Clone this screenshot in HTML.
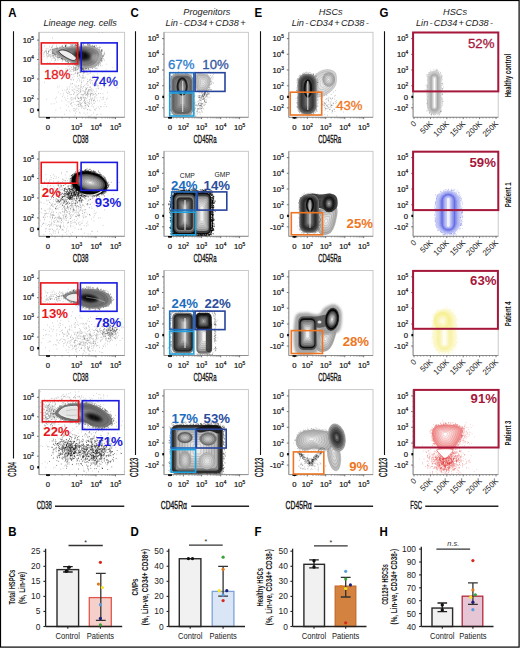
<!DOCTYPE html>
<html><head><meta charset="utf-8"><style>
html,body{margin:0;padding:0;background:#fff;overflow:hidden;}
svg{display:block;font-family:"Liberation Sans", sans-serif;}
</style></head><body>
<svg width="520" height="648" viewBox="0 0 520 648">
<defs><filter id="fb3" x="-20%" y="-20%" width="140%" height="140%"><feGaussianBlur stdDeviation="0.3"/></filter><filter id="fb5" x="-20%" y="-20%" width="140%" height="140%"><feGaussianBlur stdDeviation="0.5"/></filter><filter id="fb8" x="-20%" y="-20%" width="140%" height="140%"><feGaussianBlur stdDeviation="0.8"/></filter><filter id="fb12" x="-20%" y="-20%" width="140%" height="140%"><feGaussianBlur stdDeviation="1.2"/></filter><filter id="fb20" x="-20%" y="-20%" width="140%" height="140%"><feGaussianBlur stdDeviation="2.0"/></filter><filter id="fb30" x="-20%" y="-20%" width="140%" height="140%"><feGaussianBlur stdDeviation="3.0"/></filter><clipPath id="cA0"><rect x="39.0" y="32.3" width="85.6" height="85.0"/></clipPath><clipPath id="cA1"><rect x="39.0" y="151.3" width="85.6" height="85.0"/></clipPath><clipPath id="cA2"><rect x="39.0" y="270.5" width="85.6" height="85.0"/></clipPath><clipPath id="cA3"><rect x="39.0" y="389.6" width="85.6" height="85.0"/></clipPath><clipPath id="cC0"><rect x="164.0" y="32.3" width="84.4" height="85.0"/></clipPath><clipPath id="cC1"><rect x="164.0" y="151.3" width="84.4" height="85.0"/></clipPath><clipPath id="cC2"><rect x="164.0" y="270.5" width="84.4" height="85.0"/></clipPath><clipPath id="cC3"><rect x="164.0" y="389.6" width="84.4" height="85.0"/></clipPath><clipPath id="cE0"><rect x="288.8" y="32.3" width="84.19999999999999" height="85.0"/></clipPath><clipPath id="cE1"><rect x="288.8" y="151.3" width="84.19999999999999" height="85.0"/></clipPath><clipPath id="cE2"><rect x="288.8" y="270.5" width="84.19999999999999" height="85.0"/></clipPath><clipPath id="cE3"><rect x="288.8" y="389.6" width="84.19999999999999" height="85.0"/></clipPath><clipPath id="cG0"><rect x="413.1" y="32.3" width="85.09999999999997" height="85.0"/></clipPath><clipPath id="cG1"><rect x="413.1" y="151.3" width="85.09999999999997" height="85.0"/></clipPath><clipPath id="cG2"><rect x="413.1" y="270.5" width="85.09999999999997" height="85.0"/></clipPath><clipPath id="cG3"><rect x="413.1" y="389.6" width="85.09999999999997" height="85.0"/></clipPath></defs>
<rect x="0.5" y="0.5" width="518.6" height="646.6" fill="none" stroke="#000" stroke-width="1.2"/>
<g transform="translate(8.20,16.60) scale(0.94,1)"><text x="0" y="0" font-size="12.2" text-anchor="start" font-weight="bold" font-style="normal" fill="#000" >A</text></g>
<g transform="translate(130.40,16.60) scale(0.94,1)"><text x="0" y="0" font-size="12.2" text-anchor="start" font-weight="bold" font-style="normal" fill="#000" >C</text></g>
<g transform="translate(254.60,16.60) scale(0.94,1)"><text x="0" y="0" font-size="12.2" text-anchor="start" font-weight="bold" font-style="normal" fill="#000" >E</text></g>
<g transform="translate(379.60,16.60) scale(0.94,1)"><text x="0" y="0" font-size="12.2" text-anchor="start" font-weight="bold" font-style="normal" fill="#000" >G</text></g>
<g transform="translate(8.20,536.40) scale(0.94,1)"><text x="0" y="0" font-size="12.2" text-anchor="start" font-weight="bold" font-style="normal" fill="#000" >B</text></g>
<g transform="translate(130.40,536.40) scale(0.94,1)"><text x="0" y="0" font-size="12.2" text-anchor="start" font-weight="bold" font-style="normal" fill="#000" >D</text></g>
<g transform="translate(254.60,536.40) scale(0.94,1)"><text x="0" y="0" font-size="12.2" text-anchor="start" font-weight="bold" font-style="normal" fill="#000" >F</text></g>
<g transform="translate(379.60,536.40) scale(0.94,1)"><text x="0" y="0" font-size="12.2" text-anchor="start" font-weight="bold" font-style="normal" fill="#000" >H</text></g>
<g transform="translate(80.20,26.30)"><text x="0" y="0" font-size="9.1" text-anchor="middle" font-weight="normal" font-style="italic" fill="#222" >Lineage neg. cells</text></g>
<g transform="translate(206.80,14.80)"><text x="0" y="0" font-size="9.2" text-anchor="middle" font-weight="normal" font-style="italic" fill="#222" >Progenitors</text></g>
<g transform="translate(205.60,25.90)"><text x="0" y="0" font-size="9.2" text-anchor="middle" font-weight="normal" font-style="italic" fill="#222" >Lin<tspan dx="1.4">-</tspan><tspan dx="1.4">CD34</tspan><tspan dx="1.4">+</tspan><tspan dx="1.4">CD38</tspan><tspan dx="1.4">+</tspan></text></g>
<g transform="translate(330.70,14.80)"><text x="0" y="0" font-size="9.2" text-anchor="middle" font-weight="normal" font-style="italic" fill="#222" >HSCs</text></g>
<g transform="translate(330.20,25.90)"><text x="0" y="0" font-size="9.2" text-anchor="middle" font-weight="normal" font-style="italic" fill="#222" >Lin<tspan dx="1.25">-</tspan><tspan dx="1.25">CD34</tspan><tspan dx="1.25">+</tspan><tspan dx="1.25">CD38</tspan><tspan dx="1.25">-</tspan></text></g>
<g transform="translate(455.00,14.80)"><text x="0" y="0" font-size="9.2" text-anchor="middle" font-weight="normal" font-style="italic" fill="#222" >HSCs</text></g>
<g transform="translate(454.50,25.90)"><text x="0" y="0" font-size="9.2" text-anchor="middle" font-weight="normal" font-style="italic" fill="#222" >Lin<tspan dx="1.25">-</tspan><tspan dx="1.25">CD34</tspan><tspan dx="1.25">+</tspan><tspan dx="1.25">CD38</tspan><tspan dx="1.25">-</tspan></text></g>
<rect x="39.00" y="32.30" width="85.60" height="85.00" fill="#fff" stroke="#c4c4c4" stroke-width="0.9"/>
<g clip-path="url(#cA0)">
<path d="M58.5 92.1h.6M90.1 83.6h.6M61.5 78.3h.6M88.8 93.9h.6M84.9 97.9h.6M84.7 105.3h.6M83.2 97.6h.6M67.6 77.6h.6M75.2 86.9h.6M71.9 90.5h.6M80.4 68.1h.6M89.1 101.5h.6M95.5 120.3h.6M75.4 113.2h.6M84.4 91.3h.6M87.5 113.0h.6M73.7 89.0h.6M69.2 86.8h.6M81.7 91.0h.6M81.1 82.7h.6M97.1 100.2h.6M75.8 85.7h.6M100.3 97.7h.6M98.1 88.4h.6M79.8 113.2h.6M77.4 97.3h.6M87.3 102.3h.6M88.8 103.1h.6M76.4 105.4h.6M96.6 85.3h.6M82.7 94.4h.6M78.1 98.6h.6M78.5 106.5h.6M85.9 89.1h.6M100.7 114.1h.6M84.8 92.5h.6M106.4 106.5h.6M91.2 100.4h.6M90.6 93.4h.6M90.2 98.9h.6M77.0 75.6h.6M65.9 90.7h.6M80.0 106.2h.6M81.9 102.6h.6M92.5 84.1h.6M84.6 103.1h.6M90.1 110.3h.6M86.5 68.9h.6M71.9 87.2h.6M90.5 86.9h.6M87.3 83.2h.6M87.7 96.1h.6M98.1 85.6h.6M81.4 105.4h.6M85.2 103.6h.6M81.0 94.6h.6M84.3 93.8h.6M94.4 109.8h.6M83.8 113.0h.6M84.8 92.1h.6M83.8 100.7h.6M77.7 101.6h.6M106.3 99.1h.6M87.5 93.1h.6M70.3 98.1h.6M95.8 95.5h.6M97.9 107.0h.6M80.1 90.1h.6M77.8 98.3h.6M89.0 109.7h.6M82.0 106.0h.6M91.8 80.5h.6M73.6 98.8h.6M89.8 82.5h.6M79.5 100.6h.6M64.2 114.3h.6M77.1 94.6h.6M80.0 104.6h.6M87.3 93.0h.6M87.7 91.5h.6M69.1 92.3h.6M100.6 106.7h.6M77.2 101.3h.6M89.1 99.7h.6M84.2 99.1h.6M79.0 79.9h.6M91.1 90.4h.6M91.0 100.0h.6M78.5 105.0h.6M89.9 95.8h.6M92.5 76.4h.6M94.0 100.0h.6M97.1 114.4h.6M68.8 92.9h.6M80.5 105.3h.6M86.1 89.0h.6M78.2 86.1h.6M80.2 97.3h.6M90.5 97.7h.6M93.2 106.9h.6M82.8 98.3h.6M87.1 97.1h.6M89.2 116.5h.6M91.0 99.0h.6M85.8 103.3h.6M91.7 93.6h.6M55.6 110.1h.6M93.8 77.5h.6M87.3 93.1h.6M80.8 84.4h.6M74.0 85.1h.6M81.7 107.2h.6M75.9 101.4h.6M89.2 89.6h.6M88.6 90.7h.6M73.0 91.1h.6M86.5 94.5h.6M82.1 94.9h.6M84.0 100.4h.6M80.9 100.1h.6M73.7 97.8h.6M107.3 81.3h.6M80.9 98.2h.6M89.6 79.8h.6M85.9 88.6h.6M88.3 106.2h.6M89.8 96.3h.6M67.5 124.6h.6M67.7 93.5h.6M75.3 98.3h.6M92.4 91.2h.6M87.9 116.1h.6M90.8 91.6h.6M93.4 84.8h.6M90.3 94.9h.6M86.7 93.7h.6M81.5 108.2h.6M104.7 102.6h.6M76.5 92.2h.6M96.3 82.0h.6M92.6 95.6h.6M87.8 94.4h.6M70.7 84.9h.6M95.0 101.6h.6M83.7 106.9h.6M70.1 104.3h.6M85.3 106.0h.6M79.0 74.9h.6M82.9 95.7h.6M80.7 87.4h.6M83.4 94.5h.6M80.1 100.5h.6M92.5 78.1h.6M93.3 90.1h.6M77.9 88.7h.6M87.5 92.9h.6M79.6 88.5h.6M85.0 97.6h.6M87.1 109.5h.6M100.0 85.0h.6M88.0 93.2h.6M93.5 100.9h.6M85.7 89.7h.6M96.4 91.0h.6M73.2 102.3h.6M78.5 98.4h.6M87.5 91.4h.6M80.0 89.3h.6M88.0 85.2h.6M80.3 91.7h.6M79.5 104.0h.6M93.9 98.2h.6M91.0 93.2h.6M85.0 101.5h.6M86.7 100.3h.6M97.8 88.1h.6M80.6 87.2h.6M90.4 117.1h.6M68.4 91.5h.6M84.2 108.9h.6M62.8 95.0h.6M78.8 106.5h.6M71.5 97.4h.6M76.7 88.1h.6M83.5 78.2h.6M94.8 96.8h.6M85.8 94.6h.6M79.7 98.7h.6M74.2 92.9h.6M87.2 79.2h.6M89.0 104.2h.6M86.1 83.7h.6M96.1 114.8h.6M103.7 78.6h.6M94.1 71.3h.6M77.4 94.6h.6M88.2 106.5h.6M91.6 94.0h.6M71.0 103.4h.6M89.7 80.0h.6M102.7 93.7h.6M84.5 120.3h.6M94.0 117.1h.6M84.0 97.8h.6M78.1 101.4h.6M76.6 108.2h.6M93.2 100.2h.6M81.9 78.0h.6M89.4 80.1h.6M85.3 95.3h.6M95.0 93.8h.6M80.2 104.2h.6M81.5 78.0h.6M90.2 79.3h.6M92.0 83.0h.6M99.2 101.0h.6M103.1 97.2h.6M86.4 98.4h.6M86.7 104.7h.6M92.6 93.1h.6M78.2 93.9h.6M78.3 91.5h.6M62.0 90.4h.6M71.8 106.2h.6M102.7 83.8h.6M89.0 87.4h.6M76.7 86.8h.6M86.1 118.2h.6M86.8 105.0h.6M75.7 109.1h.6M85.3 105.5h.6M95.3 110.0h.6M90.9 103.6h.6M93.6 94.5h.6M93.2 113.1h.6M91.0 102.0h.6M84.5 71.6h.6M93.8 103.5h.6M96.2 83.9h.6M71.2 100.1h.6M90.3 94.9h.6M88.9 103.2h.6M94.6 79.7h.6M87.5 87.5h.6M80.0 98.2h.6M81.2 99.0h.6M77.5 76.5h.6M71.9 83.5h.6M81.8 96.2h.6M71.9 77.8h.6M66.3 110.2h.6M90.2 94.4h.6M90.3 89.4h.6M91.7 89.1h.6M86.2 88.1h.6M69.6 111.0h.6M83.2 80.8h.6M81.3 97.8h.6M87.4 85.4h.6M79.5 76.0h.6M90.2 93.2h.6M78.1 85.5h.6M77.1 96.0h.6M88.5 89.9h.6M98.0 93.7h.6M86.5 95.2h.6M67.7 102.0h.6M79.3 112.3h.6M78.1 104.1h.6M77.2 80.2h.6M82.2 88.4h.6M67.4 93.1h.6M106.9 98.2h.6M85.3 65.7h.6M80.3 85.9h.6M84.2 78.0h.6M83.1 101.1h.6M84.6 102.1h.6M87.3 81.5h.6M81.0 103.5h.6M84.1 85.6h.6M85.6 91.6h.6M81.2 86.2h.6M75.5 98.0h.6M77.6 104.7h.6M77.0 90.6h.6M93.7 102.9h.6M95.8 84.9h.6M82.3 75.7h.6M102.5 97.7h.6M71.7 98.0h.6M83.2 91.0h.6M83.5 97.2h.6M77.9 89.8h.6M94.5 91.8h.6M102.2 71.9h.6M94.3 100.0h.6M75.6 96.7h.6M78.5 98.0h.6M78.6 78.5h.6M67.3 89.1h.6M73.2 108.7h.6M73.6 110.3h.6M101.7 99.8h.6M103.0 99.1h.6M79.8 102.5h.6M66.7 89.2h.6M90.4 87.2h.6M79.8 90.2h.6M80.5 92.3h.6M84.5 100.1h.6M80.7 94.3h.6M88.8 91.0h.6M70.4 83.7h.6M87.6 81.9h.6M78.7 101.7h.6M94.7 108.8h.6M87.5 94.6h.6M83.4 86.6h.6M85.1 89.6h.6M67.5 98.6h.6M89.1 99.8h.6M68.4 106.6h.6M83.1 77.8h.6M92.0 98.7h.6M90.1 90.1h.6M103.7 106.7h.6M91.6 106.2h.6M71.6 102.7h.6M84.8 93.2h.6" fill="none" stroke="#111" stroke-opacity="0.5" stroke-width="0.6"/>
<path d="M85.0 87.7h.6M88.7 91.1h.6M77.8 104.8h.6M52.4 45.6h.6M90.5 77.2h.6M84.6 65.9h.6M99.1 108.8h.6M71.1 79.9h.6M94.1 84.2h.6M96.9 73.8h.6M104.7 104.5h.6M73.2 94.4h.6M90.1 63.1h.6M96.5 84.0h.6M88.4 106.0h.6M64.4 74.0h.6M88.5 90.1h.6M74.1 60.7h.6M100.7 106.6h.6M70.0 79.7h.6M81.3 81.9h.6M105.7 70.0h.6M46.0 99.2h.6M88.2 102.8h.6M73.8 111.0h.6M84.7 103.6h.6M75.2 99.2h.6M78.9 102.8h.6M80.0 97.3h.6M55.2 98.7h.6M81.3 67.7h.6M97.0 80.3h.6M67.4 69.1h.6M92.4 104.7h.6M70.0 70.7h.6M71.7 59.6h.6M87.3 95.5h.6M73.2 79.9h.6M92.4 78.1h.6M85.8 68.6h.6M69.5 94.6h.6M61.6 100.8h.6M87.9 81.1h.6M81.5 82.3h.6M66.8 87.1h.6M84.2 102.6h.6M70.5 75.1h.6M82.6 77.1h.6M77.8 61.8h.6M78.8 117.2h.6M104.1 80.4h.6M90.8 115.0h.6M83.0 64.6h.6M82.7 75.1h.6M56.4 97.2h.6M94.1 84.0h.6M104.5 54.4h.6M75.8 111.3h.6M91.1 80.8h.6M89.7 73.5h.6M79.4 81.1h.6M72.9 79.7h.6M64.5 97.3h.6M84.8 99.0h.6M66.0 75.6h.6M104.5 80.5h.6M116.6 87.9h.6M92.8 94.0h.6M102.4 50.8h.6M65.9 105.1h.6M98.6 32.4h.6M93.4 100.4h.6M106.3 64.2h.6M96.5 97.9h.6M48.6 79.5h.6M56.5 102.1h.6M69.5 101.8h.6M95.8 88.4h.6M102.3 32.3h.6M64.6 90.0h.6M76.2 95.3h.6M78.7 51.5h.6M71.8 89.5h.6M109.7 75.8h.6M75.3 125.4h.6M94.6 97.2h.6M107.0 92.7h.6M87.6 105.1h.6M74.7 89.4h.6M80.5 58.0h.6M76.5 90.5h.6M75.3 109.8h.6M62.1 96.6h.6M58.9 59.2h.6M80.2 91.6h.6M57.6 78.6h.6M59.9 108.0h.6M116.8 87.8h.6M82.8 70.4h.6M70.7 99.9h.6M74.0 108.6h.6M54.1 62.1h.6M95.0 48.4h.6M81.2 99.5h.6M95.2 93.4h.6M64.7 52.3h.6M61.2 50.0h.6M50.9 103.9h.6M66.6 73.4h.6M86.7 62.3h.6M74.6 104.6h.6M83.2 108.5h.6M78.3 73.7h.6M104.0 87.1h.6M95.7 48.4h.6M76.8 59.5h.6M58.8 86.3h.6M80.8 80.3h.6M74.6 115.7h.6M67.4 54.8h.6M63.0 93.2h.6M100.5 93.5h.6M99.6 121.8h.6M60.5 93.9h.6M82.6 90.4h.6M97.4 85.2h.6M91.9 98.0h.6M97.4 76.3h.6M72.1 83.8h.6M93.7 94.4h.6M66.0 92.3h.6M73.8 76.6h.6M93.9 67.9h.6M71.5 105.1h.6M98.5 93.3h.6M103.3 78.3h.6M44.0 82.4h.6M103.9 121.9h.6M57.3 73.2h.6M83.6 64.8h.6M57.7 67.3h.6M97.6 86.4h.6M82.8 87.1h.6M75.6 52.0h.6M83.9 93.3h.6M82.3 46.7h.6M76.5 50.4h.6M74.1 92.0h.6M77.4 72.3h.6M81.3 106.5h.6M83.4 75.9h.6M78.6 93.4h.6M85.4 102.8h.6M88.5 89.6h.6M96.3 108.2h.6M76.9 73.6h.6M78.3 109.3h.6M70.3 103.6h.6M97.2 52.4h.6M53.8 103.7h.6M87.2 109.8h.6M85.3 93.6h.6M85.6 114.4h.6M69.1 89.1h.6M73.7 60.7h.6M125.2 113.0h.6M70.8 94.4h.6M68.5 72.9h.6M65.8 100.3h.6M67.1 96.0h.6M83.0 137.5h.6M70.7 94.6h.6M79.0 92.2h.6M85.2 90.9h.6M85.7 84.4h.6M85.7 72.4h.6M85.7 107.3h.6M80.6 103.7h.6M76.2 82.0h.6M67.3 74.2h.6M81.5 97.5h.6M85.5 108.4h.6M115.7 71.8h.6M90.5 81.4h.6M86.6 63.8h.6M88.2 74.2h.6M72.5 99.7h.6M91.3 88.8h.6M112.6 67.6h.6M96.0 94.6h.6M101.4 88.9h.6M92.9 75.1h.6M82.0 77.8h.6M83.7 73.1h.6M57.4 87.1h.6M65.3 99.1h.6M94.8 61.2h.6M84.5 127.4h.6M101.7 65.7h.6M73.5 93.8h.6" fill="none" stroke="#111" stroke-opacity="0.45" stroke-width="0.6"/>
<path d="M79.1 67.7h.6M74.5 73.9h.6M65.3 70.2h.6M86.3 71.8h.6M77.8 68.1h.6M88.1 69.8h.6M70.8 71.4h.6M80.6 72.4h.6M82.9 66.5h.6M78.8 69.8h.6M79.1 66.8h.6M87.0 67.3h.6M82.9 72.2h.6M88.7 67.6h.6M70.7 79.1h.6M73.7 68.3h.6M66.8 72.9h.6M89.2 69.8h.6M73.1 74.7h.6M76.2 66.3h.6M80.0 71.4h.6M69.6 68.4h.6M80.2 64.7h.6M81.2 68.1h.6M67.7 66.0h.6M84.0 72.5h.6M73.6 67.8h.6M94.0 76.0h.6M72.3 69.6h.6M69.9 62.0h.6M89.8 67.8h.6M75.5 68.1h.6M72.9 61.5h.6M82.6 68.7h.6M80.7 67.7h.6M73.1 66.3h.6M76.6 69.7h.6M82.8 73.3h.6M81.7 70.0h.6M79.4 71.0h.6M85.2 64.6h.6M78.2 66.8h.6M87.2 67.5h.6M71.2 67.6h.6M82.2 68.7h.6M84.1 61.5h.6M81.2 61.9h.6M80.4 69.1h.6M78.5 72.5h.6M79.8 72.4h.6M78.5 61.8h.6M80.0 67.3h.6M77.0 69.6h.6M85.1 69.5h.6M87.7 65.9h.6M89.6 61.3h.6M97.8 60.6h.6M69.1 65.2h.6M81.1 68.4h.6M87.8 65.5h.6M79.5 68.0h.6M75.2 69.5h.6M86.0 67.5h.6M87.3 72.7h.6M87.3 66.4h.6M85.1 67.9h.6M69.6 71.6h.6M75.5 66.8h.6M80.9 70.5h.6M74.8 67.6h.6M67.8 70.1h.6M85.6 70.8h.6M77.6 69.1h.6M78.4 65.8h.6M70.1 64.3h.6M74.6 70.4h.6M65.8 68.3h.6M72.9 71.4h.6M76.9 73.8h.6M69.3 69.6h.6M79.3 75.3h.6M73.8 68.1h.6M78.1 68.4h.6M75.3 68.5h.6M75.3 70.3h.6M68.5 66.8h.6M78.7 68.8h.6M65.4 64.5h.6M75.1 69.2h.6M79.2 65.3h.6M75.8 69.8h.6M96.2 68.0h.6M75.2 70.7h.6M83.0 69.7h.6M84.7 71.7h.6M76.6 70.8h.6M78.8 72.3h.6M87.9 68.9h.6M79.8 72.4h.6M75.0 67.9h.6M74.7 70.7h.6M97.1 68.7h.6M83.7 72.5h.6M76.7 67.8h.6M83.0 70.5h.6M82.5 65.6h.6M74.8 64.5h.6M81.2 70.1h.6M83.4 73.1h.6M75.7 69.0h.6M73.4 70.3h.6M84.7 69.5h.6M77.0 74.1h.6M84.3 67.2h.6M82.9 69.1h.6M80.2 77.0h.6M83.7 68.1h.6M70.6 66.7h.6M80.1 70.6h.6M77.3 66.6h.6M83.9 67.3h.6M71.0 74.4h.6M77.6 65.5h.6M76.9 73.0h.6M86.1 70.2h.6M79.9 70.3h.6M81.4 67.9h.6M86.8 74.3h.6M80.0 72.1h.6M73.3 69.1h.6M76.1 67.3h.6M74.2 69.2h.6M83.2 71.0h.6M73.1 69.0h.6M88.0 60.1h.6M84.4 70.1h.6M71.7 74.6h.6M73.6 70.7h.6M77.1 69.6h.6M83.6 68.7h.6M83.7 70.9h.6M85.2 66.2h.6M71.5 69.3h.6M66.1 72.7h.6M88.4 68.3h.6M83.1 68.9h.6M90.1 72.9h.6M81.3 70.8h.6M75.2 73.4h.6M82.2 69.4h.6M80.7 72.0h.6M78.4 67.4h.6M85.5 77.2h.6M77.2 64.0h.6M81.2 68.1h.6M67.5 69.9h.6M87.9 60.3h.6M75.3 72.7h.6M77.2 73.2h.6M82.5 66.0h.6" fill="none" stroke="#111" stroke-opacity="0.5" stroke-width="0.6"/>
<path d="M46.3 53.3h.6M50.1 49.3h.6M51.1 60.1h.6M48.3 53.1h.6M57.6 50.9h.6M50.7 49.6h.6M58.0 53.5h.6M55.9 52.5h.6M52.8 55.3h.6M52.5 53.7h.6M45.7 51.3h.6M53.5 50.9h.6M57.2 59.1h.6M52.9 56.2h.6M53.6 56.6h.6M53.0 49.3h.6M55.4 53.0h.6M46.1 51.9h.6M63.3 58.2h.6M43.5 53.2h.6M51.6 56.2h.6M46.8 55.9h.6M48.1 51.3h.6M54.3 48.3h.6M59.4 57.3h.6M46.9 53.7h.6M50.6 52.6h.6M49.1 49.8h.6M54.9 55.1h.6M55.2 58.9h.6M53.9 49.1h.6M47.4 63.0h.6M61.1 55.2h.6M56.3 48.4h.6M51.8 54.0h.6M56.0 46.6h.6M47.5 53.5h.6M52.3 46.4h.6M52.9 51.2h.6M49.4 51.1h.6M56.2 48.9h.6M50.4 42.8h.6M60.2 49.9h.6M51.9 54.9h.6M60.3 57.0h.6M57.9 53.7h.6M54.6 57.8h.6M55.3 60.3h.6M57.3 50.3h.6M52.2 50.1h.6M49.8 62.2h.6M46.3 54.4h.6M48.0 54.6h.6M60.8 51.0h.6M57.7 60.5h.6M52.8 55.5h.6M49.7 54.8h.6M56.2 53.3h.6M53.0 49.8h.6M51.0 47.7h.6M60.1 50.8h.6M48.1 51.2h.6M53.8 55.2h.6M53.4 43.9h.6M54.1 49.2h.6M45.8 48.4h.6M53.2 54.1h.6M56.0 56.4h.6M53.4 51.0h.6M45.5 51.0h.6M52.8 53.5h.6M52.3 49.4h.6M47.5 56.6h.6M60.2 59.1h.6M57.0 57.9h.6M52.8 52.6h.6M54.2 54.7h.6M44.1 45.9h.6M46.2 52.3h.6M49.1 46.9h.6M46.8 57.9h.6M53.2 57.5h.6M48.4 52.6h.6M55.1 54.5h.6M57.5 57.5h.6M50.1 56.6h.6M43.6 54.5h.6M55.5 59.7h.6M50.0 50.3h.6M54.5 60.4h.6M59.9 49.2h.6M53.8 58.5h.6M58.1 52.8h.6M50.7 55.3h.6M45.6 50.9h.6M52.8 53.2h.6M49.5 55.4h.6M51.9 49.1h.6M52.1 53.0h.6M50.5 57.2h.6M53.1 55.8h.6M54.2 50.9h.6M46.5 55.8h.6M39.9 53.2h.6M51.2 47.1h.6M41.9 50.5h.6M55.4 54.7h.6M52.3 47.9h.6M56.5 51.6h.6M55.8 53.0h.6M56.0 57.1h.6M52.4 38.0h.6M46.0 50.2h.6M43.8 56.2h.6M54.1 58.1h.6M51.9 58.1h.6M53.4 63.4h.6M48.8 63.3h.6M53.8 54.3h.6M49.7 54.5h.6M43.9 52.3h.6M53.1 52.5h.6M56.5 47.9h.6M44.3 51.9h.6M54.2 50.2h.6M56.3 45.2h.6M47.7 48.8h.6M48.6 56.5h.6M53.9 51.7h.6M57.0 52.5h.6M48.0 55.7h.6M48.3 51.4h.6M48.4 51.3h.6M63.7 53.6h.6M54.4 52.6h.6M52.3 51.7h.6M56.6 51.4h.6M57.9 57.6h.6M51.8 53.4h.6M52.0 56.1h.6" fill="none" stroke="#111" stroke-opacity="0.55" stroke-width="0.6"/>
<path d="M101.8 58.2h.6M100.1 47.5h.6M93.4 67.0h.6M78.3 44.8h.6M99.0 48.1h.6M74.8 65.1h.6M55.1 48.8h.6M90.0 67.8h.6M66.0 44.7h.6M101.1 58.7h.6M98.6 47.7h.6M82.8 67.5h.6M52.5 52.0h.6M62.3 46.1h.6M53.6 48.7h.6M98.7 49.2h.6M101.9 57.1h.6M72.5 44.7h.6M65.4 46.9h.6M62.4 59.0h.6M56.2 49.0h.6M74.9 45.5h.6M87.1 42.7h.6M92.1 46.1h.6M57.1 48.1h.6M55.4 54.6h.6M91.7 68.4h.6M58.1 57.1h.6M89.1 45.5h.6M71.4 44.7h.6M66.5 45.8h.6M61.4 47.0h.6M78.5 44.5h.6M100.2 65.7h.6M65.5 45.7h.6M65.2 46.0h.6M102.0 56.3h.6M91.4 67.3h.6M65.8 46.9h.6M98.3 65.0h.6M71.8 44.9h.6M67.3 60.5h.6M54.7 49.9h.6M61.7 58.2h.6M58.1 58.0h.6M71.5 64.0h.6M75.6 44.6h.6M51.9 49.6h.6M76.3 65.6h.6M70.5 46.2h.6M69.8 44.4h.6M57.4 57.1h.6M88.1 43.1h.6M74.8 44.8h.6M59.4 47.2h.6M82.1 66.9h.6M55.7 48.1h.6M75.5 45.9h.6M81.8 69.3h.6M65.4 45.9h.6M87.2 44.8h.6M63.6 59.3h.6M83.1 69.0h.6M70.3 63.3h.6M88.5 43.7h.6M102.8 58.5h.6M67.3 61.0h.6M54.0 52.5h.6M65.0 60.1h.6M59.2 57.1h.6M81.3 44.2h.6M62.4 47.1h.6M59.8 47.3h.6M54.0 53.4h.6M72.0 64.8h.6M55.3 48.5h.6M97.5 64.3h.6M71.0 45.9h.6M101.1 60.7h.6M95.4 66.0h.6M102.2 50.9h.6M102.7 59.2h.6M81.6 44.8h.6M85.2 68.0h.6M93.0 46.2h.6M53.9 53.1h.6M57.6 48.2h.6M86.0 68.4h.6M95.6 68.4h.6M61.6 58.3h.6M68.1 62.3h.6M74.0 45.7h.6M75.1 64.7h.6M77.7 66.5h.6M83.8 69.1h.6M60.9 48.3h.6M70.0 45.0h.6M101.0 58.9h.6M62.8 47.3h.6M101.7 61.8h.6M74.8 44.7h.6M61.5 58.7h.6M103.1 55.9h.6M94.6 67.3h.6M101.4 58.7h.6M89.3 44.5h.6M101.9 55.9h.6M101.3 57.9h.6M95.8 45.6h.6M103.2 56.6h.6M100.6 59.7h.6M94.3 45.8h.6M98.9 62.7h.6M60.6 57.3h.6M61.6 58.5h.6M91.5 66.8h.6M101.2 50.1h.6M61.7 59.6h.6M101.1 50.1h.6M76.0 45.9h.6M97.5 47.5h.6M61.8 61.4h.6M71.6 46.2h.6M100.3 62.9h.6M70.7 61.7h.6M104.1 53.6h.6M74.9 45.4h.6M80.1 68.3h.6M72.6 45.4h.6M97.7 65.7h.6M81.6 44.2h.6M101.2 51.2h.6M78.4 42.7h.6M52.1 52.7h.6M74.3 63.9h.6M52.2 53.0h.6M54.3 52.7h.6M61.2 46.9h.6M60.8 58.5h.6M88.5 45.8h.6M100.5 60.0h.6M68.4 61.7h.6M101.4 50.0h.6M56.2 49.6h.6M84.6 43.6h.6M90.1 45.4h.6M53.2 53.1h.6M54.7 53.3h.6M77.6 44.2h.6M82.5 67.7h.6M57.3 48.3h.6M103.8 53.2h.6M76.6 68.1h.6M55.1 56.4h.6M83.5 69.8h.6M85.2 68.1h.6M101.5 53.6h.6M75.7 65.4h.6M94.6 46.0h.6M92.2 68.2h.6M54.7 50.2h.6M96.0 65.1h.6M74.0 64.2h.6M85.1 68.4h.6M63.2 47.9h.6M96.4 64.9h.6M98.4 63.7h.6M68.2 43.5h.6M62.5 59.6h.6M83.3 68.1h.6M92.3 45.2h.6M54.6 54.2h.6M67.0 62.1h.6M99.9 64.0h.6M101.6 55.9h.6M81.2 44.1h.6M82.4 69.2h.6M65.6 45.6h.6M72.4 45.8h.6M81.6 43.5h.6M101.4 50.8h.6M94.8 66.4h.6M65.0 47.0h.6M79.9 43.8h.6M65.2 47.1h.6M68.2 62.3h.6M73.9 65.1h.6M88.5 69.1h.6M90.7 47.0h.6M64.8 46.5h.6M80.8 68.5h.6M65.2 46.2h.6M100.4 59.8h.6M95.6 68.0h.6M64.9 60.2h.6M101.4 59.9h.6M51.4 51.1h.6M100.5 60.4h.6M94.4 46.5h.6M99.7 62.2h.6M99.4 62.3h.6M54.5 54.8h.6M64.8 45.6h.6M65.3 46.0h.6M64.0 59.2h.6M102.3 57.2h.6M87.7 68.9h.6M71.9 63.4h.6M92.5 47.0h.6M65.1 61.6h.6M61.0 58.1h.6M52.1 51.3h.6M59.4 56.9h.6M98.9 64.0h.6M99.0 49.7h.6M102.3 55.9h.6M96.8 65.9h.6M93.6 67.3h.6M101.9 49.4h.6M76.5 45.9h.6M80.0 68.8h.6M90.2 70.2h.6M92.9 46.7h.6M66.0 59.5h.6M104.1 52.0h.6M72.3 63.8h.6M86.7 68.9h.6M62.7 59.6h.6M82.6 67.5h.6M76.4 45.4h.6M67.8 62.7h.6M69.8 46.7h.6M83.1 44.8h.6M84.0 68.1h.6M52.9 50.4h.6M100.6 61.3h.6M57.7 47.9h.6M88.6 45.0h.6M71.1 62.2h.6M92.2 46.3h.6M62.6 60.5h.6M96.4 64.8h.6M87.8 68.8h.6M91.1 46.4h.6M59.0 56.7h.6M103.7 54.7h.6M61.9 59.1h.6M87.5 43.9h.6M100.9 60.9h.6M104.3 60.2h.6M91.7 46.0h.6M61.3 58.3h.6M65.8 60.2h.6M86.9 44.5h.6M63.3 47.5h.6M65.7 59.7h.6M102.0 60.2h.6M67.0 60.5h.6M89.8 44.7h.6M62.3 46.8h.6M67.4 61.3h.6M59.3 48.7h.6M81.9 68.8h.6M65.2 59.7h.6M66.4 61.6h.6M80.0 67.4h.6M73.1 66.9h.6M73.4 44.3h.6M52.6 50.1h.6M77.8 46.0h.6M101.7 51.8h.6M96.0 46.0h.6M59.8 48.0h.6M98.6 63.9h.6M87.9 44.7h.6M71.8 46.3h.6M92.4 67.9h.6M54.1 53.2h.6M90.3 46.4h.6M101.0 52.0h.6M53.8 53.2h.6M58.7 48.3h.6M82.1 68.9h.6M89.4 45.0h.6M55.3 55.9h.6M94.6 66.0h.6M94.3 46.5h.6M64.2 59.5h.6M57.3 55.9h.6M93.6 46.7h.6M53.3 52.9h.6M82.2 68.8h.6M101.6 61.0h.6M59.9 47.3h.6M62.8 58.5h.6M64.8 44.5h.6M98.4 65.9h.6M97.8 63.9h.6M81.8 68.2h.6M62.5 58.6h.6M57.2 56.1h.6M58.8 57.6h.6M102.8 55.0h.6M66.6 61.7h.6M83.5 45.2h.6M94.3 46.4h.6M62.0 45.7h.6M82.7 45.2h.6M74.8 44.0h.6M85.9 68.3h.6M75.8 45.0h.6M83.3 43.8h.6M99.0 46.9h.6M76.4 45.2h.6M87.7 45.3h.6M74.6 67.7h.6M103.5 55.6h.6M101.2 54.0h.6M64.8 60.7h.6M100.8 50.0h.6" fill="none" stroke="#111" stroke-opacity="0.65" stroke-width="0.6"/>
<g stroke="#000" stroke-opacity="0.3" stroke-width="0.35" filter="url(#fb5)">
<path d="M52.3 51.0C52.3 49.9 54.7 49.7 57.0 49.0C59.3 48.3 62.8 47.5 66.0 47.0C69.2 46.5 72.3 46.2 76.0 46.0C79.7 45.8 84.7 45.5 88.0 45.8C91.3 46.0 93.9 46.6 96.0 47.5C98.1 48.4 99.9 49.9 100.8 51.3C101.7 52.7 101.8 54.2 101.6 56.0C101.4 57.8 100.8 60.2 99.5 62.0C98.2 63.8 96.2 65.5 94.0 66.5C91.8 67.5 88.5 68.0 86.0 68.0C83.5 68.0 81.3 67.3 79.0 66.5C76.7 65.7 74.5 64.2 72.0 63.0C69.5 61.8 66.5 60.2 64.0 59.0C61.5 57.8 59.0 56.8 57.0 55.5C55.0 54.2 52.3 52.1 52.3 51.0Z" fill="#aaaaaa"/>
<path d="M56.2 51.7C56.2 50.8 58.3 50.6 60.3 50.0C62.2 49.4 65.3 48.7 68.0 48.3C70.7 47.8 73.4 47.6 76.6 47.4C79.7 47.2 84.0 47.0 86.9 47.2C89.7 47.5 91.9 47.9 93.7 48.7C95.6 49.5 97.1 50.7 97.9 52.0C98.7 53.2 98.7 54.5 98.5 56.0C98.4 57.5 97.8 59.6 96.7 61.1C95.7 62.7 93.9 64.2 92.0 65.0C90.1 65.9 87.3 66.3 85.2 66.3C83.0 66.3 81.1 65.7 79.1 65.0C77.1 64.3 75.3 63.1 73.1 62.0C71.0 60.9 68.4 59.6 66.3 58.6C64.1 57.5 61.9 56.7 60.3 55.6C58.6 54.4 56.2 52.6 56.2 51.7Z" fill="#888888"/>
<path d="M60.1 52.4C60.1 51.6 61.9 51.5 63.5 51.0C65.2 50.5 67.7 49.9 70.0 49.5C72.2 49.2 74.5 49.0 77.1 48.8C79.8 48.7 83.3 48.5 85.7 48.7C88.1 48.9 89.9 49.3 91.5 49.9C93.0 50.6 94.2 51.6 94.9 52.6C95.6 53.6 95.6 54.7 95.5 56.0C95.3 57.3 94.9 59.0 94.0 60.3C93.1 61.6 91.6 62.8 90.0 63.5C88.4 64.2 86.1 64.6 84.3 64.6C82.5 64.6 81.0 64.1 79.3 63.5C77.6 62.9 76.1 61.9 74.3 61.0C72.5 60.1 70.3 59.0 68.5 58.1C66.7 57.3 64.9 56.6 63.5 55.6C62.1 54.7 60.1 53.2 60.1 52.4Z" fill="#7c7c7c"/>
<path d="M64.1 53.1C64.1 52.5 65.5 52.4 66.8 52.0C68.1 51.6 70.1 51.1 72.0 50.8C73.8 50.5 75.6 50.4 77.7 50.2C79.8 50.1 82.7 50.0 84.6 50.1C86.5 50.3 88.0 50.6 89.2 51.1C90.4 51.6 91.4 52.5 92.0 53.3C92.5 54.1 92.5 55.0 92.4 56.0C92.3 57.0 91.9 58.4 91.2 59.5C90.5 60.5 89.3 61.5 88.0 62.0C86.8 62.6 84.9 62.9 83.5 62.9C82.0 62.9 80.8 62.5 79.4 62.0C78.1 61.6 76.8 60.7 75.4 60.0C74.0 59.3 72.2 58.4 70.8 57.7C69.4 57.0 67.9 56.5 66.8 55.7C65.7 54.9 64.1 53.7 64.1 53.1Z" fill="#858585"/>
<path d="M68.0 53.8C68.0 53.4 69.0 53.3 70.0 53.0C71.0 52.7 72.6 52.3 73.9 52.1C75.3 51.9 76.7 51.8 78.3 51.7C79.9 51.6 82.0 51.5 83.5 51.6C84.9 51.7 86.0 51.9 86.9 52.3C87.9 52.7 88.6 53.3 89.0 54.0C89.4 54.6 89.5 55.2 89.4 56.0C89.3 56.8 89.0 57.8 88.5 58.6C87.9 59.4 87.0 60.1 86.1 60.5C85.1 61.0 83.7 61.2 82.6 61.2C81.5 61.2 80.6 60.9 79.6 60.5C78.6 60.2 77.6 59.6 76.5 59.0C75.5 58.5 74.1 57.8 73.1 57.3C72.0 56.8 70.9 56.4 70.0 55.8C69.2 55.2 68.0 54.3 68.0 53.8Z" fill="#8e8e8e"/>
<path d="M71.9 54.5C71.9 54.2 72.6 54.2 73.3 54.0C74.0 53.8 75.0 53.5 75.9 53.4C76.8 53.2 77.8 53.1 78.8 53.1C79.9 53.0 81.4 53.0 82.3 53.0C83.3 53.1 84.0 53.3 84.7 53.5C85.3 53.8 85.8 54.2 86.1 54.6C86.3 55.0 86.4 55.5 86.3 56.0C86.2 56.5 86.1 57.2 85.7 57.8C85.3 58.3 84.7 58.8 84.1 59.1C83.4 59.4 82.5 59.5 81.8 59.5C81.0 59.5 80.4 59.3 79.7 59.1C79.0 58.8 78.4 58.4 77.7 58.0C76.9 57.7 76.1 57.2 75.3 56.9C74.6 56.5 73.9 56.2 73.3 55.9C72.7 55.5 71.9 54.9 71.9 54.5Z" fill="#979797"/>
<path d="M75.8 55.2C75.8 55.1 76.2 55.1 76.5 55.0C76.9 54.9 77.4 54.7 77.9 54.6C78.4 54.6 78.9 54.5 79.4 54.5C80.0 54.5 80.7 54.4 81.2 54.5C81.7 54.5 82.1 54.6 82.4 54.7C82.7 54.9 83.0 55.1 83.1 55.3C83.3 55.5 83.3 55.7 83.2 56.0C83.2 56.3 83.1 56.6 82.9 56.9C82.7 57.2 82.4 57.4 82.1 57.6C81.8 57.7 81.3 57.8 80.9 57.8C80.5 57.8 80.2 57.7 79.8 57.6C79.5 57.5 79.2 57.2 78.8 57.0C78.4 56.9 78.0 56.6 77.6 56.5C77.2 56.3 76.8 56.1 76.5 55.9C76.3 55.7 75.8 55.4 75.8 55.2Z" fill="#a0a0a0"/>
</g>
<g filter="url(#fb8)">
<ellipse cx="82.5" cy="55.5" rx="11.50" ry="7.20" transform="rotate(10 82.5 55.5)" fill="#777777"/>
<ellipse cx="82.5" cy="55.5" rx="9.87" ry="6.18" transform="rotate(10 82.5 55.5)" fill="#515151"/>
<ellipse cx="82.5" cy="55.5" rx="8.24" ry="5.16" transform="rotate(10 82.5 55.5)" fill="#303030"/>
<ellipse cx="82.5" cy="55.5" rx="6.61" ry="4.14" transform="rotate(10 82.5 55.5)" fill="#1e1e1e"/>
<ellipse cx="82.5" cy="55.5" rx="4.98" ry="3.12" transform="rotate(10 82.5 55.5)" fill="#0d0d0d"/>
<ellipse cx="82.5" cy="55.5" rx="3.35" ry="2.10" transform="rotate(10 82.5 55.5)" fill="#111111"/>
<ellipse cx="82.5" cy="55.5" rx="1.73" ry="1.08" transform="rotate(10 82.5 55.5)" fill="#1a1a1a"/>
</g>
<path d="M59.0 50.8C59.5 50.2 62.2 49.9 64.0 50.2C65.8 50.5 68.0 51.3 70.0 52.5C72.0 53.7 75.3 56.2 76.0 57.5C76.7 58.8 75.3 60.3 74.0 60.5C72.7 60.7 70.2 59.6 68.0 58.5C65.8 57.4 62.5 55.3 61.0 54.0C59.5 52.7 58.5 51.4 59.0 50.8Z" fill="#eeeeee" stroke="#000" stroke-opacity="0.75" stroke-width="0.8"/>
<ellipse cx="95" cy="57.5" rx="4" ry="3.5" fill="#bbb" opacity="0.5" filter="url(#fb12)"/>
</g>
<line x1="39.00" y1="32.30" x2="39.00" y2="117.30" stroke="#888" stroke-width="0.9"/>
<line x1="39.00" y1="117.30" x2="124.60" y2="117.30" stroke="#888" stroke-width="0.9"/>
<line x1="37.00" y1="40.10" x2="39.00" y2="40.10" stroke="#555" stroke-width="0.8"/>
<text x="34.00" y="42.80" font-size="7.7" text-anchor="end" fill="#111" stroke="#111" stroke-width="0.2">10<tspan font-size="4.77" dy="-2.93">5</tspan></text>
<line x1="37.00" y1="59.50" x2="39.00" y2="59.50" stroke="#555" stroke-width="0.8"/>
<text x="34.00" y="62.20" font-size="7.7" text-anchor="end" fill="#111" stroke="#111" stroke-width="0.2">10<tspan font-size="4.77" dy="-2.93">4</tspan></text>
<line x1="37.00" y1="79.00" x2="39.00" y2="79.00" stroke="#555" stroke-width="0.8"/>
<text x="34.00" y="81.70" font-size="7.7" text-anchor="end" fill="#111" stroke="#111" stroke-width="0.2">10<tspan font-size="4.77" dy="-2.93">3</tspan></text>
<line x1="37.00" y1="98.90" x2="39.00" y2="98.90" stroke="#555" stroke-width="0.8"/>
<text x="34.00" y="101.60" font-size="7.7" text-anchor="end" fill="#111" stroke="#111" stroke-width="0.2">10<tspan font-size="4.77" dy="-2.93">2</tspan></text>
<line x1="37.00" y1="110.00" x2="39.00" y2="110.00" stroke="#555" stroke-width="0.8"/>
<text x="34.00" y="112.70" font-size="7.7" text-anchor="end" fill="#111" stroke="#111" stroke-width="0.2">0</text>
<line x1="38.00" y1="39.30" x2="39.00" y2="39.30" stroke="#999" stroke-width="0.6"/>
<line x1="38.00" y1="44.30" x2="39.00" y2="44.30" stroke="#999" stroke-width="0.6"/>
<line x1="38.00" y1="49.30" x2="39.00" y2="49.30" stroke="#999" stroke-width="0.6"/>
<line x1="38.00" y1="54.30" x2="39.00" y2="54.30" stroke="#999" stroke-width="0.6"/>
<line x1="38.00" y1="59.30" x2="39.00" y2="59.30" stroke="#999" stroke-width="0.6"/>
<line x1="38.00" y1="64.30" x2="39.00" y2="64.30" stroke="#999" stroke-width="0.6"/>
<line x1="38.00" y1="69.30" x2="39.00" y2="69.30" stroke="#999" stroke-width="0.6"/>
<line x1="38.00" y1="74.30" x2="39.00" y2="74.30" stroke="#999" stroke-width="0.6"/>
<line x1="38.00" y1="79.30" x2="39.00" y2="79.30" stroke="#999" stroke-width="0.6"/>
<line x1="38.00" y1="84.30" x2="39.00" y2="84.30" stroke="#999" stroke-width="0.6"/>
<line x1="38.00" y1="89.30" x2="39.00" y2="89.30" stroke="#999" stroke-width="0.6"/>
<line x1="38.00" y1="94.30" x2="39.00" y2="94.30" stroke="#999" stroke-width="0.6"/>
<line x1="38.00" y1="99.30" x2="39.00" y2="99.30" stroke="#999" stroke-width="0.6"/>
<line x1="38.00" y1="104.30" x2="39.00" y2="104.30" stroke="#999" stroke-width="0.6"/>
<line x1="38.00" y1="109.30" x2="39.00" y2="109.30" stroke="#999" stroke-width="0.6"/>
<path d="M55.1 117.3v1.3M62.2 117.3v1.3M69.4 117.3v1.3M82.4 117.3v1.3M85.8 117.3v1.3M88.2 117.3v1.3M90.1 117.3v1.3M91.7 117.3v1.3M93.0 117.3v1.3M94.1 117.3v1.3M95.1 117.3v1.3M101.9 117.3v1.3M105.3 117.3v1.3M107.7 117.3v1.3M109.6 117.3v1.3M111.2 117.3v1.3M112.5 117.3v1.3M113.6 117.3v1.3M114.6 117.3v1.3" stroke="#666" stroke-width="0.5" fill="none"/>
<rect x="37.40" y="108.80" width="1.6" height="2.4" fill="#000"/>
<line x1="48.00" y1="117.30" x2="48.00" y2="119.10" stroke="#555" stroke-width="0.8"/>
<text x="48.00" y="129.60" font-size="7.7" text-anchor="middle" fill="#111" stroke="#111" stroke-width="0.2">0</text>
<line x1="76.50" y1="117.30" x2="76.50" y2="119.10" stroke="#555" stroke-width="0.8"/>
<text x="76.50" y="129.60" font-size="7.7" text-anchor="middle" fill="#111" stroke="#111" stroke-width="0.2">10<tspan font-size="4.77" dy="-2.93">3</tspan></text>
<line x1="96.00" y1="117.30" x2="96.00" y2="119.10" stroke="#555" stroke-width="0.8"/>
<text x="96.00" y="129.60" font-size="7.7" text-anchor="middle" fill="#111" stroke="#111" stroke-width="0.2">10<tspan font-size="4.77" dy="-2.93">4</tspan></text>
<line x1="115.50" y1="117.30" x2="115.50" y2="119.10" stroke="#555" stroke-width="0.8"/>
<text x="115.50" y="129.60" font-size="7.7" text-anchor="middle" fill="#111" stroke="#111" stroke-width="0.2">10<tspan font-size="4.77" dy="-2.93">5</tspan></text>
<rect x="46.00" y="117.00" width="4" height="1.6" fill="#000"/>
<g transform="translate(80.60,143.00) scale(0.558,1)"><text x="0" y="0" font-size="11.0" text-anchor="middle" font-weight="normal" font-style="normal" fill="#111"  stroke="#111" stroke-width="0.35">CD38</text></g>
<rect x="41.30" y="42.90" width="36.30" height="21.00" fill="none" stroke="#e8161b" stroke-width="1.6"/>
<rect x="81.20" y="42.90" width="36.00" height="28.50" fill="none" stroke="#1b1be0" stroke-width="1.6"/>
<text x="44.00" y="78.90" font-size="13.2" font-weight="normal" fill="#e8161b" stroke="#e8161b" stroke-width="0.3">18%</text>
<text x="91.70" y="86.40" font-size="13.2" font-weight="normal" fill="#1b1be0" stroke="#1b1be0" stroke-width="0.3">74%</text>
<rect x="39.00" y="151.30" width="85.60" height="85.00" fill="#fff" stroke="#c4c4c4" stroke-width="0.9"/>
<g clip-path="url(#cA1)">
<path d="M76.6 185.7h.8M81.6 186.6h.8M75.1 200.5h.8M73.7 192.2h.8M65.4 191.5h.8M84.7 184.0h.8M74.3 195.2h.8M79.0 185.9h.8M82.0 188.6h.8M77.5 190.8h.8M58.4 201.9h.8M80.9 200.7h.8M68.2 198.0h.8M80.3 188.2h.8M76.6 189.8h.8M67.6 193.6h.8M71.2 194.9h.8M74.9 185.6h.8M78.1 197.0h.8M69.1 199.2h.8M69.2 196.1h.8M78.7 189.8h.8M69.0 193.4h.8M83.5 196.2h.8M76.6 183.7h.8M90.8 185.1h.8M84.1 186.8h.8M79.3 195.7h.8M74.1 189.7h.8M65.9 192.8h.8M61.7 196.8h.8M74.4 199.8h.8M78.4 187.7h.8M60.9 194.7h.8M72.4 199.1h.8M74.5 196.4h.8M68.4 198.6h.8M77.5 188.4h.8M81.1 202.2h.8M59.3 202.2h.8M70.3 195.8h.8M67.0 191.2h.8M75.9 198.4h.8M84.0 195.4h.8M99.5 190.5h.8M82.5 192.7h.8M51.5 193.8h.8M77.2 195.3h.8M84.2 187.1h.8M83.7 197.3h.8M69.8 199.0h.8M85.6 184.3h.8M86.2 195.3h.8M82.6 187.5h.8M81.6 200.4h.8M76.8 185.8h.8M74.9 188.6h.8M83.6 196.2h.8M76.4 189.0h.8M82.9 187.2h.8M75.8 193.4h.8M61.8 199.8h.8M69.7 199.7h.8M90.0 199.4h.8M82.3 182.5h.8M63.6 199.1h.8M52.2 193.0h.8M68.1 195.4h.8M80.6 182.4h.8M84.5 194.7h.8M87.5 188.2h.8M92.2 187.1h.8M76.6 194.8h.8M79.9 197.4h.8M73.7 188.5h.8M59.9 201.1h.8M83.5 189.0h.8M71.9 193.0h.8M78.6 196.9h.8M60.3 194.8h.8M69.7 192.4h.8M63.5 190.7h.8M71.3 204.1h.8M90.5 182.5h.8M78.7 179.3h.8M80.7 183.4h.8M84.3 184.6h.8M80.9 196.0h.8M63.1 196.4h.8M71.9 192.3h.8M66.3 195.0h.8M82.8 186.8h.8M83.7 193.6h.8M62.0 205.4h.8M89.3 182.4h.8M83.9 190.8h.8M80.9 189.4h.8M63.9 194.0h.8M89.9 184.1h.8M71.0 185.9h.8M79.1 185.4h.8M71.9 199.1h.8M68.4 189.4h.8M73.1 188.5h.8M70.1 183.0h.8M74.1 194.8h.8M71.2 194.4h.8M81.6 190.8h.8M60.2 200.0h.8M71.0 188.8h.8M78.3 190.4h.8M78.4 190.4h.8M89.5 195.7h.8M78.8 188.5h.8M92.8 184.3h.8M91.3 185.0h.8M67.5 194.2h.8M69.6 197.1h.8M72.9 198.9h.8M67.3 194.9h.8M80.7 199.5h.8M80.4 198.5h.8M65.8 189.4h.8M84.1 195.5h.8M79.0 183.7h.8M76.3 198.9h.8M81.9 188.3h.8M73.3 186.4h.8M67.6 186.2h.8M78.5 192.8h.8M76.0 185.8h.8M71.1 193.6h.8M77.3 186.9h.8M64.3 196.4h.8M90.3 192.6h.8M63.5 200.1h.8M88.0 183.8h.8M82.1 186.9h.8M69.9 186.2h.8M81.1 195.6h.8M91.1 184.2h.8M87.0 191.7h.8M90.5 192.1h.8M78.1 196.8h.8M82.6 192.3h.8M67.1 190.3h.8M72.1 196.4h.8M80.8 193.8h.8M79.7 201.0h.8M73.0 188.2h.8M69.0 195.0h.8M51.1 205.1h.8M75.6 190.4h.8M86.4 183.7h.8M71.1 193.5h.8M73.5 193.1h.8M89.4 190.2h.8M76.5 199.1h.8M72.0 189.4h.8M83.0 192.3h.8M57.2 201.2h.8M65.8 201.3h.8M75.9 187.2h.8M72.4 189.9h.8M76.8 185.4h.8M60.8 186.1h.8M73.0 195.8h.8M76.4 189.6h.8M86.7 190.4h.8M77.3 182.3h.8M74.8 191.1h.8M55.1 208.6h.8M87.2 188.6h.8M63.3 202.0h.8M69.8 196.7h.8M98.6 186.0h.8M64.2 190.1h.8M70.8 189.6h.8M75.5 201.9h.8M82.1 188.2h.8M87.1 192.1h.8M94.8 187.7h.8M87.1 186.7h.8M78.6 200.8h.8M72.5 203.6h.8M72.8 191.2h.8M63.4 203.5h.8M68.8 189.1h.8M78.3 193.7h.8M73.2 192.3h.8M82.9 195.9h.8M73.8 191.4h.8M76.9 190.2h.8M62.0 197.3h.8M81.1 189.6h.8M86.5 187.0h.8M71.9 191.7h.8M70.1 195.1h.8M92.9 195.7h.8M77.8 195.1h.8M85.8 192.0h.8M60.8 198.9h.8M71.5 183.8h.8M63.8 188.6h.8M85.9 185.0h.8M64.3 188.6h.8M74.3 186.3h.8M72.0 197.6h.8M77.8 193.2h.8M80.5 186.2h.8M71.9 197.0h.8M70.4 191.8h.8M77.5 193.0h.8M80.9 192.1h.8M72.1 195.8h.8M69.4 194.0h.8M61.3 198.8h.8M75.1 193.3h.8M76.7 190.6h.8M70.5 193.7h.8M85.0 194.4h.8M70.1 198.1h.8M72.8 209.1h.8M70.2 189.6h.8M74.7 194.9h.8M69.3 203.2h.8M62.1 197.4h.8M93.2 190.6h.8M80.5 191.8h.8M58.2 195.8h.8M68.1 197.8h.8M77.9 185.5h.8M88.2 181.8h.8M64.9 195.7h.8M77.0 181.0h.8M87.8 191.7h.8M67.6 194.7h.8M69.7 191.6h.8M81.2 191.4h.8M79.3 187.3h.8M77.4 185.4h.8M65.6 199.8h.8M69.4 198.1h.8M69.3 199.0h.8M80.3 195.4h.8M73.5 183.1h.8M75.8 193.3h.8M64.3 189.2h.8M90.8 185.4h.8M77.3 194.5h.8M98.1 183.8h.8M71.3 198.3h.8M73.1 190.1h.8M75.7 194.9h.8M74.9 187.6h.8M81.3 190.5h.8M81.9 192.8h.8M73.1 187.4h.8M76.3 200.8h.8M73.4 194.9h.8M74.1 192.1h.8M68.4 196.3h.8M79.0 189.1h.8M77.4 187.4h.8M70.9 194.8h.8M76.3 192.2h.8M84.3 195.1h.8M68.5 192.2h.8M65.2 193.6h.8M72.3 188.1h.8M76.1 196.5h.8M89.9 190.2h.8M75.9 190.8h.8M60.7 185.7h.8M63.0 194.4h.8M78.9 198.6h.8M81.7 191.5h.8M95.3 187.9h.8M88.6 186.2h.8M68.6 193.5h.8M77.0 202.0h.8M82.3 186.3h.8M68.8 199.2h.8M80.6 192.9h.8M76.7 193.8h.8M75.6 189.7h.8M83.8 188.8h.8M87.2 188.2h.8M81.3 195.3h.8M87.1 188.8h.8M81.7 188.2h.8M63.2 196.7h.8M73.8 182.6h.8M70.4 196.4h.8M84.3 197.9h.8M81.2 187.0h.8M65.3 184.2h.8M85.0 187.8h.8M79.9 188.3h.8M75.5 188.6h.8M88.3 191.3h.8M65.8 197.2h.8M88.3 184.6h.8M71.3 187.2h.8M56.8 194.5h.8M71.5 195.9h.8M84.9 198.8h.8M73.8 194.0h.8M71.0 197.2h.8M64.5 202.5h.8M75.3 187.7h.8M69.5 198.5h.8M79.2 182.5h.8M66.6 197.1h.8M76.3 191.6h.8M53.1 197.5h.8M76.4 194.8h.8M68.2 192.1h.8M86.7 192.3h.8M68.8 197.5h.8M67.9 194.0h.8M74.4 192.8h.8M81.5 191.0h.8M77.9 191.6h.8M55.8 198.9h.8M99.5 179.7h.8M75.5 195.9h.8M74.8 194.8h.8M76.3 197.3h.8M87.8 192.5h.8M70.8 195.2h.8M62.1 196.3h.8M70.6 190.8h.8M64.7 194.0h.8M66.1 191.7h.8M67.2 206.2h.8M91.8 186.4h.8M77.4 194.1h.8M67.3 193.6h.8M79.6 183.9h.8M64.0 195.2h.8M86.4 183.7h.8M74.1 187.7h.8M64.1 193.3h.8M61.8 197.4h.8M57.8 185.5h.8M85.2 191.8h.8M64.1 201.5h.8M74.2 192.2h.8M61.6 189.7h.8M64.5 195.9h.8M73.6 194.5h.8M94.2 181.8h.8M74.5 194.6h.8M76.9 192.8h.8M77.5 190.1h.8M70.3 189.1h.8M66.4 194.2h.8M86.4 190.6h.8M79.0 189.8h.8M82.2 199.7h.8M80.9 201.3h.8M82.2 188.1h.8M84.1 185.0h.8M70.4 197.5h.8M58.0 200.7h.8M91.1 183.9h.8M88.3 180.3h.8M71.0 199.5h.8M85.6 196.8h.8M97.9 188.4h.8M82.5 189.5h.8M77.6 192.6h.8M58.1 192.7h.8M70.4 197.8h.8M58.5 197.5h.8M83.6 192.6h.8M83.4 192.1h.8M61.7 193.1h.8M71.4 197.3h.8M68.4 193.1h.8M78.3 190.4h.8M83.3 193.4h.8M58.8 201.7h.8M82.0 185.2h.8M72.1 181.2h.8M77.4 185.9h.8M82.2 196.0h.8M78.5 184.3h.8M79.3 193.7h.8M88.5 175.6h.8M68.0 198.3h.8M81.4 193.8h.8M84.4 188.5h.8M80.6 190.2h.8M91.4 190.3h.8M75.0 203.4h.8M80.0 189.5h.8M87.4 180.1h.8M65.3 204.3h.8M73.6 190.8h.8M94.0 184.1h.8M80.9 195.1h.8M74.9 205.1h.8M69.8 196.7h.8M86.0 186.9h.8M80.2 195.3h.8M74.3 192.2h.8M79.9 205.1h.8M91.5 187.3h.8M75.9 190.4h.8M83.6 190.2h.8M83.6 190.9h.8M69.4 192.2h.8M94.3 186.9h.8M66.2 201.2h.8M76.8 185.6h.8M78.6 182.9h.8M79.6 200.3h.8M73.7 186.7h.8M66.4 193.8h.8M59.3 191.6h.8M83.9 182.9h.8M84.3 191.3h.8M66.1 192.3h.8M67.9 192.7h.8M99.2 179.6h.8M74.3 193.1h.8M81.4 184.6h.8M78.9 194.1h.8M87.6 195.5h.8M70.9 189.3h.8M79.5 192.1h.8M79.1 186.3h.8M80.0 191.9h.8M95.8 190.1h.8M81.1 188.9h.8M69.1 190.6h.8M88.8 180.4h.8M63.2 185.5h.8M71.2 195.4h.8M81.5 192.4h.8M81.3 182.3h.8M89.3 188.4h.8M94.1 176.8h.8M83.7 189.3h.8M89.6 194.1h.8M78.5 200.6h.8M87.0 186.2h.8M75.1 194.5h.8M98.5 186.8h.8M78.3 193.4h.8M78.3 194.2h.8M82.6 187.0h.8M77.9 188.6h.8M75.2 191.7h.8M86.2 194.9h.8M80.4 191.3h.8M76.4 189.8h.8M74.3 198.6h.8M77.9 187.5h.8M85.2 186.2h.8M97.6 182.8h.8M72.8 190.1h.8M84.3 195.6h.8M82.5 194.8h.8M104.0 196.0h.8M81.6 191.5h.8M88.3 183.0h.8M72.5 195.3h.8M79.3 190.4h.8M80.8 194.8h.8M74.0 196.2h.8M78.2 194.4h.8M69.1 197.1h.8M82.4 185.1h.8M75.5 203.7h.8M81.3 183.2h.8M59.9 192.6h.8M78.8 191.1h.8M76.7 189.9h.8M80.1 197.6h.8M73.7 193.6h.8M74.9 195.2h.8M87.2 203.7h.8M57.0 195.8h.8M72.5 194.9h.8M65.2 188.0h.8M85.5 190.0h.8M84.2 185.3h.8M72.6 200.9h.8M69.8 181.2h.8M66.6 189.3h.8M81.0 189.1h.8M88.2 182.5h.8M72.4 188.5h.8M85.0 187.0h.8M91.8 189.5h.8M77.8 184.7h.8M79.8 195.5h.8M69.8 195.6h.8M71.3 189.6h.8M88.1 187.6h.8M66.9 202.8h.8M84.6 188.2h.8M74.4 191.9h.8M83.4 183.0h.8M78.0 193.9h.8M80.0 198.5h.8M77.9 188.5h.8M79.0 189.1h.8M66.3 203.3h.8M86.4 187.8h.8M82.3 190.7h.8M68.9 192.8h.8M84.7 187.9h.8M72.6 195.4h.8M69.1 188.5h.8M87.1 191.7h.8M75.7 183.5h.8M79.3 187.4h.8M71.5 192.9h.8M64.6 200.7h.8M76.8 196.5h.8M77.1 186.0h.8M80.8 186.4h.8M73.2 192.7h.8M87.7 186.2h.8M56.4 201.4h.8M78.5 187.7h.8M64.8 194.0h.8M79.1 200.2h.8M79.6 196.9h.8M82.0 187.8h.8M67.9 188.6h.8M71.9 196.2h.8M86.9 187.3h.8M75.2 194.7h.8M77.5 180.9h.8M99.0 174.7h.8M72.1 190.0h.8M71.8 190.5h.8M66.6 189.5h.8M79.0 191.7h.8M82.1 188.5h.8M69.9 191.1h.8M70.4 197.5h.8M76.4 198.2h.8M68.7 193.7h.8M82.5 197.0h.8M77.5 195.8h.8M71.0 191.8h.8M76.3 192.5h.8M79.9 191.5h.8M67.0 197.5h.8M77.1 202.8h.8M74.4 192.8h.8M81.9 186.2h.8M95.0 185.0h.8M67.8 187.1h.8M68.8 188.5h.8M67.2 193.0h.8M69.8 191.7h.8M68.5 194.9h.8M89.6 185.7h.8M59.0 195.6h.8M85.1 196.2h.8M81.1 187.0h.8M70.7 198.7h.8M89.2 184.9h.8M64.2 191.1h.8M67.2 191.4h.8M67.9 194.5h.8M87.6 196.5h.8M85.3 186.2h.8M75.1 188.7h.8M70.5 205.5h.8M77.7 189.5h.8M81.2 196.7h.8M73.8 193.2h.8M84.8 191.5h.8M70.2 208.8h.8M83.5 190.8h.8M82.4 192.1h.8M62.0 199.4h.8M65.7 194.2h.8M68.5 196.6h.8M73.4 187.5h.8M67.1 203.2h.8M62.3 193.4h.8M75.3 183.3h.8M70.1 198.7h.8M67.3 196.8h.8M81.3 190.4h.8M78.3 187.9h.8M70.6 193.3h.8M78.6 186.3h.8M78.1 191.5h.8M70.9 192.7h.8M74.7 186.1h.8M78.1 195.3h.8M79.7 192.6h.8M92.9 189.6h.8M75.2 195.3h.8M83.1 181.6h.8M87.2 179.1h.8M72.1 186.2h.8M77.3 190.1h.8M79.1 200.1h.8M73.7 194.3h.8M78.1 195.9h.8M72.7 190.8h.8M51.1 197.8h.8M89.0 189.0h.8M80.9 182.8h.8M79.9 191.8h.8M67.8 193.9h.8M85.9 178.2h.8M60.5 200.0h.8M65.3 189.1h.8M80.2 187.5h.8M88.6 188.0h.8M76.7 190.3h.8M82.5 196.6h.8M73.1 193.6h.8M82.0 192.3h.8M69.3 189.8h.8M68.9 190.1h.8M76.9 187.9h.8M76.3 192.5h.8M57.4 190.0h.8M84.1 189.6h.8M71.1 193.8h.8M73.0 196.1h.8M84.9 187.3h.8M76.0 186.5h.8M80.4 181.8h.8M55.7 209.0h.8M95.8 185.6h.8M84.2 192.3h.8M83.0 186.2h.8M69.6 197.8h.8M75.4 191.2h.8M77.1 195.3h.8M67.6 194.8h.8M58.3 196.8h.8M81.9 194.4h.8M81.9 185.7h.8M71.6 189.7h.8M75.4 190.7h.8" fill="none" stroke="#000" stroke-opacity="0.7" stroke-width="0.8"/>
<path d="M65.3 220.1h.6M28.3 215.3h.6M78.8 214.2h.6M66.2 215.4h.6M65.5 216.5h.6M91.3 185.7h.6M92.4 198.4h.6M78.3 198.6h.6M51.6 247.1h.6M49.1 231.3h.6M68.3 209.7h.6M67.8 202.6h.6M85.7 216.7h.6M57.3 199.5h.6M55.6 218.0h.6M99.8 217.7h.6M58.7 207.5h.6M59.8 218.2h.6M88.9 207.5h.6M37.5 213.2h.6M62.6 215.3h.6M94.3 210.8h.6M56.4 229.3h.6M33.7 192.6h.6M66.0 214.6h.6M82.9 205.2h.6M51.8 209.4h.6M49.9 208.3h.6M76.7 212.6h.6M64.3 212.1h.6M46.4 228.7h.6M41.5 212.7h.6M50.1 206.0h.6M102.8 225.4h.6M60.5 227.0h.6M64.5 190.2h.6M79.2 224.9h.6M84.5 206.6h.6M82.2 213.3h.6M71.7 197.7h.6M70.8 203.3h.6M85.6 212.3h.6M34.9 242.0h.6M35.6 214.3h.6M35.9 210.4h.6M75.0 193.0h.6M59.4 197.2h.6M66.6 208.3h.6M68.3 201.5h.6M52.6 204.9h.6M73.3 209.8h.6M71.4 202.2h.6M62.6 221.3h.6M87.8 234.1h.6M85.1 209.6h.6M72.6 211.8h.6M44.0 215.2h.6M82.8 195.1h.6M71.5 214.4h.6M47.7 209.1h.6M79.2 215.3h.6M48.3 200.3h.6M94.0 215.8h.6M58.6 216.2h.6M60.0 200.7h.6M93.8 204.2h.6M69.0 197.9h.6M57.3 220.8h.6M65.8 204.2h.6M52.9 233.0h.6M83.8 209.7h.6M45.0 231.4h.6M66.1 218.5h.6M56.9 202.7h.6M80.0 224.9h.6M61.9 198.8h.6M64.4 192.8h.6M66.8 208.6h.6M75.2 202.8h.6M78.6 215.8h.6M60.5 213.1h.6M51.8 204.0h.6M61.1 222.7h.6M37.9 207.2h.6M70.3 215.1h.6M67.1 211.6h.6M86.9 201.4h.6M42.8 217.5h.6M63.4 230.2h.6M67.4 212.5h.6M118.9 182.4h.6M67.6 207.1h.6M68.0 204.5h.6M68.8 211.4h.6M86.2 191.7h.6M51.6 223.6h.6M89.3 192.2h.6M58.1 233.0h.6M62.0 208.8h.6M45.8 240.2h.6M79.5 215.0h.6M61.9 204.4h.6M67.8 201.2h.6M62.0 211.9h.6M62.6 205.4h.6M70.2 226.8h.6M57.7 199.6h.6M42.0 224.5h.6M65.6 201.3h.6M76.5 192.1h.6M54.7 224.7h.6M87.7 225.0h.6M46.9 225.6h.6M52.8 212.6h.6M53.0 225.0h.6M78.1 208.8h.6M53.2 201.3h.6M55.4 204.0h.6M54.1 218.6h.6M45.0 217.4h.6M73.0 214.7h.6M60.4 225.2h.6M34.0 203.5h.6M63.9 214.8h.6M76.1 224.2h.6M72.6 205.8h.6M63.4 200.4h.6M91.0 231.2h.6M82.2 191.6h.6M61.8 205.0h.6M64.2 211.6h.6M77.8 194.4h.6M85.7 203.9h.6M67.2 222.8h.6M57.7 200.8h.6M41.1 226.2h.6M77.4 198.8h.6M56.4 202.4h.6M43.7 203.2h.6M99.4 206.2h.6M55.2 200.1h.6M74.5 213.0h.6M58.6 221.1h.6M61.5 201.9h.6M61.4 220.6h.6M80.1 202.8h.6M49.1 225.0h.6M82.3 210.4h.6M65.1 199.3h.6M65.6 210.4h.6M64.7 197.6h.6M57.6 203.5h.6M80.7 209.9h.6M57.0 208.4h.6M50.9 225.8h.6M71.2 235.7h.6M72.8 206.7h.6M84.8 217.3h.6M91.7 186.1h.6M72.5 220.3h.6M61.7 230.0h.6M51.1 219.8h.6M73.8 189.5h.6M65.7 217.8h.6M75.7 216.3h.6M64.5 213.0h.6M58.4 225.2h.6M90.7 199.1h.6M55.3 217.3h.6M92.3 192.2h.6M63.5 222.9h.6M60.6 193.9h.6M47.9 195.8h.6M69.3 203.3h.6M50.1 215.8h.6M53.3 215.5h.6M55.4 231.1h.6M63.6 207.6h.6M72.9 210.3h.6M59.6 226.0h.6M31.4 200.6h.6M74.0 203.6h.6M73.5 191.7h.6M82.6 220.8h.6M69.7 218.6h.6M73.2 195.0h.6M56.7 217.9h.6M76.8 197.6h.6M83.4 217.9h.6M84.1 196.0h.6M81.0 198.9h.6M63.0 215.4h.6M66.9 198.4h.6M65.3 216.1h.6M73.2 207.8h.6M87.9 200.1h.6M64.7 210.5h.6M95.1 213.8h.6M70.6 226.0h.6M83.9 225.7h.6M89.0 214.6h.6M86.5 223.5h.6M76.5 202.1h.6M49.4 208.0h.6M63.7 207.3h.6M87.7 203.8h.6M46.5 213.2h.6M70.7 216.1h.6M68.2 230.9h.6M91.0 219.1h.6M77.0 205.6h.6M63.5 212.1h.6M47.1 189.3h.6M78.5 186.8h.6M82.5 211.3h.6M74.0 209.7h.6M61.6 200.6h.6M41.0 208.7h.6M87.0 193.1h.6M64.3 227.1h.6M69.2 206.1h.6M53.8 247.0h.6M65.8 204.2h.6M60.4 218.0h.6M73.7 210.8h.6M73.8 222.5h.6M68.7 213.8h.6M63.0 226.7h.6M75.8 216.8h.6M80.3 207.4h.6M78.8 187.4h.6M46.7 200.8h.6M62.0 211.4h.6M41.0 208.9h.6M43.5 223.0h.6M58.2 232.3h.6M88.3 200.0h.6M100.3 202.1h.6M69.3 198.1h.6M59.0 216.1h.6M60.3 218.2h.6M67.5 217.3h.6M75.5 185.5h.6M87.4 222.0h.6M64.6 206.6h.6M74.3 219.4h.6M71.3 201.2h.6M49.4 202.5h.6M56.1 212.5h.6M61.2 218.3h.6M72.7 222.7h.6M71.9 201.4h.6M90.5 234.1h.6M64.4 237.9h.6M64.0 208.2h.6M56.2 206.4h.6M67.1 195.1h.6M44.0 219.2h.6M59.9 212.7h.6M70.2 240.9h.6M75.4 216.2h.6M78.2 215.6h.6M39.8 202.0h.6M57.2 221.5h.6M89.0 195.1h.6M69.4 212.0h.6M51.4 234.4h.6M63.2 216.5h.6M68.0 222.7h.6M62.9 217.5h.6M70.6 221.4h.6M84.0 212.6h.6M98.3 218.1h.6M58.5 184.5h.6M57.7 217.1h.6M60.4 227.9h.6M58.7 200.0h.6M82.5 213.6h.6M80.7 207.1h.6M79.3 199.0h.6M95.8 212.6h.6M68.6 203.2h.6M50.4 214.5h.6M58.8 212.4h.6M88.4 180.4h.6M63.6 218.8h.6M59.3 217.2h.6M67.3 207.1h.6M49.9 225.0h.6M51.1 212.6h.6M64.9 232.4h.6M52.1 206.2h.6M67.6 203.0h.6M36.9 217.3h.6M65.9 216.2h.6M85.3 191.8h.6M58.6 217.3h.6M64.4 200.9h.6M58.3 201.9h.6M79.6 190.8h.6M92.7 198.2h.6M75.8 188.9h.6M43.5 223.4h.6M54.3 204.4h.6M65.2 209.5h.6M50.3 217.8h.6M87.2 205.1h.6M41.8 195.2h.6M76.6 214.3h.6M39.0 218.8h.6M57.1 205.5h.6M103.7 188.4h.6M91.5 207.0h.6M70.9 205.3h.6M53.6 231.0h.6M77.8 190.0h.6M67.3 199.2h.6M66.9 226.7h.6M56.8 222.6h.6M89.2 214.4h.6M51.6 215.1h.6M55.0 207.9h.6M54.3 218.1h.6M85.7 216.6h.6M49.1 211.2h.6M49.3 229.1h.6M55.5 201.1h.6M61.8 218.8h.6M83.3 200.5h.6M76.4 206.4h.6M61.4 198.7h.6M66.6 234.1h.6M57.9 214.2h.6M61.3 220.4h.6M60.1 226.8h.6M37.9 209.5h.6M79.9 229.3h.6M69.1 192.2h.6M43.5 217.0h.6M73.9 205.4h.6M75.2 241.7h.6M52.4 215.7h.6M72.0 215.7h.6M83.7 215.1h.6M53.6 215.1h.6M84.7 210.0h.6M62.7 202.8h.6M33.3 221.4h.6M21.7 230.7h.6M95.0 192.6h.6M79.1 201.4h.6M61.4 203.2h.6M65.5 198.8h.6M76.1 223.8h.6M24.9 217.2h.6M45.4 213.9h.6M78.1 223.7h.6M73.9 203.2h.6M78.4 212.2h.6M55.3 220.8h.6M70.8 223.4h.6M53.5 199.3h.6M64.0 208.9h.6M53.4 211.7h.6M69.4 239.1h.6M49.7 196.1h.6M71.8 207.4h.6M58.4 231.0h.6M43.9 213.7h.6M49.5 202.0h.6M56.0 225.1h.6M72.8 226.2h.6M37.4 207.7h.6M104.0 209.9h.6M98.8 192.3h.6M93.7 220.9h.6M75.6 210.7h.6M61.8 209.3h.6M89.1 214.8h.6M75.7 207.0h.6M71.9 204.1h.6M66.0 220.4h.6M78.9 214.9h.6M69.6 203.2h.6M69.8 216.2h.6M70.4 233.9h.6M65.6 208.0h.6M61.4 193.9h.6M56.7 226.4h.6M36.0 231.8h.6M62.2 229.7h.6M50.4 199.5h.6M81.8 202.2h.6M62.9 202.7h.6M66.8 205.0h.6M77.0 205.9h.6M76.0 186.4h.6M60.4 226.4h.6M54.0 222.2h.6M68.7 207.0h.6M71.6 206.8h.6M64.8 216.5h.6M87.2 204.6h.6M96.8 182.4h.6M78.9 217.1h.6M72.2 194.9h.6M76.9 218.8h.6M72.3 205.4h.6M95.0 194.1h.6M59.1 205.1h.6M71.7 194.2h.6M33.5 219.8h.6M48.4 224.5h.6M70.3 225.2h.6M52.0 229.6h.6M92.1 231.5h.6M56.8 225.4h.6M79.2 207.1h.6M73.1 209.1h.6M79.8 210.4h.6M50.2 213.5h.6M49.6 216.9h.6M60.4 227.8h.6M75.0 205.5h.6M77.0 249.3h.6M70.6 208.0h.6M39.9 220.7h.6M51.7 215.0h.6M32.8 215.2h.6M79.7 222.0h.6M69.3 214.3h.6M89.7 185.6h.6M51.7 211.1h.6M81.4 229.6h.6M72.8 186.2h.6M80.3 197.7h.6M42.7 223.3h.6M83.1 217.1h.6M80.8 208.2h.6M43.2 217.2h.6M63.7 206.8h.6M66.9 199.3h.6M52.0 214.6h.6M65.6 183.6h.6M64.6 196.4h.6M79.0 211.1h.6M75.9 205.9h.6M58.2 218.4h.6M68.4 196.2h.6M60.7 222.8h.6M54.1 188.2h.6M52.0 217.5h.6M82.2 189.0h.6M76.0 210.2h.6M63.4 206.1h.6M74.1 198.0h.6M52.6 203.4h.6M54.7 204.4h.6M67.6 195.8h.6M56.1 219.7h.6M63.3 225.2h.6M46.6 213.5h.6M64.7 208.7h.6M66.2 231.2h.6M71.3 197.4h.6M78.4 229.5h.6M63.8 218.9h.6M30.1 216.6h.6M77.2 215.4h.6M77.9 206.4h.6M37.0 204.2h.6M72.8 210.7h.6M65.1 217.6h.6M77.9 206.7h.6M56.1 193.8h.6M47.2 216.7h.6M67.5 222.9h.6M70.8 206.6h.6M64.4 201.9h.6M79.0 182.8h.6M75.2 222.6h.6M87.1 196.7h.6M58.4 200.7h.6M70.6 210.1h.6M86.3 226.0h.6M91.7 208.6h.6M66.7 199.4h.6M76.2 220.7h.6M54.9 233.3h.6M64.1 205.7h.6M51.2 222.2h.6M78.0 213.2h.6M52.8 206.2h.6M57.4 228.8h.6M78.4 215.9h.6M96.7 182.8h.6M45.4 229.0h.6M58.9 229.3h.6M61.0 197.0h.6M76.7 211.8h.6M78.4 206.8h.6M50.3 229.2h.6M74.5 221.1h.6M60.5 203.6h.6M64.6 209.6h.6M82.8 205.3h.6M82.5 216.1h.6M41.1 202.7h.6M57.9 209.1h.6M46.9 204.3h.6M80.8 206.8h.6M95.6 187.6h.6M86.5 204.6h.6M69.3 213.6h.6M75.5 212.4h.6M68.0 222.4h.6M70.6 218.2h.6M82.3 204.4h.6M64.5 206.6h.6M58.8 200.0h.6M65.5 191.9h.6M59.7 226.0h.6M98.9 201.9h.6M58.9 226.5h.6M41.6 237.8h.6M49.6 209.5h.6M59.5 218.7h.6M74.7 228.1h.6M65.4 247.2h.6M81.4 236.3h.6M49.3 226.5h.6M79.9 209.7h.6M29.5 224.9h.6M69.8 197.1h.6M49.0 221.7h.6M57.0 200.1h.6M55.9 206.9h.6M53.8 222.6h.6M79.1 202.3h.6M45.7 223.9h.6M78.5 222.4h.6M96.9 207.8h.6M81.1 200.7h.6M35.6 222.9h.6M43.8 210.1h.6M53.9 236.7h.6M51.9 235.5h.6M53.8 220.5h.6M70.3 218.6h.6M60.3 198.1h.6M87.9 193.7h.6M35.4 217.0h.6M59.1 201.5h.6M93.7 185.0h.6M79.7 193.2h.6M53.2 214.3h.6M68.5 208.0h.6M67.0 207.7h.6M52.1 217.6h.6M76.0 216.5h.6M89.0 207.9h.6M60.7 207.0h.6M73.2 197.6h.6M67.9 220.7h.6M89.9 204.5h.6M52.1 216.8h.6M46.5 200.0h.6M44.1 219.8h.6M90.1 169.2h.6M52.4 218.5h.6M64.8 214.4h.6M93.8 213.7h.6M70.9 217.2h.6M72.7 211.9h.6M61.9 229.0h.6M58.5 250.6h.6M66.4 210.4h.6M66.0 203.7h.6M81.4 223.4h.6M31.4 223.8h.6M62.1 235.0h.6M57.7 217.7h.6M53.6 230.8h.6M89.9 215.3h.6M60.2 204.2h.6M53.8 215.5h.6M51.5 223.9h.6M44.8 210.7h.6M47.9 213.2h.6M63.7 190.1h.6M50.7 224.6h.6M68.6 207.9h.6M43.6 234.5h.6M51.8 228.9h.6M93.3 217.3h.6M84.1 212.8h.6M66.2 228.9h.6M44.6 216.0h.6M81.4 228.7h.6M58.6 197.2h.6M63.3 244.0h.6M74.4 195.3h.6M84.1 233.2h.6M70.3 212.4h.6M72.9 209.2h.6M86.2 198.9h.6M82.0 223.1h.6M90.2 204.0h.6M97.3 231.6h.6M76.9 181.5h.6M33.1 190.4h.6M56.8 226.5h.6M89.2 199.1h.6M53.5 207.0h.6M39.6 212.1h.6M112.9 194.6h.6M74.0 210.3h.6M65.9 212.5h.6M77.7 215.1h.6M88.6 200.8h.6M64.6 210.8h.6M59.8 221.7h.6M49.7 233.7h.6M87.3 214.2h.6M70.7 236.4h.6M68.8 191.2h.6M44.9 213.7h.6M61.4 219.4h.6M82.0 205.6h.6M73.2 202.5h.6M70.5 222.7h.6M50.5 203.0h.6M48.6 229.3h.6M63.2 199.2h.6M50.6 240.0h.6M72.0 232.4h.6M53.0 221.6h.6M91.8 202.9h.6M58.1 221.9h.6M70.6 221.5h.6M76.3 207.4h.6M88.8 204.5h.6M45.6 211.1h.6M59.6 219.1h.6M76.0 208.9h.6M79.2 204.2h.6M67.0 207.6h.6M33.0 210.6h.6M66.2 211.3h.6M96.0 196.4h.6" fill="none" stroke="#111" stroke-opacity="0.5" stroke-width="0.6"/>
<path d="M45.6 174.6h.6M44.2 182.8h.6M49.4 189.8h.6M50.7 179.4h.6M60.7 184.9h.6M61.3 172.6h.6M58.6 181.8h.6M79.7 184.5h.6M58.0 185.0h.6M71.7 178.9h.6M49.2 180.1h.6M57.2 182.2h.6M73.4 186.7h.6M55.2 183.5h.6M50.5 185.5h.6M85.3 187.4h.6M59.9 182.3h.6M56.8 190.3h.6M58.4 186.6h.6M64.3 184.9h.6M47.8 182.4h.6M57.8 181.0h.6M47.7 184.1h.6M47.6 185.7h.6M72.2 193.2h.6M69.6 185.4h.6M62.7 179.5h.6M53.0 178.5h.6M66.2 171.8h.6M55.7 178.4h.6M64.9 175.0h.6M67.1 171.9h.6M47.0 189.7h.6M86.2 179.3h.6M58.3 191.5h.6M64.6 183.3h.6M71.9 177.7h.6M65.0 180.8h.6M59.6 186.9h.6M42.9 187.8h.6M71.9 181.0h.6M53.9 176.0h.6M75.3 182.3h.6M41.2 185.8h.6M64.0 180.8h.6M41.4 197.7h.6M68.3 185.9h.6M51.8 191.6h.6M48.0 182.9h.6M50.4 175.7h.6M56.7 189.5h.6M50.8 177.5h.6M44.2 181.9h.6M64.1 189.4h.6M58.7 190.5h.6M55.9 176.9h.6M56.1 194.1h.6M61.9 182.4h.6M53.5 181.3h.6M59.5 189.1h.6M70.3 180.5h.6M72.1 188.3h.6M52.8 183.7h.6M64.7 196.5h.6M80.7 188.1h.6M68.5 188.5h.6M68.6 185.4h.6M75.2 176.6h.6M59.8 183.9h.6M66.8 182.3h.6M48.4 183.1h.6M64.3 191.2h.6M52.9 174.7h.6M55.6 194.1h.6M90.3 183.2h.6M77.9 188.2h.6M47.1 187.0h.6M59.8 187.9h.6M46.1 179.1h.6M65.1 180.7h.6M69.7 181.4h.6M71.7 184.3h.6M63.0 182.8h.6M45.0 190.1h.6M62.0 187.9h.6M52.9 186.3h.6M60.7 187.2h.6M66.1 190.1h.6M48.9 181.3h.6M58.3 177.4h.6M52.6 183.7h.6M59.7 192.8h.6M58.5 190.0h.6M67.3 180.6h.6M63.3 180.2h.6M60.2 190.0h.6M67.4 183.2h.6M75.4 188.0h.6M69.7 188.8h.6M60.9 173.8h.6M59.1 187.8h.6M75.8 184.3h.6M62.4 179.0h.6M49.7 186.3h.6M39.6 175.6h.6M51.1 193.0h.6M56.0 182.7h.6M65.8 178.1h.6M62.4 181.4h.6M57.2 184.4h.6" fill="none" stroke="#111" stroke-opacity="0.5" stroke-width="0.6"/>
<path d="M98.6 196.1h.6M103.7 178.6h.6M83.9 170.5h.6M105.6 179.8h.6M103.9 177.5h.6M105.9 189.9h.6M78.5 193.5h.6M94.6 194.2h.6M83.9 170.8h.6M89.2 195.2h.6M97.1 175.1h.6M93.9 194.6h.6M84.5 194.2h.6M90.4 194.2h.6M105.8 188.8h.6M82.5 170.6h.6M80.6 192.7h.6M75.3 174.6h.6M72.2 181.3h.6M75.9 188.6h.6M86.3 172.0h.6M105.8 181.9h.6M76.1 188.3h.6M74.4 175.1h.6M106.0 182.4h.6M104.8 191.3h.6M101.2 192.9h.6M99.5 194.0h.6M102.0 193.1h.6M72.8 182.8h.6M105.8 179.9h.6M104.1 193.6h.6M97.4 174.6h.6M92.0 196.7h.6M79.1 190.5h.6M106.4 181.3h.6M103.8 178.2h.6M89.6 171.3h.6M104.9 190.0h.6M103.4 178.5h.6M106.6 186.8h.6M69.8 176.1h.6M105.0 178.5h.6M107.0 187.8h.6M94.3 173.7h.6M88.4 170.9h.6M101.4 176.2h.6M102.2 193.6h.6M90.3 195.0h.6M96.8 194.8h.6M73.5 187.2h.6M95.9 174.1h.6M82.7 192.6h.6M85.4 170.4h.6M96.4 174.5h.6M77.6 189.4h.6M71.4 183.6h.6M106.8 182.5h.6M105.2 180.6h.6M100.7 193.4h.6M72.2 177.3h.6M75.1 173.5h.6M106.9 185.4h.6M78.7 190.4h.6M80.8 171.9h.6M78.4 192.6h.6M103.4 178.9h.6M84.1 193.9h.6M78.9 172.5h.6M74.0 187.5h.6M70.4 178.5h.6M102.8 178.4h.6M75.9 188.7h.6M89.8 194.1h.6M92.7 173.5h.6M72.4 188.2h.6M104.5 191.0h.6M98.3 195.3h.6M71.9 179.9h.6M96.9 195.8h.6M108.0 185.3h.6M107.9 185.7h.6M96.3 195.7h.6M72.1 184.7h.6M75.1 189.3h.6M85.4 169.8h.6M103.0 194.8h.6M85.8 172.3h.6M77.8 172.6h.6M79.4 169.8h.6M72.0 186.9h.6M84.9 193.5h.6M93.7 195.8h.6M87.5 193.7h.6M101.7 177.1h.6M101.0 192.7h.6M106.5 192.1h.6M104.7 180.2h.6M101.1 176.4h.6M98.2 198.5h.6M102.7 178.9h.6M80.3 170.6h.6M70.8 187.4h.6M71.5 182.4h.6M99.4 193.5h.6M87.8 169.7h.6M95.6 195.1h.6M89.4 193.6h.6M86.3 192.6h.6M73.4 185.0h.6M100.6 175.0h.6M76.2 187.9h.6M101.7 175.7h.6M72.3 186.1h.6M97.5 195.3h.6M82.7 193.1h.6M88.3 194.2h.6M82.4 172.5h.6M72.5 181.9h.6M80.7 172.4h.6M93.9 174.1h.6M72.6 181.1h.6M78.0 189.8h.6M82.3 171.2h.6M86.5 172.1h.6M84.9 170.0h.6M74.7 175.0h.6M76.9 189.7h.6M83.8 171.4h.6M72.8 176.5h.6M107.9 190.6h.6M107.1 183.5h.6M93.4 194.3h.6M108.0 186.4h.6M107.3 184.4h.6M76.5 189.1h.6M98.5 193.3h.6M100.6 176.2h.6M88.7 171.7h.6M72.7 180.5h.6M105.5 190.4h.6M95.6 174.4h.6M74.5 189.0h.6M92.1 171.7h.6M73.8 188.0h.6M72.4 174.6h.6M90.3 172.9h.6M89.8 171.6h.6M86.9 192.9h.6M79.3 195.5h.6M88.3 197.0h.6M79.6 172.9h.6M105.9 186.1h.6M100.6 176.1h.6M103.9 178.0h.6M93.7 172.5h.6M71.9 182.5h.6M100.1 192.5h.6M86.7 171.3h.6M93.1 195.4h.6M92.7 195.1h.6M98.5 176.1h.6M81.7 192.9h.6M89.2 172.5h.6M75.3 187.4h.6M74.3 173.6h.6M96.9 175.1h.6M98.9 174.8h.6M84.0 193.2h.6M72.5 185.0h.6M74.0 174.2h.6M105.9 184.6h.6M90.8 196.4h.6M85.5 194.4h.6M85.3 196.0h.6M88.0 171.1h.6M92.6 196.7h.6M87.8 170.9h.6M89.8 172.4h.6M100.1 173.2h.6M74.2 176.5h.6M101.1 192.1h.6M100.8 193.4h.6M71.2 175.8h.6M101.8 177.1h.6M71.5 175.6h.6M71.6 183.3h.6M78.4 174.0h.6M86.2 193.7h.6M85.2 171.6h.6M73.0 185.8h.6M106.8 185.4h.6M78.3 172.6h.6M71.5 180.5h.6M108.9 184.6h.6M76.6 189.7h.6M97.5 194.9h.6M71.3 178.3h.6M72.2 181.9h.6M80.4 193.1h.6M71.7 178.0h.6M105.5 182.6h.6M72.7 182.0h.6M105.2 192.0h.6M83.9 194.6h.6M72.8 176.9h.6M104.0 192.2h.6M94.2 196.5h.6M101.5 192.0h.6M74.4 174.2h.6M79.9 171.5h.6M93.7 171.8h.6M92.8 194.9h.6M82.7 171.6h.6M84.0 193.3h.6M74.6 176.1h.6M93.7 173.0h.6M94.9 171.9h.6M73.6 189.9h.6M73.7 185.7h.6M71.3 175.8h.6M78.5 191.3h.6M73.5 184.8h.6M72.2 182.6h.6M97.0 173.8h.6M87.5 194.4h.6M77.2 172.4h.6M84.0 170.2h.6M91.8 195.1h.6M85.8 194.8h.6M88.3 171.9h.6M71.8 179.6h.6M106.0 187.7h.6M80.8 192.5h.6M72.6 180.6h.6M79.1 192.5h.6M87.5 172.4h.6M95.7 173.4h.6M90.1 194.9h.6M85.3 171.1h.6M103.9 177.8h.6M103.8 176.5h.6M99.0 175.8h.6M100.5 176.2h.6M106.0 182.0h.6M105.6 190.3h.6M72.0 176.4h.6M99.5 176.0h.6M76.7 174.0h.6M71.7 181.5h.6M70.8 184.7h.6M71.9 176.3h.6M79.1 191.4h.6M87.2 194.5h.6M102.6 192.0h.6M106.2 180.7h.6M105.1 190.7h.6M105.3 181.5h.6M90.2 169.9h.6M105.8 189.9h.6M105.0 191.9h.6M82.5 192.8h.6M106.4 191.3h.6M102.0 194.9h.6M96.6 194.0h.6M91.2 170.4h.6M98.4 171.8h.6M73.4 177.8h.6M82.6 172.4h.6M106.4 188.4h.6M78.2 190.5h.6M72.0 182.7h.6M80.0 171.0h.6M72.1 177.7h.6M102.4 193.1h.6M70.4 182.9h.6M90.3 195.4h.6M80.0 172.4h.6M101.7 177.5h.6M75.2 173.8h.6M102.2 177.7h.6M81.8 192.5h.6M85.9 194.0h.6M105.8 182.5h.6M85.1 193.6h.6M84.4 172.7h.6M75.1 172.0h.6M73.7 174.4h.6M79.6 190.8h.6M89.9 194.3h.6M101.1 192.9h.6M99.7 175.0h.6M96.5 195.8h.6M106.0 182.2h.6M71.9 174.4h.6M107.6 187.7h.6M106.8 183.6h.6M82.4 171.5h.6M82.0 191.9h.6M79.4 190.2h.6M89.1 169.2h.6M83.4 172.2h.6M93.3 170.9h.6M86.1 169.7h.6M86.9 194.9h.6M90.0 173.0h.6M72.2 182.2h.6M88.6 172.0h.6M87.6 172.2h.6M76.2 187.8h.6M105.5 182.3h.6M102.4 178.6h.6M101.1 193.1h.6M98.2 194.9h.6M85.1 170.5h.6M71.9 184.8h.6M110.9 182.4h.6M90.3 195.2h.6M80.8 172.6h.6M85.5 193.0h.6M78.4 192.8h.6M83.8 194.9h.6M98.8 172.7h.6M71.9 179.0h.6M105.4 190.2h.6M72.2 184.8h.6M87.7 172.1h.6M106.1 187.4h.6M94.1 172.5h.6M78.8 171.9h.6M79.3 190.4h.6M96.9 195.2h.6M73.0 175.1h.6M72.1 174.7h.6M71.9 182.7h.6M78.7 192.1h.6M98.1 174.7h.6M76.0 173.7h.6M76.4 188.5h.6M74.8 174.4h.6M104.4 179.2h.6M83.6 195.1h.6M100.4 193.1h.6M93.1 171.1h.6M83.8 172.4h.6M95.2 172.6h.6M73.3 187.8h.6M89.6 171.3h.6M78.9 191.9h.6M92.4 172.8h.6M103.6 191.4h.6M107.5 183.7h.6M108.3 185.2h.6M78.3 172.6h.6M103.4 192.6h.6M92.0 172.6h.6M100.1 176.7h.6M94.6 194.9h.6M106.3 190.4h.6M72.7 176.5h.6M104.9 179.7h.6M82.6 192.4h.6M93.7 195.2h.6M85.8 170.1h.6M99.5 175.2h.6M77.6 172.2h.6M102.5 193.1h.6M72.6 185.9h.6M76.0 190.5h.6M103.9 191.8h.6M72.3 181.6h.6M92.6 193.8h.6M86.8 168.7h.6M76.6 189.8h.6M86.1 172.0h.6M80.5 172.6h.6M71.1 178.7h.6M70.9 177.8h.6M74.7 174.8h.6M72.5 178.6h.6M77.1 172.3h.6M87.1 171.9h.6M104.5 180.3h.6M105.4 179.3h.6M103.5 179.7h.6M71.7 185.3h.6M88.9 194.2h.6M94.8 171.6h.6M87.4 193.9h.6M108.4 182.3h.6M75.4 173.2h.6M108.6 187.3h.6M79.1 172.4h.6M93.2 172.1h.6M97.1 175.3h.6M100.7 175.4h.6M77.9 173.8h.6M98.7 175.8h.6M91.4 195.6h.6M102.0 178.1h.6M88.6 196.0h.6M105.6 189.5h.6M70.6 182.8h.6M90.3 193.8h.6M100.8 176.9h.6M81.7 193.9h.6M98.3 174.9h.6M93.9 172.7h.6M82.2 172.0h.6M97.9 194.2h.6M94.7 173.3h.6M87.1 170.7h.6M92.7 171.9h.6M85.4 196.3h.6M88.1 172.5h.6M72.8 184.2h.6M99.3 173.1h.6M72.8 187.1h.6M74.8 175.0h.6M106.7 187.8h.6M74.2 188.5h.6M72.6 182.1h.6M85.6 169.9h.6M103.4 192.1h.6M88.2 171.2h.6M88.1 172.4h.6M73.6 184.9h.6M107.4 182.2h.6M71.8 180.0h.6M93.1 194.6h.6M102.2 192.3h.6M79.1 172.9h.6M107.6 185.8h.6M76.4 189.1h.6M98.3 174.3h.6M73.6 186.0h.6M96.7 194.5h.6M98.0 171.0h.6M86.2 193.6h.6M101.6 192.7h.6M99.5 175.9h.6M87.3 171.0h.6M72.0 181.8h.6M77.0 173.4h.6M106.6 189.4h.6M73.2 184.6h.6M90.4 171.5h.6M99.3 196.7h.6M73.1 184.3h.6M93.2 194.6h.6M91.8 194.9h.6M70.7 181.1h.6M105.9 190.1h.6M96.1 174.6h.6M108.3 186.6h.6M87.2 172.6h.6M83.4 171.6h.6M101.5 193.3h.6M73.2 173.8h.6M103.4 193.9h.6M94.5 174.1h.6M102.7 175.9h.6M98.6 193.1h.6M78.3 192.1h.6M99.3 193.7h.6M94.5 173.4h.6M74.1 186.1h.6M78.1 173.7h.6M104.9 193.0h.6M72.6 181.2h.6M97.3 193.5h.6M98.1 193.7h.6M80.1 170.5h.6M108.7 185.2h.6M94.1 195.2h.6M103.8 180.1h.6M74.6 185.9h.6M86.4 196.2h.6M83.5 193.0h.6M88.6 194.3h.6M74.8 187.0h.6M76.0 188.1h.6M98.4 175.2h.6M102.7 177.2h.6M88.6 171.4h.6M89.5 169.5h.6M85.1 195.2h.6M78.3 172.9h.6M71.8 183.5h.6M98.9 175.3h.6M85.2 194.0h.6M94.9 172.0h.6M72.9 186.3h.6M85.4 195.2h.6M98.0 194.8h.6M73.1 185.4h.6M98.9 194.4h.6M75.0 186.4h.6M73.0 186.4h.6M105.6 189.2h.6M99.0 194.1h.6M101.9 178.3h.6M83.7 192.7h.6M94.4 194.9h.6M107.2 187.5h.6M91.0 171.5h.6M86.9 195.3h.6M76.3 173.7h.6M96.8 174.4h.6M94.5 196.6h.6M92.1 195.0h.6M106.0 190.4h.6M102.9 176.2h.6M101.5 177.0h.6M70.7 182.6h.6M75.8 188.4h.6M85.6 195.3h.6M102.1 193.7h.6M93.8 171.8h.6M100.3 193.1h.6M106.5 186.9h.6M104.4 180.0h.6M86.1 194.2h.6M78.5 173.3h.6M71.3 183.3h.6M96.0 197.0h.6M97.0 194.5h.6M84.0 172.2h.6M105.0 180.8h.6M76.7 173.1h.6M71.1 175.5h.6M89.7 171.9h.6M87.4 194.5h.6M104.4 191.7h.6M97.9 193.8h.6M72.1 180.6h.6M94.5 194.0h.6M76.6 173.9h.6M87.6 171.6h.6M105.3 191.8h.6M89.3 193.7h.6M78.1 173.8h.6M106.3 186.1h.6M85.6 193.3h.6M71.1 177.6h.6M95.6 194.9h.6M69.4 182.4h.6M105.1 190.7h.6M106.7 184.7h.6M91.2 170.9h.6M107.3 187.4h.6M78.4 170.9h.6M94.6 194.5h.6M87.1 171.6h.6M76.0 189.5h.6M98.7 194.1h.6M107.5 190.5h.6M81.8 172.7h.6M72.7 184.2h.6M91.1 172.4h.6M100.2 192.7h.6M105.8 189.3h.6M81.8 191.5h.6M68.8 179.0h.6M95.3 195.6h.6M72.7 175.2h.6M84.7 192.5h.6M89.6 171.8h.6M69.8 183.1h.6M88.4 171.6h.6M89.1 194.4h.6M93.2 173.0h.6M107.8 186.6h.6M106.1 189.2h.6M103.5 190.9h.6M72.8 184.5h.6M81.6 171.3h.6M101.2 194.2h.6M104.1 191.1h.6M78.2 189.9h.6M97.3 173.5h.6M100.7 194.1h.6M70.1 178.9h.6M80.7 171.3h.6M85.0 172.3h.6M103.0 193.7h.6M93.8 171.2h.6M75.7 190.4h.6M81.0 190.8h.6M82.1 191.7h.6M90.0 171.7h.6M86.5 171.9h.6M97.0 194.4h.6M95.0 174.0h.6M92.2 194.6h.6M97.8 193.3h.6M106.5 189.1h.6M97.6 174.1h.6M100.4 174.6h.6M73.3 175.9h.6M101.3 194.7h.6M86.1 172.1h.6M105.4 190.9h.6M108.4 184.2h.6M77.9 189.6h.6M92.5 171.0h.6M84.7 193.2h.6M106.5 183.7h.6M75.1 175.2h.6M90.7 171.6h.6M97.0 195.6h.6M99.3 175.2h.6M96.4 173.2h.6M83.6 171.5h.6M88.2 194.1h.6M93.8 194.6h.6M103.7 192.7h.6M73.7 187.4h.6M77.3 189.2h.6M71.3 181.7h.6M105.0 191.2h.6M77.6 173.3h.6M85.1 193.3h.6M74.2 177.1h.6M74.6 175.1h.6M85.6 171.7h.6M88.7 193.7h.6M106.6 183.4h.6M72.7 183.5h.6M95.1 174.0h.6M76.1 187.9h.6M79.5 173.2h.6M83.9 193.0h.6M105.4 182.8h.6M71.4 183.6h.6M81.7 191.3h.6M105.8 188.4h.6M70.2 178.8h.6M81.9 171.8h.6M74.0 173.1h.6M83.0 171.8h.6M78.2 193.5h.6M69.8 180.0h.6M100.0 176.4h.6M75.4 175.0h.6M72.9 177.9h.6M99.8 176.5h.6M72.8 185.7h.6M85.0 170.2h.6M107.0 188.3h.6M95.8 196.0h.6M86.4 170.8h.6M85.2 171.3h.6M76.6 191.4h.6M75.3 189.5h.6M76.6 190.5h.6M107.5 185.3h.6M103.2 178.9h.6M105.1 189.2h.6M77.8 189.8h.6M87.4 172.0h.6M71.3 186.1h.6M100.5 192.5h.6M80.6 172.7h.6M92.8 196.9h.6M81.2 170.6h.6M103.8 193.0h.6M106.7 184.2h.6M105.6 188.6h.6M83.9 172.1h.6M73.1 184.0h.6M105.4 183.1h.6M106.1 182.8h.6M85.1 194.7h.6M77.2 189.2h.6M96.2 173.0h.6M75.9 190.4h.6M101.0 177.4h.6M98.2 174.4h.6M73.5 186.1h.6M105.2 177.7h.6M75.4 171.9h.6M101.4 174.6h.6M85.8 194.4h.6M98.3 194.4h.6M72.1 175.6h.6M73.3 176.8h.6M98.6 175.8h.6M104.7 182.0h.6M87.3 172.6h.6M103.6 179.4h.6M93.4 171.0h.6M73.2 186.0h.6M86.7 170.6h.6M99.9 174.5h.6M94.7 173.9h.6M76.4 188.6h.6M93.1 195.1h.6M94.4 171.8h.6M100.2 192.6h.6" fill="none" stroke="#000" stroke-opacity="0.8" stroke-width="0.6"/>
<ellipse cx="0" cy="0" rx="18.2" ry="11.4" transform="translate(89.3,183.2) rotate(14)" fill="#000" filter="url(#fb5)"/>
<g stroke="#000" stroke-opacity="0.35" stroke-width="0.35" filter="url(#fb3)">
<ellipse cx="90.3" cy="182.6" rx="15.20" ry="8.30" transform="rotate(14 90.3 182.6)" fill="#444444"/>
<ellipse cx="90.3" cy="182.6" rx="13.35" ry="7.29" transform="rotate(14 90.3 182.6)" fill="#6b6b6b"/>
<ellipse cx="90.3" cy="182.6" rx="11.51" ry="6.28" transform="rotate(14 90.3 182.6)" fill="#8c8c8c"/>
<ellipse cx="90.3" cy="182.6" rx="9.66" ry="5.28" transform="rotate(14 90.3 182.6)" fill="#9c9c9c"/>
<ellipse cx="90.3" cy="182.6" rx="7.82" ry="4.27" transform="rotate(14 90.3 182.6)" fill="#acacac"/>
<ellipse cx="90.3" cy="182.6" rx="5.97" ry="3.26" transform="rotate(14 90.3 182.6)" fill="#bdbdbd"/>
<ellipse cx="90.3" cy="182.6" rx="4.13" ry="2.25" transform="rotate(14 90.3 182.6)" fill="#d6d6d6"/>
<ellipse cx="90.3" cy="182.6" rx="2.28" ry="1.25" transform="rotate(14 90.3 182.6)" fill="#eeeeee"/>
</g>
<path d="M84 194.5 Q95 197 103 190" stroke="#fff" stroke-width="1.2" fill="none" opacity="0.9"/>
</g>
<line x1="39.00" y1="151.30" x2="39.00" y2="236.30" stroke="#888" stroke-width="0.9"/>
<line x1="39.00" y1="236.30" x2="124.60" y2="236.30" stroke="#888" stroke-width="0.9"/>
<line x1="37.00" y1="159.10" x2="39.00" y2="159.10" stroke="#555" stroke-width="0.8"/>
<text x="34.00" y="161.80" font-size="7.7" text-anchor="end" fill="#111" stroke="#111" stroke-width="0.2">10<tspan font-size="4.77" dy="-2.93">5</tspan></text>
<line x1="37.00" y1="178.50" x2="39.00" y2="178.50" stroke="#555" stroke-width="0.8"/>
<text x="34.00" y="181.20" font-size="7.7" text-anchor="end" fill="#111" stroke="#111" stroke-width="0.2">10<tspan font-size="4.77" dy="-2.93">4</tspan></text>
<line x1="37.00" y1="198.00" x2="39.00" y2="198.00" stroke="#555" stroke-width="0.8"/>
<text x="34.00" y="200.70" font-size="7.7" text-anchor="end" fill="#111" stroke="#111" stroke-width="0.2">10<tspan font-size="4.77" dy="-2.93">3</tspan></text>
<line x1="37.00" y1="217.90" x2="39.00" y2="217.90" stroke="#555" stroke-width="0.8"/>
<text x="34.00" y="220.60" font-size="7.7" text-anchor="end" fill="#111" stroke="#111" stroke-width="0.2">10<tspan font-size="4.77" dy="-2.93">2</tspan></text>
<line x1="37.00" y1="229.00" x2="39.00" y2="229.00" stroke="#555" stroke-width="0.8"/>
<text x="34.00" y="231.70" font-size="7.7" text-anchor="end" fill="#111" stroke="#111" stroke-width="0.2">0</text>
<line x1="38.00" y1="158.30" x2="39.00" y2="158.30" stroke="#999" stroke-width="0.6"/>
<line x1="38.00" y1="163.30" x2="39.00" y2="163.30" stroke="#999" stroke-width="0.6"/>
<line x1="38.00" y1="168.30" x2="39.00" y2="168.30" stroke="#999" stroke-width="0.6"/>
<line x1="38.00" y1="173.30" x2="39.00" y2="173.30" stroke="#999" stroke-width="0.6"/>
<line x1="38.00" y1="178.30" x2="39.00" y2="178.30" stroke="#999" stroke-width="0.6"/>
<line x1="38.00" y1="183.30" x2="39.00" y2="183.30" stroke="#999" stroke-width="0.6"/>
<line x1="38.00" y1="188.30" x2="39.00" y2="188.30" stroke="#999" stroke-width="0.6"/>
<line x1="38.00" y1="193.30" x2="39.00" y2="193.30" stroke="#999" stroke-width="0.6"/>
<line x1="38.00" y1="198.30" x2="39.00" y2="198.30" stroke="#999" stroke-width="0.6"/>
<line x1="38.00" y1="203.30" x2="39.00" y2="203.30" stroke="#999" stroke-width="0.6"/>
<line x1="38.00" y1="208.30" x2="39.00" y2="208.30" stroke="#999" stroke-width="0.6"/>
<line x1="38.00" y1="213.30" x2="39.00" y2="213.30" stroke="#999" stroke-width="0.6"/>
<line x1="38.00" y1="218.30" x2="39.00" y2="218.30" stroke="#999" stroke-width="0.6"/>
<line x1="38.00" y1="223.30" x2="39.00" y2="223.30" stroke="#999" stroke-width="0.6"/>
<line x1="38.00" y1="228.30" x2="39.00" y2="228.30" stroke="#999" stroke-width="0.6"/>
<path d="M55.1 236.3v1.3M62.2 236.3v1.3M69.4 236.3v1.3M82.4 236.3v1.3M85.8 236.3v1.3M88.2 236.3v1.3M90.1 236.3v1.3M91.7 236.3v1.3M93.0 236.3v1.3M94.1 236.3v1.3M95.1 236.3v1.3M101.9 236.3v1.3M105.3 236.3v1.3M107.7 236.3v1.3M109.6 236.3v1.3M111.2 236.3v1.3M112.5 236.3v1.3M113.6 236.3v1.3M114.6 236.3v1.3" stroke="#666" stroke-width="0.5" fill="none"/>
<rect x="37.40" y="227.80" width="1.6" height="2.4" fill="#000"/>
<line x1="48.00" y1="236.30" x2="48.00" y2="238.10" stroke="#555" stroke-width="0.8"/>
<text x="48.00" y="248.60" font-size="7.7" text-anchor="middle" fill="#111" stroke="#111" stroke-width="0.2">0</text>
<line x1="76.50" y1="236.30" x2="76.50" y2="238.10" stroke="#555" stroke-width="0.8"/>
<text x="76.50" y="248.60" font-size="7.7" text-anchor="middle" fill="#111" stroke="#111" stroke-width="0.2">10<tspan font-size="4.77" dy="-2.93">3</tspan></text>
<line x1="96.00" y1="236.30" x2="96.00" y2="238.10" stroke="#555" stroke-width="0.8"/>
<text x="96.00" y="248.60" font-size="7.7" text-anchor="middle" fill="#111" stroke="#111" stroke-width="0.2">10<tspan font-size="4.77" dy="-2.93">4</tspan></text>
<line x1="115.50" y1="236.30" x2="115.50" y2="238.10" stroke="#555" stroke-width="0.8"/>
<text x="115.50" y="248.60" font-size="7.7" text-anchor="middle" fill="#111" stroke="#111" stroke-width="0.2">10<tspan font-size="4.77" dy="-2.93">5</tspan></text>
<rect x="46.00" y="236.00" width="4" height="1.6" fill="#000"/>
<g transform="translate(80.60,262.00) scale(0.558,1)"><text x="0" y="0" font-size="11.0" text-anchor="middle" font-weight="normal" font-style="normal" fill="#111"  stroke="#111" stroke-width="0.35">CD38</text></g>
<rect x="41.20" y="162.40" width="36.20" height="20.80" fill="none" stroke="#e8161b" stroke-width="1.6"/>
<rect x="81.10" y="162.40" width="36.20" height="27.90" fill="none" stroke="#1b1be0" stroke-width="1.6"/>
<text x="41.70" y="197.00" font-size="13.2" font-weight="bold" fill="#e8161b">2%</text>
<text x="94.80" y="207.00" font-size="13.2" font-weight="bold" fill="#1b1be0">93%</text>
<rect x="39.00" y="270.50" width="85.60" height="85.00" fill="#fff" stroke="#c4c4c4" stroke-width="0.9"/>
<g clip-path="url(#cA2)">
<path d="M104.4 334.2h.6M103.1 327.1h.6M84.5 339.3h.6M106.3 323.1h.6M46.6 334.4h.6M97.2 331.4h.6M72.9 342.4h.6M92.5 343.3h.6M80.4 329.9h.6M56.4 345.0h.6M50.7 336.0h.6M45.5 335.0h.6M59.7 323.2h.6M68.6 349.9h.6M83.6 327.1h.6M86.2 324.1h.6M94.5 326.8h.6M71.7 330.2h.6M89.0 321.5h.6M93.2 330.4h.6M89.7 338.9h.6M62.6 324.7h.6M121.6 318.9h.6M105.0 343.0h.6M56.1 333.9h.6M95.8 326.5h.6M97.3 342.5h.6M63.9 343.2h.6M78.4 335.7h.6M88.6 326.5h.6M65.4 327.3h.6M96.0 335.2h.6M88.0 318.8h.6M56.2 340.1h.6M77.8 338.5h.6M98.3 337.9h.6M57.0 321.1h.6M73.8 324.4h.6M104.6 319.3h.6M62.0 341.5h.6M107.8 329.4h.6M86.0 327.9h.6M119.7 340.5h.6M93.7 341.7h.6M80.4 336.8h.6M90.7 335.6h.6M62.3 330.0h.6M88.8 337.7h.6M68.6 333.7h.6M77.5 322.0h.6M83.1 339.1h.6M76.3 334.9h.6M81.7 341.6h.6M82.8 337.0h.6M94.9 343.9h.6M85.6 327.3h.6M102.2 332.9h.6M52.1 331.1h.6M95.6 330.0h.6M117.1 336.9h.6M82.5 354.2h.6M49.1 331.3h.6M41.1 342.7h.6M75.4 322.5h.6M78.1 347.1h.6M58.9 327.5h.6M100.4 341.6h.6M91.5 324.5h.6M68.4 333.3h.6M80.0 338.6h.6M75.0 332.4h.6M67.3 332.1h.6M88.8 327.4h.6M97.0 329.9h.6M31.4 341.8h.6M90.2 333.8h.6M102.9 333.3h.6M89.0 334.1h.6M81.7 318.3h.6M56.2 335.8h.6M68.5 321.3h.6M76.8 332.8h.6M71.5 339.3h.6M87.5 340.7h.6M70.6 344.8h.6M58.7 343.1h.6M84.3 337.1h.6M86.9 338.8h.6M96.9 335.9h.6M104.9 334.0h.6M52.0 322.9h.6M60.2 325.7h.6M102.7 335.2h.6M89.2 330.2h.6M61.7 338.7h.6M48.3 318.5h.6M106.4 339.9h.6M48.6 334.8h.6M39.4 339.9h.6M77.0 332.6h.6M110.1 340.7h.6M90.1 337.3h.6M75.9 346.9h.6M78.5 332.7h.6M74.0 355.1h.6M95.6 335.3h.6M81.6 339.9h.6M75.4 327.6h.6M57.9 325.1h.6M67.2 342.3h.6M84.7 332.1h.6M77.7 331.7h.6M70.6 337.1h.6M96.0 328.2h.6M82.4 336.9h.6M51.3 316.1h.6M70.9 340.9h.6M69.4 329.8h.6M110.2 317.9h.6M77.3 341.2h.6M57.4 340.2h.6M87.7 334.0h.6M94.4 332.5h.6M72.0 339.3h.6M84.9 335.5h.6M75.4 337.9h.6M65.9 350.1h.6M72.5 311.8h.6M96.7 339.1h.6M96.1 346.1h.6M103.4 346.6h.6M59.8 331.6h.6M68.7 334.5h.6M148.3 325.6h.6M122.3 338.4h.6M78.9 334.2h.6M105.9 333.3h.6M73.1 332.2h.6M81.2 333.6h.6M79.2 344.3h.6M56.5 330.1h.6M81.7 323.6h.6M80.9 331.6h.6M102.2 348.4h.6M92.9 335.5h.6M57.5 315.7h.6M68.9 343.2h.6M89.5 329.3h.6M92.8 342.5h.6M89.3 333.2h.6M64.3 339.9h.6M69.6 329.8h.6M86.9 335.5h.6M65.0 342.2h.6M111.4 332.4h.6M53.1 329.4h.6M60.5 339.4h.6M105.2 340.1h.6M102.8 334.5h.6M94.6 334.6h.6M85.5 329.1h.6M70.1 356.0h.6M61.3 330.6h.6M90.4 334.4h.6M74.7 323.7h.6M33.8 336.2h.6M97.9 334.9h.6M76.6 336.0h.6M59.0 317.9h.6M87.5 321.0h.6M85.9 323.2h.6M93.2 345.7h.6M85.0 342.6h.6M84.5 324.9h.6M72.3 337.6h.6M79.1 328.5h.6M98.7 331.6h.6M101.3 326.3h.6M63.5 333.8h.6M84.1 338.9h.6M88.0 330.4h.6M59.2 334.6h.6M95.0 329.4h.6M75.3 318.1h.6M91.8 329.4h.6M90.4 331.7h.6M112.2 340.2h.6M63.5 339.5h.6M63.1 336.5h.6M91.4 338.3h.6M95.2 335.9h.6M102.5 321.5h.6M85.2 323.7h.6M75.9 345.4h.6M88.9 335.3h.6M80.6 333.4h.6M50.8 328.8h.6M110.1 325.8h.6M80.7 331.4h.6M74.8 340.6h.6M85.7 340.5h.6M72.2 346.8h.6M68.4 346.8h.6M79.9 333.2h.6M74.4 327.2h.6M83.2 323.4h.6M73.0 338.2h.6M62.2 332.5h.6M118.1 335.5h.6M83.6 335.4h.6M55.2 344.6h.6M89.6 340.7h.6M79.8 317.4h.6M84.0 328.7h.6M103.9 344.2h.6M105.6 333.5h.6M49.2 327.1h.6M70.3 337.1h.6M71.7 349.8h.6M93.3 340.7h.6M88.5 325.7h.6M71.3 315.9h.6M75.4 317.9h.6M70.1 340.3h.6M107.5 344.1h.6M94.4 330.6h.6M29.5 335.1h.6M83.8 335.8h.6M79.4 332.0h.6M53.0 326.3h.6M57.8 342.4h.6M62.9 346.1h.6M91.7 335.3h.6M105.4 338.9h.6M67.8 338.6h.6M23.9 327.5h.6M102.1 339.2h.6M86.5 328.6h.6M74.1 334.5h.6M47.1 325.0h.6M37.3 327.7h.6M89.7 351.2h.6M62.0 333.2h.6M83.3 336.4h.6M116.3 345.0h.6M85.4 347.7h.6M64.9 340.1h.6M90.4 317.4h.6M96.3 333.6h.6M84.1 338.2h.6M67.0 335.3h.6M77.4 337.8h.6M76.6 352.1h.6M63.5 334.8h.6M67.4 331.0h.6M65.7 334.0h.6M83.6 350.7h.6M96.3 334.9h.6M67.4 336.2h.6M76.3 320.1h.6M21.0 331.3h.6M95.5 343.4h.6M96.6 316.2h.6M42.7 338.7h.6M67.7 318.3h.6M78.8 343.7h.6M69.3 347.5h.6M65.0 327.9h.6M60.6 320.4h.6M45.0 347.6h.6M67.8 352.4h.6M71.2 325.2h.6M43.4 335.4h.6M83.7 343.5h.6M114.7 337.5h.6M79.8 323.8h.6M84.8 358.3h.6M89.0 347.2h.6M43.2 329.4h.6M88.0 347.9h.6M102.2 326.2h.6M59.8 323.4h.6M53.2 344.9h.6M101.2 352.3h.6M67.8 329.9h.6M45.2 330.4h.6M123.2 327.3h.6M67.6 332.1h.6M126.8 322.4h.6M75.7 351.2h.6M105.0 346.1h.6M64.0 334.4h.6M70.2 342.7h.6M79.1 350.5h.6M79.6 315.6h.6M109.8 331.1h.6M96.3 337.1h.6M102.7 345.7h.6M59.6 340.5h.6M76.3 338.0h.6M76.9 324.5h.6M95.8 340.3h.6M49.2 350.8h.6M28.9 334.0h.6M79.6 338.4h.6M49.4 341.2h.6M71.5 327.0h.6M91.8 336.8h.6M70.7 345.5h.6M89.4 342.9h.6M75.7 360.5h.6M89.3 338.9h.6M50.2 341.6h.6M105.7 338.5h.6M79.8 330.4h.6M69.5 326.2h.6M72.1 345.3h.6M78.4 325.3h.6M47.8 342.3h.6M82.7 324.0h.6M90.3 335.9h.6M107.4 340.8h.6M75.5 325.9h.6M99.5 328.8h.6M56.6 349.0h.6M96.4 330.6h.6M38.2 327.9h.6M92.3 338.9h.6M69.5 328.2h.6M96.4 337.7h.6" fill="none" stroke="#111" stroke-opacity="0.5" stroke-width="0.6"/>
<path d="M75.7 349.7h.6M72.6 348.5h.6M81.7 332.5h.6M66.2 345.0h.6M84.7 339.6h.6M88.9 345.8h.6M87.5 338.7h.6M74.7 346.1h.6M87.3 338.8h.6M91.5 346.5h.6M74.3 345.6h.6M84.7 337.9h.6M99.8 340.2h.6M82.6 332.9h.6M83.8 350.0h.6M79.5 345.3h.6M87.5 349.3h.6M90.1 335.4h.6M88.5 354.2h.6M86.9 340.8h.6M90.7 343.9h.6M93.2 338.8h.6M81.4 336.1h.6M92.1 350.3h.6M95.4 351.1h.6M80.5 344.0h.6M86.2 341.1h.6M89.4 337.1h.6M76.5 348.6h.6M80.0 342.7h.6M99.1 347.6h.6M84.5 346.7h.6M67.8 341.0h.6M102.5 352.7h.6M83.9 338.9h.6M75.2 339.9h.6M93.3 343.6h.6M87.0 346.7h.6M81.8 342.4h.6M91.2 348.3h.6M88.9 350.6h.6M74.8 334.8h.6M81.9 345.3h.6M83.5 341.9h.6M89.2 347.4h.6M84.8 338.8h.6M87.1 348.1h.6M92.7 339.3h.6M89.7 351.4h.6M87.1 340.3h.6M74.2 333.3h.6M84.6 344.8h.6M78.3 338.7h.6M69.0 341.3h.6M90.2 341.9h.6M74.8 342.9h.6M77.3 344.4h.6M87.4 331.5h.6M86.2 342.8h.6M93.0 343.5h.6M88.4 340.2h.6M66.8 343.2h.6M63.3 343.8h.6M83.4 335.8h.6M74.3 346.5h.6M81.4 342.7h.6M83.2 342.2h.6M81.5 348.3h.6M92.8 333.1h.6M74.1 340.8h.6M83.0 345.3h.6M88.9 334.7h.6M85.7 333.3h.6M83.3 353.2h.6M75.3 349.3h.6M80.7 348.4h.6M75.5 345.0h.6M111.4 339.4h.6M81.7 345.1h.6M78.8 336.1h.6M66.0 335.9h.6M88.4 342.4h.6M77.2 333.4h.6M92.8 350.7h.6M87.7 336.8h.6M73.1 338.9h.6M91.1 343.2h.6M84.5 345.7h.6M108.8 339.1h.6M88.0 350.6h.6M87.4 343.7h.6M76.5 340.3h.6M99.4 351.8h.6M88.4 349.5h.6M79.9 335.9h.6M94.9 339.2h.6M78.0 355.9h.6M94.3 345.7h.6M80.1 342.0h.6M83.1 337.8h.6M92.9 348.3h.6M89.7 334.6h.6M98.7 345.9h.6M84.7 348.4h.6M75.6 345.9h.6M94.5 341.0h.6M74.9 340.5h.6M88.2 340.7h.6M87.3 344.0h.6M80.9 348.6h.6M83.6 355.7h.6M96.3 345.1h.6M74.0 342.9h.6M94.5 344.2h.6M96.8 338.6h.6M79.5 344.0h.6M70.4 337.0h.6M87.7 349.0h.6M74.4 342.3h.6M80.6 344.3h.6M92.8 341.7h.6M79.9 344.0h.6M101.1 339.7h.6M85.7 352.8h.6M78.8 344.1h.6M71.2 335.2h.6M79.1 341.7h.6M77.5 336.4h.6M83.0 344.0h.6M90.6 337.8h.6M95.4 341.6h.6M91.4 336.5h.6M89.5 342.5h.6M96.0 338.6h.6M84.7 336.4h.6M97.2 345.4h.6M84.2 338.4h.6M87.3 346.9h.6M93.2 347.0h.6M85.3 345.1h.6M81.0 347.3h.6M96.6 336.8h.6M89.2 354.3h.6M95.1 343.0h.6M86.2 334.3h.6M83.8 342.7h.6M84.5 351.2h.6M100.6 340.6h.6M69.6 356.0h.6M82.0 339.6h.6M86.1 338.9h.6M85.5 343.7h.6M91.6 345.2h.6M93.3 341.8h.6M88.1 348.4h.6M85.1 342.6h.6M73.7 347.9h.6M74.1 341.2h.6M78.5 344.1h.6M90.0 343.3h.6" fill="none" stroke="#111" stroke-opacity="0.5" stroke-width="0.6"/>
<path d="M114.6 322.5h.6M102.0 334.6h.6M105.6 335.7h.6M107.6 333.2h.6M107.0 331.6h.6M115.1 331.4h.6M103.6 336.3h.6M110.5 335.0h.6M100.6 330.7h.6M108.8 333.6h.6M112.2 333.3h.6M107.3 332.6h.6M107.3 332.8h.6M108.8 338.6h.6M115.9 330.5h.6M109.7 326.9h.6M104.7 336.5h.6M102.1 333.3h.6M108.3 332.7h.6M112.9 325.9h.6M109.3 329.1h.6M109.2 330.8h.6M108.6 326.1h.6M109.7 327.6h.6M114.1 330.6h.6M117.2 329.2h.6M100.7 337.1h.6M104.4 332.7h.6M104.3 325.2h.6M113.3 331.0h.6M110.5 332.9h.6M104.6 333.3h.6M112.2 330.9h.6M102.0 331.8h.6M112.7 334.2h.6M115.7 333.4h.6M108.5 329.5h.6M105.7 331.4h.6M106.2 327.0h.6M106.3 330.3h.6M112.0 329.1h.6M116.2 329.0h.6M106.0 327.2h.6M109.8 329.4h.6M108.3 335.0h.6M114.7 330.6h.6M109.0 328.3h.6M104.7 336.9h.6M106.4 331.1h.6M109.4 333.1h.6M106.9 330.5h.6M110.8 325.3h.6M112.7 334.4h.6M106.9 325.6h.6M101.0 333.3h.6M97.4 334.3h.6M111.8 328.8h.6M108.8 334.3h.6M114.9 338.7h.6M108.6 324.6h.6M105.4 336.6h.6M103.7 329.7h.6M111.7 330.7h.6M109.8 330.5h.6M103.9 329.3h.6M99.8 331.0h.6M109.7 331.7h.6M97.0 327.5h.6M112.1 327.3h.6M116.5 321.5h.6M98.2 332.1h.6M102.8 337.9h.6M110.0 340.1h.6M107.8 338.5h.6M112.6 327.3h.6M114.0 329.5h.6M109.3 335.3h.6M116.2 334.8h.6M99.4 329.9h.6M112.1 326.4h.6M103.6 332.1h.6M109.5 329.7h.6M113.9 337.9h.6M97.5 331.8h.6M106.1 338.0h.6M112.7 329.6h.6M110.9 332.9h.6M111.4 326.5h.6M102.5 334.2h.6M115.4 333.6h.6M107.1 333.5h.6M109.2 336.5h.6M109.1 341.8h.6M112.6 329.0h.6M116.7 338.1h.6M109.9 330.6h.6M113.0 331.3h.6M113.1 332.7h.6M115.9 327.5h.6M107.2 331.9h.6M112.4 333.8h.6M114.5 331.5h.6M115.4 334.5h.6M103.0 332.0h.6M117.4 329.3h.6M111.3 330.2h.6M110.1 335.0h.6M99.7 334.2h.6M112.9 335.6h.6M113.7 331.1h.6M107.0 326.7h.6M109.3 334.0h.6M103.1 329.5h.6M115.6 331.3h.6M112.2 334.8h.6M100.2 328.2h.6M115.0 332.2h.6M107.2 334.8h.6M115.3 331.6h.6M113.1 330.2h.6M102.1 331.1h.6M111.3 333.0h.6M114.8 333.0h.6M110.3 330.2h.6M108.4 332.2h.6M104.2 331.5h.6M107.9 328.4h.6M110.1 327.9h.6M109.8 337.9h.6M100.8 337.4h.6M114.3 334.7h.6M102.1 326.6h.6M111.8 328.6h.6M100.4 332.2h.6M110.2 331.2h.6M115.0 330.5h.6M109.6 335.7h.6M117.0 325.1h.6M111.6 334.4h.6M111.3 330.5h.6M107.7 330.0h.6M110.5 327.1h.6M108.3 329.8h.6M114.1 330.2h.6M107.0 329.9h.6M110.7 333.3h.6M116.9 332.2h.6M114.3 328.0h.6M111.6 332.8h.6M111.2 335.1h.6M110.4 325.1h.6M121.7 326.3h.6M110.4 330.3h.6M116.9 326.3h.6M111.6 330.0h.6M110.7 330.8h.6M107.3 333.3h.6M110.3 338.1h.6M109.0 327.7h.6M116.5 329.4h.6M98.8 322.9h.6M114.2 323.5h.6M108.0 330.4h.6M108.4 335.4h.6M108.3 330.4h.6M113.9 330.6h.6M112.2 331.6h.6M107.6 341.7h.6M115.0 327.8h.6M109.4 326.0h.6M110.7 338.1h.6M110.7 336.0h.6M110.6 334.9h.6M116.3 330.6h.6M111.7 336.3h.6M106.4 329.9h.6M112.1 336.7h.6M115.3 327.6h.6M106.2 333.6h.6M110.1 337.4h.6M109.9 336.4h.6M106.4 329.7h.6M116.0 329.5h.6M121.6 327.8h.6M104.5 328.6h.6M112.3 328.0h.6M114.5 327.4h.6M103.2 330.3h.6M109.0 334.5h.6M102.9 336.4h.6M112.4 328.5h.6M115.3 338.7h.6M109.1 332.6h.6M105.6 333.6h.6M112.0 328.9h.6M116.3 329.8h.6M107.9 335.1h.6M103.4 332.7h.6M107.6 328.3h.6M114.2 332.5h.6M105.6 333.3h.6M103.8 335.4h.6M108.0 337.9h.6M111.7 333.5h.6M110.5 328.0h.6M108.9 326.3h.6M112.5 333.7h.6M118.9 330.3h.6M104.8 329.9h.6M112.9 329.1h.6M100.9 330.5h.6M103.1 332.0h.6M102.6 333.4h.6M110.4 333.2h.6M105.6 334.8h.6M117.7 332.9h.6M115.6 336.3h.6M96.7 330.6h.6M116.6 325.2h.6M113.4 331.7h.6M107.9 327.9h.6M113.7 337.6h.6M108.6 333.1h.6M110.8 334.7h.6M112.1 329.4h.6M108.0 332.4h.6M108.5 338.8h.6M104.5 328.5h.6M110.2 325.5h.6M117.3 327.1h.6" fill="none" stroke="#111" stroke-opacity="0.65" stroke-width="0.6"/>
<path d="M54.5 292.2h.6M41.4 298.4h.6M49.7 296.6h.6M50.9 298.7h.6M49.3 301.8h.6M46.9 298.0h.6M50.5 295.0h.6M41.4 297.5h.6M50.0 299.2h.6M54.0 299.2h.6M58.0 298.3h.6M61.7 296.2h.6M46.8 298.9h.6M57.1 296.4h.6M52.9 290.8h.6M45.6 299.4h.6M55.8 297.6h.6M58.4 298.7h.6M56.8 296.8h.6M46.4 300.3h.6M59.0 292.2h.6M61.1 298.9h.6M57.5 296.6h.6M46.3 299.1h.6M51.2 296.3h.6M50.4 299.0h.6M38.2 292.7h.6M55.1 297.5h.6M71.8 295.6h.6M58.8 296.9h.6M50.3 299.4h.6M40.4 299.3h.6M56.5 295.4h.6M42.2 303.4h.6M58.2 296.5h.6M49.7 298.6h.6M66.9 300.1h.6M49.2 298.8h.6M63.2 298.9h.6M56.4 293.2h.6M40.6 293.8h.6M47.3 293.2h.6M65.4 294.7h.6M54.0 299.3h.6M67.9 289.2h.6M48.2 299.9h.6M56.0 295.6h.6M56.0 298.9h.6M51.5 298.3h.6M45.1 301.3h.6M52.2 292.2h.6M49.0 297.0h.6M50.5 296.9h.6M58.3 293.8h.6M58.6 300.2h.6M68.7 297.8h.6M57.5 301.4h.6M60.9 295.7h.6M68.4 293.6h.6M58.6 296.5h.6M54.9 302.8h.6M61.1 292.6h.6M56.2 297.7h.6M55.4 294.1h.6M53.5 294.9h.6M37.8 295.4h.6M45.7 292.7h.6M60.1 300.7h.6M47.6 292.6h.6M46.2 295.8h.6M59.5 295.3h.6M50.8 292.2h.6M46.4 295.8h.6M40.8 293.3h.6M47.1 302.8h.6M58.4 297.1h.6M63.9 296.5h.6M52.4 294.7h.6M62.8 301.5h.6M34.6 295.2h.6M66.5 299.3h.6M47.7 299.8h.6M59.5 296.1h.6M62.2 292.0h.6M52.7 296.4h.6M59.2 294.6h.6M58.9 296.5h.6M56.9 299.0h.6M58.9 300.3h.6M52.9 296.5h.6M43.4 303.7h.6M50.8 294.9h.6M43.6 301.2h.6M48.6 297.4h.6M56.7 300.4h.6M59.7 296.8h.6M63.6 294.3h.6M56.6 299.5h.6M50.2 299.1h.6M52.4 298.9h.6M54.5 294.5h.6M47.6 300.1h.6M60.3 293.1h.6M62.9 293.2h.6M59.3 292.0h.6M44.6 297.0h.6M44.8 291.0h.6M56.3 299.9h.6M59.2 298.7h.6M65.9 294.9h.6" fill="none" stroke="#111" stroke-opacity="0.5" stroke-width="0.6"/>
<path d="M90.1 288.0h.6M83.7 287.6h.6M82.9 307.7h.6M95.9 308.8h.6M72.8 303.1h.6M84.0 289.1h.6M97.1 308.0h.6M96.9 288.6h.6M88.8 287.6h.6M73.6 290.4h.6M100.7 308.1h.6M107.7 306.1h.6M105.4 306.2h.6M67.6 300.2h.6M99.4 309.0h.6M109.8 294.8h.6M108.1 294.5h.6M94.7 308.4h.6M78.4 289.4h.6M113.5 299.7h.6M98.1 308.3h.6M93.3 288.8h.6M101.7 290.7h.6M73.5 289.8h.6M88.0 309.5h.6M86.4 308.8h.6M97.9 289.3h.6M69.2 300.6h.6M70.7 302.6h.6M111.0 302.6h.6M65.2 293.2h.6M92.0 287.6h.6M97.7 308.4h.6M69.2 301.1h.6M78.0 305.0h.6M99.6 308.7h.6M98.7 308.5h.6M98.0 289.7h.6M97.3 288.8h.6M105.4 291.2h.6M78.4 289.8h.6M74.1 289.5h.6M96.3 289.8h.6M68.8 302.0h.6M98.4 308.0h.6M62.3 294.0h.6M96.4 288.5h.6M103.1 289.9h.6M63.1 297.9h.6M62.8 295.2h.6M75.9 305.6h.6M69.8 301.2h.6M72.9 290.5h.6M111.8 300.8h.6M102.5 291.5h.6M81.7 289.8h.6M64.7 294.8h.6M90.3 287.8h.6M84.5 308.8h.6M100.3 307.9h.6M89.3 308.5h.6M70.3 292.3h.6M73.6 303.5h.6M110.4 294.1h.6M103.9 306.6h.6M110.9 296.7h.6M79.8 306.0h.6M77.2 307.0h.6M74.1 304.3h.6M69.2 301.1h.6M83.1 289.5h.6M105.7 290.3h.6M89.1 309.1h.6M111.4 302.8h.6M105.9 305.4h.6M99.0 309.3h.6M86.1 287.6h.6M80.1 307.3h.6M77.0 289.6h.6M67.1 292.1h.6M96.6 289.5h.6M103.3 307.5h.6M96.8 289.1h.6M105.2 306.1h.6M77.6 304.8h.6M85.1 288.5h.6M69.5 291.9h.6M94.4 310.3h.6M74.8 304.0h.6M101.4 289.1h.6M77.4 288.2h.6M88.2 307.9h.6M90.1 286.6h.6M99.9 289.5h.6M98.9 309.6h.6M98.1 289.6h.6M107.8 306.2h.6M91.9 288.6h.6M103.4 290.6h.6M79.8 289.4h.6M71.5 290.2h.6M87.5 287.7h.6M92.9 287.4h.6M95.0 289.3h.6M73.6 291.1h.6M76.2 289.4h.6M83.0 288.8h.6M111.3 297.5h.6M106.1 305.6h.6M73.5 290.8h.6M71.4 302.0h.6M63.0 296.1h.6M72.8 291.0h.6M104.3 291.6h.6M60.8 295.7h.6M61.8 293.6h.6M107.7 293.4h.6M86.2 307.6h.6M87.8 288.1h.6M71.6 292.1h.6M109.3 304.6h.6M74.3 303.0h.6M64.2 298.7h.6M104.9 306.6h.6M86.4 286.7h.6M76.6 289.3h.6M69.9 302.1h.6M111.0 297.3h.6M109.2 304.7h.6M100.5 289.3h.6M83.0 307.0h.6M105.5 305.8h.6M108.8 295.1h.6M82.0 307.7h.6M111.1 301.3h.6M98.3 289.0h.6M92.0 308.1h.6M108.6 305.9h.6M112.9 300.0h.6M65.4 297.9h.6M108.5 294.1h.6M107.4 291.2h.6M83.6 288.7h.6M66.0 292.9h.6M108.3 292.1h.6M68.4 300.8h.6M89.8 309.0h.6M89.0 308.6h.6M96.8 287.7h.6M110.3 294.1h.6M80.8 307.1h.6M85.3 308.9h.6M110.8 303.9h.6M110.3 303.1h.6M70.6 291.8h.6M86.5 307.4h.6M65.4 293.8h.6M77.4 304.4h.6M97.0 308.9h.6M81.1 288.1h.6M107.5 305.3h.6M102.9 307.3h.6M72.8 291.0h.6M97.1 289.5h.6M98.6 309.6h.6M66.1 293.6h.6M83.3 307.0h.6M86.7 286.9h.6M75.5 290.9h.6M73.5 291.4h.6M102.4 290.7h.6M89.4 287.1h.6M109.4 295.9h.6M82.2 289.0h.6M74.6 291.1h.6M106.0 306.0h.6M88.6 308.5h.6M73.3 290.5h.6M62.8 295.7h.6M94.9 309.6h.6M93.7 288.2h.6M108.2 305.3h.6M85.6 288.9h.6M106.5 306.6h.6M97.5 287.5h.6M110.8 296.3h.6M61.2 296.1h.6M108.2 293.8h.6M63.5 295.3h.6M100.8 289.8h.6M104.7 306.7h.6M104.0 290.5h.6M67.5 292.4h.6M62.2 295.4h.6M69.7 291.5h.6M70.2 291.6h.6M100.1 307.7h.6M87.0 307.8h.6M80.3 287.8h.6M95.4 310.2h.6M71.5 302.7h.6M103.6 290.8h.6M77.9 305.6h.6M85.4 288.9h.6M65.0 299.8h.6M64.2 297.0h.6M72.7 290.2h.6M82.6 288.6h.6M91.8 287.8h.6M112.0 300.4h.6M89.8 310.0h.6M98.6 308.4h.6M73.5 304.2h.6M111.2 301.3h.6M68.6 292.7h.6M94.9 309.0h.6M82.4 288.6h.6M70.6 302.4h.6M111.5 299.3h.6M99.5 310.0h.6M73.0 303.6h.6M110.5 303.1h.6M103.4 307.0h.6M89.6 309.3h.6M88.6 288.4h.6M82.5 308.2h.6M112.0 298.1h.6M67.4 299.9h.6M77.0 304.2h.6M75.0 305.2h.6M72.9 290.1h.6M112.8 299.1h.6M97.1 288.7h.6M63.3 295.2h.6M68.2 300.3h.6M88.0 287.4h.6M87.9 286.5h.6M65.1 298.5h.6M80.9 305.9h.6M106.6 306.2h.6" fill="none" stroke="#111" stroke-opacity="0.6" stroke-width="0.6"/>
<g stroke="#000" stroke-opacity="0.3" stroke-width="0.35" filter="url(#fb5)">
<path d="M63.0 295.8C63.7 294.7 67.2 293.4 70.0 292.3C72.8 291.2 76.7 290.1 80.0 289.5C83.3 288.9 86.7 288.7 90.0 288.8C93.3 288.9 97.0 289.5 100.0 290.3C103.0 291.1 106.1 292.2 108.0 293.8C109.9 295.4 111.3 297.8 111.5 299.6C111.7 301.4 110.9 303.1 109.0 304.5C107.1 305.9 103.2 307.1 100.0 307.8C96.8 308.5 93.3 308.9 90.0 308.5C86.7 308.1 83.0 306.6 80.0 305.5C77.0 304.4 74.3 303.1 72.0 302.0C69.7 300.9 67.5 300.0 66.0 299.0C64.5 298.0 62.3 296.9 63.0 295.8Z" fill="#888888"/>
<path d="M66.5 296.3C67.1 295.3 70.1 294.2 72.5 293.2C75.0 292.3 78.3 291.3 81.1 290.8C84.0 290.3 86.9 290.1 89.7 290.2C92.6 290.4 95.7 290.8 98.3 291.5C100.9 292.2 103.5 293.2 105.2 294.5C106.8 295.9 108.0 298.0 108.2 299.5C108.3 301.0 107.7 302.5 106.0 303.7C104.4 304.9 101.0 306.0 98.3 306.6C95.6 307.1 92.6 307.5 89.7 307.2C86.9 306.8 83.7 305.5 81.1 304.6C78.6 303.6 76.3 302.5 74.3 301.6C72.3 300.6 70.4 299.9 69.1 299.0C67.8 298.1 66.0 297.2 66.5 296.3Z" fill="#717171"/>
<path d="M70.1 296.7C70.6 295.9 73.1 295.0 75.1 294.2C77.1 293.4 79.9 292.6 82.3 292.2C84.7 291.8 87.0 291.6 89.4 291.7C91.8 291.8 94.4 292.2 96.6 292.8C98.8 293.4 101.0 294.2 102.3 295.3C103.7 296.4 104.7 298.2 104.8 299.4C105.0 300.7 104.4 302.0 103.0 302.9C101.7 303.9 98.9 304.8 96.6 305.3C94.3 305.8 91.8 306.1 89.4 305.8C87.0 305.5 84.4 304.4 82.3 303.7C80.1 302.9 78.2 301.9 76.5 301.1C74.9 300.4 73.3 299.7 72.2 299.0C71.2 298.3 69.6 297.5 70.1 296.7Z" fill="#6e6e6e"/>
<path d="M73.6 297.2C74.0 296.5 76.0 295.8 77.7 295.1C79.3 294.5 81.5 293.9 83.4 293.5C85.3 293.2 87.2 293.1 89.2 293.1C91.1 293.2 93.2 293.5 94.9 294.0C96.6 294.5 98.4 295.1 99.5 296.0C100.6 296.9 101.4 298.3 101.5 299.3C101.6 300.4 101.2 301.4 100.1 302.2C99.0 302.9 96.7 303.7 94.9 304.1C93.1 304.4 91.1 304.7 89.2 304.5C87.2 304.2 85.1 303.4 83.4 302.7C81.7 302.1 80.1 301.3 78.8 300.7C77.5 300.1 76.2 299.6 75.3 299.0C74.5 298.4 73.2 297.8 73.6 297.2Z" fill="#7d7d7d"/>
<path d="M77.2 297.6C77.5 297.1 79.0 296.6 80.2 296.1C81.4 295.6 83.1 295.1 84.5 294.9C86.0 294.6 87.4 294.5 88.9 294.6C90.3 294.6 91.9 294.9 93.2 295.2C94.5 295.6 95.8 296.1 96.7 296.7C97.5 297.4 98.1 298.5 98.2 299.3C98.3 300.0 97.9 300.8 97.1 301.4C96.3 302.0 94.6 302.5 93.2 302.8C91.8 303.1 90.3 303.3 88.9 303.1C87.4 303.0 85.8 302.3 84.5 301.8C83.2 301.3 82.1 300.8 81.1 300.3C80.1 299.8 79.1 299.4 78.5 299.0C77.8 298.6 76.9 298.1 77.2 297.6Z" fill="#8c8c8c"/>
<path d="M80.7 298.1C80.9 297.7 81.9 297.4 82.8 297.0C83.6 296.7 84.7 296.4 85.7 296.2C86.6 296.1 87.6 296.0 88.6 296.0C89.6 296.1 90.6 296.2 91.5 296.5C92.4 296.7 93.3 297.0 93.8 297.5C94.4 297.9 94.8 298.7 94.9 299.2C94.9 299.7 94.7 300.2 94.1 300.6C93.6 301.0 92.4 301.4 91.5 301.6C90.6 301.8 89.6 301.9 88.6 301.8C87.6 301.7 86.5 301.2 85.7 300.9C84.8 300.6 84.0 300.2 83.3 299.9C82.7 299.6 82.0 299.3 81.6 299.0C81.1 298.7 80.5 298.4 80.7 298.1Z" fill="#9b9b9b"/>
<path d="M84.2 298.5C84.3 298.4 84.9 298.2 85.3 298.0C85.7 297.8 86.3 297.7 86.8 297.6C87.3 297.5 87.8 297.5 88.3 297.5C88.8 297.5 89.3 297.6 89.8 297.7C90.2 297.8 90.7 298.0 91.0 298.2C91.3 298.5 91.5 298.8 91.5 299.1C91.6 299.4 91.4 299.6 91.2 299.8C90.9 300.0 90.3 300.2 89.8 300.3C89.3 300.4 88.8 300.5 88.3 300.4C87.8 300.4 87.2 300.1 86.8 300.0C86.3 299.8 85.9 299.6 85.6 299.4C85.2 299.3 84.9 299.2 84.7 299.0C84.5 298.8 84.2 298.7 84.2 298.5Z" fill="#aaaaaa"/>
</g>
<g filter="url(#fb8)">
<ellipse cx="89.0" cy="298.3" rx="12.50" ry="5.80" transform="rotate(10 89.0 298.3)" fill="#777777"/>
<ellipse cx="89.0" cy="298.3" rx="10.73" ry="4.98" transform="rotate(10 89.0 298.3)" fill="#484848"/>
<ellipse cx="89.0" cy="298.3" rx="8.96" ry="4.16" transform="rotate(10 89.0 298.3)" fill="#202020"/>
<ellipse cx="89.0" cy="298.3" rx="7.19" ry="3.33" transform="rotate(10 89.0 298.3)" fill="#131313"/>
<ellipse cx="89.0" cy="298.3" rx="5.42" ry="2.51" transform="rotate(10 89.0 298.3)" fill="#070707"/>
<ellipse cx="89.0" cy="298.3" rx="3.65" ry="1.69" transform="rotate(10 89.0 298.3)" fill="#0a0a0a"/>
<ellipse cx="89.0" cy="298.3" rx="1.88" ry="0.87" transform="rotate(10 89.0 298.3)" fill="#111111"/>
</g>
<path d="M66.0 297.5C65.8 296.4 68.3 295.1 70.0 294.5C71.7 293.9 74.5 293.4 76.0 293.8C77.5 294.2 78.8 295.7 79.0 297.0C79.2 298.3 78.3 300.9 77.0 301.5C75.7 302.1 72.8 301.5 71.0 300.8C69.2 300.1 66.2 298.6 66.0 297.5Z" fill="#eeeeee" stroke="#000" stroke-opacity="0.4" stroke-width="0.4"/>
<path d="M86 297 Q96 298 105 302" stroke="#ddd" stroke-width="0.6" fill="none" opacity="0.7"/>
</g>
<line x1="39.00" y1="270.50" x2="39.00" y2="355.50" stroke="#888" stroke-width="0.9"/>
<line x1="39.00" y1="355.50" x2="124.60" y2="355.50" stroke="#888" stroke-width="0.9"/>
<line x1="37.00" y1="278.30" x2="39.00" y2="278.30" stroke="#555" stroke-width="0.8"/>
<text x="34.00" y="281.00" font-size="7.7" text-anchor="end" fill="#111" stroke="#111" stroke-width="0.2">10<tspan font-size="4.77" dy="-2.93">5</tspan></text>
<line x1="37.00" y1="297.70" x2="39.00" y2="297.70" stroke="#555" stroke-width="0.8"/>
<text x="34.00" y="300.40" font-size="7.7" text-anchor="end" fill="#111" stroke="#111" stroke-width="0.2">10<tspan font-size="4.77" dy="-2.93">4</tspan></text>
<line x1="37.00" y1="317.20" x2="39.00" y2="317.20" stroke="#555" stroke-width="0.8"/>
<text x="34.00" y="319.90" font-size="7.7" text-anchor="end" fill="#111" stroke="#111" stroke-width="0.2">10<tspan font-size="4.77" dy="-2.93">3</tspan></text>
<line x1="37.00" y1="337.10" x2="39.00" y2="337.10" stroke="#555" stroke-width="0.8"/>
<text x="34.00" y="339.80" font-size="7.7" text-anchor="end" fill="#111" stroke="#111" stroke-width="0.2">10<tspan font-size="4.77" dy="-2.93">2</tspan></text>
<line x1="37.00" y1="348.20" x2="39.00" y2="348.20" stroke="#555" stroke-width="0.8"/>
<text x="34.00" y="350.90" font-size="7.7" text-anchor="end" fill="#111" stroke="#111" stroke-width="0.2">0</text>
<line x1="38.00" y1="277.50" x2="39.00" y2="277.50" stroke="#999" stroke-width="0.6"/>
<line x1="38.00" y1="282.50" x2="39.00" y2="282.50" stroke="#999" stroke-width="0.6"/>
<line x1="38.00" y1="287.50" x2="39.00" y2="287.50" stroke="#999" stroke-width="0.6"/>
<line x1="38.00" y1="292.50" x2="39.00" y2="292.50" stroke="#999" stroke-width="0.6"/>
<line x1="38.00" y1="297.50" x2="39.00" y2="297.50" stroke="#999" stroke-width="0.6"/>
<line x1="38.00" y1="302.50" x2="39.00" y2="302.50" stroke="#999" stroke-width="0.6"/>
<line x1="38.00" y1="307.50" x2="39.00" y2="307.50" stroke="#999" stroke-width="0.6"/>
<line x1="38.00" y1="312.50" x2="39.00" y2="312.50" stroke="#999" stroke-width="0.6"/>
<line x1="38.00" y1="317.50" x2="39.00" y2="317.50" stroke="#999" stroke-width="0.6"/>
<line x1="38.00" y1="322.50" x2="39.00" y2="322.50" stroke="#999" stroke-width="0.6"/>
<line x1="38.00" y1="327.50" x2="39.00" y2="327.50" stroke="#999" stroke-width="0.6"/>
<line x1="38.00" y1="332.50" x2="39.00" y2="332.50" stroke="#999" stroke-width="0.6"/>
<line x1="38.00" y1="337.50" x2="39.00" y2="337.50" stroke="#999" stroke-width="0.6"/>
<line x1="38.00" y1="342.50" x2="39.00" y2="342.50" stroke="#999" stroke-width="0.6"/>
<line x1="38.00" y1="347.50" x2="39.00" y2="347.50" stroke="#999" stroke-width="0.6"/>
<path d="M55.1 355.5v1.3M62.2 355.5v1.3M69.4 355.5v1.3M82.4 355.5v1.3M85.8 355.5v1.3M88.2 355.5v1.3M90.1 355.5v1.3M91.7 355.5v1.3M93.0 355.5v1.3M94.1 355.5v1.3M95.1 355.5v1.3M101.9 355.5v1.3M105.3 355.5v1.3M107.7 355.5v1.3M109.6 355.5v1.3M111.2 355.5v1.3M112.5 355.5v1.3M113.6 355.5v1.3M114.6 355.5v1.3" stroke="#666" stroke-width="0.5" fill="none"/>
<rect x="37.40" y="347.00" width="1.6" height="2.4" fill="#000"/>
<line x1="48.00" y1="355.50" x2="48.00" y2="357.30" stroke="#555" stroke-width="0.8"/>
<text x="48.00" y="367.80" font-size="7.7" text-anchor="middle" fill="#111" stroke="#111" stroke-width="0.2">0</text>
<line x1="76.50" y1="355.50" x2="76.50" y2="357.30" stroke="#555" stroke-width="0.8"/>
<text x="76.50" y="367.80" font-size="7.7" text-anchor="middle" fill="#111" stroke="#111" stroke-width="0.2">10<tspan font-size="4.77" dy="-2.93">3</tspan></text>
<line x1="96.00" y1="355.50" x2="96.00" y2="357.30" stroke="#555" stroke-width="0.8"/>
<text x="96.00" y="367.80" font-size="7.7" text-anchor="middle" fill="#111" stroke="#111" stroke-width="0.2">10<tspan font-size="4.77" dy="-2.93">4</tspan></text>
<line x1="115.50" y1="355.50" x2="115.50" y2="357.30" stroke="#555" stroke-width="0.8"/>
<text x="115.50" y="367.80" font-size="7.7" text-anchor="middle" fill="#111" stroke="#111" stroke-width="0.2">10<tspan font-size="4.77" dy="-2.93">5</tspan></text>
<rect x="46.00" y="355.20" width="4" height="1.6" fill="#000"/>
<g transform="translate(80.60,381.20) scale(0.558,1)"><text x="0" y="0" font-size="11.0" text-anchor="middle" font-weight="normal" font-style="normal" fill="#111"  stroke="#111" stroke-width="0.35">CD38</text></g>
<rect x="40.70" y="282.90" width="37.10" height="21.30" fill="none" stroke="#e8161b" stroke-width="1.6"/>
<rect x="80.40" y="282.90" width="36.60" height="28.40" fill="none" stroke="#1b1be0" stroke-width="1.6"/>
<text x="41.60" y="318.10" font-size="13.2" font-weight="bold" fill="#e8161b">13%</text>
<text x="94.90" y="327.40" font-size="13.2" font-weight="bold" fill="#1b1be0">78%</text>
<rect x="39.00" y="389.60" width="85.60" height="85.00" fill="#fff" stroke="#c4c4c4" stroke-width="0.9"/>
<g clip-path="url(#cA3)">
<path d="M73.7 441.2h.8M67.7 447.8h.8M65.1 458.9h.8M75.0 451.5h.8M63.3 457.6h.8M64.7 453.1h.8M62.7 450.0h.8M65.5 449.1h.8M69.9 441.2h.8M64.9 447.5h.8M73.2 450.0h.8M55.8 449.0h.8M81.3 459.1h.8M67.0 442.3h.8M63.1 443.9h.8M73.4 449.5h.8M60.5 454.6h.8M78.7 452.2h.8M75.2 447.4h.8M66.9 454.7h.8M64.6 458.1h.8M73.7 453.0h.8M79.1 446.9h.8M74.0 451.5h.8M83.6 446.4h.8M70.4 445.6h.8M68.3 454.4h.8M79.2 452.3h.8M79.1 452.1h.8M69.7 451.5h.8M69.8 444.2h.8M66.6 446.4h.8M66.6 456.4h.8M66.7 461.6h.8M70.0 448.1h.8M67.3 451.3h.8M74.1 438.8h.8M60.8 464.0h.8M76.3 435.7h.8M65.9 444.8h.8M53.2 439.9h.8M77.2 437.5h.8M74.4 449.6h.8M67.7 449.3h.8M70.5 449.9h.8M71.1 455.7h.8M61.4 439.6h.8M79.7 442.0h.8M68.3 443.6h.8M86.8 456.2h.8M58.8 450.2h.8M54.0 449.1h.8M56.3 444.7h.8M69.0 454.2h.8M68.7 446.1h.8M76.2 463.9h.8M74.5 453.6h.8M72.8 447.2h.8M60.3 452.7h.8M65.7 448.7h.8M68.5 445.5h.8M74.6 445.3h.8M74.2 458.3h.8M56.7 456.3h.8M76.5 459.0h.8M70.0 436.5h.8M81.6 451.2h.8M64.9 453.1h.8M58.3 461.3h.8M67.0 443.5h.8M65.9 439.5h.8M75.0 446.0h.8M78.4 453.0h.8M70.5 441.0h.8M62.9 447.0h.8M70.5 453.5h.8M65.7 447.2h.8M77.9 452.4h.8M74.4 441.8h.8M72.8 443.1h.8M64.4 454.6h.8M74.8 449.3h.8M73.4 453.5h.8M55.5 441.6h.8M65.8 452.6h.8M60.5 448.9h.8M57.1 457.8h.8M64.2 451.3h.8M71.3 458.6h.8M76.5 440.1h.8M66.0 445.8h.8M69.5 445.6h.8M74.4 447.8h.8M65.5 447.3h.8M64.3 440.9h.8M85.2 433.8h.8M67.4 457.0h.8M60.9 447.9h.8M61.3 447.0h.8M63.9 455.0h.8M60.8 453.8h.8M78.6 443.3h.8M67.9 454.8h.8M67.6 442.2h.8M72.4 434.7h.8M63.2 445.9h.8M78.7 447.7h.8M67.3 432.0h.8M67.8 444.7h.8M69.2 447.3h.8M53.0 458.0h.8M69.7 453.0h.8M77.5 446.3h.8M69.7 453.7h.8M71.5 448.5h.8M71.3 451.7h.8M77.8 450.6h.8M68.8 446.3h.8M74.9 457.1h.8M71.3 454.7h.8M76.2 445.4h.8M73.5 453.4h.8M72.5 455.8h.8M68.1 452.1h.8M66.9 455.3h.8M71.3 450.3h.8M75.2 437.9h.8M75.9 446.0h.8M74.1 455.9h.8M69.6 444.1h.8M79.0 440.1h.8M77.1 454.0h.8M63.5 446.3h.8M67.9 440.5h.8M60.7 444.0h.8M81.1 444.8h.8M65.5 457.3h.8M77.2 446.0h.8M75.1 444.7h.8M73.0 458.6h.8M65.1 447.4h.8M67.4 448.8h.8M55.2 439.9h.8M62.1 449.0h.8M78.8 449.9h.8M69.5 452.8h.8M71.4 445.2h.8M69.4 448.6h.8M63.6 442.9h.8M68.1 449.9h.8M55.1 443.1h.8M66.4 445.1h.8M77.1 455.5h.8M69.2 439.0h.8M78.3 453.8h.8M76.3 450.5h.8M84.1 449.4h.8M70.8 446.3h.8M73.2 458.4h.8M71.3 448.1h.8M62.1 448.1h.8M80.3 451.9h.8M58.0 445.6h.8M61.8 450.3h.8M66.7 453.4h.8M73.1 442.4h.8M78.8 445.8h.8M59.4 455.2h.8M63.5 444.0h.8M82.6 444.0h.8M62.6 448.6h.8M66.7 458.8h.8M60.7 441.5h.8M86.6 440.3h.8M90.2 449.6h.8M76.3 448.7h.8M57.2 443.5h.8M59.1 444.1h.8M74.1 448.4h.8M65.5 453.9h.8M66.0 445.8h.8M73.0 449.1h.8M59.0 455.4h.8M78.9 445.5h.8M81.8 441.6h.8M61.6 458.6h.8M59.3 457.8h.8M58.9 446.5h.8M81.2 448.1h.8M67.9 453.9h.8M65.3 442.2h.8M60.4 444.9h.8M61.8 439.1h.8M60.1 454.2h.8M69.7 457.2h.8M62.9 441.3h.8M71.4 450.0h.8M66.3 439.8h.8M70.3 441.4h.8M70.2 448.4h.8M83.1 445.0h.8M69.6 432.9h.8M69.8 455.7h.8M61.3 449.0h.8M64.0 449.7h.8M67.4 459.8h.8M67.8 446.3h.8M75.2 445.7h.8M66.1 444.4h.8M74.4 453.8h.8M64.7 454.1h.8M81.5 445.3h.8M71.4 444.5h.8M66.7 447.0h.8M58.3 451.0h.8M70.7 443.2h.8M72.4 449.7h.8M71.1 453.2h.8M58.3 450.3h.8M72.2 447.4h.8M59.8 441.7h.8M59.4 447.8h.8M63.9 457.1h.8M78.9 452.6h.8M61.5 454.0h.8M64.4 442.6h.8M52.5 452.8h.8M76.0 443.6h.8M72.9 449.3h.8M66.4 453.9h.8M66.4 444.3h.8M69.4 444.3h.8M70.5 450.0h.8M71.2 439.0h.8M85.0 448.2h.8M74.3 445.7h.8M81.7 452.9h.8M62.1 445.6h.8M70.0 449.2h.8M61.9 449.6h.8M59.0 448.7h.8M74.4 449.4h.8M71.1 460.5h.8M63.5 448.2h.8M67.8 450.5h.8M71.4 443.3h.8M62.3 446.9h.8M71.9 459.2h.8M74.8 450.4h.8M86.5 447.0h.8M78.9 448.9h.8M75.0 452.7h.8M85.0 451.6h.8M63.3 447.8h.8M56.9 457.7h.8M63.8 444.7h.8M67.0 455.6h.8M73.8 456.7h.8M76.1 452.7h.8M58.0 447.6h.8M70.9 452.4h.8M67.6 455.6h.8M74.0 451.6h.8M80.3 456.0h.8M68.1 450.4h.8M70.1 459.2h.8M71.9 443.8h.8M58.4 442.7h.8M69.6 450.8h.8M57.0 443.5h.8M76.4 447.2h.8M72.9 453.0h.8M71.0 437.4h.8M65.7 449.6h.8M70.5 449.8h.8M70.7 442.1h.8M64.5 450.7h.8M62.4 446.0h.8M75.0 444.0h.8M73.9 456.1h.8M74.0 453.3h.8M54.4 445.4h.8M70.4 455.4h.8M71.8 451.7h.8M86.0 442.0h.8M62.3 441.9h.8M76.7 443.4h.8M70.6 444.5h.8M71.1 447.5h.8M65.5 453.5h.8M81.7 448.8h.8M70.1 447.2h.8M77.1 449.0h.8M58.0 443.6h.8M74.2 441.6h.8M64.6 445.1h.8M61.8 437.1h.8M66.8 443.9h.8M66.5 447.3h.8M63.5 435.1h.8M83.5 448.8h.8M66.5 466.4h.8M69.6 458.2h.8M55.4 443.6h.8M72.9 452.4h.8M80.0 446.7h.8M64.7 448.0h.8M64.4 448.2h.8M72.0 451.0h.8M67.0 443.5h.8M70.0 458.5h.8M74.6 445.2h.8M69.1 438.9h.8M71.3 459.6h.8M67.9 440.9h.8M68.5 452.0h.8M55.8 451.7h.8M75.4 446.4h.8M63.2 448.2h.8M64.0 448.1h.8M72.5 454.4h.8M66.1 445.3h.8M77.2 444.9h.8M65.8 451.9h.8M75.3 447.1h.8M67.8 446.5h.8M57.9 432.2h.8M75.5 445.9h.8M80.8 459.5h.8M69.9 456.0h.8M72.6 441.3h.8M84.6 449.5h.8M60.0 439.2h.8M77.7 447.5h.8M86.4 434.9h.8M72.7 443.7h.8M47.5 446.7h.8M61.7 457.8h.8M70.4 454.5h.8M64.9 447.9h.8M58.0 455.4h.8M63.0 440.9h.8M83.5 446.7h.8M73.5 448.7h.8M68.4 447.3h.8M68.1 453.2h.8M65.4 456.8h.8M70.7 451.1h.8M65.4 442.7h.8M62.3 451.9h.8M56.5 460.6h.8M68.6 462.8h.8M75.6 446.9h.8M67.9 445.1h.8M64.7 455.8h.8M68.1 453.2h.8M62.3 447.2h.8M69.8 447.3h.8M68.9 435.9h.8M69.7 453.7h.8M67.2 452.8h.8M75.0 448.5h.8M63.4 436.1h.8M71.7 454.8h.8M70.0 448.9h.8M74.2 450.0h.8M73.9 452.8h.8M70.1 445.4h.8M58.8 450.7h.8M51.7 441.0h.8M72.6 451.3h.8M66.4 442.0h.8M62.3 454.5h.8M67.7 441.9h.8M69.6 448.9h.8M69.5 441.5h.8M49.1 461.4h.8M66.1 468.3h.8M52.7 452.1h.8M76.5 453.0h.8M64.7 442.0h.8M72.5 445.9h.8M68.9 449.7h.8M68.7 448.3h.8M71.6 447.1h.8M67.6 452.2h.8M68.5 458.9h.8M71.1 452.8h.8M63.0 452.7h.8M65.7 459.4h.8M66.5 450.2h.8M59.2 457.2h.8M79.2 442.9h.8M89.0 431.7h.8M73.1 453.3h.8M64.7 447.2h.8M60.9 449.4h.8M57.5 444.7h.8M65.3 460.3h.8M59.8 442.4h.8M52.9 444.2h.8M66.6 462.6h.8M71.5 455.7h.8M64.4 456.3h.8M62.5 459.1h.8M72.0 457.9h.8M79.4 450.8h.8M65.6 465.1h.8M71.2 446.2h.8M70.4 451.9h.8M66.8 447.0h.8M70.0 450.3h.8M68.1 453.3h.8M72.9 449.1h.8M59.0 453.9h.8M62.0 451.2h.8M69.9 455.2h.8M69.2 447.6h.8M70.4 446.7h.8M69.7 445.2h.8M73.4 448.8h.8M56.3 465.4h.8M67.3 448.2h.8M57.6 445.5h.8M73.5 453.4h.8M72.3 447.5h.8M79.1 461.1h.8M71.0 447.3h.8M51.3 447.3h.8M60.1 449.2h.8M68.8 443.6h.8M59.2 448.6h.8M70.7 455.1h.8M74.8 448.0h.8M72.2 447.8h.8M74.8 452.6h.8M51.1 455.3h.8M78.8 442.0h.8M63.6 451.2h.8M56.1 447.3h.8M70.4 451.4h.8M74.8 448.5h.8M74.4 452.8h.8M77.0 439.2h.8M72.0 446.5h.8M70.9 441.9h.8M65.7 455.8h.8M72.4 445.4h.8M53.4 444.3h.8M74.7 437.9h.8M66.1 445.5h.8M75.9 447.5h.8M58.4 453.2h.8M70.7 444.3h.8M76.3 455.2h.8M52.1 447.3h.8M67.4 460.9h.8M64.2 449.9h.8M55.1 448.1h.8M69.4 451.1h.8M73.2 448.2h.8M67.3 464.0h.8M52.9 449.9h.8M74.7 435.9h.8M60.2 453.9h.8M56.8 443.9h.8M71.3 453.4h.8M69.0 451.0h.8M69.3 447.5h.8M73.7 449.6h.8M70.0 455.7h.8M62.2 453.3h.8M75.2 451.2h.8M74.8 446.9h.8M75.1 452.0h.8M67.4 449.6h.8M75.7 443.6h.8M73.4 448.5h.8M61.4 440.0h.8M65.3 461.0h.8" fill="none" stroke="#000" stroke-opacity="0.65" stroke-width="0.8"/>
<path d="M111.4 466.9h.8M102.9 455.0h.8M91.2 448.9h.8M104.3 448.2h.8M100.2 455.2h.8M92.8 450.1h.8M87.5 468.7h.8M87.6 465.9h.8M101.7 455.5h.8M83.9 451.8h.8M96.0 457.9h.8M85.3 458.6h.8M94.6 458.1h.8M110.5 448.7h.8M90.6 458.1h.8M95.6 455.8h.8M80.3 446.0h.8M104.7 445.6h.8M90.1 465.6h.8M107.4 452.5h.8M113.9 441.5h.8M101.0 455.0h.8M101.2 455.7h.8M101.7 451.3h.8M100.7 457.8h.8M78.6 446.1h.8M108.7 454.3h.8M96.4 441.3h.8M94.0 440.4h.8M90.8 445.9h.8M99.7 453.9h.8M95.6 451.8h.8M82.2 465.6h.8M105.8 456.8h.8M85.9 456.6h.8M104.7 439.7h.8M93.6 438.0h.8M104.1 458.1h.8M100.6 459.4h.8M106.4 447.2h.8M103.0 452.4h.8M91.8 444.6h.8M100.8 450.4h.8M101.4 453.2h.8M106.7 459.6h.8M95.2 454.8h.8M97.2 451.7h.8M110.2 451.8h.8M97.5 449.7h.8M95.0 447.9h.8M88.7 446.1h.8M98.5 450.0h.8M110.8 452.7h.8M97.0 461.0h.8M105.7 455.8h.8M94.6 445.5h.8M97.5 447.6h.8M107.3 469.6h.8M85.7 449.5h.8M95.4 449.8h.8M96.0 446.4h.8M88.7 453.2h.8M98.2 446.9h.8M97.9 452.8h.8M113.0 461.1h.8M90.0 454.4h.8M101.6 450.8h.8M97.0 448.1h.8M95.6 453.6h.8M96.7 456.0h.8M92.5 457.5h.8M91.2 456.3h.8M104.1 458.9h.8M107.7 449.2h.8M82.3 436.4h.8M110.4 446.1h.8M82.1 450.5h.8M105.8 441.8h.8M95.9 462.3h.8M83.2 455.6h.8M112.2 451.5h.8M94.6 453.6h.8M79.1 447.3h.8M87.8 452.0h.8M93.1 455.9h.8M100.7 456.4h.8M95.1 450.9h.8M96.3 452.5h.8M108.8 449.2h.8M105.3 462.9h.8M112.8 454.8h.8M87.7 440.8h.8M87.6 447.9h.8M101.9 444.1h.8M112.0 459.3h.8M96.9 456.6h.8M106.7 455.4h.8M100.2 454.4h.8M98.9 458.6h.8M96.6 463.9h.8M107.2 462.7h.8M99.3 451.9h.8M100.1 453.8h.8M95.1 447.8h.8M88.4 460.6h.8M99.6 441.6h.8M102.7 449.6h.8M93.4 456.8h.8M93.2 452.5h.8M90.7 455.2h.8M91.4 447.4h.8M93.8 445.6h.8M109.8 452.2h.8M84.4 453.3h.8M96.3 461.7h.8M78.9 447.0h.8M102.1 468.5h.8M96.1 452.8h.8M83.2 456.8h.8M98.8 440.6h.8M78.4 446.3h.8M82.1 457.7h.8M83.2 451.7h.8M83.6 452.7h.8M96.0 468.6h.8M85.9 450.3h.8M92.3 446.8h.8M85.3 462.4h.8M104.1 453.7h.8M99.4 452.2h.8M103.6 455.5h.8M109.9 450.6h.8M99.5 448.6h.8M96.1 463.9h.8M98.9 461.1h.8M102.7 456.2h.8M85.2 455.1h.8M98.7 466.2h.8M92.0 456.2h.8M90.8 447.1h.8M86.6 458.0h.8M98.1 455.6h.8M95.4 460.0h.8M77.3 460.5h.8M96.2 449.3h.8M96.6 454.0h.8M88.9 460.6h.8M78.3 463.8h.8M89.7 447.3h.8M83.3 457.8h.8M101.9 462.6h.8M91.5 446.0h.8M80.9 464.2h.8M90.8 458.6h.8M90.8 442.5h.8M77.9 445.1h.8M97.7 455.6h.8M89.5 456.0h.8M93.9 456.1h.8M115.7 458.5h.8M83.6 448.7h.8M104.4 446.1h.8M109.9 450.0h.8M83.4 460.0h.8M97.7 452.8h.8M100.5 451.1h.8M87.6 452.0h.8M104.3 451.2h.8M109.4 455.8h.8M95.0 446.7h.8M84.9 460.0h.8M106.7 441.6h.8M81.8 453.4h.8M93.7 452.7h.8M95.3 451.4h.8M101.4 458.1h.8M79.7 454.9h.8M104.5 449.7h.8M88.4 445.4h.8M85.3 454.7h.8M101.5 443.0h.8M80.3 463.5h.8M104.7 449.1h.8M68.5 453.3h.8M105.1 447.7h.8M91.9 452.2h.8M102.7 452.6h.8M96.4 439.9h.8M88.6 456.9h.8M94.3 458.5h.8M86.3 449.0h.8M98.9 441.9h.8M106.1 446.5h.8M88.5 453.5h.8M95.7 463.9h.8M92.6 458.8h.8M95.1 459.9h.8M99.3 441.3h.8M107.7 433.2h.8M109.1 449.0h.8M95.2 456.9h.8M96.9 450.1h.8M94.7 446.5h.8M95.4 453.3h.8M111.4 447.9h.8M92.3 449.3h.8M95.7 453.9h.8M83.6 452.7h.8M109.3 451.1h.8M89.0 436.6h.8M79.8 452.0h.8M92.0 458.9h.8M88.4 447.9h.8M107.9 449.5h.8M93.3 459.0h.8M92.8 438.6h.8M111.6 451.6h.8M76.6 461.1h.8M91.4 450.2h.8M83.9 448.9h.8M95.6 453.7h.8M91.8 450.1h.8M82.3 456.1h.8M100.5 464.3h.8M87.8 462.6h.8M92.4 446.3h.8M97.7 447.1h.8M100.3 457.2h.8M92.6 456.0h.8M102.5 449.5h.8M102.2 440.5h.8M100.7 444.9h.8M99.7 452.1h.8M88.4 451.3h.8M78.3 436.5h.8M98.0 461.1h.8M84.3 455.0h.8M89.8 454.0h.8M93.4 449.0h.8M79.1 455.0h.8M96.2 437.6h.8M89.6 459.8h.8M102.8 448.7h.8M109.5 461.5h.8M91.3 441.7h.8M85.8 459.4h.8M95.7 445.3h.8M100.3 458.9h.8M112.7 454.5h.8M97.8 455.9h.8M71.1 459.7h.8M91.7 444.1h.8M84.3 451.4h.8M85.4 453.1h.8M85.2 449.5h.8M86.4 456.0h.8M93.0 452.3h.8M77.8 455.6h.8M94.7 446.8h.8M101.0 451.5h.8M91.6 460.4h.8M99.5 449.9h.8M98.4 445.7h.8M103.7 451.0h.8M92.3 451.3h.8M92.5 443.9h.8M80.2 450.7h.8M92.2 448.3h.8M87.2 447.9h.8M92.7 460.0h.8M95.0 450.6h.8M120.5 453.2h.8M86.4 455.5h.8M89.7 459.2h.8M102.4 455.1h.8M97.9 442.5h.8M74.2 456.0h.8M102.1 449.1h.8M98.0 430.1h.8M86.9 461.6h.8M94.4 463.2h.8M90.2 449.2h.8M87.7 444.9h.8M82.7 451.0h.8M88.9 447.9h.8M95.7 457.4h.8M87.6 440.9h.8M98.9 447.0h.8M103.6 454.7h.8M91.1 455.6h.8M86.2 462.0h.8M93.7 452.8h.8M81.1 449.8h.8M106.4 449.3h.8M103.4 448.0h.8M87.2 452.5h.8M85.5 454.3h.8M111.0 451.7h.8M98.2 446.1h.8M93.7 445.0h.8M100.7 454.1h.8M86.3 448.1h.8M110.0 461.6h.8M109.3 451.2h.8M96.7 450.3h.8M84.7 447.6h.8M100.5 444.9h.8M105.7 450.7h.8M102.8 447.4h.8M90.5 452.5h.8M96.9 445.9h.8M106.1 455.8h.8M83.2 456.6h.8M93.3 454.4h.8M79.6 454.0h.8M87.0 449.6h.8M94.9 441.8h.8M82.9 450.0h.8M96.3 445.6h.8M85.1 458.5h.8M93.6 436.7h.8M85.3 457.3h.8M82.4 439.2h.8M93.4 450.6h.8M99.9 453.4h.8M101.0 445.9h.8M113.0 460.0h.8M83.9 445.8h.8M94.2 456.4h.8M92.1 454.8h.8M94.5 441.6h.8M70.5 455.9h.8M93.5 449.7h.8M88.8 451.4h.8M99.3 463.8h.8M91.6 446.8h.8M87.1 458.6h.8M86.2 465.0h.8M106.4 460.3h.8M94.2 446.9h.8M92.9 457.7h.8M99.5 449.5h.8M100.9 458.6h.8M96.3 445.3h.8M108.0 462.7h.8M77.7 439.7h.8M110.2 453.8h.8M102.4 440.8h.8M95.6 452.4h.8M96.9 461.1h.8M89.5 454.3h.8M87.0 454.1h.8M97.0 440.4h.8M106.5 459.7h.8M82.5 448.0h.8M91.3 441.0h.8M93.2 452.5h.8M96.4 451.6h.8M81.0 446.8h.8M91.4 439.9h.8M90.0 439.1h.8M101.0 448.2h.8M101.1 456.2h.8M86.4 454.3h.8M89.1 460.2h.8M81.8 461.2h.8M91.5 458.1h.8M99.7 455.0h.8M87.6 456.3h.8M91.5 446.9h.8M91.4 446.1h.8M90.6 449.0h.8M83.9 462.0h.8M101.4 446.2h.8M81.4 450.0h.8M82.6 457.0h.8M94.5 445.5h.8M88.0 469.8h.8M101.2 452.8h.8M82.8 445.0h.8M92.5 450.9h.8M90.4 450.8h.8M90.9 446.1h.8M99.2 442.6h.8M92.9 463.2h.8M89.6 442.0h.8M96.2 443.9h.8M73.7 441.5h.8M99.3 454.5h.8M84.5 450.7h.8M109.6 447.1h.8M88.2 441.4h.8M94.2 460.5h.8M93.5 457.1h.8M95.4 450.3h.8M107.4 463.1h.8M97.5 453.5h.8M86.2 450.8h.8M97.7 448.7h.8M94.9 451.3h.8M82.9 440.0h.8M88.9 450.7h.8M104.1 460.9h.8M97.4 445.5h.8M86.0 449.5h.8M109.6 443.7h.8M76.8 459.0h.8M86.9 459.2h.8M93.7 458.8h.8M93.1 455.7h.8M114.0 453.4h.8M90.9 457.6h.8M88.4 441.1h.8M98.5 448.8h.8M95.0 441.1h.8M102.0 445.7h.8M90.3 445.8h.8M90.5 449.3h.8M91.4 455.7h.8M78.2 469.0h.8M92.5 455.5h.8M97.0 462.3h.8M91.2 453.0h.8M96.0 449.9h.8M94.7 465.0h.8M100.8 449.7h.8M91.5 449.5h.8M112.5 445.8h.8M101.7 448.7h.8M91.6 454.1h.8M86.6 444.6h.8M110.3 455.5h.8M97.7 451.9h.8M121.0 453.5h.8M100.5 448.5h.8M108.9 439.0h.8M116.8 450.6h.8M113.1 442.7h.8M92.7 462.3h.8M113.2 457.4h.8M91.4 458.7h.8M87.3 453.8h.8M106.7 464.8h.8M86.7 454.2h.8M94.2 457.0h.8M92.8 458.1h.8M92.9 455.5h.8M110.7 460.8h.8M72.9 453.6h.8M103.8 450.0h.8M96.9 450.9h.8M83.3 453.6h.8M100.4 456.9h.8M94.5 462.2h.8M107.9 461.0h.8M96.5 450.0h.8M91.7 450.1h.8M107.8 455.1h.8M98.6 446.3h.8M91.7 438.6h.8M93.2 456.8h.8M83.2 444.1h.8M76.6 449.3h.8M96.2 437.1h.8M103.0 449.2h.8M101.7 457.9h.8M99.0 453.5h.8M98.7 446.6h.8M101.3 440.4h.8M96.4 450.7h.8M98.3 449.2h.8M105.5 452.2h.8M101.2 445.5h.8M91.8 444.9h.8M84.9 446.4h.8M105.0 439.4h.8M100.9 454.7h.8M84.0 456.4h.8M103.6 446.8h.8M99.4 444.7h.8M65.6 450.2h.8M95.6 443.5h.8M86.0 450.9h.8M102.4 452.1h.8M106.1 446.8h.8M96.1 462.7h.8M108.4 455.7h.8M95.9 452.9h.8M111.0 443.9h.8M109.0 441.1h.8M94.1 453.0h.8M99.9 441.2h.8M94.7 464.2h.8M92.1 439.2h.8M104.1 448.5h.8M104.5 445.9h.8M86.9 445.3h.8M88.1 444.6h.8M82.8 447.1h.8M88.3 455.8h.8M90.4 468.3h.8M82.8 456.2h.8M90.7 462.8h.8M83.7 471.2h.8M95.9 455.1h.8M103.0 446.2h.8M107.7 461.0h.8M99.4 440.4h.8M96.5 458.3h.8M94.4 468.6h.8M94.3 442.7h.8M102.1 468.5h.8M88.6 456.6h.8M96.7 447.9h.8M90.7 438.7h.8M87.4 466.6h.8M96.9 453.0h.8M82.4 456.2h.8M82.6 448.5h.8M82.2 445.5h.8M91.3 443.0h.8M85.3 452.6h.8M86.9 445.3h.8M101.3 454.2h.8M100.9 461.2h.8M98.9 452.4h.8M90.1 441.1h.8M71.9 464.5h.8M78.1 458.6h.8M97.0 450.9h.8M100.1 449.3h.8M100.8 455.5h.8M86.8 454.1h.8M86.7 447.9h.8M93.0 452.1h.8M90.4 454.7h.8M103.9 443.3h.8M98.0 452.5h.8M98.9 449.5h.8M101.9 450.7h.8M91.5 442.5h.8M85.9 446.5h.8M86.1 442.5h.8M93.0 457.6h.8M82.4 457.7h.8M83.4 454.8h.8M91.8 452.8h.8M87.1 437.0h.8M96.8 453.2h.8M100.3 459.0h.8M81.2 454.2h.8M96.9 452.0h.8M83.3 451.5h.8M96.5 461.4h.8M122.2 444.1h.8M105.1 451.2h.8M98.6 446.4h.8M95.3 456.2h.8M96.0 458.7h.8M109.9 462.2h.8M85.9 445.0h.8M100.6 443.1h.8M103.5 458.7h.8M108.4 445.4h.8M99.2 455.3h.8M78.0 451.2h.8M111.6 440.3h.8M103.9 453.0h.8M96.9 466.1h.8M96.8 444.3h.8M95.7 456.5h.8M104.5 448.6h.8M82.7 447.9h.8M84.2 452.7h.8M88.6 432.7h.8M93.8 457.0h.8M92.0 448.8h.8M97.4 459.7h.8M98.9 454.2h.8M80.0 452.5h.8M94.9 460.6h.8M81.0 463.8h.8M112.9 437.9h.8M78.1 458.0h.8M99.2 459.3h.8M84.6 459.6h.8M98.1 445.5h.8M108.0 456.2h.8M88.0 456.5h.8M104.4 449.5h.8M98.2 471.8h.8M87.1 449.0h.8M100.6 435.4h.8M95.3 432.8h.8M91.4 464.2h.8M96.0 458.7h.8M96.7 448.2h.8M103.5 454.1h.8M93.3 460.0h.8M96.8 456.7h.8" fill="none" stroke="#000" stroke-opacity="0.65" stroke-width="0.8"/>
<path d="M91.6 463.5h.6M64.0 425.9h.6M75.0 414.7h.6M134.5 439.6h.6M83.0 420.6h.6M24.1 468.0h.6M90.8 438.5h.6M70.7 483.0h.6M149.0 448.0h.6M72.5 457.4h.6M93.5 448.3h.6M82.9 468.2h.6M84.9 428.3h.6M109.3 448.8h.6M61.1 441.1h.6M82.3 421.5h.6M72.7 458.7h.6M48.3 402.7h.6M109.9 424.6h.6M99.5 469.7h.6M77.6 413.1h.6M61.6 451.1h.6M55.7 413.5h.6M109.8 436.3h.6M87.9 421.0h.6M87.0 467.6h.6M91.8 441.6h.6M97.7 428.3h.6M60.2 469.1h.6M91.9 451.8h.6M65.3 427.2h.6M92.2 424.2h.6M100.4 439.1h.6M88.7 445.4h.6M76.4 441.2h.6M119.5 429.1h.6M98.3 444.0h.6M94.2 435.5h.6M91.2 459.3h.6M46.5 445.1h.6M70.7 436.6h.6M143.5 458.6h.6M89.2 449.3h.6M62.0 456.9h.6M81.8 455.9h.6M62.1 434.4h.6M62.5 452.9h.6M82.1 461.7h.6M69.0 441.5h.6M88.0 459.3h.6M61.9 426.6h.6M40.6 445.7h.6M118.7 421.6h.6M100.0 409.6h.6M94.2 461.3h.6M32.4 457.6h.6M35.9 448.8h.6M86.8 449.1h.6M129.4 398.9h.6M81.3 414.9h.6M55.6 441.6h.6M33.6 420.1h.6M65.4 410.0h.6M89.7 432.8h.6M105.2 419.2h.6M88.2 437.9h.6M64.1 431.6h.6M53.6 441.6h.6M101.3 414.4h.6M112.8 439.5h.6M100.9 441.0h.6M119.9 447.9h.6M111.5 446.9h.6M89.4 415.4h.6M58.7 456.5h.6M57.9 446.6h.6M101.9 431.5h.6M88.5 471.2h.6M84.2 429.1h.6M108.3 434.1h.6M70.6 443.5h.6M91.9 437.7h.6M89.5 423.6h.6M48.1 449.5h.6M91.8 452.3h.6M134.3 449.1h.6M55.6 450.5h.6M77.9 433.4h.6M72.2 437.4h.6M70.9 433.5h.6M52.3 435.5h.6M98.1 450.5h.6M70.6 447.2h.6M100.1 456.1h.6M103.8 427.0h.6M82.2 461.0h.6M89.2 424.3h.6M85.1 437.1h.6M67.9 454.4h.6M58.7 438.6h.6M76.2 448.2h.6M96.8 444.1h.6M110.0 438.2h.6M57.2 455.3h.6M61.8 441.7h.6M38.8 425.5h.6M21.6 434.9h.6M82.6 457.3h.6M62.8 402.4h.6M117.3 433.4h.6M56.9 437.1h.6M96.0 451.4h.6M90.6 439.4h.6M81.2 440.7h.6M72.2 464.7h.6M99.2 425.1h.6M83.8 449.2h.6M80.9 421.4h.6M69.1 436.5h.6M85.7 429.6h.6M103.6 460.9h.6M107.8 460.8h.6M83.3 441.9h.6M75.0 422.7h.6M53.1 438.8h.6M36.2 461.0h.6M86.3 446.7h.6M44.5 415.8h.6M91.0 434.6h.6M67.4 434.3h.6M90.9 433.5h.6M65.7 413.5h.6M54.3 432.9h.6M44.7 461.9h.6M82.6 441.3h.6M67.3 450.8h.6M62.8 447.2h.6M64.0 465.8h.6M78.8 465.5h.6M51.8 434.1h.6M81.9 448.3h.6M52.8 458.3h.6M90.9 447.4h.6M60.8 445.3h.6M101.9 452.1h.6M79.0 436.1h.6M74.4 473.3h.6M24.9 463.8h.6M87.1 426.2h.6M45.5 467.5h.6M146.3 428.4h.6M87.7 416.8h.6M93.3 446.6h.6M35.9 437.2h.6M86.9 454.6h.6M84.0 435.2h.6M74.4 434.4h.6M72.1 455.9h.6M72.8 452.7h.6M116.2 426.4h.6M79.8 445.2h.6M58.6 424.5h.6M52.8 450.2h.6M97.8 402.4h.6M61.7 419.7h.6M44.7 433.9h.6M93.8 435.7h.6M74.6 447.8h.6M78.5 450.5h.6M84.0 428.7h.6M142.0 431.0h.6M107.3 435.4h.6M116.0 422.6h.6M95.1 440.3h.6M129.8 419.4h.6M90.7 425.0h.6M83.2 427.4h.6M134.1 420.6h.6M58.5 431.5h.6M47.1 463.1h.6M74.6 448.9h.6M75.8 451.6h.6M96.4 431.5h.6M64.0 461.6h.6M101.4 468.2h.6M76.8 463.8h.6M120.8 449.1h.6M99.8 445.1h.6M82.3 415.4h.6M70.6 431.6h.6M66.3 449.2h.6M94.1 418.7h.6M53.3 449.2h.6M68.9 443.0h.6M102.6 459.9h.6M73.8 429.2h.6M80.5 445.2h.6M101.8 450.3h.6M69.3 464.3h.6M77.9 476.3h.6M39.5 439.5h.6M54.7 430.4h.6M48.7 435.7h.6M100.9 446.3h.6M98.8 459.2h.6M78.8 444.5h.6M93.3 432.4h.6M101.9 444.7h.6M121.1 425.6h.6M61.9 441.3h.6M94.2 460.5h.6M88.5 450.7h.6M69.8 423.7h.6M78.8 423.1h.6M103.4 417.2h.6M94.1 447.1h.6M93.0 427.8h.6M56.3 447.7h.6M72.5 428.3h.6M64.4 448.9h.6M81.5 441.0h.6M42.2 446.5h.6M53.8 433.7h.6M88.9 441.1h.6M82.3 476.5h.6M64.2 435.3h.6M64.7 426.8h.6M55.2 422.6h.6M66.8 461.4h.6M79.7 429.8h.6M70.0 437.0h.6M58.6 454.9h.6M82.7 453.1h.6M54.3 433.4h.6M127.2 448.8h.6M106.8 426.6h.6M54.8 467.4h.6M64.7 444.3h.6M74.3 452.4h.6M84.0 435.0h.6M72.0 464.1h.6M82.5 456.7h.6M67.5 431.9h.6M88.2 436.4h.6M80.4 457.7h.6M115.5 447.6h.6M94.8 406.3h.6M103.9 454.2h.6M92.4 424.4h.6M88.5 450.5h.6M111.8 451.9h.6M91.4 442.7h.6M86.2 472.7h.6M88.7 439.5h.6M53.1 468.0h.6M124.5 427.8h.6M114.7 444.3h.6M66.8 450.4h.6M122.4 421.2h.6M102.1 467.9h.6M64.7 425.2h.6M71.9 430.5h.6M101.7 467.2h.6M94.5 423.6h.6M22.9 432.2h.6M88.0 456.3h.6M81.6 441.8h.6M58.1 428.2h.6M48.9 446.8h.6M74.9 434.8h.6M65.6 419.2h.6M98.7 419.0h.6M110.7 424.5h.6M45.3 405.6h.6M75.9 410.4h.6M103.1 440.2h.6M79.5 456.6h.6M61.8 451.0h.6M109.2 444.3h.6M72.7 461.0h.6M78.3 457.8h.6M86.1 431.0h.6M69.0 450.4h.6M92.1 471.0h.6M92.2 415.6h.6M86.6 449.1h.6M62.8 468.3h.6M111.5 456.0h.6M83.9 427.1h.6M89.6 428.0h.6M59.3 441.9h.6M57.8 448.5h.6M85.2 441.2h.6M91.3 453.7h.6M83.9 451.6h.6M100.7 430.3h.6M59.5 420.5h.6M98.2 457.1h.6M74.2 442.5h.6M82.3 442.0h.6M91.7 443.7h.6M41.8 463.7h.6M52.9 448.8h.6M82.5 444.9h.6M59.2 443.3h.6M94.9 460.2h.6M103.7 452.0h.6M75.8 427.0h.6M85.1 455.6h.6M64.5 424.8h.6M62.7 456.6h.6M94.3 451.3h.6M36.0 432.1h.6M53.4 454.3h.6M87.2 445.5h.6M39.3 429.1h.6M98.8 441.2h.6M61.8 418.1h.6M100.4 412.8h.6M116.3 454.2h.6M81.2 432.0h.6M49.2 441.7h.6M62.3 444.1h.6M52.7 440.9h.6M123.6 471.8h.6M105.7 425.8h.6M85.1 423.4h.6M90.0 463.9h.6M83.0 470.3h.6M89.7 410.8h.6" fill="none" stroke="#111" stroke-opacity="0.45" stroke-width="0.6"/>
<path d="M57.7 409.9h.6M57.8 412.6h.6M50.9 416.2h.6M50.3 416.9h.6M43.9 425.0h.6M43.8 412.7h.6M48.1 415.1h.6M50.3 417.1h.6M54.8 404.5h.6M51.8 406.6h.6M56.5 413.7h.6M50.2 402.2h.6M54.7 413.5h.6M47.6 424.0h.6M48.0 411.5h.6M57.0 407.8h.6M58.2 418.4h.6M48.8 415.5h.6M53.9 418.1h.6M42.2 409.9h.6M47.6 412.1h.6M46.7 416.5h.6M57.5 415.4h.6M42.5 422.0h.6M43.4 418.2h.6M60.8 417.4h.6M47.3 419.1h.6M45.4 420.0h.6M42.8 408.8h.6M48.1 405.7h.6M54.4 401.5h.6M45.1 415.8h.6M40.4 412.3h.6M61.4 399.3h.6M57.8 422.4h.6M35.7 410.8h.6M49.1 418.1h.6M46.8 413.8h.6M42.4 423.1h.6M50.5 407.9h.6M56.7 411.3h.6M51.4 410.5h.6M49.0 411.1h.6M46.1 423.5h.6M53.0 410.3h.6M55.7 419.7h.6M45.8 414.0h.6M50.9 410.4h.6M49.8 420.8h.6M54.1 419.1h.6M53.5 410.5h.6M52.2 407.2h.6M49.3 417.0h.6M45.9 418.4h.6M44.8 419.8h.6M49.1 415.7h.6M55.4 409.8h.6M45.2 417.5h.6M55.9 419.3h.6M55.1 404.1h.6M46.1 410.4h.6M42.8 404.1h.6M50.6 413.3h.6M46.6 405.7h.6M50.6 413.5h.6M54.9 411.1h.6M55.4 403.1h.6M47.0 406.8h.6M54.2 421.4h.6M50.6 418.8h.6M40.0 402.8h.6M55.1 407.8h.6M56.0 417.7h.6M48.3 414.5h.6M50.0 421.6h.6M53.8 414.4h.6M48.9 430.4h.6M44.4 404.8h.6M53.1 411.2h.6M49.2 417.1h.6M50.3 411.3h.6M59.6 406.3h.6M50.8 427.1h.6M43.6 418.7h.6M52.4 408.9h.6M48.3 418.6h.6M49.8 409.4h.6M43.5 408.9h.6M53.3 413.8h.6M49.9 413.9h.6M49.3 404.2h.6M42.2 412.6h.6M42.9 415.2h.6M50.4 414.6h.6M44.8 412.1h.6M50.6 407.7h.6M52.4 425.4h.6M53.5 409.3h.6M49.9 429.9h.6M56.4 408.5h.6M47.1 405.7h.6M50.2 424.4h.6M47.4 410.5h.6M52.3 405.3h.6M45.8 414.4h.6M46.7 420.1h.6M54.6 410.7h.6M53.6 400.6h.6M45.1 425.5h.6M52.4 402.8h.6M53.2 411.8h.6M39.9 391.7h.6M46.2 419.6h.6M45.8 414.0h.6M44.5 415.1h.6M45.6 406.7h.6M45.4 412.9h.6M48.7 409.4h.6M50.3 425.6h.6M41.7 410.1h.6M48.7 423.1h.6M41.8 413.1h.6M54.2 413.5h.6M52.0 427.0h.6M60.6 420.0h.6M55.6 414.8h.6M49.0 408.5h.6M48.3 406.2h.6M47.3 400.8h.6M49.3 409.4h.6M51.1 409.6h.6M47.9 416.7h.6M43.4 404.1h.6M46.7 418.4h.6M47.2 414.0h.6M58.8 406.4h.6M52.8 417.2h.6M56.9 410.6h.6M60.0 415.3h.6M57.5 412.1h.6M44.8 426.2h.6M46.4 417.7h.6M52.1 421.9h.6M54.6 413.8h.6M60.6 401.6h.6M47.2 422.5h.6M55.1 422.2h.6M47.4 418.4h.6M38.3 404.4h.6M47.4 414.0h.6M41.7 422.4h.6M51.9 413.8h.6M46.9 408.3h.6M46.1 423.6h.6M53.7 422.1h.6M53.7 408.1h.6M43.8 410.0h.6M51.2 419.4h.6M48.6 410.6h.6M49.1 411.0h.6M43.5 406.0h.6M45.5 407.3h.6M51.0 419.6h.6M52.8 413.2h.6M49.6 406.8h.6M56.0 413.8h.6M54.3 412.0h.6M52.3 415.4h.6M51.9 422.5h.6M53.9 406.2h.6M41.8 409.4h.6M38.2 404.8h.6M57.7 401.7h.6M43.2 415.9h.6M47.1 407.0h.6M56.3 430.8h.6M51.9 410.7h.6M47.9 409.1h.6M39.7 422.3h.6M54.6 423.1h.6M45.7 407.7h.6M46.3 410.8h.6M55.6 414.3h.6M48.1 418.4h.6M44.0 425.2h.6M48.1 420.5h.6M45.3 423.0h.6M51.3 424.0h.6M58.5 409.3h.6M43.3 413.1h.6M51.0 415.1h.6M55.9 412.9h.6M38.9 408.0h.6M52.6 427.9h.6M50.7 411.7h.6M48.1 405.3h.6M52.6 419.5h.6M46.4 404.8h.6M49.7 406.1h.6M51.3 417.1h.6M43.4 428.2h.6M54.1 417.3h.6M42.2 409.7h.6M46.8 424.5h.6M58.5 412.5h.6M52.3 412.6h.6M42.2 406.5h.6M44.6 418.6h.6M49.5 404.9h.6M49.4 416.7h.6M51.6 423.3h.6M50.4 415.5h.6M52.4 409.4h.6M61.0 427.0h.6M46.4 414.0h.6M59.9 415.6h.6M51.4 413.1h.6M54.5 409.3h.6M48.0 407.7h.6M53.8 429.0h.6M45.9 421.6h.6M51.8 414.6h.6M55.6 410.0h.6M49.8 414.0h.6M50.7 424.5h.6M49.3 400.3h.6M53.4 414.2h.6M54.0 417.3h.6M46.9 409.6h.6M45.8 417.4h.6M52.7 406.3h.6M53.6 417.7h.6M51.3 408.8h.6M50.9 409.5h.6M45.6 412.1h.6M54.2 422.7h.6M52.5 413.7h.6M54.6 405.8h.6M48.5 421.0h.6M44.4 409.6h.6M48.0 407.8h.6M43.8 422.4h.6M48.2 415.7h.6M51.1 405.1h.6M49.7 421.6h.6M50.1 412.7h.6M53.6 423.9h.6M52.8 406.6h.6M46.9 401.9h.6M49.8 410.3h.6M44.1 406.9h.6M46.9 410.9h.6M51.7 413.9h.6M52.9 416.5h.6M53.8 402.9h.6M52.5 408.2h.6M49.4 411.8h.6M48.5 404.9h.6M42.3 415.8h.6M41.1 412.5h.6M46.1 421.1h.6M46.2 410.2h.6M54.1 409.5h.6M52.0 418.2h.6M42.6 401.9h.6M49.8 402.2h.6M50.7 407.0h.6M45.4 416.0h.6M48.1 421.8h.6M54.0 417.0h.6M54.6 424.9h.6M53.5 416.1h.6M49.7 408.4h.6M47.8 413.4h.6M59.3 405.7h.6M46.9 418.7h.6M56.1 415.6h.6M49.1 400.6h.6M58.8 410.7h.6M46.7 408.0h.6M45.0 416.8h.6M49.0 404.1h.6M53.7 401.7h.6M39.8 406.3h.6M54.8 417.9h.6M53.0 422.9h.6M51.1 411.9h.6M52.0 414.1h.6M45.3 417.7h.6M50.7 413.2h.6M47.8 412.4h.6M50.1 415.9h.6M49.5 421.9h.6M52.0 425.8h.6M48.9 421.0h.6M53.3 415.9h.6M55.3 420.6h.6M52.2 416.8h.6M42.5 410.2h.6M51.7 423.7h.6" fill="none" stroke="#111" stroke-opacity="0.6" stroke-width="0.6"/>
<path d="M68.9 405.5h.6M80.0 398.3h.6M90.4 399.8h.6M73.0 401.2h.6M75.2 398.6h.6M67.5 401.3h.6M71.5 399.6h.6M71.7 401.0h.6M61.6 403.6h.6M68.7 397.1h.6M78.6 391.8h.6M63.0 397.0h.6M83.8 402.6h.6M80.8 400.3h.6M65.7 395.8h.6M57.7 396.7h.6M61.7 398.9h.6M84.2 405.0h.6M73.1 397.4h.6M71.3 401.5h.6M62.0 395.1h.6M100.9 398.1h.6M81.1 400.2h.6M73.3 400.7h.6M79.5 404.7h.6M106.9 395.9h.6M70.0 401.9h.6M75.1 394.7h.6M75.2 397.5h.6M79.0 396.4h.6M98.4 398.2h.6M69.9 399.3h.6M91.5 405.3h.6M68.5 401.2h.6M63.5 394.5h.6M81.4 395.8h.6M75.2 402.5h.6M81.7 402.3h.6M58.4 401.5h.6M75.2 395.7h.6M66.3 394.2h.6M89.1 397.9h.6M64.3 401.7h.6M85.7 400.1h.6M90.2 399.6h.6M68.5 393.6h.6M67.6 396.3h.6M103.6 396.1h.6M70.2 399.3h.6M73.9 401.0h.6M79.2 401.9h.6M83.6 399.2h.6M66.8 397.8h.6M62.8 403.0h.6M53.8 398.9h.6M61.6 399.7h.6M84.7 400.1h.6M77.6 396.6h.6M64.3 396.5h.6M63.4 396.3h.6M98.7 394.4h.6M103.6 404.8h.6M57.0 400.8h.6M69.5 397.3h.6M91.7 406.7h.6M51.7 398.5h.6M59.6 400.0h.6M85.6 406.4h.6M89.2 400.7h.6M77.3 402.2h.6M101.8 401.0h.6M60.7 397.0h.6M56.8 398.1h.6M83.1 397.2h.6M68.9 398.2h.6M70.2 393.0h.6M61.0 396.2h.6M103.2 394.9h.6M55.6 397.9h.6M78.8 397.5h.6M45.3 402.6h.6M96.0 393.4h.6M75.3 392.1h.6M51.0 398.4h.6M74.3 396.9h.6M84.6 400.4h.6M74.3 396.6h.6M75.0 401.8h.6M91.8 398.6h.6M85.9 402.7h.6M93.1 395.5h.6M78.2 403.6h.6M99.8 394.9h.6M44.1 399.1h.6M77.8 396.3h.6M80.9 397.3h.6M78.9 396.3h.6M74.8 397.8h.6M103.5 398.1h.6M79.4 402.3h.6M79.6 405.6h.6M85.7 405.0h.6M58.5 397.7h.6M87.9 401.8h.6M65.1 397.0h.6M84.3 403.3h.6M69.4 406.8h.6M54.0 399.0h.6M79.7 399.3h.6M79.7 400.6h.6M62.3 402.3h.6M64.1 396.1h.6M100.3 397.9h.6M68.6 401.1h.6M73.2 397.7h.6M62.3 398.9h.6M82.0 400.5h.6M97.5 401.6h.6M85.5 398.5h.6M56.2 398.2h.6" fill="none" stroke="#111" stroke-opacity="0.45" stroke-width="0.6"/>
<path d="M86.1 403.2h.6M108.5 414.2h.6M103.2 429.8h.6M96.6 429.2h.6M54.1 413.3h.6M113.3 417.7h.6M92.2 427.2h.6M102.7 428.1h.6M79.2 401.5h.6M67.6 403.7h.6M69.2 421.6h.6M90.2 402.3h.6M115.8 421.8h.6M108.1 412.4h.6M110.7 414.5h.6M111.7 425.9h.6M69.5 420.7h.6M61.1 406.8h.6M110.9 418.0h.6M76.2 423.7h.6M65.4 404.4h.6M89.7 424.6h.6M59.9 407.7h.6M100.1 404.6h.6M63.8 419.4h.6M112.5 424.1h.6M102.3 426.9h.6M83.0 403.1h.6M76.7 422.6h.6M69.6 403.5h.6M104.9 409.6h.6M108.2 414.2h.6M91.7 403.1h.6M94.7 403.6h.6M111.9 419.3h.6M101.1 428.9h.6M82.4 423.7h.6M57.4 416.8h.6M80.9 401.9h.6M53.3 410.9h.6M80.5 403.1h.6M59.8 417.8h.6M67.9 404.6h.6M102.2 408.3h.6M86.3 401.9h.6M95.8 426.6h.6M53.5 413.7h.6M64.5 420.6h.6M76.3 403.4h.6M65.0 420.3h.6M108.6 426.2h.6M104.7 409.2h.6M95.6 405.6h.6M73.3 421.4h.6M65.2 420.5h.6M110.9 415.5h.6M85.6 424.3h.6M55.4 412.6h.6M106.8 410.8h.6M73.8 403.4h.6M112.5 422.3h.6M96.8 405.9h.6M64.2 419.7h.6M78.9 423.2h.6M110.6 416.7h.6M102.1 428.6h.6M94.7 403.2h.6M61.8 419.3h.6M88.7 403.5h.6M112.4 423.9h.6M102.0 408.6h.6M94.1 404.3h.6M110.7 422.4h.6M96.5 405.6h.6M71.5 422.2h.6M57.5 416.2h.6M106.8 426.2h.6M76.3 401.0h.6M93.0 427.0h.6M57.6 409.7h.6M62.2 419.1h.6M97.9 429.4h.6M104.4 427.6h.6M99.2 428.5h.6M60.9 405.9h.6M87.6 424.3h.6M100.1 408.1h.6M91.3 425.7h.6M84.9 424.7h.6M106.0 428.6h.6M90.6 425.7h.6M101.4 428.5h.6M111.2 424.8h.6M87.5 424.1h.6M72.1 403.6h.6M56.9 416.9h.6M93.5 426.6h.6M56.5 415.6h.6M85.0 423.7h.6M81.5 402.8h.6M60.5 418.6h.6M105.6 410.6h.6M87.8 403.0h.6M99.1 406.0h.6M106.4 426.6h.6M110.8 415.9h.6M77.6 402.7h.6M92.8 426.5h.6M110.7 416.2h.6M106.0 411.3h.6M111.7 424.9h.6M70.2 422.0h.6M109.4 414.8h.6M58.2 408.5h.6M113.0 420.7h.6M67.3 420.2h.6M108.2 427.8h.6M110.6 415.6h.6M72.0 400.8h.6M97.9 405.7h.6M96.0 429.4h.6M112.4 418.5h.6M112.1 422.4h.6M106.6 426.0h.6M91.7 427.6h.6M94.7 427.4h.6M110.8 425.5h.6M76.5 401.9h.6M112.6 418.5h.6M103.9 409.7h.6M105.4 410.2h.6M88.8 402.7h.6M61.7 406.3h.6M81.4 401.7h.6M100.4 427.8h.6M75.5 403.0h.6M68.7 404.7h.6M106.4 410.5h.6M111.9 423.4h.6M55.6 414.8h.6M69.7 422.0h.6M64.9 403.5h.6M82.9 423.4h.6M109.7 413.5h.6M97.4 428.6h.6M88.5 424.4h.6M70.6 422.3h.6M66.0 420.5h.6M92.5 403.8h.6M102.9 407.9h.6M110.5 411.6h.6M92.7 403.6h.6M59.7 407.0h.6M104.2 428.1h.6M60.6 419.0h.6M65.2 404.9h.6M67.2 402.4h.6M98.2 427.4h.6M62.4 419.5h.6M54.4 415.1h.6M61.4 406.3h.6M80.7 402.8h.6M63.9 420.0h.6M82.9 401.5h.6M79.1 423.6h.6M98.6 427.8h.6M104.6 427.2h.6M106.4 410.8h.6M91.1 403.8h.6M80.3 423.2h.6M58.8 408.0h.6M85.7 401.9h.6M96.0 404.3h.6M83.9 401.9h.6M72.6 402.9h.6M96.9 406.3h.6M99.6 406.3h.6M108.5 414.4h.6M55.7 415.9h.6M104.3 427.0h.6M104.6 426.9h.6M82.2 423.4h.6M56.1 415.7h.6M68.9 404.0h.6M53.5 411.5h.6M83.8 424.0h.6M106.7 411.3h.6M78.0 423.6h.6M92.4 426.7h.6M73.1 421.8h.6M60.4 406.2h.6M100.6 406.7h.6M69.3 420.8h.6M99.1 407.5h.6M111.2 423.2h.6M80.4 422.8h.6M53.4 413.2h.6M69.7 403.9h.6M114.2 423.5h.6M73.4 402.1h.6M87.5 402.6h.6M63.9 405.7h.6M91.4 425.4h.6M64.9 403.9h.6M62.6 404.7h.6M59.2 418.0h.6M82.2 426.1h.6M88.0 425.8h.6M105.2 409.9h.6M104.2 408.7h.6M104.2 427.9h.6M112.9 421.3h.6M75.6 423.8h.6M107.5 427.2h.6M107.3 411.5h.6M83.4 422.8h.6M79.1 424.6h.6M68.8 420.5h.6M111.2 416.2h.6M59.5 407.4h.6M86.9 425.7h.6M105.3 410.9h.6M97.9 427.1h.6M78.0 424.9h.6M94.2 404.4h.6M55.1 416.1h.6M57.7 407.7h.6M107.2 426.5h.6M98.1 405.4h.6M85.6 402.6h.6M89.1 426.5h.6M104.7 410.1h.6M72.3 402.2h.6M111.1 423.1h.6M85.9 423.3h.6M88.0 425.5h.6M68.2 403.7h.6M92.3 402.0h.6M90.1 425.5h.6M57.3 417.2h.6M93.6 427.5h.6M102.6 427.9h.6M58.5 417.2h.6M56.6 416.6h.6M114.1 418.7h.6M58.2 407.7h.6M111.1 423.5h.6M64.1 405.1h.6M84.3 423.4h.6M54.9 412.2h.6M112.3 424.1h.6M106.7 413.3h.6M83.2 423.8h.6M113.9 420.7h.6M96.3 427.0h.6M70.2 403.3h.6M62.5 418.8h.6M55.4 414.2h.6M101.9 427.9h.6M63.6 406.2h.6M84.0 424.5h.6M113.2 421.1h.6M111.4 423.4h.6M104.9 410.5h.6M95.0 427.8h.6M86.4 403.5h.6M107.8 427.5h.6M53.8 416.6h.6M57.2 410.6h.6M60.4 405.6h.6M78.6 423.7h.6M53.5 411.1h.6M77.8 422.9h.6M60.0 406.6h.6M63.7 405.0h.6M63.6 406.3h.6M100.7 427.8h.6M98.7 428.2h.6M87.0 424.2h.6M85.4 403.4h.6M98.4 427.5h.6M55.3 412.8h.6M85.5 402.1h.6M113.1 420.8h.6M75.2 403.0h.6M64.7 419.8h.6M87.6 400.9h.6M100.7 406.3h.6M100.2 408.1h.6M76.7 426.3h.6M95.1 427.6h.6M102.1 408.3h.6M63.2 420.1h.6M105.9 427.0h.6M84.6 400.2h.6M71.6 422.4h.6M53.6 411.5h.6M107.2 412.1h.6M72.1 422.7h.6M53.6 414.7h.6M109.9 414.9h.6M102.6 428.5h.6M109.9 414.7h.6M105.2 427.1h.6M89.3 402.2h.6M108.8 414.6h.6M63.4 420.9h.6M111.6 418.5h.6M81.6 402.9h.6M76.8 401.8h.6M63.6 403.1h.6M87.6 427.1h.6M113.1 419.7h.6M60.3 419.8h.6M85.8 402.3h.6M111.0 418.5h.6M109.4 415.3h.6M104.5 411.3h.6M59.8 417.0h.6M71.5 403.5h.6M86.8 402.4h.6M97.3 428.2h.6M99.9 406.5h.6M61.6 419.4h.6M61.7 405.5h.6M99.0 427.4h.6M91.4 402.3h.6M85.1 424.5h.6M82.0 423.1h.6M115.3 415.6h.6M53.4 413.7h.6M96.4 427.8h.6M104.7 411.0h.6M95.4 428.3h.6M101.4 428.4h.6M61.7 418.1h.6M68.1 403.3h.6M60.3 417.9h.6M59.1 406.5h.6M90.0 403.6h.6" fill="none" stroke="#111" stroke-opacity="0.6" stroke-width="0.6"/>
<g stroke="#000" stroke-opacity="0.3" stroke-width="0.35" filter="url(#fb5)">
<path d="M55.4 412.0C55.9 410.6 57.4 408.9 60.0 407.5C62.6 406.1 66.5 404.5 70.8 403.8C75.1 403.1 82.0 403.0 86.0 403.3C90.0 403.6 92.0 404.3 95.0 405.5C98.0 406.7 101.5 408.8 104.0 410.5C106.5 412.2 108.6 414.2 110.0 416.0C111.4 417.8 112.5 419.6 112.3 421.2C112.1 422.8 110.8 424.4 109.0 425.5C107.2 426.6 104.2 427.5 101.5 427.6C98.8 427.7 95.6 427.1 93.0 426.3C90.4 425.5 89.0 423.8 86.0 423.0C83.0 422.2 78.8 422.4 75.0 421.8C71.2 421.2 66.0 420.2 63.0 419.2C60.0 418.2 58.3 417.2 57.0 416.0C55.7 414.8 54.9 413.4 55.4 412.0Z" fill="#777777"/>
<path d="M59.7 412.4C60.2 411.2 61.5 409.7 63.7 408.6C65.9 407.4 69.2 406.0 73.0 405.4C76.7 404.8 82.5 404.7 86.0 405.0C89.5 405.2 91.1 405.8 93.7 406.8C96.3 407.9 99.3 409.6 101.5 411.1C103.6 412.6 105.4 414.3 106.6 415.9C107.8 417.4 108.7 419.0 108.6 420.3C108.4 421.7 107.3 423.1 105.7 424.0C104.2 424.9 101.6 425.7 99.3 425.8C97.0 425.9 94.2 425.4 92.0 424.7C89.8 424.0 88.6 422.5 86.0 421.9C83.4 421.2 79.8 421.4 76.6 420.8C73.3 420.3 68.8 419.4 66.3 418.6C63.7 417.8 62.2 416.9 61.1 415.9C60.0 414.8 59.3 413.6 59.7 412.4Z" fill="#6c6c6c"/>
<path d="M64.1 412.9C64.4 411.8 65.5 410.6 67.4 409.6C69.2 408.6 72.0 407.5 75.1 407.0C78.2 406.5 83.1 406.4 86.0 406.6C88.9 406.8 90.3 407.3 92.5 408.2C94.6 409.1 97.1 410.5 98.9 411.8C100.7 413.0 102.2 414.4 103.2 415.7C104.2 417.0 105.0 418.3 104.8 419.4C104.7 420.6 103.8 421.8 102.5 422.5C101.2 423.3 99.0 423.9 97.1 424.0C95.2 424.1 92.9 423.6 91.0 423.1C89.2 422.5 88.2 421.3 86.0 420.7C83.8 420.2 80.9 420.3 78.1 419.9C75.4 419.4 71.7 418.7 69.5 418.0C67.4 417.3 66.1 416.6 65.2 415.7C64.3 414.9 63.7 413.9 64.1 412.9Z" fill="#6e6e6e"/>
<path d="M68.4 413.3C68.7 412.5 69.6 411.5 71.0 410.7C72.5 409.9 74.8 409.0 77.3 408.6C79.8 408.2 83.7 408.1 86.0 408.3C88.3 408.4 89.5 408.8 91.2 409.5C92.9 410.2 94.9 411.4 96.3 412.4C97.8 413.4 99.0 414.5 99.8 415.6C100.6 416.6 101.2 417.7 101.1 418.6C101.0 419.5 100.3 420.4 99.2 421.0C98.2 421.7 96.4 422.2 94.9 422.2C93.4 422.3 91.5 421.9 90.0 421.5C88.5 421.1 87.7 420.0 86.0 419.6C84.3 419.2 81.9 419.3 79.7 418.9C77.5 418.5 74.5 418.0 72.8 417.4C71.1 416.9 70.1 416.3 69.3 415.6C68.6 414.9 68.1 414.1 68.4 413.3Z" fill="#7d7d7d"/>
<path d="M72.7 413.7C73.0 413.1 73.6 412.3 74.7 411.8C75.8 411.2 77.5 410.4 79.4 410.1C81.3 409.8 84.3 409.8 86.0 409.9C87.7 410.1 88.6 410.4 89.9 410.9C91.2 411.4 92.7 412.3 93.8 413.1C94.9 413.8 95.8 414.7 96.4 415.4C97.0 416.2 97.5 417.0 97.4 417.7C97.3 418.4 96.7 419.1 96.0 419.6C95.2 420.0 93.9 420.4 92.7 420.5C91.6 420.5 90.2 420.2 89.0 419.9C87.9 419.6 87.3 418.8 86.0 418.5C84.7 418.1 82.9 418.2 81.2 417.9C79.6 417.7 77.3 417.2 76.0 416.8C74.7 416.4 74.0 416.0 73.4 415.4C72.9 414.9 72.5 414.3 72.7 413.7Z" fill="#8c8c8c"/>
<path d="M77.1 414.1C77.2 413.7 77.7 413.2 78.4 412.8C79.2 412.4 80.3 411.9 81.6 411.7C82.8 411.5 84.8 411.5 86.0 411.6C87.2 411.7 87.8 411.9 88.6 412.2C89.5 412.6 90.5 413.2 91.2 413.7C92.0 414.2 92.6 414.8 93.0 415.3C93.4 415.8 93.7 416.3 93.7 416.8C93.6 417.3 93.2 417.8 92.7 418.1C92.2 418.4 91.3 418.6 90.5 418.7C89.7 418.7 88.8 418.5 88.0 418.3C87.3 418.1 86.9 417.6 86.0 417.3C85.1 417.1 83.9 417.2 82.8 417.0C81.7 416.8 80.2 416.5 79.3 416.2C78.4 415.9 77.9 415.6 77.5 415.3C77.2 414.9 76.9 414.5 77.1 414.1Z" fill="#9b9b9b"/>
<path d="M81.4 414.6C81.5 414.3 81.7 414.1 82.1 413.9C82.5 413.7 83.1 413.4 83.7 413.3C84.4 413.2 85.4 413.2 86.0 413.2C86.6 413.3 86.9 413.4 87.3 413.6C87.8 413.8 88.3 414.1 88.7 414.3C89.1 414.6 89.4 414.9 89.6 415.1C89.8 415.4 90.0 415.7 89.9 415.9C89.9 416.2 89.7 416.4 89.5 416.6C89.2 416.7 88.7 416.9 88.3 416.9C87.9 416.9 87.4 416.8 87.0 416.7C86.7 416.6 86.5 416.3 86.0 416.2C85.5 416.1 84.9 416.1 84.3 416.0C83.8 415.9 83.0 415.8 82.5 415.6C82.1 415.5 81.8 415.3 81.7 415.1C81.5 415.0 81.3 414.8 81.4 414.6Z" fill="#aaaaaa"/>
</g>
<g filter="url(#fb8)">
<ellipse cx="94.0" cy="417.5" rx="12.00" ry="5.20" transform="rotate(18 94.0 417.5)" fill="#777777"/>
<ellipse cx="94.0" cy="417.5" rx="10.30" ry="4.46" transform="rotate(18 94.0 417.5)" fill="#515151"/>
<ellipse cx="94.0" cy="417.5" rx="8.60" ry="3.73" transform="rotate(18 94.0 417.5)" fill="#303030"/>
<ellipse cx="94.0" cy="417.5" rx="6.90" ry="2.99" transform="rotate(18 94.0 417.5)" fill="#222222"/>
<ellipse cx="94.0" cy="417.5" rx="5.20" ry="2.25" transform="rotate(18 94.0 417.5)" fill="#131313"/>
<ellipse cx="94.0" cy="417.5" rx="3.50" ry="1.52" transform="rotate(18 94.0 417.5)" fill="#0c0c0c"/>
<ellipse cx="94.0" cy="417.5" rx="1.80" ry="0.78" transform="rotate(18 94.0 417.5)" fill="#222222"/>
</g>
<path d="M59.0 412.5C59.3 411.2 61.8 409.0 64.0 408.0C66.2 407.0 69.7 406.6 72.0 406.5C74.3 406.4 77.0 405.6 78.0 407.5C79.0 409.4 79.3 416.2 78.0 418.0C76.7 419.8 72.7 418.4 70.0 418.0C67.3 417.6 63.8 416.4 62.0 415.5C60.2 414.6 58.7 413.8 59.0 412.5Z" fill="#e4e4e4" stroke="#fff" stroke-opacity="0.95" stroke-width="0.9"/>
<path d="M66 411 Q72 409 77 410 M66 415 Q72 416 77 415" stroke="#999" stroke-width="0.4" fill="none"/>
</g>
<line x1="39.00" y1="389.60" x2="39.00" y2="474.60" stroke="#888" stroke-width="0.9"/>
<line x1="39.00" y1="474.60" x2="124.60" y2="474.60" stroke="#888" stroke-width="0.9"/>
<line x1="37.00" y1="397.40" x2="39.00" y2="397.40" stroke="#555" stroke-width="0.8"/>
<text x="34.00" y="400.10" font-size="7.7" text-anchor="end" fill="#111" stroke="#111" stroke-width="0.2">10<tspan font-size="4.77" dy="-2.93">5</tspan></text>
<line x1="37.00" y1="416.80" x2="39.00" y2="416.80" stroke="#555" stroke-width="0.8"/>
<text x="34.00" y="419.50" font-size="7.7" text-anchor="end" fill="#111" stroke="#111" stroke-width="0.2">10<tspan font-size="4.77" dy="-2.93">4</tspan></text>
<line x1="37.00" y1="436.30" x2="39.00" y2="436.30" stroke="#555" stroke-width="0.8"/>
<text x="34.00" y="439.00" font-size="7.7" text-anchor="end" fill="#111" stroke="#111" stroke-width="0.2">10<tspan font-size="4.77" dy="-2.93">3</tspan></text>
<line x1="37.00" y1="456.20" x2="39.00" y2="456.20" stroke="#555" stroke-width="0.8"/>
<text x="34.00" y="458.90" font-size="7.7" text-anchor="end" fill="#111" stroke="#111" stroke-width="0.2">10<tspan font-size="4.77" dy="-2.93">2</tspan></text>
<line x1="37.00" y1="467.30" x2="39.00" y2="467.30" stroke="#555" stroke-width="0.8"/>
<text x="34.00" y="470.00" font-size="7.7" text-anchor="end" fill="#111" stroke="#111" stroke-width="0.2">0</text>
<line x1="38.00" y1="396.60" x2="39.00" y2="396.60" stroke="#999" stroke-width="0.6"/>
<line x1="38.00" y1="401.60" x2="39.00" y2="401.60" stroke="#999" stroke-width="0.6"/>
<line x1="38.00" y1="406.60" x2="39.00" y2="406.60" stroke="#999" stroke-width="0.6"/>
<line x1="38.00" y1="411.60" x2="39.00" y2="411.60" stroke="#999" stroke-width="0.6"/>
<line x1="38.00" y1="416.60" x2="39.00" y2="416.60" stroke="#999" stroke-width="0.6"/>
<line x1="38.00" y1="421.60" x2="39.00" y2="421.60" stroke="#999" stroke-width="0.6"/>
<line x1="38.00" y1="426.60" x2="39.00" y2="426.60" stroke="#999" stroke-width="0.6"/>
<line x1="38.00" y1="431.60" x2="39.00" y2="431.60" stroke="#999" stroke-width="0.6"/>
<line x1="38.00" y1="436.60" x2="39.00" y2="436.60" stroke="#999" stroke-width="0.6"/>
<line x1="38.00" y1="441.60" x2="39.00" y2="441.60" stroke="#999" stroke-width="0.6"/>
<line x1="38.00" y1="446.60" x2="39.00" y2="446.60" stroke="#999" stroke-width="0.6"/>
<line x1="38.00" y1="451.60" x2="39.00" y2="451.60" stroke="#999" stroke-width="0.6"/>
<line x1="38.00" y1="456.60" x2="39.00" y2="456.60" stroke="#999" stroke-width="0.6"/>
<line x1="38.00" y1="461.60" x2="39.00" y2="461.60" stroke="#999" stroke-width="0.6"/>
<line x1="38.00" y1="466.60" x2="39.00" y2="466.60" stroke="#999" stroke-width="0.6"/>
<path d="M55.1 474.6v1.3M62.2 474.6v1.3M69.4 474.6v1.3M82.4 474.6v1.3M85.8 474.6v1.3M88.2 474.6v1.3M90.1 474.6v1.3M91.7 474.6v1.3M93.0 474.6v1.3M94.1 474.6v1.3M95.1 474.6v1.3M101.9 474.6v1.3M105.3 474.6v1.3M107.7 474.6v1.3M109.6 474.6v1.3M111.2 474.6v1.3M112.5 474.6v1.3M113.6 474.6v1.3M114.6 474.6v1.3" stroke="#666" stroke-width="0.5" fill="none"/>
<rect x="37.40" y="466.10" width="1.6" height="2.4" fill="#000"/>
<line x1="48.00" y1="474.60" x2="48.00" y2="476.40" stroke="#555" stroke-width="0.8"/>
<text x="48.00" y="486.90" font-size="7.7" text-anchor="middle" fill="#111" stroke="#111" stroke-width="0.2">0</text>
<line x1="76.50" y1="474.60" x2="76.50" y2="476.40" stroke="#555" stroke-width="0.8"/>
<text x="76.50" y="486.90" font-size="7.7" text-anchor="middle" fill="#111" stroke="#111" stroke-width="0.2">10<tspan font-size="4.77" dy="-2.93">3</tspan></text>
<line x1="96.00" y1="474.60" x2="96.00" y2="476.40" stroke="#555" stroke-width="0.8"/>
<text x="96.00" y="486.90" font-size="7.7" text-anchor="middle" fill="#111" stroke="#111" stroke-width="0.2">10<tspan font-size="4.77" dy="-2.93">4</tspan></text>
<line x1="115.50" y1="474.60" x2="115.50" y2="476.40" stroke="#555" stroke-width="0.8"/>
<text x="115.50" y="486.90" font-size="7.7" text-anchor="middle" fill="#111" stroke="#111" stroke-width="0.2">10<tspan font-size="4.77" dy="-2.93">5</tspan></text>
<rect x="46.00" y="474.30" width="4" height="1.6" fill="#000"/>
<rect x="42.30" y="400.70" width="36.30" height="21.10" fill="none" stroke="#e8161b" stroke-width="1.6"/>
<rect x="82.40" y="400.70" width="36.50" height="28.80" fill="none" stroke="#1b1be0" stroke-width="1.6"/>
<text x="43.30" y="436.40" font-size="13.2" font-weight="bold" fill="#e8161b">22%</text>
<text x="96.30" y="445.60" font-size="13.2" font-weight="bold" fill="#1b1be0">71%</text>
<line x1="13.5" y1="31.2" x2="13.5" y2="458.5" stroke="#111" stroke-width="1.1"/>
<g transform="translate(16.20,462.00) rotate(-90) scale(0.536,1)"><text x="0" y="0" font-size="10.8" text-anchor="end" font-weight="normal" font-style="normal" fill="#111"  stroke="#111" stroke-width="0.35">CD34</text></g>
<rect x="164.00" y="32.30" width="84.40" height="85.00" fill="#fff" stroke="#c4c4c4" stroke-width="0.9"/>
<g clip-path="url(#cC0)">
<path d="M205.2 92.4h.6M204.4 94.4h.6M201.8 103.4h.6M204.9 82.9h.6M201.4 111.8h.6M206.7 84.9h.6M210.7 79.0h.6M201.3 85.3h.6M199.6 105.8h.6M200.8 105.0h.6M204.6 92.9h.6M199.3 105.8h.6M212.8 77.3h.6M207.1 81.7h.6M205.0 102.0h.6M198.9 90.2h.6M197.2 109.0h.6M202.8 94.4h.6M203.1 105.4h.6M204.9 97.5h.6M202.9 90.6h.6M209.2 79.3h.6M205.9 83.6h.6M205.3 79.8h.6M200.8 98.1h.6M205.8 90.7h.6M200.5 90.6h.6M202.7 97.1h.6M196.0 111.2h.6M198.3 108.5h.6M202.7 95.6h.6M202.7 85.4h.6M199.8 114.3h.6M206.3 94.3h.6M199.0 97.1h.6M206.2 99.8h.6M210.5 89.6h.6M200.7 100.2h.6M193.1 106.6h.6M203.5 93.7h.6M196.9 106.2h.6M203.9 84.5h.6M206.4 95.7h.6M194.1 103.2h.6M201.0 106.3h.6M208.4 87.7h.6M207.0 85.2h.6M209.6 87.2h.6M201.2 103.8h.6M202.0 91.7h.6M202.5 94.9h.6M201.1 104.3h.6M206.6 87.9h.6M197.7 96.9h.6M205.7 82.5h.6M202.9 94.1h.6M209.8 78.5h.6M204.4 93.4h.6M204.4 100.7h.6M203.7 79.8h.6M204.0 78.9h.6M207.7 92.1h.6M195.1 105.7h.6M200.4 91.7h.6M202.4 104.1h.6M208.8 71.2h.6M197.8 105.4h.6M196.0 117.1h.6M199.4 95.7h.6M202.6 98.7h.6M209.4 83.3h.6M211.0 81.0h.6M201.4 87.3h.6M204.0 100.9h.6M199.3 97.3h.6M202.9 89.2h.6M205.8 82.5h.6M204.7 91.6h.6M204.2 82.9h.6M208.6 94.0h.6M199.4 108.0h.6M198.9 109.0h.6M201.3 97.8h.6M195.1 105.0h.6M195.6 113.9h.6M200.7 100.3h.6M205.6 102.4h.6M200.8 98.8h.6M207.7 93.8h.6M200.1 81.0h.6M206.5 85.2h.6M201.5 92.8h.6M197.2 109.8h.6M204.9 86.1h.6M207.5 96.0h.6M206.7 89.6h.6M201.8 95.4h.6M203.3 98.2h.6M196.9 105.2h.6M198.6 108.5h.6M208.8 87.7h.6M199.0 112.0h.6M206.0 102.0h.6M207.3 94.4h.6M203.9 83.7h.6M199.0 95.6h.6M206.3 81.2h.6M208.8 89.7h.6M199.8 100.0h.6M203.6 91.3h.6M205.1 96.7h.6M202.1 95.1h.6M203.1 99.0h.6M204.3 87.2h.6M204.5 100.2h.6M201.4 106.0h.6M210.0 81.4h.6M199.8 97.3h.6M202.4 89.1h.6M198.4 101.1h.6M206.7 91.2h.6M213.2 74.4h.6M213.1 83.3h.6M204.5 87.3h.6M204.8 89.3h.6M200.1 103.5h.6M208.2 93.7h.6M205.6 93.4h.6M195.0 102.2h.6M207.2 74.8h.6M205.9 83.3h.6M201.2 93.2h.6M198.5 97.0h.6M201.9 92.4h.6M207.9 90.1h.6M204.1 98.4h.6M202.2 95.9h.6M205.2 93.4h.6M204.4 98.2h.6M202.3 89.6h.6M202.3 112.0h.6M205.9 91.5h.6M212.6 79.1h.6M201.0 97.7h.6M204.1 101.2h.6M206.3 90.7h.6M194.6 103.7h.6M198.2 104.6h.6M198.3 103.5h.6M201.3 88.5h.6M205.4 92.8h.6M201.9 96.5h.6M194.1 113.6h.6M209.3 89.2h.6M204.8 84.4h.6M197.8 112.4h.6M195.8 105.1h.6M201.8 108.3h.6M200.4 109.1h.6M202.7 81.4h.6M196.6 112.0h.6M205.7 94.6h.6M202.7 86.4h.6M199.0 84.8h.6M195.5 107.8h.6M207.5 83.0h.6M204.9 92.8h.6M200.6 105.7h.6M210.5 89.4h.6M199.8 112.7h.6M204.8 102.1h.6M202.5 94.3h.6M199.3 100.8h.6M203.7 95.9h.6M205.1 86.9h.6M197.2 111.1h.6M202.8 93.1h.6M211.3 82.0h.6M190.5 114.1h.6M199.2 97.7h.6M204.4 92.1h.6M195.2 108.7h.6M206.4 88.0h.6M208.8 94.2h.6M198.7 105.7h.6M202.0 103.7h.6M204.7 90.9h.6M200.5 107.9h.6M200.4 86.8h.6M215.1 64.9h.6M200.7 104.8h.6M208.7 81.9h.6M200.4 105.6h.6M203.4 95.8h.6M205.4 89.6h.6M210.9 84.2h.6M203.5 96.5h.6M210.4 75.5h.6M203.5 89.9h.6M204.1 91.2h.6M203.5 90.7h.6M206.5 90.3h.6M201.8 99.4h.6M202.9 98.3h.6M200.7 95.6h.6M197.9 95.5h.6M200.0 100.4h.6M194.4 102.3h.6M202.0 90.9h.6M205.8 102.4h.6M202.8 96.5h.6M204.0 105.7h.6M208.2 89.4h.6M204.1 93.9h.6M206.6 96.2h.6M204.6 92.6h.6M211.3 83.7h.6M203.7 99.4h.6M196.2 120.7h.6M202.7 96.6h.6M207.2 87.7h.6M208.9 93.0h.6M204.2 94.6h.6M200.6 105.9h.6M194.2 109.8h.6M207.5 85.1h.6M198.1 97.6h.6M206.3 87.7h.6M209.9 69.0h.6M199.3 103.2h.6M212.6 82.2h.6M209.6 97.2h.6M203.5 99.5h.6M203.8 104.4h.6M199.7 102.7h.6M201.5 85.4h.6M204.0 95.1h.6M202.0 95.2h.6M202.3 117.8h.6M204.4 88.8h.6M205.7 95.1h.6M199.5 105.2h.6M204.2 93.1h.6M205.9 94.7h.6M199.5 82.1h.6M201.0 96.6h.6M212.2 75.9h.6M204.0 95.4h.6M207.7 97.8h.6M200.2 105.6h.6M197.1 113.9h.6M203.6 103.1h.6M207.3 89.9h.6M200.9 108.7h.6M203.2 85.3h.6M201.9 107.4h.6M202.5 84.4h.6M197.0 111.2h.6M209.4 83.8h.6M199.3 99.3h.6M198.1 104.2h.6M205.5 91.0h.6M205.1 104.3h.6M205.5 91.2h.6M204.1 101.7h.6M203.0 96.9h.6M195.5 115.7h.6M207.6 81.0h.6M197.3 108.4h.6M204.5 94.3h.6M199.6 97.1h.6M194.0 106.9h.6M200.9 102.0h.6M200.9 96.2h.6M204.1 93.8h.6M205.3 89.0h.6M202.7 97.0h.6M211.4 89.7h.6M205.3 78.0h.6M203.3 89.3h.6M209.0 88.0h.6M202.1 106.4h.6M206.3 85.4h.6M196.0 105.1h.6M206.2 89.1h.6M207.7 90.6h.6M204.4 94.4h.6M210.2 84.7h.6M207.3 94.6h.6M210.4 73.1h.6M206.5 96.9h.6M210.6 78.0h.6M207.4 92.9h.6M200.9 103.6h.6M204.8 99.3h.6M204.8 92.3h.6M207.2 83.9h.6M204.3 92.8h.6M204.2 95.2h.6M198.0 103.6h.6M201.1 110.3h.6M211.2 77.1h.6M203.3 108.9h.6M204.0 85.2h.6M202.4 99.5h.6M207.8 85.6h.6M200.7 108.1h.6M209.0 85.6h.6M204.3 91.5h.6M195.3 116.8h.6M198.0 109.5h.6M199.8 95.2h.6M193.8 107.5h.6M208.2 85.7h.6M197.5 101.8h.6M198.8 92.8h.6M200.0 98.0h.6M207.0 93.2h.6M205.9 95.8h.6M201.1 108.6h.6" fill="none" stroke="#111" stroke-opacity="0.6" stroke-width="0.6"/>
<g stroke="#555" stroke-opacity="0.5" stroke-width="0.35" filter="url(#fb3)">
<path d="M196.0 75.0C197.3 72.7 201.8 73.8 204.0 74.0C206.2 74.2 207.9 74.7 209.0 76.0C210.1 77.3 210.8 79.8 210.5 82.0C210.2 84.2 209.2 87.3 207.5 89.0C205.8 90.7 201.9 92.2 200.0 92.0C198.1 91.8 196.7 90.8 196.0 88.0C195.3 85.2 194.7 77.3 196.0 75.0Z" fill="#bbbbbb"/>
<path d="M197.5 76.5C198.6 74.7 202.1 75.6 203.8 75.8C205.6 75.9 206.9 76.3 207.8 77.3C208.6 78.4 209.2 80.4 209.0 82.1C208.8 83.8 208.0 86.3 206.6 87.6C205.2 88.9 202.2 90.1 200.7 89.9C199.2 89.8 198.1 89.0 197.5 86.8C197.0 84.6 196.5 78.4 197.5 76.5Z" fill="#c8c8c8"/>
<path d="M199.1 78.1C199.9 76.8 202.5 77.4 203.7 77.5C204.9 77.6 205.9 77.9 206.6 78.7C207.2 79.4 207.6 80.9 207.4 82.1C207.3 83.4 206.7 85.2 205.7 86.1C204.7 87.1 202.5 88.0 201.4 87.9C200.3 87.8 199.5 87.2 199.1 85.6C198.7 83.9 198.3 79.4 199.1 78.1Z" fill="#d4d4d4"/>
<path d="M200.6 79.6C201.1 78.8 202.8 79.2 203.5 79.3C204.3 79.3 205.0 79.5 205.4 80.0C205.7 80.5 206.0 81.4 205.9 82.2C205.8 83.0 205.4 84.1 204.8 84.7C204.2 85.3 202.8 85.9 202.1 85.8C201.4 85.7 200.9 85.4 200.6 84.4C200.4 83.3 200.2 80.5 200.6 79.6Z" fill="#e1e1e1"/>
<path d="M202.2 81.2C202.4 80.8 203.1 81.0 203.4 81.0C203.7 81.1 204.0 81.1 204.1 81.3C204.3 81.5 204.4 81.9 204.4 82.2C204.3 82.6 204.2 83.0 203.9 83.3C203.7 83.5 203.1 83.8 202.8 83.7C202.5 83.7 202.3 83.6 202.2 83.1C202.1 82.7 202.0 81.5 202.2 81.2Z" fill="#eeeeee"/>
</g>
<path d="M177.8 116.4h.6M193.3 103.7h.6M180.3 115.8h.6M193.4 103.6h.6M169.6 104.6h.6M169.6 91.9h.6M187.5 72.6h.6M193.5 79.1h.6M193.4 85.3h.6M189.8 115.2h.6M189.7 114.7h.6M193.9 94.5h.6M194.3 79.2h.6M186.0 73.2h.6M193.9 81.7h.6M193.3 82.5h.6M170.7 95.1h.6M171.1 113.7h.6M187.5 115.4h.6M178.3 73.1h.6M193.2 83.5h.6M170.3 105.2h.6M171.1 77.7h.6M185.4 73.5h.6M170.4 110.3h.6M170.9 103.5h.6M191.7 75.0h.6M170.4 92.8h.6M184.2 115.8h.6M179.9 116.9h.6M171.4 76.5h.6M170.0 87.9h.6M193.9 105.3h.6M169.7 90.6h.6M170.0 96.3h.6M193.4 89.8h.6M193.4 107.8h.6M193.5 96.9h.6M172.9 114.6h.6M192.0 114.1h.6M193.7 82.2h.6M171.7 76.0h.6M168.9 106.5h.6M193.1 79.4h.6M170.6 96.4h.6M193.8 109.0h.6M170.4 86.8h.6M173.0 115.4h.6M194.1 91.2h.6M192.2 114.2h.6M169.3 95.7h.6M170.7 85.6h.6M179.0 116.0h.6M191.2 114.5h.6M178.0 71.7h.6M193.2 85.6h.6M172.8 74.9h.6M170.9 99.4h.6M176.5 115.5h.6M177.7 73.2h.6M189.7 115.4h.6M171.9 112.8h.6M192.8 110.8h.6M193.6 80.3h.6M172.9 74.5h.6M193.7 99.9h.6M171.0 77.2h.6M168.9 101.4h.6M194.1 112.4h.6M181.0 73.4h.6M170.3 96.8h.6M170.4 85.9h.6M192.9 104.2h.6M182.0 73.4h.6M193.2 74.8h.6M184.3 117.4h.6M175.4 74.1h.6M173.5 74.3h.6M178.8 72.3h.6M170.2 93.3h.6M170.2 81.7h.6M179.6 72.4h.6M193.7 95.3h.6M174.8 115.2h.6M174.8 74.1h.6M194.0 110.4h.6M193.5 93.4h.6M185.4 73.1h.6M186.7 116.2h.6M194.3 91.7h.6M173.6 114.3h.6M187.2 117.1h.6M187.5 115.9h.6M193.2 78.7h.6M170.5 79.0h.6M193.6 85.1h.6M193.0 96.0h.6M193.7 88.2h.6M194.1 98.0h.6M193.0 107.1h.6M187.0 73.4h.6M189.8 115.2h.6M193.8 103.4h.6M181.2 116.0h.6M193.3 83.9h.6M170.0 101.7h.6M194.1 96.5h.6M170.4 96.8h.6M193.9 101.0h.6M194.4 87.7h.6M184.8 72.7h.6M193.4 102.8h.6M194.8 82.1h.6M193.7 110.2h.6M174.4 115.2h.6M172.1 113.4h.6M170.2 80.1h.6M190.8 74.2h.6M171.3 78.4h.6M170.2 93.4h.6M170.4 108.7h.6M190.8 75.2h.6M182.4 116.2h.6M194.3 81.1h.6M176.6 117.3h.6M170.1 109.8h.6M193.9 87.9h.6M171.9 75.9h.6M169.8 104.6h.6M191.1 114.2h.6M171.1 84.8h.6M182.7 115.7h.6M169.7 96.0h.6M176.5 74.3h.6M175.6 116.8h.6M192.6 111.0h.6M170.5 92.3h.6M171.0 90.0h.6M193.3 89.0h.6M176.2 115.6h.6M169.9 103.4h.6M193.4 92.3h.6M170.1 110.5h.6M170.5 113.5h.6M187.6 72.4h.6M193.2 80.5h.6M169.8 96.9h.6M175.5 115.2h.6M174.8 73.5h.6M169.1 96.3h.6M193.3 104.6h.6M193.3 104.3h.6M171.8 112.3h.6M169.6 106.8h.6M193.2 107.6h.6M170.7 78.0h.6M175.1 115.3h.6M170.5 101.0h.6M193.8 89.2h.6M193.3 85.1h.6M171.3 76.3h.6M193.1 96.3h.6M175.7 73.4h.6M193.6 86.8h.6M194.5 108.8h.6M193.8 104.4h.6M192.4 74.2h.6M193.1 89.3h.6M193.4 82.1h.6M170.4 110.0h.6M170.6 103.3h.6M178.0 73.0h.6M194.8 95.4h.6M177.5 116.2h.6M192.9 112.3h.6M171.1 111.6h.6M190.5 75.0h.6M190.8 74.7h.6M186.6 73.2h.6M194.3 91.6h.6M194.1 109.6h.6M170.6 92.9h.6M167.7 95.0h.6M170.0 96.8h.6M170.5 96.9h.6M190.7 73.4h.6M180.5 72.6h.6M172.6 73.9h.6M177.6 73.4h.6M171.0 76.3h.6M193.5 105.8h.6M170.6 85.3h.6M193.5 81.2h.6M170.1 88.0h.6M192.9 107.7h.6M193.6 109.0h.6M172.7 114.3h.6M185.7 115.9h.6M194.3 96.3h.6M170.2 107.1h.6" fill="none" stroke="#222" stroke-opacity="0.5" stroke-width="0.6"/>
<g stroke="#000" stroke-opacity="0.3" stroke-width="0.35" filter="url(#fb5)">
<rect x="170.8" y="73.8" width="22.4" height="41.7" rx="6.3" fill="#9a9a9a"/>
<rect x="172.2" y="75.8" width="19.6" height="37.9" rx="5.5" fill="#676767"/>
<rect x="173.7" y="77.9" width="16.8" height="34.1" rx="4.8" fill="#727272"/>
<rect x="175.1" y="79.9" width="14.0" height="30.2" rx="4.0" fill="#7e7e7e"/>
<rect x="176.6" y="81.9" width="11.2" height="26.4" rx="3.3" fill="#8c8c8c"/>
<rect x="178.0" y="84.0" width="8.4" height="22.6" rx="2.5" fill="#9a9a9a"/>
<rect x="179.4" y="86.0" width="5.6" height="18.8" rx="1.8" fill="#a8a8a8"/>
</g>
<ellipse cx="182.2" cy="86.5" rx="4.6" ry="8.2" fill="#555" fill-opacity="0.5" stroke="#111" stroke-width="2.0" opacity="0.85" filter="url(#fb5)"/>
<line x1="182.7" y1="81" x2="182.7" y2="112" stroke="#f2f2f2" stroke-width="1.1" opacity="0.8"/>
</g>
<line x1="164.00" y1="32.30" x2="164.00" y2="117.30" stroke="#888" stroke-width="0.9"/>
<line x1="164.00" y1="117.30" x2="248.40" y2="117.30" stroke="#888" stroke-width="0.9"/>
<line x1="162.00" y1="38.60" x2="164.00" y2="38.60" stroke="#555" stroke-width="0.8"/>
<text x="159.00" y="41.30" font-size="7.7" text-anchor="end" fill="#111" stroke="#111" stroke-width="0.2">10<tspan font-size="4.77" dy="-2.93">5</tspan></text>
<line x1="162.00" y1="54.30" x2="164.00" y2="54.30" stroke="#555" stroke-width="0.8"/>
<text x="159.00" y="57.00" font-size="7.7" text-anchor="end" fill="#111" stroke="#111" stroke-width="0.2">10<tspan font-size="4.77" dy="-2.93">4</tspan></text>
<line x1="162.00" y1="70.00" x2="164.00" y2="70.00" stroke="#555" stroke-width="0.8"/>
<text x="159.00" y="72.70" font-size="7.7" text-anchor="end" fill="#111" stroke="#111" stroke-width="0.2">10<tspan font-size="4.77" dy="-2.93">3</tspan></text>
<line x1="162.00" y1="85.80" x2="164.00" y2="85.80" stroke="#555" stroke-width="0.8"/>
<text x="159.00" y="88.50" font-size="7.7" text-anchor="end" fill="#111" stroke="#111" stroke-width="0.2">10<tspan font-size="4.77" dy="-2.93">2</tspan></text>
<line x1="162.00" y1="96.90" x2="164.00" y2="96.90" stroke="#555" stroke-width="0.8"/>
<text x="159.00" y="99.60" font-size="7.7" text-anchor="end" fill="#111" stroke="#111" stroke-width="0.2">0</text>
<line x1="162.00" y1="107.80" x2="164.00" y2="107.80" stroke="#555" stroke-width="0.8"/>
<text x="159.00" y="110.50" font-size="7.7" text-anchor="end" fill="#111" stroke="#111" stroke-width="0.2">-10<tspan font-size="4.77" dy="-2.93">2</tspan></text>
<line x1="163.00" y1="39.30" x2="164.00" y2="39.30" stroke="#999" stroke-width="0.6"/>
<line x1="163.00" y1="44.30" x2="164.00" y2="44.30" stroke="#999" stroke-width="0.6"/>
<line x1="163.00" y1="49.30" x2="164.00" y2="49.30" stroke="#999" stroke-width="0.6"/>
<line x1="163.00" y1="54.30" x2="164.00" y2="54.30" stroke="#999" stroke-width="0.6"/>
<line x1="163.00" y1="59.30" x2="164.00" y2="59.30" stroke="#999" stroke-width="0.6"/>
<line x1="163.00" y1="64.30" x2="164.00" y2="64.30" stroke="#999" stroke-width="0.6"/>
<line x1="163.00" y1="69.30" x2="164.00" y2="69.30" stroke="#999" stroke-width="0.6"/>
<line x1="163.00" y1="74.30" x2="164.00" y2="74.30" stroke="#999" stroke-width="0.6"/>
<line x1="163.00" y1="79.30" x2="164.00" y2="79.30" stroke="#999" stroke-width="0.6"/>
<line x1="163.00" y1="84.30" x2="164.00" y2="84.30" stroke="#999" stroke-width="0.6"/>
<line x1="163.00" y1="89.30" x2="164.00" y2="89.30" stroke="#999" stroke-width="0.6"/>
<line x1="163.00" y1="94.30" x2="164.00" y2="94.30" stroke="#999" stroke-width="0.6"/>
<line x1="163.00" y1="99.30" x2="164.00" y2="99.30" stroke="#999" stroke-width="0.6"/>
<line x1="163.00" y1="104.30" x2="164.00" y2="104.30" stroke="#999" stroke-width="0.6"/>
<line x1="163.00" y1="109.30" x2="164.00" y2="109.30" stroke="#999" stroke-width="0.6"/>
<path d="M173.3 117.3v1.3M176.7 117.3v1.3M180.1 117.3v1.3M188.9 117.3v1.3M192.1 117.3v1.3M194.4 117.3v1.3M196.1 117.3v1.3M197.6 117.3v1.3M198.8 117.3v1.3M199.8 117.3v1.3M200.8 117.3v1.3M207.3 117.3v1.3M210.7 117.3v1.3M213.1 117.3v1.3M215.0 117.3v1.3M216.5 117.3v1.3M217.7 117.3v1.3M218.8 117.3v1.3M219.8 117.3v1.3M226.4 117.3v1.3M229.7 117.3v1.3M232.1 117.3v1.3M233.9 117.3v1.3M235.4 117.3v1.3M236.7 117.3v1.3M237.8 117.3v1.3M238.7 117.3v1.3" stroke="#666" stroke-width="0.5" fill="none"/>
<rect x="162.40" y="95.70" width="1.6" height="2.4" fill="#000"/>
<line x1="170.00" y1="117.30" x2="170.00" y2="119.10" stroke="#555" stroke-width="0.8"/>
<text x="170.00" y="129.60" font-size="7.7" text-anchor="middle" fill="#111" stroke="#111" stroke-width="0.2">0</text>
<line x1="183.40" y1="117.30" x2="183.40" y2="119.10" stroke="#555" stroke-width="0.8"/>
<text x="183.40" y="129.60" font-size="7.7" text-anchor="middle" fill="#111" stroke="#111" stroke-width="0.2">10<tspan font-size="4.77" dy="-2.93">2</tspan></text>
<line x1="201.60" y1="117.30" x2="201.60" y2="119.10" stroke="#555" stroke-width="0.8"/>
<text x="201.60" y="129.60" font-size="7.7" text-anchor="middle" fill="#111" stroke="#111" stroke-width="0.2">10<tspan font-size="4.77" dy="-2.93">3</tspan></text>
<line x1="220.70" y1="117.30" x2="220.70" y2="119.10" stroke="#555" stroke-width="0.8"/>
<text x="220.70" y="129.60" font-size="7.7" text-anchor="middle" fill="#111" stroke="#111" stroke-width="0.2">10<tspan font-size="4.77" dy="-2.93">4</tspan></text>
<line x1="239.60" y1="117.30" x2="239.60" y2="119.10" stroke="#555" stroke-width="0.8"/>
<text x="239.60" y="129.60" font-size="7.7" text-anchor="middle" fill="#111" stroke="#111" stroke-width="0.2">10<tspan font-size="4.77" dy="-2.93">5</tspan></text>
<rect x="168.00" y="117.00" width="4" height="1.6" fill="#000"/>
<g transform="translate(205.00,143.00) scale(0.545,1)"><text x="0" y="0" font-size="11.0" text-anchor="middle" font-weight="normal" font-style="normal" fill="#111"  stroke="#111" stroke-width="0.35">CD45Ra</text></g>
<rect x="169.70" y="72.70" width="24.10" height="18.70" fill="none" stroke="#1f6cc0" stroke-width="1.6"/>
<rect x="195.10" y="72.70" width="29.90" height="18.70" fill="none" stroke="#27449c" stroke-width="1.6"/>
<rect x="169.70" y="93.00" width="24.10" height="23.00" fill="none" stroke="#1ea3e0" stroke-width="1.6"/>
<text x="168.00" y="68.80" font-size="13.2" font-weight="normal" fill="#2a7dcc" stroke="#2a7dcc" stroke-width="0.3">67%</text>
<text x="202.30" y="68.80" font-size="13.2" font-weight="normal" fill="#34559f" stroke="#34559f" stroke-width="0.3">10%</text>
<rect x="164.00" y="151.30" width="84.40" height="85.00" fill="#fff" stroke="#c4c4c4" stroke-width="0.9"/>
<g clip-path="url(#cC1)">
<path d="M182.8 235.7h.8M209.2 190.9h.8M185.4 234.1h.8M175.8 192.5h.8M211.9 210.3h.8M211.5 228.8h.8M198.9 191.3h.8M211.5 197.4h.8M206.1 234.5h.8M195.2 234.4h.8M209.0 192.7h.8M189.9 235.2h.8M170.8 211.6h.8M211.0 222.1h.8M171.7 199.5h.8M191.0 191.5h.8M195.1 237.0h.8M180.1 236.9h.8M212.2 201.6h.8M211.2 219.3h.8M171.4 215.2h.8M192.0 236.2h.8M212.8 196.1h.8M212.8 207.1h.8M212.6 228.9h.8M212.0 222.0h.8M171.9 207.2h.8M212.4 214.6h.8M211.8 207.4h.8M212.0 215.5h.8M203.7 192.4h.8M172.1 233.5h.8M212.0 200.8h.8M212.4 218.3h.8M172.4 224.7h.8M211.8 202.2h.8M212.0 212.4h.8M211.2 214.5h.8M200.5 236.2h.8M170.5 227.0h.8M211.6 201.3h.8M170.3 202.1h.8M212.9 196.8h.8M185.4 191.9h.8M211.5 219.6h.8M170.6 233.5h.8M196.2 190.2h.8M172.4 228.3h.8M211.4 220.6h.8M182.8 191.2h.8M175.9 191.7h.8M211.2 204.2h.8M183.4 235.3h.8M212.6 220.8h.8M170.6 195.8h.8M171.0 233.6h.8M200.4 236.4h.8M190.7 192.1h.8M171.9 222.3h.8M211.7 224.6h.8M210.8 230.2h.8M212.3 201.9h.8M207.4 191.3h.8M200.9 235.9h.8M201.4 191.0h.8M172.0 218.2h.8M188.0 190.9h.8M174.3 193.3h.8M174.7 191.8h.8M186.6 190.8h.8M195.5 234.9h.8M183.1 234.8h.8M171.2 212.4h.8M204.1 192.1h.8M211.3 231.0h.8M170.6 231.6h.8M212.5 230.5h.8M196.1 193.0h.8M182.4 235.4h.8M212.0 195.0h.8M188.5 236.8h.8M194.9 237.6h.8M198.0 191.0h.8M187.6 191.1h.8M212.0 216.9h.8M213.1 199.3h.8M212.0 226.1h.8M182.2 235.4h.8M190.3 192.4h.8M173.0 232.9h.8M172.3 231.8h.8M210.9 231.1h.8M177.8 237.3h.8M211.4 201.3h.8M171.7 213.5h.8M212.3 213.2h.8M203.9 235.3h.8M214.8 211.4h.8M177.9 236.2h.8M211.5 200.4h.8M199.5 236.1h.8M211.9 227.9h.8M201.7 192.0h.8M190.8 191.4h.8M172.0 230.9h.8M211.6 211.1h.8M179.3 234.9h.8M211.8 192.7h.8M184.3 236.8h.8M212.0 222.7h.8M212.4 218.4h.8M176.3 235.4h.8M212.2 213.9h.8M201.1 192.4h.8M191.7 192.3h.8M186.2 189.4h.8M195.6 190.8h.8M189.6 192.3h.8M172.1 229.7h.8M213.4 219.8h.8M212.3 220.2h.8M172.3 223.8h.8M201.0 235.3h.8M176.6 234.6h.8M196.0 234.8h.8M172.6 201.0h.8M171.3 206.3h.8M210.5 230.7h.8M175.5 191.9h.8M187.3 191.6h.8M177.8 191.3h.8M185.3 192.3h.8M171.1 225.1h.8M205.8 235.7h.8M189.0 234.8h.8M210.8 192.5h.8M169.8 205.4h.8M208.7 191.6h.8M172.2 221.6h.8M211.7 227.0h.8M200.7 235.6h.8M189.9 235.0h.8M212.9 207.3h.8M185.0 236.3h.8M182.3 190.9h.8M171.1 215.7h.8M211.9 226.3h.8M200.3 234.7h.8M212.1 223.6h.8M171.0 212.4h.8M209.7 194.2h.8M184.4 190.9h.8M171.5 205.0h.8M212.0 226.5h.8M171.6 231.7h.8M210.1 233.5h.8M197.0 236.4h.8M178.2 235.2h.8M201.9 234.7h.8M212.6 217.9h.8M211.2 228.3h.8M185.1 192.1h.8M211.7 202.5h.8M193.1 237.2h.8M172.0 227.8h.8M213.4 199.1h.8M211.9 221.6h.8M192.7 192.0h.8M170.9 209.4h.8M212.4 226.4h.8M204.7 191.4h.8M214.6 200.8h.8M188.6 192.4h.8M170.4 206.7h.8M171.1 209.4h.8M212.7 205.6h.8M212.1 230.6h.8M176.2 234.3h.8M202.7 236.1h.8M201.8 193.0h.8M198.3 236.7h.8M204.4 236.4h.8M192.5 191.6h.8M174.1 193.5h.8M169.2 201.3h.8M211.8 198.2h.8M210.0 234.5h.8M211.1 221.3h.8M171.3 230.1h.8M203.1 192.7h.8M197.2 191.1h.8M204.5 235.7h.8M213.0 198.5h.8M180.7 190.5h.8M211.1 213.8h.8M212.3 227.1h.8M194.4 235.4h.8M212.2 209.4h.8M183.0 235.3h.8M170.9 217.4h.8M208.5 234.5h.8M210.6 234.1h.8M211.7 220.1h.8M211.6 195.2h.8M171.4 226.8h.8M211.7 197.4h.8M199.2 238.6h.8M172.8 235.7h.8M186.4 191.2h.8M172.3 206.6h.8M212.9 228.6h.8M201.9 235.4h.8M179.2 236.6h.8M172.9 232.8h.8M212.5 220.9h.8M194.5 192.3h.8M168.9 204.2h.8M211.2 209.5h.8M179.5 192.4h.8M184.8 235.1h.8M172.1 216.0h.8M187.7 190.1h.8M172.5 198.0h.8M170.7 197.4h.8M191.8 192.1h.8M193.0 234.4h.8M181.4 192.0h.8M212.1 205.0h.8M213.3 214.8h.8M193.7 192.3h.8M212.8 220.5h.8M211.9 210.0h.8M178.7 237.9h.8M171.4 201.0h.8M170.6 199.0h.8M171.6 209.0h.8M203.8 235.3h.8M171.0 201.5h.8M194.3 191.5h.8M210.5 193.8h.8M171.9 207.2h.8M208.4 235.5h.8M210.4 194.0h.8M197.8 235.6h.8M177.2 235.1h.8M178.4 236.4h.8M190.4 192.6h.8M172.7 207.1h.8M190.4 190.2h.8M171.2 215.1h.8M172.0 221.8h.8M206.2 234.8h.8M183.8 191.0h.8M183.9 191.7h.8M172.4 213.3h.8M212.6 198.8h.8M212.9 229.3h.8M171.3 202.8h.8M175.8 190.9h.8M211.6 211.7h.8M170.9 225.0h.8M185.3 192.2h.8M211.9 218.2h.8M201.9 191.0h.8M212.6 216.6h.8M171.0 198.1h.8M212.5 230.4h.8M212.2 214.1h.8M212.1 216.6h.8M212.2 227.6h.8M212.4 214.6h.8M213.1 207.6h.8M172.5 201.0h.8M187.2 235.3h.8M192.8 188.8h.8M192.5 234.9h.8M212.2 202.5h.8M211.8 208.6h.8M213.0 212.3h.8M171.2 207.7h.8M172.3 202.7h.8M190.6 237.2h.8M171.6 202.6h.8M192.6 191.5h.8M168.9 210.9h.8M182.4 192.4h.8M205.1 235.4h.8M193.2 190.4h.8M211.8 200.5h.8M203.1 192.3h.8M171.6 225.0h.8M213.5 230.1h.8M169.9 220.5h.8M197.1 190.8h.8M199.0 236.0h.8M203.3 192.6h.8M184.9 236.5h.8M172.2 210.0h.8M181.9 235.3h.8M170.8 217.4h.8M173.1 192.3h.8M172.4 232.7h.8M212.0 225.1h.8M197.8 235.2h.8M178.5 237.8h.8M212.3 203.4h.8M182.7 192.5h.8M214.7 201.6h.8M189.5 192.5h.8M212.1 197.1h.8M212.7 229.9h.8M211.1 227.6h.8M188.8 190.6h.8M198.0 234.9h.8M171.3 228.7h.8M173.8 233.9h.8M176.8 235.5h.8M170.1 204.4h.8M211.7 199.5h.8M177.6 192.2h.8M191.8 190.4h.8M194.5 192.2h.8M172.0 211.5h.8M211.9 215.5h.8M187.6 191.4h.8M177.4 192.6h.8M192.7 191.5h.8M169.8 212.6h.8M211.3 230.6h.8M172.1 224.8h.8M212.9 209.0h.8M186.1 237.5h.8M211.4 231.0h.8M171.4 219.5h.8M173.2 231.1h.8M192.3 234.2h.8M198.7 192.0h.8M174.3 233.6h.8M172.1 222.0h.8M212.3 221.0h.8M179.0 235.9h.8M213.5 203.5h.8M211.5 213.3h.8M185.2 191.5h.8M175.1 193.6h.8M170.3 227.5h.8M170.6 229.2h.8M190.6 191.7h.8M172.2 201.5h.8M178.9 192.4h.8M213.2 214.0h.8M211.4 228.1h.8M207.6 191.6h.8M175.8 235.6h.8M211.6 227.2h.8M191.5 192.0h.8M178.6 235.0h.8M176.3 191.9h.8M204.9 238.3h.8M171.3 230.6h.8M211.7 223.6h.8M182.4 234.9h.8M212.8 205.4h.8M180.3 236.2h.8M206.0 236.6h.8M212.1 198.0h.8M170.9 211.5h.8M202.3 235.0h.8M172.8 192.4h.8M171.9 231.0h.8M174.7 234.3h.8M181.9 192.7h.8M212.3 210.0h.8M212.9 229.8h.8M189.9 235.3h.8M208.5 234.6h.8M172.2 210.6h.8M171.9 209.2h.8M180.2 234.8h.8M170.5 226.8h.8M180.0 236.3h.8M199.0 236.1h.8M175.1 234.8h.8M211.1 195.0h.8M172.1 212.8h.8M179.7 190.1h.8M178.0 190.9h.8M211.8 203.2h.8M199.9 234.5h.8M172.0 233.8h.8M171.9 232.1h.8M170.8 210.0h.8M206.3 235.6h.8M173.8 191.8h.8M171.7 229.7h.8M170.7 214.1h.8M175.4 191.3h.8M192.9 235.5h.8M213.5 203.1h.8M196.2 235.7h.8M203.4 192.0h.8M175.8 237.3h.8M171.1 196.4h.8M211.4 212.1h.8M176.1 236.0h.8M212.3 210.9h.8M180.5 192.6h.8M204.6 235.4h.8M170.5 218.1h.8M210.9 220.5h.8M172.1 212.5h.8M208.6 192.8h.8M173.7 233.9h.8M174.4 234.4h.8M206.8 192.3h.8M209.0 193.4h.8M206.8 236.0h.8M183.1 192.4h.8M183.5 192.2h.8M200.7 234.7h.8M212.0 214.3h.8M170.0 206.1h.8M203.3 190.8h.8M200.9 236.5h.8M177.8 237.9h.8M175.0 236.3h.8M179.3 236.5h.8M211.8 206.6h.8M176.0 192.2h.8M211.7 193.2h.8M177.8 235.4h.8M171.8 223.2h.8M201.9 189.6h.8M172.0 206.0h.8M187.0 234.2h.8M212.3 223.1h.8M211.8 214.5h.8M172.0 195.8h.8M175.2 235.1h.8M185.8 235.8h.8M171.1 226.0h.8M200.6 192.0h.8M170.2 220.2h.8M173.6 194.7h.8M191.8 192.2h.8M174.1 191.8h.8M211.4 206.8h.8M184.6 192.3h.8M212.8 211.0h.8M172.3 228.1h.8M201.9 235.2h.8M181.8 192.4h.8M205.4 236.0h.8M171.0 224.2h.8M201.6 192.1h.8M206.2 191.3h.8M186.3 190.6h.8M177.3 192.3h.8M171.3 198.2h.8M173.8 236.3h.8M171.9 195.9h.8M210.8 234.6h.8M169.1 209.1h.8M172.6 208.4h.8M172.1 205.9h.8M201.4 235.7h.8M170.0 228.3h.8M172.6 196.8h.8M211.1 203.5h.8M190.1 235.7h.8M209.1 235.6h.8M184.2 191.0h.8M188.4 234.2h.8M172.3 221.8h.8M186.6 192.1h.8M209.4 236.5h.8M205.9 235.3h.8M181.9 190.4h.8M171.2 197.6h.8M198.1 235.3h.8M213.2 210.0h.8M179.5 191.8h.8M204.5 191.0h.8M170.6 230.7h.8M172.5 208.6h.8M170.1 203.6h.8M172.5 215.1h.8M182.3 190.5h.8M190.4 191.5h.8M180.4 235.5h.8M205.1 190.3h.8M204.4 192.0h.8M191.3 237.1h.8M172.8 211.9h.8M170.2 206.9h.8M181.4 234.9h.8M179.5 191.5h.8M213.0 205.6h.8M171.2 200.8h.8M212.8 219.2h.8M182.5 235.6h.8M191.7 191.3h.8M188.9 190.4h.8M170.1 204.7h.8M172.0 203.8h.8M197.5 192.3h.8M183.5 189.3h.8M191.4 192.1h.8M171.7 220.9h.8M211.4 217.5h.8M170.0 211.3h.8M171.1 225.3h.8M172.2 190.1h.8M173.1 233.6h.8M204.4 191.5h.8M213.5 210.0h.8M172.7 223.9h.8M187.8 190.6h.8M176.8 236.8h.8M213.3 197.0h.8M172.0 231.9h.8M210.7 232.2h.8M171.9 228.9h.8M169.8 228.6h.8M212.2 222.0h.8M171.7 226.9h.8M184.9 235.6h.8M175.9 234.5h.8M210.8 195.5h.8M171.6 199.1h.8M170.4 234.1h.8M188.4 235.0h.8M186.5 235.0h.8M189.0 235.4h.8M202.4 192.7h.8M199.5 235.9h.8M207.6 237.0h.8M210.6 231.1h.8M212.3 223.9h.8M210.8 195.0h.8M213.4 196.7h.8M171.9 202.4h.8M170.5 206.6h.8M212.5 200.4h.8M192.6 192.3h.8M212.5 215.1h.8M186.0 235.2h.8M184.9 190.4h.8M210.7 217.2h.8M188.9 191.7h.8M209.0 236.3h.8M193.8 191.8h.8M211.2 207.5h.8M168.4 203.7h.8M209.0 234.1h.8M196.3 190.4h.8M211.1 197.6h.8M172.0 204.1h.8M212.7 200.5h.8M186.9 237.7h.8M213.6 207.1h.8M171.7 207.6h.8M196.9 236.0h.8M171.9 229.6h.8M210.1 192.6h.8M207.8 238.3h.8M172.2 198.8h.8M202.5 234.8h.8M173.7 190.7h.8M187.4 192.8h.8M212.3 204.1h.8M212.3 225.3h.8M174.1 193.2h.8M174.9 234.7h.8M186.5 235.0h.8M177.8 189.5h.8M211.5 195.1h.8M201.3 235.3h.8M184.6 191.6h.8M171.0 226.1h.8M190.3 236.2h.8M197.9 236.4h.8M207.6 192.4h.8M200.1 235.4h.8M169.1 208.9h.8M171.5 210.9h.8M184.0 190.8h.8M207.4 234.3h.8M172.9 230.8h.8M212.3 217.8h.8M202.7 235.4h.8M187.5 191.4h.8M206.9 191.9h.8M181.8 191.4h.8M213.4 196.8h.8M172.0 226.9h.8M212.2 207.5h.8M172.9 196.1h.8M208.4 235.1h.8M184.9 235.7h.8M210.3 194.8h.8M172.1 212.7h.8M212.6 207.5h.8M203.5 190.7h.8M176.0 191.8h.8M171.9 208.0h.8M190.9 189.6h.8M193.1 189.8h.8M212.3 209.7h.8M205.8 191.3h.8M171.9 229.0h.8M171.8 198.1h.8M212.5 200.7h.8M209.6 234.8h.8M179.7 235.0h.8M188.2 235.5h.8M199.8 189.6h.8M204.2 234.5h.8M202.8 191.1h.8M211.7 230.1h.8M171.9 220.6h.8M205.7 190.8h.8M213.2 233.8h.8M168.2 204.7h.8M173.1 233.3h.8M212.2 225.6h.8M170.3 221.0h.8M208.6 234.8h.8M171.3 220.3h.8M172.0 206.6h.8M211.9 228.4h.8M172.3 221.3h.8M201.9 192.0h.8M212.1 201.6h.8M184.5 189.8h.8M211.0 200.0h.8M213.6 223.9h.8M171.6 203.3h.8M171.7 199.7h.8M171.7 228.1h.8M177.8 235.3h.8M186.2 235.7h.8M171.1 217.3h.8M183.2 235.1h.8M171.5 199.7h.8M200.0 191.1h.8M172.1 229.7h.8M199.7 235.0h.8M211.7 221.4h.8M171.9 209.1h.8M180.3 235.4h.8M213.4 203.5h.8M180.5 235.1h.8M186.1 191.7h.8M191.8 235.5h.8M212.6 223.4h.8M172.5 219.4h.8M171.9 208.6h.8M182.0 192.2h.8M211.9 198.9h.8M198.4 192.6h.8M214.2 226.6h.8M171.3 208.2h.8M169.3 208.0h.8M178.5 189.9h.8M184.9 235.5h.8M172.9 216.1h.8M171.7 213.6h.8M186.8 191.6h.8M172.3 203.8h.8M171.3 228.6h.8M174.1 237.3h.8M173.7 194.6h.8M185.7 235.8h.8M205.4 191.3h.8M170.9 208.5h.8M178.1 191.8h.8M204.5 190.8h.8M199.4 235.6h.8M200.8 236.1h.8M211.6 207.2h.8M171.4 218.7h.8M172.7 227.1h.8M195.2 191.0h.8M179.1 192.1h.8M193.7 236.1h.8M175.7 191.6h.8M181.9 234.8h.8M179.7 191.2h.8M171.1 212.7h.8M177.0 235.7h.8M212.0 191.9h.8M212.5 201.2h.8M171.7 227.0h.8M185.7 235.5h.8M171.6 219.1h.8M171.4 230.2h.8M212.8 201.8h.8M211.2 205.1h.8M176.9 234.9h.8M177.8 235.1h.8M211.9 220.8h.8M197.4 235.2h.8M171.0 221.6h.8M170.3 200.0h.8M171.7 220.5h.8M208.9 234.8h.8M181.4 190.3h.8M171.6 210.3h.8M179.5 190.8h.8M170.6 222.3h.8M201.5 192.9h.8M196.3 235.3h.8M203.3 234.9h.8M178.0 192.1h.8M202.9 237.0h.8M197.9 235.9h.8M180.0 192.1h.8M170.6 218.6h.8M185.9 235.0h.8M172.4 224.5h.8M189.7 234.9h.8M206.6 235.6h.8M171.5 211.9h.8M201.5 234.6h.8M191.8 234.8h.8M172.6 196.4h.8M189.0 190.4h.8M174.8 191.4h.8M176.9 190.9h.8M170.5 215.4h.8M210.9 236.2h.8M211.8 202.8h.8M213.1 198.2h.8M201.6 233.9h.8M171.4 204.3h.8M184.4 236.1h.8M171.2 200.6h.8M184.3 190.6h.8M208.6 234.2h.8M213.7 225.1h.8M181.6 236.6h.8M170.7 214.4h.8M198.0 192.5h.8M212.0 194.8h.8M212.2 220.4h.8M209.3 193.6h.8M212.2 202.4h.8M190.0 192.1h.8M205.4 236.2h.8M211.6 210.7h.8M198.2 235.3h.8M212.4 200.8h.8M212.1 203.0h.8M202.4 237.4h.8M211.8 201.0h.8M170.9 217.9h.8M173.9 233.3h.8M172.1 235.0h.8M210.1 192.9h.8M172.5 233.6h.8M172.0 213.7h.8M185.4 191.9h.8M211.6 205.8h.8M193.5 237.6h.8M171.1 230.8h.8M170.1 197.9h.8M171.0 196.4h.8M200.9 235.4h.8M183.2 190.7h.8M172.3 219.4h.8M212.7 220.1h.8M199.7 234.3h.8M211.3 230.9h.8M172.5 233.5h.8M212.3 204.8h.8M208.6 235.0h.8M211.4 190.5h.8M197.0 235.4h.8M190.9 235.0h.8M206.4 192.3h.8M190.9 191.4h.8M211.3 214.3h.8M210.5 234.3h.8M212.1 211.6h.8M170.0 210.2h.8M189.4 192.5h.8M211.0 195.0h.8M188.8 190.4h.8M171.3 205.3h.8M212.2 206.4h.8M174.4 233.5h.8M211.2 199.0h.8M183.0 236.2h.8M194.2 189.1h.8M187.6 235.0h.8M211.9 220.7h.8M194.8 235.7h.8M183.4 236.0h.8M188.5 236.5h.8M171.3 202.3h.8M171.7 198.4h.8M174.6 234.0h.8M171.4 223.5h.8M172.5 222.8h.8M172.6 197.1h.8M173.3 235.9h.8M194.4 190.3h.8M180.6 191.1h.8M212.6 226.2h.8M205.8 191.6h.8M174.6 192.8h.8M171.3 200.4h.8M171.2 205.7h.8M171.9 196.9h.8M181.3 191.6h.8M192.6 235.9h.8M170.7 217.8h.8M203.5 237.4h.8M210.1 232.5h.8M212.5 202.5h.8M171.5 203.7h.8M180.9 192.6h.8M193.9 189.5h.8M212.6 226.7h.8M212.7 229.8h.8M208.8 192.4h.8M169.3 227.5h.8M204.7 190.7h.8M211.5 223.8h.8M170.3 210.3h.8M175.8 234.9h.8M189.0 191.3h.8M211.6 225.8h.8M170.8 205.6h.8M212.2 208.8h.8M212.2 219.5h.8M181.1 235.3h.8M213.3 206.0h.8M212.4 222.9h.8M172.1 225.1h.8M212.9 215.8h.8M171.7 214.5h.8M205.4 189.9h.8M175.1 234.1h.8M212.9 196.8h.8M181.5 235.0h.8M202.8 190.9h.8M211.3 230.6h.8M204.0 234.6h.8M199.6 234.4h.8M182.7 235.3h.8M172.4 203.1h.8M182.9 235.2h.8M171.5 207.2h.8M211.6 233.5h.8M190.3 237.6h.8M184.0 234.1h.8M174.5 193.6h.8M191.5 235.3h.8M211.7 202.3h.8M202.0 192.0h.8M190.7 191.7h.8M211.5 225.1h.8M201.5 190.0h.8M170.9 231.4h.8M185.8 234.9h.8M173.3 234.9h.8M211.0 232.6h.8M170.0 197.5h.8M193.7 191.3h.8M203.1 190.3h.8M195.4 192.1h.8M211.9 201.9h.8M211.6 207.8h.8M212.8 218.0h.8M175.5 237.7h.8M194.8 191.7h.8M172.0 221.0h.8M198.2 235.0h.8M211.6 230.0h.8M211.5 229.8h.8M208.2 192.7h.8M192.7 236.9h.8M207.1 191.5h.8M170.9 219.4h.8M211.1 205.6h.8M194.7 191.6h.8M174.7 235.0h.8M180.8 192.6h.8M190.5 234.8h.8M211.4 211.6h.8M211.3 202.4h.8M212.5 194.8h.8M171.8 225.6h.8M176.0 191.8h.8M172.4 221.1h.8M209.6 194.4h.8M192.0 189.2h.8M213.7 202.3h.8M210.9 231.2h.8M179.8 192.3h.8M172.0 226.8h.8M172.1 201.0h.8M208.2 192.6h.8M192.7 235.9h.8M170.2 207.6h.8M181.0 235.5h.8M169.0 212.7h.8M187.3 236.1h.8M170.7 222.2h.8M170.4 201.6h.8M183.5 191.0h.8M171.9 217.6h.8M189.5 192.2h.8M171.7 231.5h.8M170.8 221.6h.8M183.1 190.6h.8M212.0 215.4h.8M194.4 190.6h.8M194.9 189.9h.8M213.7 219.3h.8M192.7 192.3h.8M177.5 192.5h.8M171.2 214.3h.8M171.9 219.2h.8M211.2 232.2h.8M171.1 201.6h.8M170.2 213.7h.8M195.0 235.1h.8M171.8 227.3h.8M211.8 217.1h.8M180.4 236.1h.8M173.3 193.8h.8M205.6 234.6h.8M199.6 234.8h.8M171.0 212.8h.8M211.2 212.2h.8M170.5 225.3h.8M198.1 236.0h.8M192.2 191.0h.8M171.5 196.2h.8M172.0 223.0h.8M212.2 224.1h.8M210.8 193.6h.8M213.7 202.6h.8M211.7 225.5h.8M183.0 236.1h.8M185.6 234.6h.8M171.1 225.1h.8M213.1 208.9h.8M183.1 235.2h.8M210.2 192.7h.8M205.3 236.4h.8M207.8 191.1h.8M170.5 202.6h.8M171.4 233.8h.8M177.1 235.1h.8M186.6 191.7h.8M180.9 190.7h.8M172.0 210.3h.8M213.6 220.3h.8M195.0 192.2h.8M193.2 237.6h.8M171.9 212.8h.8M187.9 191.7h.8M212.6 228.5h.8M195.0 189.3h.8M186.8 192.2h.8M212.4 230.0h.8M211.8 204.8h.8M184.6 192.0h.8M211.8 212.6h.8M211.9 215.5h.8M175.0 234.5h.8M173.9 233.3h.8M212.0 222.2h.8M211.5 219.5h.8M195.7 237.2h.8M212.1 226.3h.8M169.7 217.4h.8M194.4 189.0h.8M171.9 215.5h.8M210.3 190.6h.8M171.9 211.1h.8M180.5 192.3h.8M206.4 236.8h.8M171.3 195.4h.8M200.2 192.2h.8M174.1 192.8h.8M177.2 192.6h.8M204.8 236.0h.8M178.1 234.8h.8M172.3 209.8h.8M189.6 192.3h.8M210.1 193.5h.8M205.5 192.3h.8M211.6 203.6h.8M171.6 220.5h.8M171.3 221.2h.8" fill="none" stroke="#000" stroke-opacity="0.9" stroke-width="0.8"/>
<g filter="url(#fb5)">
<rect x="172.5" y="192.6" width="38.7" height="42.0" rx="5.3" fill="#111111"/>
</g>
<g stroke="#000" stroke-opacity="0.35" stroke-width="0.35" filter="url(#fb3)">
<rect x="194.3" y="194.3" width="15.3" height="38.7" rx="3.8" fill="#444444"/>
<rect x="195.3" y="196.2" width="13.4" height="34.8" rx="3.4" fill="#999999"/>
<rect x="196.2" y="198.2" width="11.5" height="31.0" rx="2.9" fill="#b7b7b7"/>
<rect x="197.2" y="200.1" width="9.6" height="27.1" rx="2.5" fill="#c6c6c6"/>
<rect x="198.1" y="202.0" width="7.6" height="23.2" rx="2.0" fill="#d5d5d5"/>
<rect x="199.1" y="204.0" width="5.7" height="19.3" rx="1.6" fill="#e2e2e2"/>
<rect x="200.0" y="205.9" width="3.8" height="15.5" rx="1.2" fill="#eeeeee"/>
</g>
<g stroke="#000" stroke-opacity="0.35" stroke-width="0.35" filter="url(#fb3)">
<rect x="174.2" y="194.3" width="21.0" height="38.7" rx="4.8" fill="#555555"/>
<rect x="175.4" y="195.8" width="18.6" height="35.7" rx="4.3" fill="#868686"/>
<rect x="176.6" y="197.4" width="16.2" height="32.6" rx="3.8" fill="#2c2c2c"/>
<rect x="177.8" y="198.9" width="13.8" height="29.6" rx="3.3" fill="#434343"/>
<rect x="179.0" y="200.5" width="11.4" height="26.5" rx="2.7" fill="#626262"/>
<rect x="180.3" y="202.0" width="9.0" height="23.5" rx="2.2" fill="#7c7c7c"/>
<rect x="181.5" y="203.6" width="6.6" height="20.5" rx="1.7" fill="#969696"/>
<rect x="182.7" y="205.1" width="4.2" height="17.4" rx="1.2" fill="#b0b0b0"/>
</g>
<line x1="185" y1="200" x2="185" y2="230" stroke="#fff" stroke-width="1.1" opacity="0.85"/>
</g>
<line x1="164.00" y1="151.30" x2="164.00" y2="236.30" stroke="#888" stroke-width="0.9"/>
<line x1="164.00" y1="236.30" x2="248.40" y2="236.30" stroke="#888" stroke-width="0.9"/>
<line x1="162.00" y1="157.60" x2="164.00" y2="157.60" stroke="#555" stroke-width="0.8"/>
<text x="159.00" y="160.30" font-size="7.7" text-anchor="end" fill="#111" stroke="#111" stroke-width="0.2">10<tspan font-size="4.77" dy="-2.93">5</tspan></text>
<line x1="162.00" y1="173.30" x2="164.00" y2="173.30" stroke="#555" stroke-width="0.8"/>
<text x="159.00" y="176.00" font-size="7.7" text-anchor="end" fill="#111" stroke="#111" stroke-width="0.2">10<tspan font-size="4.77" dy="-2.93">4</tspan></text>
<line x1="162.00" y1="189.00" x2="164.00" y2="189.00" stroke="#555" stroke-width="0.8"/>
<text x="159.00" y="191.70" font-size="7.7" text-anchor="end" fill="#111" stroke="#111" stroke-width="0.2">10<tspan font-size="4.77" dy="-2.93">3</tspan></text>
<line x1="162.00" y1="204.80" x2="164.00" y2="204.80" stroke="#555" stroke-width="0.8"/>
<text x="159.00" y="207.50" font-size="7.7" text-anchor="end" fill="#111" stroke="#111" stroke-width="0.2">10<tspan font-size="4.77" dy="-2.93">2</tspan></text>
<line x1="162.00" y1="215.90" x2="164.00" y2="215.90" stroke="#555" stroke-width="0.8"/>
<text x="159.00" y="218.60" font-size="7.7" text-anchor="end" fill="#111" stroke="#111" stroke-width="0.2">0</text>
<line x1="162.00" y1="226.80" x2="164.00" y2="226.80" stroke="#555" stroke-width="0.8"/>
<text x="159.00" y="229.50" font-size="7.7" text-anchor="end" fill="#111" stroke="#111" stroke-width="0.2">-10<tspan font-size="4.77" dy="-2.93">2</tspan></text>
<line x1="163.00" y1="158.30" x2="164.00" y2="158.30" stroke="#999" stroke-width="0.6"/>
<line x1="163.00" y1="163.30" x2="164.00" y2="163.30" stroke="#999" stroke-width="0.6"/>
<line x1="163.00" y1="168.30" x2="164.00" y2="168.30" stroke="#999" stroke-width="0.6"/>
<line x1="163.00" y1="173.30" x2="164.00" y2="173.30" stroke="#999" stroke-width="0.6"/>
<line x1="163.00" y1="178.30" x2="164.00" y2="178.30" stroke="#999" stroke-width="0.6"/>
<line x1="163.00" y1="183.30" x2="164.00" y2="183.30" stroke="#999" stroke-width="0.6"/>
<line x1="163.00" y1="188.30" x2="164.00" y2="188.30" stroke="#999" stroke-width="0.6"/>
<line x1="163.00" y1="193.30" x2="164.00" y2="193.30" stroke="#999" stroke-width="0.6"/>
<line x1="163.00" y1="198.30" x2="164.00" y2="198.30" stroke="#999" stroke-width="0.6"/>
<line x1="163.00" y1="203.30" x2="164.00" y2="203.30" stroke="#999" stroke-width="0.6"/>
<line x1="163.00" y1="208.30" x2="164.00" y2="208.30" stroke="#999" stroke-width="0.6"/>
<line x1="163.00" y1="213.30" x2="164.00" y2="213.30" stroke="#999" stroke-width="0.6"/>
<line x1="163.00" y1="218.30" x2="164.00" y2="218.30" stroke="#999" stroke-width="0.6"/>
<line x1="163.00" y1="223.30" x2="164.00" y2="223.30" stroke="#999" stroke-width="0.6"/>
<line x1="163.00" y1="228.30" x2="164.00" y2="228.30" stroke="#999" stroke-width="0.6"/>
<path d="M173.3 236.3v1.3M176.7 236.3v1.3M180.1 236.3v1.3M188.9 236.3v1.3M192.1 236.3v1.3M194.4 236.3v1.3M196.1 236.3v1.3M197.6 236.3v1.3M198.8 236.3v1.3M199.8 236.3v1.3M200.8 236.3v1.3M207.3 236.3v1.3M210.7 236.3v1.3M213.1 236.3v1.3M215.0 236.3v1.3M216.5 236.3v1.3M217.7 236.3v1.3M218.8 236.3v1.3M219.8 236.3v1.3M226.4 236.3v1.3M229.7 236.3v1.3M232.1 236.3v1.3M233.9 236.3v1.3M235.4 236.3v1.3M236.7 236.3v1.3M237.8 236.3v1.3M238.7 236.3v1.3" stroke="#666" stroke-width="0.5" fill="none"/>
<rect x="162.40" y="214.70" width="1.6" height="2.4" fill="#000"/>
<line x1="170.00" y1="236.30" x2="170.00" y2="238.10" stroke="#555" stroke-width="0.8"/>
<text x="170.00" y="248.60" font-size="7.7" text-anchor="middle" fill="#111" stroke="#111" stroke-width="0.2">0</text>
<line x1="183.40" y1="236.30" x2="183.40" y2="238.10" stroke="#555" stroke-width="0.8"/>
<text x="183.40" y="248.60" font-size="7.7" text-anchor="middle" fill="#111" stroke="#111" stroke-width="0.2">10<tspan font-size="4.77" dy="-2.93">2</tspan></text>
<line x1="201.60" y1="236.30" x2="201.60" y2="238.10" stroke="#555" stroke-width="0.8"/>
<text x="201.60" y="248.60" font-size="7.7" text-anchor="middle" fill="#111" stroke="#111" stroke-width="0.2">10<tspan font-size="4.77" dy="-2.93">3</tspan></text>
<line x1="220.70" y1="236.30" x2="220.70" y2="238.10" stroke="#555" stroke-width="0.8"/>
<text x="220.70" y="248.60" font-size="7.7" text-anchor="middle" fill="#111" stroke="#111" stroke-width="0.2">10<tspan font-size="4.77" dy="-2.93">4</tspan></text>
<line x1="239.60" y1="236.30" x2="239.60" y2="238.10" stroke="#555" stroke-width="0.8"/>
<text x="239.60" y="248.60" font-size="7.7" text-anchor="middle" fill="#111" stroke="#111" stroke-width="0.2">10<tspan font-size="4.77" dy="-2.93">5</tspan></text>
<rect x="168.00" y="236.00" width="4" height="1.6" fill="#000"/>
<g transform="translate(205.00,262.00) scale(0.545,1)"><text x="0" y="0" font-size="11.0" text-anchor="middle" font-weight="normal" font-style="normal" fill="#111"  stroke="#111" stroke-width="0.35">CD45Ra</text></g>
<rect x="171.70" y="191.90" width="24.60" height="18.20" fill="none" stroke="#1f6cc0" stroke-width="1.6"/>
<rect x="197.30" y="191.90" width="29.50" height="18.20" fill="none" stroke="#27449c" stroke-width="1.6"/>
<rect x="171.70" y="212.20" width="23.90" height="22.60" fill="none" stroke="#1ea3e0" stroke-width="1.6"/>
<text x="171.10" y="189.80" font-size="13.2" font-weight="bold" fill="#1a6cc0">24%</text>
<text x="203.60" y="189.80" font-size="13.2" font-weight="bold" fill="#2a4d9c">14%</text>
<text x="187.30" y="177.60" font-size="6.8" text-anchor="middle" fill="#222">CMP</text>
<text x="222.20" y="176.70" font-size="6.8" text-anchor="middle" fill="#222">GMP</text>
<rect x="164.00" y="270.50" width="84.40" height="85.00" fill="#fff" stroke="#c4c4c4" stroke-width="0.9"/>
<g clip-path="url(#cC2)">
<path d="M215.6 348.6h.6M169.9 324.4h.6M196.7 310.8h.6M196.2 355.9h.6M202.0 356.2h.6M178.2 312.0h.6M170.9 338.2h.6M170.1 329.2h.6M202.0 355.4h.6M170.9 344.7h.6M206.4 355.6h.6M206.1 355.6h.6M182.1 355.1h.6M214.1 322.7h.6M170.7 346.8h.6M215.1 335.4h.6M190.7 354.1h.6M167.7 348.7h.6M182.3 310.8h.6M181.3 356.3h.6M214.6 336.0h.6M192.2 311.0h.6M169.0 336.6h.6M175.8 311.5h.6M180.1 311.9h.6M170.5 352.3h.6M180.5 312.1h.6M172.6 312.9h.6M181.3 355.0h.6M179.1 354.7h.6M181.2 354.5h.6M215.0 347.3h.6M213.5 349.4h.6M187.9 311.1h.6M215.2 319.4h.6M170.8 350.7h.6M214.2 324.8h.6M170.5 314.6h.6M169.0 335.0h.6M178.3 354.8h.6M214.6 348.5h.6M214.8 315.0h.6M187.3 310.5h.6M185.1 354.6h.6M172.7 353.1h.6M203.1 356.2h.6M184.0 356.0h.6M170.6 318.5h.6M171.2 341.7h.6M208.7 311.4h.6M187.1 357.0h.6M187.5 354.6h.6M214.9 324.4h.6M169.3 332.0h.6M170.3 341.3h.6M211.8 311.4h.6M194.1 354.9h.6M214.6 336.2h.6M214.5 325.0h.6M206.8 356.2h.6M174.5 311.8h.6M172.3 312.8h.6M214.6 332.0h.6M211.2 311.7h.6M168.9 343.8h.6M196.5 353.8h.6M168.9 334.4h.6M205.3 354.4h.6M198.0 311.5h.6M170.6 323.6h.6M209.5 312.4h.6M202.3 310.2h.6M172.5 354.9h.6M214.3 329.1h.6M215.6 324.8h.6M205.8 311.3h.6M207.3 311.8h.6M207.6 354.7h.6M170.7 330.7h.6M174.3 353.9h.6M215.4 330.3h.6M198.9 311.3h.6M186.8 356.4h.6M211.9 311.9h.6M214.8 317.7h.6M169.4 329.1h.6M200.3 310.9h.6M215.1 339.7h.6M208.7 354.0h.6M169.0 341.3h.6M199.9 354.9h.6M215.4 337.7h.6M184.2 354.2h.6M214.3 333.5h.6M213.9 339.3h.6M192.0 309.6h.6M204.2 311.3h.6M182.0 311.6h.6M218.7 330.5h.6M215.1 335.4h.6M174.2 311.7h.6M170.8 314.3h.6M214.8 323.7h.6M179.3 310.7h.6M215.3 332.4h.6M170.9 320.4h.6M215.3 341.2h.6M205.2 312.3h.6M216.8 337.8h.6M198.7 311.1h.6M169.9 344.3h.6M202.8 354.0h.6M179.2 310.8h.6M215.2 347.8h.6M214.8 316.8h.6M170.7 328.4h.6M174.9 353.8h.6M196.8 355.5h.6M202.6 311.8h.6M173.8 354.4h.6M174.5 353.3h.6M216.9 320.2h.6M185.5 310.9h.6M214.5 312.7h.6M175.4 310.4h.6M213.9 330.1h.6M214.4 341.1h.6M187.9 354.8h.6M216.5 340.8h.6M204.1 354.5h.6M169.2 340.3h.6M203.0 310.2h.6M215.7 331.7h.6M214.7 337.3h.6M214.1 330.4h.6M206.2 356.0h.6M194.3 311.0h.6M175.6 312.1h.6M182.6 354.1h.6M169.2 342.8h.6M170.3 316.2h.6M169.1 346.9h.6M215.7 335.0h.6M202.4 354.8h.6M170.3 350.8h.6M205.5 310.6h.6M188.6 354.3h.6M171.0 318.8h.6M169.5 323.2h.6M214.3 338.2h.6M213.1 314.8h.6M171.0 345.1h.6M216.0 321.7h.6M171.5 312.8h.6M169.6 331.4h.6M169.9 342.4h.6M169.2 337.4h.6M215.4 331.4h.6M171.0 333.5h.6M209.1 354.4h.6M214.8 339.2h.6M170.6 313.9h.6M190.8 355.6h.6M214.8 320.2h.6M175.1 354.5h.6M215.2 350.0h.6M193.6 310.1h.6M208.4 355.0h.6M182.2 354.8h.6M170.2 323.3h.6M207.4 356.2h.6M197.2 355.6h.6M187.1 311.3h.6M178.7 310.7h.6M182.0 311.0h.6M180.1 311.8h.6M214.1 340.1h.6M180.7 355.1h.6M192.8 311.6h.6M206.1 354.6h.6M207.7 310.4h.6M200.1 310.4h.6M175.1 354.4h.6M212.6 312.9h.6M199.4 312.3h.6M195.3 357.0h.6M192.3 356.2h.6M170.5 322.8h.6M206.7 354.3h.6M214.2 313.4h.6M197.4 310.2h.6M170.9 328.5h.6M215.0 324.9h.6M169.5 346.9h.6M215.2 333.7h.6M172.5 354.8h.6M189.6 354.6h.6M207.5 354.6h.6M170.8 336.4h.6M207.6 354.9h.6M170.8 332.3h.6M214.7 338.7h.6M170.0 318.1h.6M186.9 310.0h.6M214.8 322.2h.6M189.8 311.2h.6M182.8 311.4h.6M215.5 350.1h.6M214.0 336.1h.6M211.6 354.4h.6M198.5 354.1h.6M214.9 321.8h.6M174.6 356.9h.6M200.5 354.3h.6M197.1 354.3h.6M215.9 348.6h.6M168.4 347.4h.6M170.2 320.2h.6M186.1 354.8h.6M190.0 355.5h.6M214.0 331.4h.6M184.2 354.6h.6M214.9 328.8h.6M215.0 324.1h.6M214.5 348.7h.6M183.2 354.2h.6M214.9 314.0h.6M215.8 325.8h.6M170.3 329.4h.6M195.8 355.2h.6M183.7 354.9h.6M170.3 344.0h.6M213.6 315.9h.6M169.3 352.1h.6M213.8 324.3h.6M215.1 347.5h.6M215.8 324.6h.6M215.0 337.2h.6M214.0 340.9h.6M209.3 311.7h.6M212.2 354.1h.6M214.4 311.9h.6M171.5 351.4h.6M202.8 354.8h.6M170.8 327.6h.6M209.7 354.8h.6M214.2 321.4h.6M212.4 354.1h.6M171.6 352.6h.6M214.2 324.4h.6M209.1 310.2h.6M190.2 311.2h.6M171.3 346.6h.6M173.4 312.2h.6M215.3 321.0h.6M212.4 313.7h.6M183.8 354.2h.6M170.4 325.8h.6M180.4 310.9h.6M213.8 336.4h.6M214.8 346.6h.6M198.9 354.2h.6M211.8 354.4h.6M170.0 337.6h.6M215.0 343.7h.6M204.6 355.1h.6M170.0 344.6h.6M171.0 313.9h.6M170.5 345.6h.6M215.2 340.6h.6M214.5 330.0h.6M214.3 333.7h.6M198.8 311.1h.6M170.4 328.4h.6M213.7 323.3h.6M170.1 314.2h.6M213.7 316.1h.6M201.6 354.4h.6M170.4 328.5h.6M184.0 354.8h.6M200.1 310.8h.6M213.8 338.5h.6M172.6 311.2h.6M171.7 312.3h.6M170.4 342.0h.6M214.6 313.5h.6M193.5 311.4h.6M172.8 353.0h.6M198.9 311.7h.6M180.2 357.6h.6M171.1 351.6h.6M191.8 355.4h.6M214.8 351.0h.6M170.2 318.2h.6M169.5 322.0h.6M214.8 335.0h.6M199.2 355.8h.6M214.5 318.4h.6M174.8 310.4h.6M189.1 353.7h.6M180.1 311.0h.6M170.0 316.8h.6M214.1 311.8h.6M191.9 311.6h.6M197.7 354.0h.6M171.0 315.8h.6M170.3 337.0h.6M171.4 349.2h.6M179.6 311.5h.6M185.3 311.3h.6M177.4 354.0h.6M196.1 311.7h.6M192.9 311.0h.6M212.7 352.3h.6M190.0 355.5h.6M183.7 311.2h.6M171.2 344.1h.6M201.3 311.4h.6M195.8 356.0h.6M190.9 311.9h.6M187.6 309.5h.6M174.2 353.7h.6M169.5 325.6h.6M181.8 311.5h.6M210.3 310.8h.6M214.9 325.1h.6M213.8 318.5h.6M168.9 331.9h.6M213.9 342.1h.6M170.7 342.6h.6M215.4 323.3h.6M181.1 311.6h.6M199.7 354.1h.6M205.5 355.1h.6M171.4 328.6h.6M170.6 345.8h.6M192.3 310.9h.6M172.1 352.8h.6M174.2 310.9h.6M188.3 354.3h.6M187.4 310.2h.6M171.4 333.3h.6M200.2 354.9h.6M192.2 312.1h.6M180.9 354.4h.6M207.2 310.6h.6M203.7 310.8h.6M207.1 355.4h.6M175.7 354.7h.6M185.9 355.3h.6M201.8 311.4h.6M188.1 355.9h.6M209.8 354.3h.6M171.6 352.3h.6M170.1 320.1h.6M215.2 327.2h.6M209.8 354.7h.6M186.9 354.8h.6M172.2 311.5h.6M197.6 355.1h.6M182.5 355.7h.6M200.6 311.0h.6M215.0 314.7h.6M172.7 310.7h.6M172.0 354.3h.6M171.0 318.4h.6M182.3 312.1h.6M188.2 354.8h.6M171.0 341.7h.6M170.6 317.7h.6M190.8 353.9h.6M173.4 353.9h.6M173.0 311.8h.6M209.5 311.6h.6M201.5 310.8h.6M170.4 330.8h.6M169.7 330.9h.6M207.7 310.2h.6M215.6 350.3h.6M214.5 319.6h.6" fill="none" stroke="#111" stroke-opacity="0.6" stroke-width="0.6"/>
<g stroke="#000" stroke-opacity="0.45" stroke-width="0.35" filter="url(#fb3)">
<rect x="196.5" y="320.0" width="15.5" height="33.5" rx="4.3" fill="#777777"/>
<rect x="197.4" y="322.0" width="13.7" height="29.6" rx="3.8" fill="#a4a4a4"/>
<rect x="198.3" y="323.9" width="11.9" height="25.7" rx="3.4" fill="#c1c1c1"/>
<rect x="199.2" y="325.9" width="10.1" height="21.8" rx="2.9" fill="#cecece"/>
<rect x="200.1" y="327.8" width="8.3" height="17.9" rx="2.4" fill="#dbdbdb"/>
<rect x="201.0" y="329.8" width="6.5" height="14.0" rx="2.0" fill="#e7e7e7"/>
<rect x="201.9" y="331.7" width="4.6" height="10.0" rx="1.5" fill="#f4f4f4"/>
</g>
<path d="M209.1 316.0C209.4 316.0 209.8 316.1 210.1 316.2C210.4 316.3 210.6 316.5 210.9 316.7C211.1 317.0 211.3 317.2 211.4 317.5C211.5 317.8 211.6 313.2 211.6 318.5C211.6 323.8 211.6 344.2 211.6 349.5C211.6 354.8 211.5 350.2 211.4 350.5C211.3 350.8 211.1 351.0 210.9 351.3C210.6 351.5 210.4 351.7 210.1 351.8C209.8 351.9 209.4 352.0 209.1 352.0C208.8 352.0 208.6 352.0 208.3 352.0C208.0 352.0 207.6 351.9 207.3 351.8C207.0 351.7 206.8 351.5 206.5 351.3C206.3 351.0 206.1 350.8 206.0 350.5C205.9 350.2 205.8 354.8 205.8 349.5C205.8 344.2 205.8 323.8 205.8 318.5C205.8 313.2 205.9 317.8 206.0 317.5C206.1 317.2 206.3 317.0 206.5 316.7C206.8 316.5 207.0 316.3 207.3 316.2C207.6 316.1 208.0 316.0 208.3 316.0C208.6 316.0 208.8 316.0 209.1 316.0Z" fill="#222" opacity="0.75" filter="url(#fb5)"/>
<g stroke="#000" stroke-opacity="0.35" stroke-width="0.35" filter="url(#fb3)">
<rect x="195.5" y="312.8" width="16.0" height="16.7" rx="4.3" fill="#222222"/>
<rect x="196.6" y="314.0" width="13.7" height="14.3" rx="3.7" fill="#141414"/>
<rect x="197.8" y="315.2" width="11.5" height="12.0" rx="3.2" fill="#2f2f2f"/>
<rect x="198.9" y="316.3" width="9.2" height="9.6" rx="2.6" fill="#555555"/>
<rect x="200.0" y="317.5" width="6.9" height="7.2" rx="2.0" fill="#717171"/>
<rect x="201.2" y="318.7" width="4.7" height="4.9" rx="1.5" fill="#8e8e8e"/>
<rect x="202.3" y="319.9" width="2.4" height="2.5" rx="0.9" fill="#aaaaaa"/>
</g>
<g stroke="#000" stroke-opacity="0.35" stroke-width="0.35" filter="url(#fb3)">
<rect x="172.3" y="312.8" width="21.3" height="40.4" rx="4.8" fill="#777777"/>
<rect x="173.7" y="314.0" width="18.9" height="37.5" rx="4.3" fill="#292929"/>
<rect x="175.1" y="315.3" width="16.4" height="34.6" rx="3.8" fill="#424242"/>
<rect x="176.5" y="316.5" width="14.0" height="31.7" rx="3.3" fill="#5a5a5a"/>
<rect x="177.9" y="317.7" width="11.6" height="28.9" rx="2.7" fill="#727272"/>
<rect x="179.3" y="318.9" width="9.1" height="26.0" rx="2.2" fill="#8a8a8a"/>
<rect x="180.7" y="320.2" width="6.7" height="23.1" rx="1.7" fill="#a3a3a3"/>
<rect x="182.1" y="321.4" width="4.3" height="20.2" rx="1.2" fill="#bbbbbb"/>
</g>
<line x1="185" y1="318" x2="185" y2="348" stroke="#fff" stroke-width="1.1" opacity="0.85"/>
</g>
<line x1="164.00" y1="270.50" x2="164.00" y2="355.50" stroke="#888" stroke-width="0.9"/>
<line x1="164.00" y1="355.50" x2="248.40" y2="355.50" stroke="#888" stroke-width="0.9"/>
<line x1="162.00" y1="276.80" x2="164.00" y2="276.80" stroke="#555" stroke-width="0.8"/>
<text x="159.00" y="279.50" font-size="7.7" text-anchor="end" fill="#111" stroke="#111" stroke-width="0.2">10<tspan font-size="4.77" dy="-2.93">5</tspan></text>
<line x1="162.00" y1="292.50" x2="164.00" y2="292.50" stroke="#555" stroke-width="0.8"/>
<text x="159.00" y="295.20" font-size="7.7" text-anchor="end" fill="#111" stroke="#111" stroke-width="0.2">10<tspan font-size="4.77" dy="-2.93">4</tspan></text>
<line x1="162.00" y1="308.20" x2="164.00" y2="308.20" stroke="#555" stroke-width="0.8"/>
<text x="159.00" y="310.90" font-size="7.7" text-anchor="end" fill="#111" stroke="#111" stroke-width="0.2">10<tspan font-size="4.77" dy="-2.93">3</tspan></text>
<line x1="162.00" y1="324.00" x2="164.00" y2="324.00" stroke="#555" stroke-width="0.8"/>
<text x="159.00" y="326.70" font-size="7.7" text-anchor="end" fill="#111" stroke="#111" stroke-width="0.2">10<tspan font-size="4.77" dy="-2.93">2</tspan></text>
<line x1="162.00" y1="335.10" x2="164.00" y2="335.10" stroke="#555" stroke-width="0.8"/>
<text x="159.00" y="337.80" font-size="7.7" text-anchor="end" fill="#111" stroke="#111" stroke-width="0.2">0</text>
<line x1="162.00" y1="346.00" x2="164.00" y2="346.00" stroke="#555" stroke-width="0.8"/>
<text x="159.00" y="348.70" font-size="7.7" text-anchor="end" fill="#111" stroke="#111" stroke-width="0.2">-10<tspan font-size="4.77" dy="-2.93">2</tspan></text>
<line x1="163.00" y1="277.50" x2="164.00" y2="277.50" stroke="#999" stroke-width="0.6"/>
<line x1="163.00" y1="282.50" x2="164.00" y2="282.50" stroke="#999" stroke-width="0.6"/>
<line x1="163.00" y1="287.50" x2="164.00" y2="287.50" stroke="#999" stroke-width="0.6"/>
<line x1="163.00" y1="292.50" x2="164.00" y2="292.50" stroke="#999" stroke-width="0.6"/>
<line x1="163.00" y1="297.50" x2="164.00" y2="297.50" stroke="#999" stroke-width="0.6"/>
<line x1="163.00" y1="302.50" x2="164.00" y2="302.50" stroke="#999" stroke-width="0.6"/>
<line x1="163.00" y1="307.50" x2="164.00" y2="307.50" stroke="#999" stroke-width="0.6"/>
<line x1="163.00" y1="312.50" x2="164.00" y2="312.50" stroke="#999" stroke-width="0.6"/>
<line x1="163.00" y1="317.50" x2="164.00" y2="317.50" stroke="#999" stroke-width="0.6"/>
<line x1="163.00" y1="322.50" x2="164.00" y2="322.50" stroke="#999" stroke-width="0.6"/>
<line x1="163.00" y1="327.50" x2="164.00" y2="327.50" stroke="#999" stroke-width="0.6"/>
<line x1="163.00" y1="332.50" x2="164.00" y2="332.50" stroke="#999" stroke-width="0.6"/>
<line x1="163.00" y1="337.50" x2="164.00" y2="337.50" stroke="#999" stroke-width="0.6"/>
<line x1="163.00" y1="342.50" x2="164.00" y2="342.50" stroke="#999" stroke-width="0.6"/>
<line x1="163.00" y1="347.50" x2="164.00" y2="347.50" stroke="#999" stroke-width="0.6"/>
<path d="M173.3 355.5v1.3M176.7 355.5v1.3M180.1 355.5v1.3M188.9 355.5v1.3M192.1 355.5v1.3M194.4 355.5v1.3M196.1 355.5v1.3M197.6 355.5v1.3M198.8 355.5v1.3M199.8 355.5v1.3M200.8 355.5v1.3M207.3 355.5v1.3M210.7 355.5v1.3M213.1 355.5v1.3M215.0 355.5v1.3M216.5 355.5v1.3M217.7 355.5v1.3M218.8 355.5v1.3M219.8 355.5v1.3M226.4 355.5v1.3M229.7 355.5v1.3M232.1 355.5v1.3M233.9 355.5v1.3M235.4 355.5v1.3M236.7 355.5v1.3M237.8 355.5v1.3M238.7 355.5v1.3" stroke="#666" stroke-width="0.5" fill="none"/>
<rect x="162.40" y="333.90" width="1.6" height="2.4" fill="#000"/>
<line x1="170.00" y1="355.50" x2="170.00" y2="357.30" stroke="#555" stroke-width="0.8"/>
<text x="170.00" y="367.80" font-size="7.7" text-anchor="middle" fill="#111" stroke="#111" stroke-width="0.2">0</text>
<line x1="183.40" y1="355.50" x2="183.40" y2="357.30" stroke="#555" stroke-width="0.8"/>
<text x="183.40" y="367.80" font-size="7.7" text-anchor="middle" fill="#111" stroke="#111" stroke-width="0.2">10<tspan font-size="4.77" dy="-2.93">2</tspan></text>
<line x1="201.60" y1="355.50" x2="201.60" y2="357.30" stroke="#555" stroke-width="0.8"/>
<text x="201.60" y="367.80" font-size="7.7" text-anchor="middle" fill="#111" stroke="#111" stroke-width="0.2">10<tspan font-size="4.77" dy="-2.93">3</tspan></text>
<line x1="220.70" y1="355.50" x2="220.70" y2="357.30" stroke="#555" stroke-width="0.8"/>
<text x="220.70" y="367.80" font-size="7.7" text-anchor="middle" fill="#111" stroke="#111" stroke-width="0.2">10<tspan font-size="4.77" dy="-2.93">4</tspan></text>
<line x1="239.60" y1="355.50" x2="239.60" y2="357.30" stroke="#555" stroke-width="0.8"/>
<text x="239.60" y="367.80" font-size="7.7" text-anchor="middle" fill="#111" stroke="#111" stroke-width="0.2">10<tspan font-size="4.77" dy="-2.93">5</tspan></text>
<rect x="168.00" y="355.20" width="4" height="1.6" fill="#000"/>
<g transform="translate(205.00,381.20) scale(0.545,1)"><text x="0" y="0" font-size="11.0" text-anchor="middle" font-weight="normal" font-style="normal" fill="#111"  stroke="#111" stroke-width="0.35">CD45Ra</text></g>
<rect x="169.70" y="311.10" width="24.10" height="18.50" fill="none" stroke="#1f6cc0" stroke-width="1.6"/>
<rect x="195.10" y="311.10" width="29.90" height="18.50" fill="none" stroke="#27449c" stroke-width="1.6"/>
<rect x="169.70" y="331.40" width="24.10" height="22.60" fill="none" stroke="#1ea3e0" stroke-width="1.6"/>
<text x="171.60" y="308.00" font-size="13.2" font-weight="bold" fill="#1a6cc0">24%</text>
<text x="204.40" y="308.00" font-size="13.2" font-weight="bold" fill="#2a4d9c">22%</text>
<rect x="164.00" y="389.60" width="84.40" height="85.00" fill="#fff" stroke="#c4c4c4" stroke-width="0.9"/>
<g clip-path="url(#cC3)">
<path d="M210.6 473.7h.6M184.0 422.2h.6M223.6 453.6h.6M169.2 461.7h.6M179.0 424.4h.6M222.1 428.4h.6M200.9 424.0h.6M206.5 424.6h.6M223.3 465.5h.6M169.4 451.6h.6M170.2 451.3h.6M218.1 424.7h.6M191.6 473.8h.6M170.4 454.3h.6M169.6 463.3h.6M198.4 474.0h.6M219.2 473.0h.6M205.3 475.4h.6M224.4 458.0h.6M197.6 424.2h.6M179.9 473.4h.6M206.6 475.0h.6M213.7 475.2h.6M218.1 423.7h.6M197.4 474.3h.6M171.3 461.8h.6M193.5 422.6h.6M210.0 474.6h.6M223.8 459.3h.6M208.6 423.8h.6M211.7 424.8h.6M170.3 469.6h.6M170.5 450.5h.6M171.4 446.7h.6M208.7 475.5h.6M169.2 463.3h.6M199.4 476.3h.6M175.6 473.2h.6M170.0 438.9h.6M211.4 423.9h.6M195.8 424.4h.6M209.5 473.4h.6M202.2 474.7h.6M213.2 474.4h.6M223.2 456.5h.6M223.0 436.8h.6M169.8 463.6h.6M169.8 449.5h.6M223.8 427.5h.6M205.7 423.9h.6M171.6 431.8h.6M171.2 435.6h.6M223.1 441.2h.6M173.4 425.9h.6M186.9 474.9h.6M169.7 470.1h.6M215.6 474.1h.6M195.4 424.2h.6M196.9 423.4h.6M207.6 423.9h.6M222.5 473.4h.6M223.6 442.5h.6M222.9 431.4h.6M215.6 473.8h.6M210.9 423.1h.6M218.8 474.6h.6M223.9 455.8h.6M207.2 424.0h.6M201.3 477.4h.6M171.5 423.7h.6M171.4 451.4h.6M207.2 473.8h.6M222.9 465.0h.6M171.5 470.8h.6M169.6 471.2h.6M188.9 422.1h.6M192.2 476.5h.6M213.2 423.4h.6M224.2 467.4h.6M170.8 450.8h.6M192.3 476.2h.6M207.6 424.5h.6M222.6 445.8h.6M177.5 473.3h.6M224.5 439.2h.6M200.7 475.4h.6M224.1 462.7h.6M171.1 443.5h.6M170.7 469.6h.6M222.9 427.8h.6M190.0 424.1h.6M222.8 469.9h.6M222.6 470.1h.6M181.1 474.9h.6M189.4 474.0h.6M222.6 436.1h.6M198.3 474.5h.6M208.2 424.5h.6M224.0 438.6h.6M193.8 422.4h.6M173.8 473.3h.6M223.3 460.0h.6M193.1 425.0h.6M181.7 423.4h.6M224.3 430.4h.6M191.9 474.1h.6M191.4 473.9h.6M171.1 461.5h.6M192.5 475.4h.6M169.6 466.2h.6M179.8 475.3h.6M223.3 471.6h.6M168.4 462.6h.6M202.6 476.8h.6M223.9 449.4h.6M218.5 424.5h.6M211.3 423.2h.6M224.8 448.5h.6M169.8 428.4h.6M169.8 464.3h.6M202.7 474.4h.6M209.0 425.4h.6M222.9 432.3h.6M171.5 452.7h.6M209.3 424.8h.6M171.2 452.0h.6M183.2 424.9h.6M216.0 422.6h.6M198.3 424.5h.6M219.0 473.7h.6M188.7 475.8h.6M193.0 424.7h.6M196.5 475.5h.6M198.7 474.1h.6M171.4 433.1h.6M219.7 475.6h.6M218.2 473.8h.6M221.8 470.9h.6M223.1 461.3h.6M171.4 433.7h.6M173.6 475.3h.6M180.7 424.7h.6M223.8 438.8h.6M222.5 463.9h.6M187.9 475.2h.6M214.7 473.3h.6M223.7 426.9h.6M188.0 421.5h.6M223.2 457.3h.6M175.3 423.3h.6M193.1 423.9h.6M200.0 474.1h.6M221.8 426.8h.6M222.8 458.6h.6M223.5 468.7h.6M223.0 434.6h.6M174.8 474.4h.6M186.1 473.8h.6M171.0 434.4h.6M171.7 427.6h.6M222.8 433.6h.6M218.5 425.0h.6M193.2 424.6h.6M171.9 450.5h.6M209.0 474.6h.6M223.6 431.8h.6M170.5 451.3h.6M185.6 474.3h.6M224.2 435.4h.6M171.5 456.6h.6M201.7 424.5h.6M170.7 457.3h.6M199.9 423.6h.6M223.1 431.2h.6M219.9 473.9h.6M224.7 430.5h.6M210.4 474.2h.6M199.5 474.9h.6M214.3 424.0h.6M171.8 424.1h.6M203.7 475.9h.6M170.9 441.6h.6M168.6 470.7h.6M216.3 422.4h.6M200.8 424.2h.6M225.1 456.3h.6M217.6 423.1h.6M224.5 428.7h.6M207.1 423.6h.6M170.9 428.7h.6M224.2 454.2h.6M171.7 463.4h.6M182.7 423.7h.6M170.3 454.7h.6M200.2 474.8h.6M170.7 441.8h.6M214.9 475.2h.6M181.3 475.2h.6M169.0 435.3h.6M195.3 474.1h.6M171.0 437.3h.6M222.6 456.2h.6M222.8 448.6h.6M220.5 475.3h.6M223.5 434.0h.6M201.0 425.1h.6M223.2 468.0h.6M171.5 466.0h.6M223.2 438.0h.6M215.4 424.3h.6M223.5 444.4h.6M171.0 467.7h.6M171.0 465.9h.6M223.9 445.5h.6M170.9 437.3h.6M200.4 423.8h.6M222.2 468.9h.6M223.7 449.2h.6M223.6 454.0h.6M169.5 463.2h.6M198.2 424.1h.6M185.5 423.5h.6M171.7 453.1h.6M196.2 474.3h.6M224.8 454.1h.6M202.8 474.9h.6M222.7 441.9h.6M219.9 472.7h.6M182.2 423.0h.6M223.3 444.1h.6M180.8 474.5h.6M182.7 473.7h.6M217.5 423.8h.6M204.0 423.0h.6M168.9 426.8h.6M218.0 423.8h.6M221.9 425.2h.6M223.7 428.9h.6M204.9 424.6h.6M170.6 438.0h.6M183.0 424.2h.6M173.5 472.6h.6M222.9 465.2h.6M169.9 446.9h.6M169.6 466.0h.6M214.8 424.7h.6M216.4 473.4h.6M210.4 422.9h.6M224.1 429.6h.6M176.5 425.6h.6M207.3 474.2h.6M221.6 473.9h.6M168.6 442.8h.6M222.7 468.9h.6M206.0 475.2h.6M215.1 474.8h.6M168.7 440.4h.6M223.1 453.6h.6M189.3 474.1h.6M190.7 473.6h.6M195.7 474.0h.6M211.1 422.1h.6M223.2 441.2h.6M192.7 473.0h.6M223.2 434.4h.6M169.1 437.2h.6M223.4 427.7h.6M173.3 424.5h.6M174.1 425.3h.6M223.5 458.3h.6M173.7 472.7h.6M221.9 426.5h.6M175.0 474.3h.6M174.4 473.4h.6M204.9 476.1h.6M223.8 442.0h.6M222.6 454.1h.6M221.6 474.5h.6M205.0 474.7h.6M223.7 439.3h.6M214.4 473.9h.6M201.7 424.4h.6M181.1 424.3h.6M182.9 474.2h.6M223.4 437.7h.6M222.7 468.5h.6M188.3 474.9h.6M176.0 423.8h.6M199.9 473.2h.6M189.5 425.0h.6M219.7 473.9h.6M170.3 446.7h.6M190.9 423.9h.6M223.5 453.4h.6M222.8 443.2h.6M219.9 476.0h.6M201.2 423.3h.6M216.3 423.9h.6M179.8 424.2h.6M177.8 424.2h.6M196.6 475.0h.6M176.9 424.0h.6M213.1 474.4h.6M179.2 473.7h.6M201.1 424.3h.6M171.0 432.6h.6M209.3 423.9h.6M222.5 458.3h.6M170.4 442.7h.6M171.3 469.2h.6M217.5 424.2h.6M196.4 423.0h.6M224.9 463.0h.6M222.0 430.3h.6M222.7 426.6h.6M222.5 448.3h.6M169.3 440.3h.6M223.3 432.1h.6M206.8 425.1h.6M190.0 474.1h.6M170.6 457.9h.6M201.3 473.5h.6M191.5 475.4h.6M184.9 422.0h.6M220.6 473.3h.6M188.2 474.3h.6M182.6 475.0h.6M195.6 475.3h.6M169.7 458.7h.6M171.0 445.2h.6M225.4 452.3h.6M203.2 423.5h.6M169.6 442.8h.6M224.9 455.7h.6M222.7 471.1h.6M170.7 469.6h.6M168.8 449.4h.6M222.7 453.0h.6M172.2 428.7h.6M221.0 472.2h.6M217.3 423.0h.6M224.0 431.2h.6M169.0 443.0h.6M222.2 438.3h.6M170.0 432.7h.6M196.2 424.7h.6M171.6 450.8h.6M169.5 462.0h.6M220.4 425.4h.6M206.4 473.7h.6M223.0 454.4h.6M173.7 474.3h.6M224.0 437.1h.6M213.4 475.1h.6M198.6 473.7h.6M215.5 423.5h.6M209.1 475.1h.6M186.1 476.1h.6M170.4 469.1h.6M171.4 440.0h.6M204.3 423.7h.6M197.5 424.0h.6M224.4 450.1h.6M180.6 425.2h.6M210.3 424.0h.6M222.5 441.6h.6M223.4 444.5h.6M192.9 474.5h.6M180.4 474.4h.6M222.8 469.0h.6M170.7 470.8h.6M171.0 462.2h.6M222.5 463.0h.6M224.2 427.6h.6M189.7 421.7h.6M213.9 423.7h.6M208.4 424.4h.6M178.4 474.8h.6M200.0 423.8h.6M198.6 473.4h.6M222.1 472.6h.6M222.7 436.1h.6M211.6 424.5h.6M190.5 424.5h.6M172.0 427.3h.6M223.4 468.3h.6M185.9 422.5h.6M203.3 424.9h.6M171.0 432.5h.6M171.9 425.6h.6M220.8 473.3h.6M183.5 422.4h.6M223.1 427.5h.6M183.9 474.6h.6M224.4 448.6h.6M186.9 425.1h.6M224.0 426.9h.6M170.3 448.0h.6M223.2 442.8h.6M223.5 425.6h.6M170.1 438.0h.6M170.1 467.8h.6M221.8 471.4h.6M216.9 423.4h.6M206.8 474.1h.6M169.7 437.0h.6M222.2 426.9h.6M223.0 429.1h.6M222.9 433.8h.6M224.0 444.9h.6M224.0 442.3h.6M219.7 473.8h.6M169.6 441.0h.6M169.7 440.3h.6M221.9 428.8h.6M216.0 424.2h.6M209.1 424.9h.6M170.0 447.9h.6M223.5 435.2h.6M171.2 468.3h.6M222.9 471.4h.6M171.3 444.8h.6M222.6 465.7h.6M198.1 424.9h.6M222.8 443.7h.6M170.6 431.6h.6M200.9 424.7h.6M180.0 425.0h.6M170.9 462.0h.6M222.8 451.8h.6M177.5 474.3h.6M181.6 475.6h.6M223.6 467.6h.6M170.4 447.2h.6M183.6 422.4h.6M222.3 428.8h.6M179.1 474.3h.6M171.3 432.0h.6M210.3 424.5h.6M184.3 474.8h.6M223.6 435.7h.6M175.6 423.3h.6M226.1 433.6h.6M189.9 475.9h.6M205.5 424.3h.6M170.2 427.9h.6M170.6 471.7h.6M170.3 433.0h.6M172.2 472.2h.6M200.8 476.0h.6M170.7 427.4h.6M216.2 473.9h.6M205.0 475.5h.6M170.8 448.0h.6M169.6 453.1h.6M202.7 474.7h.6M171.7 439.1h.6M223.6 458.6h.6M220.4 424.1h.6M186.1 474.3h.6M192.4 424.3h.6M182.9 474.4h.6M170.6 433.4h.6M172.8 425.3h.6M203.6 474.4h.6M174.1 474.3h.6M208.5 423.9h.6M213.8 475.5h.6M170.7 450.5h.6M200.3 423.9h.6M185.5 473.8h.6M186.6 424.5h.6M171.2 443.1h.6M185.8 474.5h.6M221.2 472.0h.6M169.9 452.5h.6M224.0 474.0h.6M185.6 475.4h.6M222.2 440.6h.6M215.0 423.7h.6" fill="none" stroke="#111" stroke-opacity="0.7" stroke-width="0.6"/>
<g stroke="#222" stroke-opacity="0.5" stroke-width="0.35" filter="url(#fb3)">
<rect x="171.5" y="425.0" width="51.0" height="48.5" rx="5.3" fill="#2a2a2a"/>
<rect x="174.2" y="427.4" width="45.6" height="43.7" rx="4.8" fill="#8e8e8e"/>
<rect x="176.9" y="429.8" width="40.2" height="38.8" rx="4.2" fill="#b8b8b8"/>
<rect x="179.6" y="432.2" width="34.7" height="33.9" rx="3.7" fill="#c0c0c0"/>
<rect x="182.3" y="434.6" width="29.3" height="29.1" rx="3.2" fill="#c9c9c9"/>
<rect x="185.0" y="437.0" width="23.9" height="24.2" rx="2.6" fill="#d2d2d2"/>
<rect x="187.8" y="439.4" width="18.5" height="19.4" rx="2.1" fill="#dadada"/>
<rect x="190.5" y="441.8" width="13.1" height="14.6" rx="1.6" fill="#e3e3e3"/>
<rect x="193.2" y="444.2" width="7.6" height="9.7" rx="1.1" fill="#ececec"/>
</g>
<path d="M195.0 429.0C195.8 427.9 201.8 426.4 205.0 425.8C208.2 425.2 211.5 425.3 214.0 425.5C216.5 425.7 218.7 426.1 220.0 427.0C221.3 427.9 222.3 429.9 222.0 431.0C221.7 432.1 220.0 433.5 218.0 433.5C216.0 433.5 213.0 431.2 210.0 431.0C207.0 430.8 202.5 432.8 200.0 432.5C197.5 432.2 194.2 430.1 195.0 429.0Z" fill="#111" opacity="0.85" filter="url(#fb5)"/>
<path d="M220.5 428.0C220.7 428.0 221.0 428.1 221.3 428.2C221.5 428.2 221.7 428.4 221.9 428.6C222.1 428.8 222.3 429.0 222.3 429.2C222.4 429.5 222.5 423.5 222.5 430.0C222.5 436.5 222.5 461.5 222.5 468.0C222.5 474.5 222.4 468.5 222.3 468.8C222.3 469.0 222.1 469.2 221.9 469.4C221.7 469.6 221.5 469.8 221.3 469.8C221.0 469.9 220.7 470.0 220.5 470.0C220.3 470.0 220.2 470.0 220.0 470.0C219.8 470.0 219.5 469.9 219.2 469.8C219.0 469.8 218.8 469.6 218.6 469.4C218.4 469.2 218.2 469.0 218.2 468.8C218.1 468.5 218.0 474.5 218.0 468.0C218.0 461.5 218.0 436.5 218.0 430.0C218.0 423.5 218.1 429.5 218.2 429.2C218.2 429.0 218.4 428.8 218.6 428.6C218.8 428.4 219.0 428.2 219.2 428.2C219.5 428.1 219.8 428.0 220.0 428.0C220.2 428.0 220.3 428.0 220.5 428.0Z" fill="#222" opacity="0.6" filter="url(#fb5)"/>
<path d="M174.0 428.0C174.1 428.0 174.5 428.1 174.8 428.2C175.0 428.2 175.2 428.4 175.4 428.6C175.6 428.8 175.8 429.0 175.8 429.2C175.9 429.5 176.0 423.5 176.0 430.0C176.0 436.5 176.0 461.5 176.0 468.0C176.0 474.5 175.9 468.5 175.8 468.8C175.8 469.0 175.6 469.2 175.4 469.4C175.2 469.6 175.0 469.8 174.8 469.8C174.5 469.9 174.1 470.0 174.0 470.0C173.9 470.0 174.1 470.0 174.0 470.0C173.9 470.0 173.5 469.9 173.2 469.8C173.0 469.8 172.8 469.6 172.6 469.4C172.4 469.2 172.2 469.0 172.2 468.8C172.1 468.5 172.0 474.5 172.0 468.0C172.0 461.5 172.0 436.5 172.0 430.0C172.0 423.5 172.1 429.5 172.2 429.2C172.2 429.0 172.4 428.8 172.6 428.6C172.8 428.4 173.0 428.2 173.2 428.2C173.5 428.1 173.9 428.0 174.0 428.0C174.1 428.0 173.9 428.0 174.0 428.0Z" fill="#333" opacity="0.55" filter="url(#fb5)"/>
<path d="M193.0 425.5C196.0 425.5 193.5 425.6 193.8 425.7C194.0 425.7 194.2 425.9 194.4 426.1C194.6 426.3 194.8 426.5 194.8 426.7C194.9 427.0 195.0 427.4 195.0 427.5C195.0 427.6 195.0 427.4 195.0 427.5C195.0 427.6 194.9 428.0 194.8 428.3C194.8 428.5 194.6 428.7 194.4 428.9C194.2 429.1 194.0 429.3 193.8 429.3C193.5 429.4 196.0 429.5 193.0 429.5C190.0 429.5 179.0 429.5 176.0 429.5C173.0 429.5 175.5 429.4 175.2 429.3C175.0 429.3 174.8 429.1 174.6 428.9C174.4 428.7 174.2 428.5 174.2 428.3C174.1 428.0 174.0 427.6 174.0 427.5C174.0 427.4 174.0 427.6 174.0 427.5C174.0 427.4 174.1 427.0 174.2 426.7C174.2 426.5 174.4 426.3 174.6 426.1C174.8 425.9 175.0 425.7 175.2 425.7C175.5 425.6 173.0 425.5 176.0 425.5C179.0 425.5 190.0 425.5 193.0 425.5Z" fill="#333" opacity="0.5" filter="url(#fb5)"/>
<path d="M219.0 469.5C226.3 469.5 219.5 469.6 219.8 469.7C220.0 469.7 220.2 469.9 220.4 470.1C220.6 470.3 220.8 470.5 220.8 470.7C220.9 471.0 221.0 471.4 221.0 471.5C221.0 471.6 221.0 471.4 221.0 471.5C221.0 471.6 220.9 472.0 220.8 472.3C220.8 472.5 220.6 472.7 220.4 472.9C220.2 473.1 220.0 473.3 219.8 473.3C219.5 473.4 226.3 473.5 219.0 473.5C211.7 473.5 183.3 473.5 176.0 473.5C168.7 473.5 175.5 473.4 175.2 473.3C175.0 473.3 174.8 473.1 174.6 472.9C174.4 472.7 174.2 472.5 174.2 472.3C174.1 472.0 174.0 471.6 174.0 471.5C174.0 471.4 174.0 471.6 174.0 471.5C174.0 471.4 174.1 471.0 174.2 470.7C174.2 470.5 174.4 470.3 174.6 470.1C174.8 469.9 175.0 469.7 175.2 469.7C175.5 469.6 168.7 469.5 176.0 469.5C183.3 469.5 211.7 469.5 219.0 469.5Z" fill="#333" opacity="0.5" filter="url(#fb5)"/>
<g stroke="#000" stroke-opacity="0.35" stroke-width="0.35" filter="url(#fb3)">
<ellipse cx="185.0" cy="437.5" rx="7.50" ry="5.50" fill="#666666"/>
<ellipse cx="185.0" cy="437.5" rx="5.91" ry="4.33" fill="#909090"/>
<ellipse cx="185.0" cy="437.5" rx="4.31" ry="3.16" fill="#b2b2b2"/>
<ellipse cx="185.0" cy="437.5" rx="2.72" ry="1.99" fill="#c8c8c8"/>
<ellipse cx="185.0" cy="437.5" rx="1.13" ry="0.83" fill="#dddddd"/>
</g>
<g stroke="#000" stroke-opacity="0.35" stroke-width="0.35" filter="url(#fb3)">
<ellipse cx="208.0" cy="439.0" rx="8.50" ry="6.50" fill="#777777"/>
<ellipse cx="208.0" cy="439.0" rx="6.69" ry="5.12" fill="#979797"/>
<ellipse cx="208.0" cy="439.0" rx="4.89" ry="3.74" fill="#b3b3b3"/>
<ellipse cx="208.0" cy="439.0" rx="3.08" ry="2.36" fill="#cacaca"/>
<ellipse cx="208.0" cy="439.0" rx="1.28" ry="0.98" fill="#e0e0e0"/>
</g>
<g stroke="#333" stroke-opacity="0.4" stroke-width="0.35">
<ellipse cx="207.0" cy="461.0" rx="8.00" ry="8.50" fill="#bbbbbb"/>
<ellipse cx="207.0" cy="461.0" rx="6.30" ry="6.69" fill="#cacaca"/>
<ellipse cx="207.0" cy="461.0" rx="4.60" ry="4.89" fill="#d8d8d8"/>
<ellipse cx="207.0" cy="461.0" rx="2.90" ry="3.08" fill="#e7e7e7"/>
<ellipse cx="207.0" cy="461.0" rx="1.20" ry="1.28" fill="#f6f6f6"/>
</g>
<g stroke="#333" stroke-opacity="0.4" stroke-width="0.35">
<ellipse cx="185.0" cy="460.0" rx="6.00" ry="9.00" fill="#aaaaaa"/>
<ellipse cx="185.0" cy="460.0" rx="4.72" ry="7.09" fill="#b9b9b9"/>
<ellipse cx="185.0" cy="460.0" rx="3.45" ry="5.17" fill="#c8c8c8"/>
<ellipse cx="185.0" cy="460.0" rx="2.18" ry="3.26" fill="#d7d7d7"/>
<ellipse cx="185.0" cy="460.0" rx="0.90" ry="1.35" fill="#e6e6e6"/>
</g>
</g>
<line x1="164.00" y1="389.60" x2="164.00" y2="474.60" stroke="#888" stroke-width="0.9"/>
<line x1="164.00" y1="474.60" x2="248.40" y2="474.60" stroke="#888" stroke-width="0.9"/>
<line x1="162.00" y1="395.90" x2="164.00" y2="395.90" stroke="#555" stroke-width="0.8"/>
<text x="159.00" y="398.60" font-size="7.7" text-anchor="end" fill="#111" stroke="#111" stroke-width="0.2">10<tspan font-size="4.77" dy="-2.93">5</tspan></text>
<line x1="162.00" y1="411.60" x2="164.00" y2="411.60" stroke="#555" stroke-width="0.8"/>
<text x="159.00" y="414.30" font-size="7.7" text-anchor="end" fill="#111" stroke="#111" stroke-width="0.2">10<tspan font-size="4.77" dy="-2.93">4</tspan></text>
<line x1="162.00" y1="427.30" x2="164.00" y2="427.30" stroke="#555" stroke-width="0.8"/>
<text x="159.00" y="430.00" font-size="7.7" text-anchor="end" fill="#111" stroke="#111" stroke-width="0.2">10<tspan font-size="4.77" dy="-2.93">3</tspan></text>
<line x1="162.00" y1="443.10" x2="164.00" y2="443.10" stroke="#555" stroke-width="0.8"/>
<text x="159.00" y="445.80" font-size="7.7" text-anchor="end" fill="#111" stroke="#111" stroke-width="0.2">10<tspan font-size="4.77" dy="-2.93">2</tspan></text>
<line x1="162.00" y1="454.20" x2="164.00" y2="454.20" stroke="#555" stroke-width="0.8"/>
<text x="159.00" y="456.90" font-size="7.7" text-anchor="end" fill="#111" stroke="#111" stroke-width="0.2">0</text>
<line x1="162.00" y1="465.10" x2="164.00" y2="465.10" stroke="#555" stroke-width="0.8"/>
<text x="159.00" y="467.80" font-size="7.7" text-anchor="end" fill="#111" stroke="#111" stroke-width="0.2">-10<tspan font-size="4.77" dy="-2.93">2</tspan></text>
<line x1="163.00" y1="396.60" x2="164.00" y2="396.60" stroke="#999" stroke-width="0.6"/>
<line x1="163.00" y1="401.60" x2="164.00" y2="401.60" stroke="#999" stroke-width="0.6"/>
<line x1="163.00" y1="406.60" x2="164.00" y2="406.60" stroke="#999" stroke-width="0.6"/>
<line x1="163.00" y1="411.60" x2="164.00" y2="411.60" stroke="#999" stroke-width="0.6"/>
<line x1="163.00" y1="416.60" x2="164.00" y2="416.60" stroke="#999" stroke-width="0.6"/>
<line x1="163.00" y1="421.60" x2="164.00" y2="421.60" stroke="#999" stroke-width="0.6"/>
<line x1="163.00" y1="426.60" x2="164.00" y2="426.60" stroke="#999" stroke-width="0.6"/>
<line x1="163.00" y1="431.60" x2="164.00" y2="431.60" stroke="#999" stroke-width="0.6"/>
<line x1="163.00" y1="436.60" x2="164.00" y2="436.60" stroke="#999" stroke-width="0.6"/>
<line x1="163.00" y1="441.60" x2="164.00" y2="441.60" stroke="#999" stroke-width="0.6"/>
<line x1="163.00" y1="446.60" x2="164.00" y2="446.60" stroke="#999" stroke-width="0.6"/>
<line x1="163.00" y1="451.60" x2="164.00" y2="451.60" stroke="#999" stroke-width="0.6"/>
<line x1="163.00" y1="456.60" x2="164.00" y2="456.60" stroke="#999" stroke-width="0.6"/>
<line x1="163.00" y1="461.60" x2="164.00" y2="461.60" stroke="#999" stroke-width="0.6"/>
<line x1="163.00" y1="466.60" x2="164.00" y2="466.60" stroke="#999" stroke-width="0.6"/>
<path d="M173.3 474.6v1.3M176.7 474.6v1.3M180.1 474.6v1.3M188.9 474.6v1.3M192.1 474.6v1.3M194.4 474.6v1.3M196.1 474.6v1.3M197.6 474.6v1.3M198.8 474.6v1.3M199.8 474.6v1.3M200.8 474.6v1.3M207.3 474.6v1.3M210.7 474.6v1.3M213.1 474.6v1.3M215.0 474.6v1.3M216.5 474.6v1.3M217.7 474.6v1.3M218.8 474.6v1.3M219.8 474.6v1.3M226.4 474.6v1.3M229.7 474.6v1.3M232.1 474.6v1.3M233.9 474.6v1.3M235.4 474.6v1.3M236.7 474.6v1.3M237.8 474.6v1.3M238.7 474.6v1.3" stroke="#666" stroke-width="0.5" fill="none"/>
<rect x="162.40" y="453.00" width="1.6" height="2.4" fill="#000"/>
<line x1="170.00" y1="474.60" x2="170.00" y2="476.40" stroke="#555" stroke-width="0.8"/>
<text x="170.00" y="486.90" font-size="7.7" text-anchor="middle" fill="#111" stroke="#111" stroke-width="0.2">0</text>
<line x1="183.40" y1="474.60" x2="183.40" y2="476.40" stroke="#555" stroke-width="0.8"/>
<text x="183.40" y="486.90" font-size="7.7" text-anchor="middle" fill="#111" stroke="#111" stroke-width="0.2">10<tspan font-size="4.77" dy="-2.93">2</tspan></text>
<line x1="201.60" y1="474.60" x2="201.60" y2="476.40" stroke="#555" stroke-width="0.8"/>
<text x="201.60" y="486.90" font-size="7.7" text-anchor="middle" fill="#111" stroke="#111" stroke-width="0.2">10<tspan font-size="4.77" dy="-2.93">3</tspan></text>
<line x1="220.70" y1="474.60" x2="220.70" y2="476.40" stroke="#555" stroke-width="0.8"/>
<text x="220.70" y="486.90" font-size="7.7" text-anchor="middle" fill="#111" stroke="#111" stroke-width="0.2">10<tspan font-size="4.77" dy="-2.93">4</tspan></text>
<line x1="239.60" y1="474.60" x2="239.60" y2="476.40" stroke="#555" stroke-width="0.8"/>
<text x="239.60" y="486.90" font-size="7.7" text-anchor="middle" fill="#111" stroke="#111" stroke-width="0.2">10<tspan font-size="4.77" dy="-2.93">5</tspan></text>
<rect x="168.00" y="474.30" width="4" height="1.6" fill="#000"/>
<rect x="171.20" y="429.30" width="24.40" height="18.70" fill="none" stroke="#1f6cc0" stroke-width="1.6"/>
<rect x="196.40" y="429.30" width="29.80" height="18.70" fill="none" stroke="#27449c" stroke-width="1.6"/>
<rect x="171.20" y="449.60" width="24.40" height="22.60" fill="none" stroke="#1ea3e0" stroke-width="1.6"/>
<text x="171.60" y="422.80" font-size="13.2" font-weight="bold" fill="#1a6cc0">17%</text>
<text x="203.60" y="422.80" font-size="13.2" font-weight="bold" fill="#2a4d9c">53%</text>
<line x1="135.5" y1="31.2" x2="135.5" y2="454.9" stroke="#111" stroke-width="1.1"/>
<g transform="translate(138.20,457.80) rotate(-90) scale(0.571,1)"><text x="0" y="0" font-size="10.8" text-anchor="end" font-weight="normal" font-style="normal" fill="#111"  stroke="#111" stroke-width="0.35">CD123</text></g>
<rect x="288.80" y="32.30" width="84.20" height="85.00" fill="#fff" stroke="#c4c4c4" stroke-width="0.9"/>
<g clip-path="url(#cE0)">
<path d="M335.0 95.4h.6M322.1 101.6h.6M326.9 105.3h.6M335.5 103.4h.6M321.8 94.3h.6M324.8 110.3h.6M332.8 109.0h.6M332.6 105.7h.6M323.7 105.3h.6M327.5 106.4h.6M326.1 98.8h.6M334.0 109.5h.6M331.0 105.2h.6M329.8 102.0h.6M324.2 95.8h.6M330.9 99.7h.6M321.0 100.8h.6M324.5 114.5h.6M327.1 115.3h.6M324.3 107.7h.6M335.1 107.6h.6M329.5 107.7h.6M330.9 94.5h.6M322.6 104.1h.6M322.5 104.8h.6M322.0 104.0h.6M321.5 108.1h.6M326.5 109.0h.6M332.2 98.0h.6M326.6 99.0h.6M323.9 105.7h.6M321.3 106.4h.6M323.9 105.0h.6M329.9 106.6h.6M320.8 105.0h.6M323.7 94.9h.6M327.9 104.4h.6M329.1 109.5h.6M332.8 103.7h.6M332.0 98.6h.6M326.1 105.3h.6M327.7 98.0h.6M325.4 108.9h.6M331.6 110.9h.6M338.1 105.2h.6M328.4 107.7h.6M329.7 104.4h.6M326.0 102.0h.6M326.8 108.4h.6M337.2 107.0h.6M321.3 105.1h.6M320.3 98.8h.6M322.0 119.5h.6M323.6 101.9h.6M332.0 111.4h.6M322.6 97.4h.6M323.5 90.3h.6M331.4 105.1h.6M327.6 111.5h.6M325.7 106.6h.6M328.3 100.4h.6M332.5 110.4h.6M320.9 108.4h.6M325.4 104.6h.6M336.3 100.6h.6M333.0 92.2h.6M330.7 105.8h.6M321.2 94.4h.6M327.8 100.1h.6M331.3 107.3h.6M327.7 90.3h.6M327.5 106.4h.6M329.8 103.7h.6M328.7 97.3h.6M326.6 95.3h.6M336.1 116.0h.6M328.1 101.2h.6M324.9 108.1h.6M330.8 105.5h.6M323.9 103.0h.6M325.2 99.7h.6M323.9 103.3h.6M334.5 99.0h.6M327.8 108.2h.6M336.3 102.3h.6M317.0 105.1h.6M335.3 90.6h.6M330.1 109.2h.6M333.9 109.3h.6M325.1 103.5h.6M326.5 105.2h.6M331.7 105.2h.6M334.6 111.5h.6M329.2 109.7h.6M328.5 99.0h.6M324.8 103.3h.6M343.3 112.0h.6M332.9 103.4h.6M334.0 96.1h.6M333.5 102.9h.6M324.5 102.7h.6M331.7 112.8h.6M335.1 101.6h.6M332.2 111.0h.6M326.4 94.7h.6M330.5 98.4h.6M339.9 101.9h.6M330.4 98.2h.6M330.6 102.0h.6M325.0 108.7h.6" fill="none" stroke="#111" stroke-opacity="0.55" stroke-width="0.6"/>
<g stroke="#444" stroke-opacity="0.45" stroke-width="0.35" filter="url(#fb3)">
<path d="M312.0 80.0C313.0 76.5 316.3 73.8 319.0 72.0C321.7 70.2 325.2 69.3 328.0 69.5C330.8 69.7 334.2 70.6 335.5 73.0C336.8 75.4 336.9 80.8 336.0 84.0C335.1 87.2 332.7 89.8 330.0 92.0C327.3 94.2 322.8 96.8 320.0 97.0C317.2 97.2 314.3 95.8 313.0 93.0C311.7 90.2 311.0 83.5 312.0 80.0Z" fill="#d0d0d0"/>
<path d="M314.1 80.4C314.9 77.5 317.7 75.2 319.9 73.8C322.1 72.3 325.1 71.6 327.4 71.7C329.6 71.9 332.5 72.6 333.6 74.6C334.7 76.6 334.8 81.1 334.0 83.8C333.2 86.4 331.2 88.6 329.0 90.4C326.8 92.2 323.1 94.4 320.7 94.5C318.4 94.7 316.0 93.6 314.9 91.2C313.8 88.9 313.2 83.3 314.1 80.4Z" fill="#d7d7d7"/>
<path d="M316.1 80.9C316.8 78.6 319.0 76.7 320.8 75.6C322.5 74.4 324.9 73.8 326.7 73.9C328.5 74.1 330.8 74.7 331.7 76.3C332.5 77.8 332.6 81.4 332.0 83.5C331.4 85.6 329.8 87.4 328.0 88.8C326.3 90.2 323.3 92.0 321.4 92.1C319.6 92.2 317.7 91.3 316.8 89.5C315.9 87.6 315.5 83.2 316.1 80.9Z" fill="#dedede"/>
<path d="M318.2 81.3C318.7 79.6 320.3 78.2 321.6 77.4C323.0 76.5 324.7 76.1 326.1 76.2C327.4 76.2 329.1 76.7 329.7 77.9C330.4 79.1 330.4 81.7 330.0 83.3C329.5 84.8 328.3 86.1 327.0 87.2C325.7 88.2 323.5 89.6 322.1 89.6C320.7 89.7 319.4 89.1 318.7 87.7C318.1 86.3 317.7 83.0 318.2 81.3Z" fill="#e4e4e4"/>
<path d="M320.3 81.7C320.6 80.6 321.7 79.7 322.5 79.2C323.4 78.6 324.5 78.3 325.4 78.4C326.3 78.4 327.4 78.7 327.8 79.5C328.2 80.3 328.3 82.0 328.0 83.0C327.7 84.0 326.9 84.9 326.0 85.6C325.2 86.3 323.8 87.1 322.8 87.2C321.9 87.2 321.0 86.8 320.6 85.9C320.2 85.0 320.0 82.9 320.3 81.7Z" fill="#ebebeb"/>
<path d="M322.4 82.2C322.5 81.7 323.0 81.2 323.4 81.0C323.8 80.7 324.3 80.6 324.8 80.6C325.2 80.6 325.7 80.8 325.9 81.1C326.1 81.5 326.1 82.3 326.0 82.8C325.8 83.3 325.5 83.7 325.1 84.0C324.7 84.3 324.0 84.7 323.6 84.7C323.1 84.8 322.7 84.6 322.5 84.1C322.3 83.7 322.2 82.7 322.4 82.2Z" fill="#f2f2f2"/>
</g>
<g stroke="#333" stroke-opacity="0.5" stroke-width="0.35" filter="url(#fb3)">
<ellipse cx="328.6" cy="79.5" rx="6.00" ry="7.00" fill="#b0b0b0"/>
<ellipse cx="328.6" cy="79.5" rx="4.72" ry="5.51" fill="#c2c2c2"/>
<ellipse cx="328.6" cy="79.5" rx="3.45" ry="4.02" fill="#d4d4d4"/>
<ellipse cx="328.6" cy="79.5" rx="2.18" ry="2.54" fill="#e6e6e6"/>
<ellipse cx="328.6" cy="79.5" rx="0.90" ry="1.05" fill="#f8f8f8"/>
</g>
<path d="M316.5 107.9h.6M297.3 104.4h.6M298.6 111.1h.6M297.2 102.7h.6M297.5 81.0h.6M303.6 73.8h.6M316.5 107.4h.6M297.9 109.5h.6M308.5 73.9h.6M316.6 78.8h.6M298.8 111.0h.6M296.9 107.8h.6M317.0 94.0h.6M311.4 73.8h.6M297.7 103.1h.6M309.5 114.7h.6M297.0 85.9h.6M305.7 115.7h.6M308.9 72.4h.6M317.4 83.1h.6M296.1 82.8h.6M317.8 106.2h.6M315.1 76.4h.6M304.4 73.1h.6M315.6 77.4h.6M304.9 74.0h.6M311.1 114.2h.6M297.9 93.3h.6M313.1 75.0h.6M297.1 82.6h.6M297.7 106.8h.6M298.1 94.4h.6M297.0 84.3h.6M309.9 72.7h.6M304.1 73.8h.6M297.6 90.3h.6M297.8 101.6h.6M304.9 72.9h.6M312.7 73.8h.6M316.9 87.3h.6M317.0 80.5h.6M317.4 97.1h.6M312.9 113.0h.6M314.8 76.2h.6M303.3 115.3h.6M299.1 112.3h.6M317.5 99.1h.6M298.3 88.9h.6M313.1 74.7h.6M315.6 75.9h.6M315.6 73.5h.6M302.6 74.6h.6M297.5 88.7h.6M318.5 91.3h.6M316.9 100.9h.6M317.6 88.1h.6M313.4 74.8h.6M296.4 90.6h.6M307.8 115.4h.6M304.5 114.4h.6M297.8 101.8h.6M316.8 88.6h.6M296.7 90.5h.6M318.0 102.9h.6M313.5 113.2h.6M316.9 85.9h.6M297.8 87.6h.6M316.0 76.1h.6M316.9 79.2h.6M297.2 99.9h.6M303.1 72.9h.6M317.3 97.5h.6M311.3 114.7h.6M316.5 83.4h.6M312.2 75.3h.6M316.9 93.7h.6M297.4 98.7h.6M316.4 108.1h.6M316.6 92.7h.6M299.3 110.8h.6M297.5 87.3h.6M296.2 90.9h.6M297.6 110.6h.6M297.5 91.6h.6M297.0 93.9h.6M315.7 111.3h.6M317.1 94.7h.6M296.9 105.9h.6M297.3 108.9h.6M296.9 96.8h.6M316.9 100.1h.6M297.4 96.0h.6M296.8 80.3h.6M297.5 86.2h.6M297.4 102.6h.6M318.2 82.2h.6M316.6 106.1h.6M297.8 79.2h.6M298.1 111.5h.6M316.5 82.1h.6M316.9 82.6h.6M317.9 98.1h.6M297.7 78.7h.6M317.3 106.3h.6M317.0 82.5h.6M296.7 106.7h.6M297.4 97.1h.6M316.8 89.4h.6M316.6 109.8h.6M297.1 104.8h.6M298.0 103.4h.6M309.0 115.3h.6M297.1 107.3h.6M316.8 86.4h.6M316.8 100.0h.6M297.0 98.3h.6M316.2 109.7h.6M301.7 114.1h.6M306.0 72.4h.6M297.3 89.9h.6M296.4 90.2h.6M309.3 114.7h.6M316.6 81.8h.6M317.0 82.5h.6M296.7 80.0h.6M313.5 113.3h.6M308.4 73.8h.6M314.8 112.2h.6M297.6 86.2h.6M298.1 84.7h.6M296.9 81.2h.6M307.4 116.4h.6M317.1 92.6h.6M316.5 98.0h.6M315.9 110.7h.6M316.9 84.8h.6M314.5 76.3h.6M310.2 115.5h.6M297.3 85.5h.6M297.2 91.3h.6M315.6 110.3h.6M297.5 103.4h.6M297.1 103.8h.6M295.7 98.5h.6M318.1 90.0h.6M312.9 74.1h.6M298.3 76.8h.6M312.7 75.1h.6M303.4 114.3h.6M315.4 112.5h.6M296.7 106.7h.6M313.3 75.2h.6M313.5 113.2h.6M316.4 85.3h.6M298.6 110.3h.6M317.1 102.8h.6M302.3 73.8h.6M296.8 97.9h.6M296.0 102.4h.6M313.1 75.1h.6M299.6 111.9h.6M297.7 105.0h.6M307.1 115.9h.6M305.6 72.7h.6M316.9 84.4h.6M316.9 111.5h.6M316.5 111.0h.6M312.5 74.8h.6M317.4 95.9h.6M317.9 100.8h.6M300.0 75.3h.6M299.2 75.3h.6M316.7 99.7h.6M302.3 113.3h.6M306.5 71.9h.6M300.0 75.8h.6M296.4 88.2h.6M316.4 90.1h.6M297.5 89.3h.6M302.5 74.0h.6M297.6 84.0h.6M296.5 103.2h.6M311.1 114.6h.6M315.8 109.0h.6M316.8 81.4h.6M299.3 75.8h.6M297.6 79.7h.6M297.5 101.5h.6M313.6 112.8h.6M316.6 106.1h.6M302.8 115.8h.6M316.8 90.7h.6M317.9 99.1h.6M297.1 97.7h.6M297.7 107.5h.6M301.1 114.5h.6M296.7 100.4h.6M313.6 75.1h.6M313.1 114.1h.6M311.5 114.8h.6M297.6 78.7h.6M308.6 72.7h.6M310.5 73.3h.6M303.2 74.1h.6M299.7 113.3h.6M300.7 74.9h.6M313.1 73.9h.6M301.4 113.6h.6M309.2 115.4h.6M297.4 79.0h.6M317.3 103.7h.6M297.3 100.3h.6M299.4 112.5h.6M297.6 107.1h.6M316.5 110.0h.6M317.3 80.0h.6M307.3 72.6h.6M312.5 115.1h.6M297.1 92.2h.6M296.7 87.2h.6" fill="none" stroke="#333" stroke-opacity="0.5" stroke-width="0.6"/>
<g stroke="#000" stroke-opacity="0.3" stroke-width="0.35" filter="url(#fb5)">
<rect x="297.8" y="73.8" width="18.8" height="40.7" rx="8.3" fill="#8a8a8a"/>
<rect x="298.9" y="75.0" width="16.7" height="38.4" rx="7.4" fill="#686868"/>
<rect x="299.9" y="76.1" width="14.5" height="36.0" rx="6.5" fill="#4f4f4f"/>
<rect x="301.0" y="77.3" width="12.4" height="33.7" rx="5.6" fill="#3d3d3d"/>
<rect x="302.1" y="78.5" width="10.2" height="31.4" rx="4.6" fill="#454545"/>
<rect x="303.2" y="79.6" width="8.1" height="29.1" rx="3.7" fill="#515151"/>
<rect x="304.2" y="80.8" width="5.9" height="26.7" rx="2.8" fill="#5e5e5e"/>
<rect x="305.3" y="81.9" width="3.8" height="24.4" rx="1.9" fill="#6a6a6a"/>
</g>
<ellipse cx="307.9" cy="88.5" rx="3.3" ry="8.2" fill="none" stroke="#080808" stroke-width="1.9" opacity="0.95" filter="url(#fb5)"/>
<line x1="307.8" y1="81" x2="307.8" y2="110" stroke="#f4f4f4" stroke-width="1.0" opacity="0.85"/>
</g>
<line x1="288.80" y1="32.30" x2="288.80" y2="117.30" stroke="#888" stroke-width="0.9"/>
<line x1="288.80" y1="117.30" x2="373.00" y2="117.30" stroke="#888" stroke-width="0.9"/>
<line x1="286.80" y1="38.60" x2="288.80" y2="38.60" stroke="#555" stroke-width="0.8"/>
<text x="283.80" y="41.30" font-size="7.7" text-anchor="end" fill="#111" stroke="#111" stroke-width="0.2">10<tspan font-size="4.77" dy="-2.93">5</tspan></text>
<line x1="286.80" y1="54.30" x2="288.80" y2="54.30" stroke="#555" stroke-width="0.8"/>
<text x="283.80" y="57.00" font-size="7.7" text-anchor="end" fill="#111" stroke="#111" stroke-width="0.2">10<tspan font-size="4.77" dy="-2.93">4</tspan></text>
<line x1="286.80" y1="70.00" x2="288.80" y2="70.00" stroke="#555" stroke-width="0.8"/>
<text x="283.80" y="72.70" font-size="7.7" text-anchor="end" fill="#111" stroke="#111" stroke-width="0.2">10<tspan font-size="4.77" dy="-2.93">3</tspan></text>
<line x1="286.80" y1="85.80" x2="288.80" y2="85.80" stroke="#555" stroke-width="0.8"/>
<text x="283.80" y="88.50" font-size="7.7" text-anchor="end" fill="#111" stroke="#111" stroke-width="0.2">10<tspan font-size="4.77" dy="-2.93">2</tspan></text>
<line x1="286.80" y1="96.90" x2="288.80" y2="96.90" stroke="#555" stroke-width="0.8"/>
<text x="283.80" y="99.60" font-size="7.7" text-anchor="end" fill="#111" stroke="#111" stroke-width="0.2">0</text>
<line x1="286.80" y1="107.80" x2="288.80" y2="107.80" stroke="#555" stroke-width="0.8"/>
<text x="283.80" y="110.50" font-size="7.7" text-anchor="end" fill="#111" stroke="#111" stroke-width="0.2">-10<tspan font-size="4.77" dy="-2.93">2</tspan></text>
<line x1="287.80" y1="39.30" x2="288.80" y2="39.30" stroke="#999" stroke-width="0.6"/>
<line x1="287.80" y1="44.30" x2="288.80" y2="44.30" stroke="#999" stroke-width="0.6"/>
<line x1="287.80" y1="49.30" x2="288.80" y2="49.30" stroke="#999" stroke-width="0.6"/>
<line x1="287.80" y1="54.30" x2="288.80" y2="54.30" stroke="#999" stroke-width="0.6"/>
<line x1="287.80" y1="59.30" x2="288.80" y2="59.30" stroke="#999" stroke-width="0.6"/>
<line x1="287.80" y1="64.30" x2="288.80" y2="64.30" stroke="#999" stroke-width="0.6"/>
<line x1="287.80" y1="69.30" x2="288.80" y2="69.30" stroke="#999" stroke-width="0.6"/>
<line x1="287.80" y1="74.30" x2="288.80" y2="74.30" stroke="#999" stroke-width="0.6"/>
<line x1="287.80" y1="79.30" x2="288.80" y2="79.30" stroke="#999" stroke-width="0.6"/>
<line x1="287.80" y1="84.30" x2="288.80" y2="84.30" stroke="#999" stroke-width="0.6"/>
<line x1="287.80" y1="89.30" x2="288.80" y2="89.30" stroke="#999" stroke-width="0.6"/>
<line x1="287.80" y1="94.30" x2="288.80" y2="94.30" stroke="#999" stroke-width="0.6"/>
<line x1="287.80" y1="99.30" x2="288.80" y2="99.30" stroke="#999" stroke-width="0.6"/>
<line x1="287.80" y1="104.30" x2="288.80" y2="104.30" stroke="#999" stroke-width="0.6"/>
<line x1="287.80" y1="109.30" x2="288.80" y2="109.30" stroke="#999" stroke-width="0.6"/>
<path d="M297.7 117.3v1.3M300.9 117.3v1.3M304.1 117.3v1.3M312.8 117.3v1.3M316.1 117.3v1.3M318.4 117.3v1.3M320.2 117.3v1.3M321.6 117.3v1.3M322.8 117.3v1.3M323.9 117.3v1.3M324.9 117.3v1.3M331.4 117.3v1.3M334.8 117.3v1.3M337.2 117.3v1.3M339.1 117.3v1.3M340.6 117.3v1.3M341.8 117.3v1.3M342.9 117.3v1.3M343.9 117.3v1.3M350.5 117.3v1.3M353.8 117.3v1.3M356.2 117.3v1.3M358.0 117.3v1.3M359.5 117.3v1.3M360.8 117.3v1.3M361.9 117.3v1.3M362.8 117.3v1.3" stroke="#666" stroke-width="0.5" fill="none"/>
<rect x="287.20" y="95.70" width="1.6" height="2.4" fill="#000"/>
<line x1="294.50" y1="117.30" x2="294.50" y2="119.10" stroke="#555" stroke-width="0.8"/>
<text x="294.50" y="129.60" font-size="7.7" text-anchor="middle" fill="#111" stroke="#111" stroke-width="0.2">0</text>
<line x1="307.30" y1="117.30" x2="307.30" y2="119.10" stroke="#555" stroke-width="0.8"/>
<text x="307.30" y="129.60" font-size="7.7" text-anchor="middle" fill="#111" stroke="#111" stroke-width="0.2">10<tspan font-size="4.77" dy="-2.93">2</tspan></text>
<line x1="325.70" y1="117.30" x2="325.70" y2="119.10" stroke="#555" stroke-width="0.8"/>
<text x="325.70" y="129.60" font-size="7.7" text-anchor="middle" fill="#111" stroke="#111" stroke-width="0.2">10<tspan font-size="4.77" dy="-2.93">3</tspan></text>
<line x1="344.80" y1="117.30" x2="344.80" y2="119.10" stroke="#555" stroke-width="0.8"/>
<text x="344.80" y="129.60" font-size="7.7" text-anchor="middle" fill="#111" stroke="#111" stroke-width="0.2">10<tspan font-size="4.77" dy="-2.93">4</tspan></text>
<line x1="363.70" y1="117.30" x2="363.70" y2="119.10" stroke="#555" stroke-width="0.8"/>
<text x="363.70" y="129.60" font-size="7.7" text-anchor="middle" fill="#111" stroke="#111" stroke-width="0.2">10<tspan font-size="4.77" dy="-2.93">5</tspan></text>
<rect x="292.50" y="117.00" width="4" height="1.6" fill="#000"/>
<g transform="translate(329.70,143.00) scale(0.545,1)"><text x="0" y="0" font-size="11.0" text-anchor="middle" font-weight="normal" font-style="normal" fill="#111"  stroke="#111" stroke-width="0.35">CD45Ra</text></g>
<rect x="290.20" y="92.20" width="31.50" height="22.80" fill="none" stroke="#ee7623" stroke-width="1.6"/>
<text x="336.20" y="110.30" font-size="13.2" font-weight="normal" fill="#ee7623" stroke="#ee7623" stroke-width="0.3">43%</text>
<rect x="288.80" y="151.30" width="84.20" height="85.00" fill="#fff" stroke="#c4c4c4" stroke-width="0.9"/>
<g clip-path="url(#cE1)">
<g stroke="#333" stroke-opacity="0.5" stroke-width="0.35" filter="url(#fb3)">
<path d="M319.0 210.0C322.3 207.5 333.2 205.0 336.0 207.0C338.8 209.0 336.5 217.7 335.5 222.0C334.5 226.3 332.6 231.1 330.0 233.0C327.4 234.9 322.3 235.3 320.0 233.5C317.7 231.7 316.2 225.9 316.0 222.0C315.8 218.1 315.7 212.5 319.0 210.0Z" fill="#b0b0b0"/>
<path d="M320.2 211.9C323.0 209.8 332.0 207.8 334.3 209.4C336.6 211.1 334.7 218.3 333.9 221.9C333.1 225.5 331.5 229.4 329.3 231.0C327.2 232.6 323.0 232.9 321.0 231.4C319.1 229.9 317.9 225.1 317.7 221.9C317.6 218.6 317.4 214.0 320.2 211.9Z" fill="#bdbdbd"/>
<path d="M321.4 213.8C323.6 212.2 330.8 210.5 332.6 211.8C334.4 213.2 333.0 218.9 332.3 221.7C331.6 224.6 330.4 227.7 328.7 229.0C327.0 230.3 323.6 230.5 322.1 229.3C320.5 228.1 319.5 224.3 319.4 221.7C319.3 219.2 319.2 215.5 321.4 213.8Z" fill="#cacaca"/>
<path d="M322.6 215.7C324.2 214.5 329.6 213.3 330.9 214.3C332.3 215.2 331.2 219.5 330.7 221.6C330.2 223.7 329.3 226.1 328.0 227.0C326.7 227.9 324.2 228.2 323.1 227.3C322.0 226.4 321.2 223.5 321.1 221.6C321.1 219.7 321.0 217.0 322.6 215.7Z" fill="#d8d8d8"/>
<path d="M323.8 217.7C324.9 216.8 328.4 216.1 329.3 216.7C330.1 217.3 329.4 220.1 329.1 221.5C328.8 222.9 328.2 224.4 327.3 225.0C326.5 225.6 324.9 225.8 324.1 225.2C323.4 224.6 322.9 222.7 322.9 221.5C322.8 220.2 322.8 218.5 323.8 217.7Z" fill="#e5e5e5"/>
<path d="M325.0 219.6C325.5 219.2 327.2 218.8 327.6 219.1C328.0 219.4 327.6 220.7 327.5 221.4C327.3 222.0 327.1 222.7 326.7 223.0C326.3 223.3 325.5 223.4 325.2 223.1C324.8 222.8 324.6 222.0 324.6 221.4C324.5 220.8 324.5 219.9 325.0 219.6Z" fill="#f2f2f2"/>
</g>
<g stroke="#000" stroke-opacity="0.3" stroke-width="0.35" filter="url(#fb5)">
<path d="M300.0 199.0C301.2 196.5 306.3 194.8 310.0 194.0C313.7 193.2 318.7 194.6 322.0 194.5C325.3 194.4 327.6 193.1 330.0 193.5C332.4 193.9 335.3 194.8 336.5 197.0C337.7 199.2 338.1 204.5 337.0 207.0C335.9 209.5 332.8 211.8 330.0 212.0C327.2 212.2 323.0 208.2 320.0 208.0C317.0 207.8 314.8 210.8 312.0 211.0C309.2 211.2 305.0 211.0 303.0 209.0C301.0 207.0 298.8 201.5 300.0 199.0Z" fill="#444444"/>
<path d="M308.5 200.5C309.2 199.1 312.2 198.0 314.3 197.6C316.4 197.2 319.3 197.9 321.2 197.9C323.1 197.9 324.4 197.1 325.8 197.3C327.2 197.6 328.8 198.0 329.5 199.3C330.2 200.6 330.4 203.7 329.8 205.1C329.2 206.5 327.4 207.9 325.8 208.0C324.1 208.1 321.7 205.8 320.0 205.7C318.3 205.6 317.1 207.3 315.4 207.4C313.8 207.5 311.4 207.4 310.2 206.2C309.1 205.1 307.9 201.9 308.5 200.5Z" fill="#4c4c4c"/>
<path d="M317.0 202.0C317.2 201.6 318.0 201.3 318.5 201.2C319.1 201.1 319.8 201.3 320.3 201.3C320.8 201.3 321.2 201.1 321.5 201.2C321.9 201.2 322.3 201.3 322.5 201.7C322.7 202.0 322.8 202.8 322.6 203.2C322.4 203.6 322.0 203.9 321.5 203.9C321.1 204.0 320.5 203.3 320.0 203.3C319.6 203.3 319.3 203.8 318.8 203.8C318.4 203.8 317.8 203.8 317.5 203.5C317.2 203.2 316.9 202.3 317.0 202.0Z" fill="#555555"/>
</g>
<g stroke="#000" stroke-opacity="0.3" stroke-width="0.35" filter="url(#fb5)">
<ellipse cx="329.0" cy="203.5" rx="6.60" ry="8.80" fill="#333333"/>
<ellipse cx="329.0" cy="203.5" rx="5.48" ry="7.30" fill="#1c1c1c"/>
<ellipse cx="329.0" cy="203.5" rx="4.36" ry="5.81" fill="#282828"/>
<ellipse cx="329.0" cy="203.5" rx="3.23" ry="4.31" fill="#555555"/>
<ellipse cx="329.0" cy="203.5" rx="2.11" ry="2.82" fill="#828282"/>
<ellipse cx="329.0" cy="203.5" rx="0.99" ry="1.32" fill="#b0b0b0"/>
</g>
<path d="M299.3 229.3h.6M303.5 233.2h.6M320.1 221.0h.6M319.8 203.4h.6M300.4 231.1h.6M299.4 230.1h.6M319.0 203.8h.6M316.4 195.6h.6M312.6 232.7h.6M312.2 193.8h.6M319.1 225.4h.6M309.1 194.5h.6M302.7 194.6h.6M305.3 194.6h.6M318.3 230.0h.6M309.7 192.9h.6M319.8 225.6h.6M299.9 200.6h.6M319.2 213.3h.6M319.6 217.8h.6M299.3 220.3h.6M320.2 218.5h.6M299.2 224.6h.6M318.6 198.0h.6M319.9 212.8h.6M309.8 193.7h.6M315.4 232.8h.6M307.6 194.1h.6M299.4 226.6h.6M314.2 233.5h.6M319.3 201.5h.6M319.1 197.5h.6M298.5 207.2h.6M299.0 207.3h.6M307.6 194.4h.6M317.0 230.9h.6M317.5 193.9h.6M311.9 193.4h.6M303.7 232.5h.6M319.6 212.8h.6M307.3 193.6h.6M302.8 232.8h.6M298.9 200.8h.6M298.0 214.1h.6M317.0 231.4h.6M314.8 232.1h.6M319.4 225.4h.6M308.5 193.8h.6M317.3 196.1h.6M320.7 215.3h.6M313.9 232.4h.6M300.6 198.1h.6M299.7 208.2h.6M305.8 232.4h.6M299.3 225.3h.6M298.3 202.6h.6M315.4 231.7h.6M319.7 208.8h.6M299.3 209.6h.6M319.6 204.1h.6M321.1 220.6h.6M302.0 231.3h.6M317.4 233.8h.6M299.6 214.7h.6M320.1 219.7h.6M299.5 207.4h.6M319.2 203.4h.6M319.4 200.7h.6M298.3 217.7h.6M303.9 193.1h.6M299.6 217.9h.6M299.7 211.8h.6M317.7 229.8h.6M319.6 217.3h.6M307.0 233.6h.6M299.9 197.4h.6M319.7 200.7h.6M306.3 193.5h.6M301.2 230.7h.6M317.0 195.8h.6M317.6 230.4h.6M319.8 212.6h.6M315.4 194.9h.6M319.3 228.4h.6M318.6 211.4h.6M302.3 232.5h.6M298.2 203.7h.6M299.8 207.4h.6M308.6 233.0h.6M305.7 232.4h.6M315.7 195.6h.6M306.9 233.5h.6M304.4 233.0h.6M299.4 221.7h.6M314.1 194.5h.6M318.0 198.5h.6M308.3 193.3h.6M301.1 195.1h.6M319.8 215.3h.6M319.4 201.8h.6M319.6 223.5h.6M299.0 204.6h.6M298.8 218.2h.6M319.9 210.8h.6M299.1 207.1h.6M299.0 222.9h.6M299.0 205.9h.6M314.7 232.4h.6M313.1 233.2h.6M298.8 206.6h.6M299.7 229.8h.6M312.6 194.6h.6M317.1 231.4h.6M319.6 195.8h.6M298.4 209.0h.6M318.6 229.5h.6M316.6 195.4h.6M301.3 232.7h.6M299.1 208.5h.6M300.5 229.9h.6M315.4 232.7h.6M320.4 220.5h.6M317.3 195.9h.6M299.7 197.4h.6M320.8 212.0h.6M299.7 227.1h.6M307.0 235.1h.6M319.8 224.5h.6M316.0 232.2h.6M298.4 202.8h.6M299.4 219.4h.6M298.7 228.5h.6M299.1 204.2h.6M298.4 205.5h.6M299.5 222.6h.6M317.3 197.3h.6M314.2 194.7h.6M296.9 226.1h.6M320.3 209.2h.6M299.0 212.1h.6M316.4 231.8h.6M303.8 194.1h.6M319.5 221.7h.6M318.7 203.9h.6M320.2 197.4h.6M320.6 210.7h.6M311.1 193.2h.6M319.2 218.4h.6M299.4 201.7h.6M320.6 205.6h.6M299.0 211.1h.6M309.6 194.2h.6M318.3 198.7h.6M319.5 202.1h.6M303.3 233.1h.6M307.1 233.4h.6M298.8 207.1h.6M299.0 212.9h.6M316.3 195.5h.6M319.4 211.7h.6M320.5 201.9h.6M320.2 200.0h.6M300.1 228.9h.6M299.4 216.3h.6M320.8 201.5h.6M319.3 209.9h.6M319.3 220.3h.6M319.7 221.9h.6M319.0 205.1h.6M319.8 211.6h.6M299.5 205.4h.6M300.3 229.4h.6M318.4 217.4h.6M299.0 199.3h.6M318.1 227.9h.6M318.5 198.3h.6M299.1 203.4h.6M319.3 210.2h.6M309.9 235.0h.6M298.8 222.2h.6M308.7 233.2h.6M313.3 193.4h.6M319.5 201.0h.6M319.4 221.9h.6M312.5 194.0h.6M319.3 221.7h.6M319.3 202.8h.6M299.2 220.0h.6M300.2 197.5h.6M319.9 224.6h.6M319.1 209.6h.6M313.9 194.6h.6M299.4 217.9h.6M306.8 233.6h.6M299.0 200.9h.6M319.5 222.2h.6M300.9 233.0h.6M299.4 207.5h.6M320.0 226.7h.6M319.9 202.4h.6M299.8 203.0h.6M308.8 234.1h.6M299.4 201.6h.6M320.5 219.3h.6M315.9 195.5h.6M320.6 208.2h.6M298.7 209.7h.6M312.2 232.7h.6M315.4 231.5h.6M316.2 231.8h.6M317.8 196.8h.6M305.5 194.5h.6M298.6 203.3h.6M315.2 232.0h.6M320.4 219.4h.6M319.4 216.7h.6M299.5 204.3h.6M299.3 204.9h.6M318.7 227.5h.6M310.3 232.9h.6" fill="none" stroke="#333" stroke-opacity="0.5" stroke-width="0.6"/>
<g stroke="#000" stroke-opacity="0.3" stroke-width="0.35" filter="url(#fb5)">
<rect x="299.5" y="194.5" width="19.5" height="38.3" rx="7.3" fill="#777777"/>
<rect x="300.5" y="195.6" width="17.5" height="36.1" rx="6.6" fill="#575757"/>
<rect x="301.4" y="196.7" width="15.6" height="34.0" rx="5.9" fill="#3f3f3f"/>
<rect x="302.4" y="197.7" width="13.6" height="31.8" rx="5.2" fill="#323232"/>
<rect x="303.4" y="198.8" width="11.7" height="29.7" rx="4.5" fill="#333333"/>
<rect x="304.4" y="199.9" width="9.8" height="27.5" rx="3.8" fill="#494949"/>
<rect x="305.4" y="201.0" width="7.8" height="25.4" rx="3.1" fill="#5e5e5e"/>
<rect x="306.3" y="202.0" width="5.9" height="23.2" rx="2.4" fill="#747474"/>
<rect x="307.3" y="203.1" width="3.9" height="21.1" rx="1.7" fill="#8a8a8a"/>
</g>
<ellipse cx="310" cy="205" rx="3.2" ry="6.5" fill="none" stroke="#000" stroke-width="1.7" opacity="0.9" filter="url(#fb5)"/>
<line x1="310" y1="200" x2="310" y2="228" stroke="#fff" stroke-width="0.9" opacity="0.8"/>
</g>
<line x1="288.80" y1="151.30" x2="288.80" y2="236.30" stroke="#888" stroke-width="0.9"/>
<line x1="288.80" y1="236.30" x2="373.00" y2="236.30" stroke="#888" stroke-width="0.9"/>
<line x1="286.80" y1="157.60" x2="288.80" y2="157.60" stroke="#555" stroke-width="0.8"/>
<text x="283.80" y="160.30" font-size="7.7" text-anchor="end" fill="#111" stroke="#111" stroke-width="0.2">10<tspan font-size="4.77" dy="-2.93">5</tspan></text>
<line x1="286.80" y1="173.30" x2="288.80" y2="173.30" stroke="#555" stroke-width="0.8"/>
<text x="283.80" y="176.00" font-size="7.7" text-anchor="end" fill="#111" stroke="#111" stroke-width="0.2">10<tspan font-size="4.77" dy="-2.93">4</tspan></text>
<line x1="286.80" y1="189.00" x2="288.80" y2="189.00" stroke="#555" stroke-width="0.8"/>
<text x="283.80" y="191.70" font-size="7.7" text-anchor="end" fill="#111" stroke="#111" stroke-width="0.2">10<tspan font-size="4.77" dy="-2.93">3</tspan></text>
<line x1="286.80" y1="204.80" x2="288.80" y2="204.80" stroke="#555" stroke-width="0.8"/>
<text x="283.80" y="207.50" font-size="7.7" text-anchor="end" fill="#111" stroke="#111" stroke-width="0.2">10<tspan font-size="4.77" dy="-2.93">2</tspan></text>
<line x1="286.80" y1="215.90" x2="288.80" y2="215.90" stroke="#555" stroke-width="0.8"/>
<text x="283.80" y="218.60" font-size="7.7" text-anchor="end" fill="#111" stroke="#111" stroke-width="0.2">0</text>
<line x1="286.80" y1="226.80" x2="288.80" y2="226.80" stroke="#555" stroke-width="0.8"/>
<text x="283.80" y="229.50" font-size="7.7" text-anchor="end" fill="#111" stroke="#111" stroke-width="0.2">-10<tspan font-size="4.77" dy="-2.93">2</tspan></text>
<line x1="287.80" y1="158.30" x2="288.80" y2="158.30" stroke="#999" stroke-width="0.6"/>
<line x1="287.80" y1="163.30" x2="288.80" y2="163.30" stroke="#999" stroke-width="0.6"/>
<line x1="287.80" y1="168.30" x2="288.80" y2="168.30" stroke="#999" stroke-width="0.6"/>
<line x1="287.80" y1="173.30" x2="288.80" y2="173.30" stroke="#999" stroke-width="0.6"/>
<line x1="287.80" y1="178.30" x2="288.80" y2="178.30" stroke="#999" stroke-width="0.6"/>
<line x1="287.80" y1="183.30" x2="288.80" y2="183.30" stroke="#999" stroke-width="0.6"/>
<line x1="287.80" y1="188.30" x2="288.80" y2="188.30" stroke="#999" stroke-width="0.6"/>
<line x1="287.80" y1="193.30" x2="288.80" y2="193.30" stroke="#999" stroke-width="0.6"/>
<line x1="287.80" y1="198.30" x2="288.80" y2="198.30" stroke="#999" stroke-width="0.6"/>
<line x1="287.80" y1="203.30" x2="288.80" y2="203.30" stroke="#999" stroke-width="0.6"/>
<line x1="287.80" y1="208.30" x2="288.80" y2="208.30" stroke="#999" stroke-width="0.6"/>
<line x1="287.80" y1="213.30" x2="288.80" y2="213.30" stroke="#999" stroke-width="0.6"/>
<line x1="287.80" y1="218.30" x2="288.80" y2="218.30" stroke="#999" stroke-width="0.6"/>
<line x1="287.80" y1="223.30" x2="288.80" y2="223.30" stroke="#999" stroke-width="0.6"/>
<line x1="287.80" y1="228.30" x2="288.80" y2="228.30" stroke="#999" stroke-width="0.6"/>
<path d="M297.7 236.3v1.3M300.9 236.3v1.3M304.1 236.3v1.3M312.8 236.3v1.3M316.1 236.3v1.3M318.4 236.3v1.3M320.2 236.3v1.3M321.6 236.3v1.3M322.8 236.3v1.3M323.9 236.3v1.3M324.9 236.3v1.3M331.4 236.3v1.3M334.8 236.3v1.3M337.2 236.3v1.3M339.1 236.3v1.3M340.6 236.3v1.3M341.8 236.3v1.3M342.9 236.3v1.3M343.9 236.3v1.3M350.5 236.3v1.3M353.8 236.3v1.3M356.2 236.3v1.3M358.0 236.3v1.3M359.5 236.3v1.3M360.8 236.3v1.3M361.9 236.3v1.3M362.8 236.3v1.3" stroke="#666" stroke-width="0.5" fill="none"/>
<rect x="287.20" y="214.70" width="1.6" height="2.4" fill="#000"/>
<line x1="294.50" y1="236.30" x2="294.50" y2="238.10" stroke="#555" stroke-width="0.8"/>
<text x="294.50" y="248.60" font-size="7.7" text-anchor="middle" fill="#111" stroke="#111" stroke-width="0.2">0</text>
<line x1="307.30" y1="236.30" x2="307.30" y2="238.10" stroke="#555" stroke-width="0.8"/>
<text x="307.30" y="248.60" font-size="7.7" text-anchor="middle" fill="#111" stroke="#111" stroke-width="0.2">10<tspan font-size="4.77" dy="-2.93">2</tspan></text>
<line x1="325.70" y1="236.30" x2="325.70" y2="238.10" stroke="#555" stroke-width="0.8"/>
<text x="325.70" y="248.60" font-size="7.7" text-anchor="middle" fill="#111" stroke="#111" stroke-width="0.2">10<tspan font-size="4.77" dy="-2.93">3</tspan></text>
<line x1="344.80" y1="236.30" x2="344.80" y2="238.10" stroke="#555" stroke-width="0.8"/>
<text x="344.80" y="248.60" font-size="7.7" text-anchor="middle" fill="#111" stroke="#111" stroke-width="0.2">10<tspan font-size="4.77" dy="-2.93">4</tspan></text>
<line x1="363.70" y1="236.30" x2="363.70" y2="238.10" stroke="#555" stroke-width="0.8"/>
<text x="363.70" y="248.60" font-size="7.7" text-anchor="middle" fill="#111" stroke="#111" stroke-width="0.2">10<tspan font-size="4.77" dy="-2.93">5</tspan></text>
<rect x="292.50" y="236.00" width="4" height="1.6" fill="#000"/>
<g transform="translate(329.70,262.00) scale(0.545,1)"><text x="0" y="0" font-size="11.0" text-anchor="middle" font-weight="normal" font-style="normal" fill="#111"  stroke="#111" stroke-width="0.35">CD45Ra</text></g>
<rect x="291.30" y="212.70" width="31.20" height="22.10" fill="none" stroke="#ee7623" stroke-width="1.6"/>
<text x="346.60" y="228.30" font-size="13.2" font-weight="bold" fill="#ee7623">25%</text>
<rect x="288.80" y="270.50" width="84.20" height="85.00" fill="#fff" stroke="#c4c4c4" stroke-width="0.9"/>
<g clip-path="url(#cE2)">
<g stroke="#333" stroke-opacity="0.5" stroke-width="0.35" filter="url(#fb3)">
<path d="M322.0 328.0C325.3 326.0 334.0 324.0 336.0 326.0C338.0 328.0 335.3 336.0 334.0 340.0C332.7 344.0 330.7 348.2 328.0 350.0C325.3 351.8 320.0 352.5 318.0 350.5C316.0 348.5 315.3 341.8 316.0 338.0C316.7 334.2 318.7 330.0 322.0 328.0Z" fill="#aaaaaa"/>
<path d="M322.6 329.8C325.4 328.2 332.6 326.5 334.2 328.2C335.9 329.8 333.7 336.5 332.6 339.8C331.5 343.1 329.8 346.6 327.6 348.1C325.4 349.5 321.0 350.2 319.3 348.5C317.6 346.8 317.1 341.2 317.6 338.1C318.2 335.0 319.9 331.5 322.6 329.8Z" fill="#b8b8b8"/>
<path d="M323.2 331.7C325.4 330.3 331.2 329.0 332.5 330.3C333.8 331.7 332.0 336.9 331.2 339.6C330.3 342.2 329.0 345.0 327.2 346.2C325.4 347.3 321.9 347.8 320.6 346.5C319.3 345.2 318.8 340.7 319.3 338.3C319.7 335.8 321.0 333.0 323.2 331.7Z" fill="#c7c7c7"/>
<path d="M323.9 333.5C325.5 332.5 329.8 331.5 330.7 332.5C331.7 333.5 330.4 337.4 329.8 339.4C329.1 341.3 328.1 343.4 326.8 344.3C325.5 345.1 322.9 345.5 321.9 344.5C320.9 343.5 320.6 340.2 320.9 338.4C321.3 336.5 322.2 334.5 323.9 333.5Z" fill="#d5d5d5"/>
<path d="M324.5 335.3C325.6 334.7 328.3 334.0 329.0 334.7C329.6 335.3 328.8 337.9 328.3 339.1C327.9 340.4 327.3 341.8 326.4 342.4C325.6 342.9 323.9 343.1 323.2 342.5C322.6 341.9 322.4 339.7 322.6 338.5C322.8 337.3 323.4 335.9 324.5 335.3Z" fill="#e4e4e4"/>
<path d="M325.1 337.1C325.6 336.8 326.9 336.5 327.2 336.8C327.5 337.1 327.1 338.3 326.9 338.9C326.7 339.5 326.4 340.2 326.0 340.4C325.6 340.7 324.8 340.8 324.5 340.5C324.2 340.2 324.1 339.2 324.2 338.6C324.3 338.1 324.6 337.4 325.1 337.1Z" fill="#f2f2f2"/>
</g>
<g opacity="0.85" filter="url(#fb8)">
<path d="M295.0 318.0C296.5 311.3 301.2 313.1 305.0 312.5C308.8 311.9 314.7 315.3 318.0 314.5C321.3 313.7 322.2 309.2 325.0 307.5C327.8 305.8 332.2 303.8 335.0 304.5C337.8 305.2 340.7 307.8 341.5 312.0C342.3 316.2 341.9 326.3 340.0 330.0C338.1 333.7 333.7 333.0 330.0 334.0C326.3 335.0 320.2 333.0 318.0 336.0C315.8 339.0 320.7 349.2 317.0 352.0C313.3 354.8 299.7 358.2 296.0 352.5C292.3 346.8 293.5 324.7 295.0 318.0Z" fill="#999999"/>
<path d="M305.6 320.9C306.5 317.1 309.2 318.1 311.4 317.8C313.6 317.4 317.0 319.4 318.9 318.9C320.8 318.4 321.3 315.8 322.9 314.9C324.5 313.9 327.1 312.7 328.6 313.2C330.2 313.6 331.9 315.0 332.4 317.5C332.9 319.9 332.6 325.7 331.5 327.8C330.4 329.9 327.9 329.5 325.8 330.1C323.7 330.7 320.1 329.5 318.9 331.3C317.6 333.0 320.4 338.9 318.3 340.5C316.2 342.0 308.3 344.0 306.2 340.8C304.1 337.5 304.8 324.8 305.6 320.9Z" fill="#a0a0a0"/>
<path d="M316.3 323.8C316.5 322.8 317.2 323.1 317.8 323.0C318.4 322.9 319.2 323.4 319.7 323.3C320.2 323.2 320.4 322.5 320.8 322.3C321.2 322.0 321.9 321.7 322.3 321.8C322.7 321.9 323.1 322.3 323.3 322.9C323.4 323.6 323.3 325.1 323.0 325.6C322.8 326.2 322.1 326.1 321.5 326.2C321.0 326.4 320.1 326.1 319.7 326.5C319.4 327.0 320.1 328.5 319.6 328.9C319.0 329.3 317.0 329.9 316.4 329.0C315.9 328.2 316.1 324.8 316.3 323.8Z" fill="#a8a8a8"/>
</g>
<path d="M312.0 318.0C312.7 316.2 317.3 316.5 320.0 316.0C322.7 315.5 326.3 313.8 328.0 315.0C329.7 316.2 330.7 321.0 330.0 323.0C329.3 325.0 326.3 326.3 324.0 327.0C321.7 327.7 318.0 328.5 316.0 327.0C314.0 325.5 311.3 319.8 312.0 318.0Z" fill="#555" opacity="0.9" filter="url(#fb5)"/>
<ellipse cx="319.5" cy="322" rx="2" ry="1.5" fill="#fff" opacity="0.8"/>
<g stroke="#000" stroke-opacity="0.35" stroke-width="0.35" filter="url(#fb3)">
<rect x="298.5" y="316.5" width="18.0" height="33.5" rx="4.8" fill="#555555"/>
<rect x="299.5" y="318.2" width="15.9" height="30.1" rx="4.3" fill="#0f0f0f"/>
<rect x="300.6" y="319.9" width="13.9" height="26.8" rx="3.8" fill="#6e6e6e"/>
<rect x="301.6" y="321.5" width="11.8" height="23.5" rx="3.3" fill="#8e8e8e"/>
<rect x="302.6" y="323.2" width="9.8" height="20.1" rx="2.7" fill="#a7a7a7"/>
<rect x="303.6" y="324.9" width="7.7" height="16.8" rx="2.2" fill="#c1c1c1"/>
<rect x="304.7" y="326.6" width="5.7" height="13.4" rx="1.7" fill="#dadada"/>
<rect x="305.7" y="328.2" width="3.6" height="10.0" rx="1.2" fill="#f4f4f4"/>
</g>
<g stroke="#000" stroke-opacity="0.35" stroke-width="0.35" filter="url(#fb3)">
<ellipse cx="332.0" cy="319.3" rx="7.00" ry="11.50" transform="rotate(8 332.0 319.3)" fill="#333333"/>
<ellipse cx="332.0" cy="319.3" rx="6.15" ry="10.10" transform="rotate(8 332.0 319.3)" fill="#020202"/>
<ellipse cx="332.0" cy="319.3" rx="5.30" ry="8.71" transform="rotate(8 332.0 319.3)" fill="#3a3a3a"/>
<ellipse cx="332.0" cy="319.3" rx="4.45" ry="7.31" transform="rotate(8 332.0 319.3)" fill="#676767"/>
<ellipse cx="332.0" cy="319.3" rx="3.60" ry="5.91" transform="rotate(8 332.0 319.3)" fill="#898989"/>
<ellipse cx="332.0" cy="319.3" rx="2.75" ry="4.52" transform="rotate(8 332.0 319.3)" fill="#ababab"/>
<ellipse cx="332.0" cy="319.3" rx="1.90" ry="3.12" transform="rotate(8 332.0 319.3)" fill="#cccccc"/>
<ellipse cx="332.0" cy="319.3" rx="1.05" ry="1.73" transform="rotate(8 332.0 319.3)" fill="#eeeeee"/>
</g>
</g>
<line x1="288.80" y1="270.50" x2="288.80" y2="355.50" stroke="#888" stroke-width="0.9"/>
<line x1="288.80" y1="355.50" x2="373.00" y2="355.50" stroke="#888" stroke-width="0.9"/>
<line x1="286.80" y1="276.80" x2="288.80" y2="276.80" stroke="#555" stroke-width="0.8"/>
<text x="283.80" y="279.50" font-size="7.7" text-anchor="end" fill="#111" stroke="#111" stroke-width="0.2">10<tspan font-size="4.77" dy="-2.93">5</tspan></text>
<line x1="286.80" y1="292.50" x2="288.80" y2="292.50" stroke="#555" stroke-width="0.8"/>
<text x="283.80" y="295.20" font-size="7.7" text-anchor="end" fill="#111" stroke="#111" stroke-width="0.2">10<tspan font-size="4.77" dy="-2.93">4</tspan></text>
<line x1="286.80" y1="308.20" x2="288.80" y2="308.20" stroke="#555" stroke-width="0.8"/>
<text x="283.80" y="310.90" font-size="7.7" text-anchor="end" fill="#111" stroke="#111" stroke-width="0.2">10<tspan font-size="4.77" dy="-2.93">3</tspan></text>
<line x1="286.80" y1="324.00" x2="288.80" y2="324.00" stroke="#555" stroke-width="0.8"/>
<text x="283.80" y="326.70" font-size="7.7" text-anchor="end" fill="#111" stroke="#111" stroke-width="0.2">10<tspan font-size="4.77" dy="-2.93">2</tspan></text>
<line x1="286.80" y1="335.10" x2="288.80" y2="335.10" stroke="#555" stroke-width="0.8"/>
<text x="283.80" y="337.80" font-size="7.7" text-anchor="end" fill="#111" stroke="#111" stroke-width="0.2">0</text>
<line x1="286.80" y1="346.00" x2="288.80" y2="346.00" stroke="#555" stroke-width="0.8"/>
<text x="283.80" y="348.70" font-size="7.7" text-anchor="end" fill="#111" stroke="#111" stroke-width="0.2">-10<tspan font-size="4.77" dy="-2.93">2</tspan></text>
<line x1="287.80" y1="277.50" x2="288.80" y2="277.50" stroke="#999" stroke-width="0.6"/>
<line x1="287.80" y1="282.50" x2="288.80" y2="282.50" stroke="#999" stroke-width="0.6"/>
<line x1="287.80" y1="287.50" x2="288.80" y2="287.50" stroke="#999" stroke-width="0.6"/>
<line x1="287.80" y1="292.50" x2="288.80" y2="292.50" stroke="#999" stroke-width="0.6"/>
<line x1="287.80" y1="297.50" x2="288.80" y2="297.50" stroke="#999" stroke-width="0.6"/>
<line x1="287.80" y1="302.50" x2="288.80" y2="302.50" stroke="#999" stroke-width="0.6"/>
<line x1="287.80" y1="307.50" x2="288.80" y2="307.50" stroke="#999" stroke-width="0.6"/>
<line x1="287.80" y1="312.50" x2="288.80" y2="312.50" stroke="#999" stroke-width="0.6"/>
<line x1="287.80" y1="317.50" x2="288.80" y2="317.50" stroke="#999" stroke-width="0.6"/>
<line x1="287.80" y1="322.50" x2="288.80" y2="322.50" stroke="#999" stroke-width="0.6"/>
<line x1="287.80" y1="327.50" x2="288.80" y2="327.50" stroke="#999" stroke-width="0.6"/>
<line x1="287.80" y1="332.50" x2="288.80" y2="332.50" stroke="#999" stroke-width="0.6"/>
<line x1="287.80" y1="337.50" x2="288.80" y2="337.50" stroke="#999" stroke-width="0.6"/>
<line x1="287.80" y1="342.50" x2="288.80" y2="342.50" stroke="#999" stroke-width="0.6"/>
<line x1="287.80" y1="347.50" x2="288.80" y2="347.50" stroke="#999" stroke-width="0.6"/>
<path d="M297.7 355.5v1.3M300.9 355.5v1.3M304.1 355.5v1.3M312.8 355.5v1.3M316.1 355.5v1.3M318.4 355.5v1.3M320.2 355.5v1.3M321.6 355.5v1.3M322.8 355.5v1.3M323.9 355.5v1.3M324.9 355.5v1.3M331.4 355.5v1.3M334.8 355.5v1.3M337.2 355.5v1.3M339.1 355.5v1.3M340.6 355.5v1.3M341.8 355.5v1.3M342.9 355.5v1.3M343.9 355.5v1.3M350.5 355.5v1.3M353.8 355.5v1.3M356.2 355.5v1.3M358.0 355.5v1.3M359.5 355.5v1.3M360.8 355.5v1.3M361.9 355.5v1.3M362.8 355.5v1.3" stroke="#666" stroke-width="0.5" fill="none"/>
<rect x="287.20" y="333.90" width="1.6" height="2.4" fill="#000"/>
<line x1="294.50" y1="355.50" x2="294.50" y2="357.30" stroke="#555" stroke-width="0.8"/>
<text x="294.50" y="367.80" font-size="7.7" text-anchor="middle" fill="#111" stroke="#111" stroke-width="0.2">0</text>
<line x1="307.30" y1="355.50" x2="307.30" y2="357.30" stroke="#555" stroke-width="0.8"/>
<text x="307.30" y="367.80" font-size="7.7" text-anchor="middle" fill="#111" stroke="#111" stroke-width="0.2">10<tspan font-size="4.77" dy="-2.93">2</tspan></text>
<line x1="325.70" y1="355.50" x2="325.70" y2="357.30" stroke="#555" stroke-width="0.8"/>
<text x="325.70" y="367.80" font-size="7.7" text-anchor="middle" fill="#111" stroke="#111" stroke-width="0.2">10<tspan font-size="4.77" dy="-2.93">3</tspan></text>
<line x1="344.80" y1="355.50" x2="344.80" y2="357.30" stroke="#555" stroke-width="0.8"/>
<text x="344.80" y="367.80" font-size="7.7" text-anchor="middle" fill="#111" stroke="#111" stroke-width="0.2">10<tspan font-size="4.77" dy="-2.93">4</tspan></text>
<line x1="363.70" y1="355.50" x2="363.70" y2="357.30" stroke="#555" stroke-width="0.8"/>
<text x="363.70" y="367.80" font-size="7.7" text-anchor="middle" fill="#111" stroke="#111" stroke-width="0.2">10<tspan font-size="4.77" dy="-2.93">5</tspan></text>
<rect x="292.50" y="355.20" width="4" height="1.6" fill="#000"/>
<g transform="translate(329.70,381.20) scale(0.545,1)"><text x="0" y="0" font-size="11.0" text-anchor="middle" font-weight="normal" font-style="normal" fill="#111"  stroke="#111" stroke-width="0.35">CD45Ra</text></g>
<rect x="291.30" y="330.60" width="31.20" height="22.90" fill="none" stroke="#ee7623" stroke-width="1.6"/>
<text x="342.70" y="346.20" font-size="13.2" font-weight="bold" fill="#ee7623">28%</text>
<rect x="288.80" y="389.60" width="84.20" height="85.00" fill="#fff" stroke="#c4c4c4" stroke-width="0.9"/>
<g clip-path="url(#cE3)">
<path d="M310.3 459.6h.6M313.8 463.0h.6M309.8 463.2h.6M312.4 462.2h.6M302.3 469.1h.6M305.5 463.5h.6M303.4 468.7h.6M320.0 463.7h.6M315.5 466.1h.6M309.0 463.2h.6M310.7 465.7h.6M311.3 465.7h.6M314.9 458.2h.6M309.5 461.0h.6M300.8 462.9h.6M311.6 460.4h.6M301.2 464.3h.6M298.8 466.2h.6M299.4 460.5h.6M308.6 464.2h.6M300.4 464.8h.6M308.9 459.3h.6M309.1 466.0h.6M307.8 469.0h.6M325.7 465.3h.6M317.5 464.0h.6M304.2 467.1h.6M302.6 468.5h.6M309.0 465.2h.6M310.6 458.3h.6M312.5 464.1h.6M314.0 466.4h.6M312.0 465.8h.6M301.4 464.0h.6M300.6 468.7h.6M308.3 459.2h.6M312.7 463.0h.6M304.0 461.1h.6M305.0 461.2h.6M313.1 459.5h.6M316.8 460.4h.6M308.4 464.9h.6M313.9 466.0h.6M315.5 460.3h.6M304.0 463.6h.6M304.4 454.8h.6M317.1 465.0h.6M314.1 461.0h.6M307.3 460.6h.6M304.2 469.1h.6M312.0 465.4h.6M311.1 458.4h.6M311.3 461.8h.6M312.3 463.9h.6M306.4 458.4h.6M307.1 457.3h.6M313.1 462.6h.6M314.9 463.4h.6M314.4 458.1h.6M312.5 463.3h.6M317.6 469.3h.6M315.3 461.1h.6M302.5 465.1h.6M307.1 468.7h.6M313.4 465.6h.6M311.8 464.3h.6M320.7 463.9h.6M318.1 469.8h.6M309.0 462.2h.6M308.3 466.9h.6M310.4 464.2h.6M311.2 468.6h.6M311.9 459.7h.6M314.9 456.5h.6M307.7 455.0h.6M309.6 458.7h.6M306.9 465.9h.6M298.5 466.0h.6M308.4 461.0h.6M302.5 465.1h.6M307.2 449.7h.6M305.3 469.3h.6M314.1 455.9h.6M314.1 462.9h.6M310.0 470.0h.6M317.9 468.0h.6M311.2 462.5h.6M310.1 461.7h.6M311.1 465.4h.6M300.4 464.2h.6M314.7 468.9h.6M299.8 467.7h.6M307.5 461.1h.6M317.9 467.1h.6M309.5 463.5h.6M318.6 464.8h.6M298.8 460.0h.6M300.7 468.1h.6M308.9 458.8h.6M317.8 471.0h.6M304.5 459.6h.6M310.9 460.7h.6M311.5 463.5h.6M308.7 461.3h.6M319.6 462.6h.6M303.0 459.6h.6M311.9 464.8h.6M306.0 461.7h.6M308.9 462.7h.6M311.8 465.8h.6M310.2 464.8h.6M312.9 464.6h.6M311.8 469.6h.6M316.6 463.1h.6M325.1 466.3h.6M312.0 462.0h.6M307.5 459.3h.6M302.2 465.3h.6M309.2 461.0h.6M304.6 459.0h.6" fill="none" stroke="#111" stroke-opacity="0.5" stroke-width="0.6"/>
<path d="M312.6 460.9h.6M308.0 459.0h.6M299.6 453.8h.6M300.8 453.6h.6M320.0 453.3h.6M307.5 463.5h.6M314.9 458.6h.6M301.8 455.0h.6M309.9 465.3h.6M303.2 456.2h.6M309.3 463.0h.6M308.7 463.9h.6M313.4 457.3h.6M304.4 457.4h.6M310.3 463.0h.6M299.2 454.3h.6M313.2 461.5h.6M309.8 462.8h.6M307.8 463.7h.6M297.8 452.9h.6M306.4 462.6h.6M303.4 459.3h.6M312.0 459.7h.6M312.6 459.9h.6M305.0 459.6h.6M301.8 456.5h.6M307.0 458.3h.6M312.0 461.4h.6M304.8 461.6h.6M309.7 462.3h.6M298.8 454.2h.6M311.7 462.5h.6M318.5 456.4h.6M302.3 455.4h.6M300.5 456.3h.6M298.6 453.4h.6M312.9 458.6h.6M318.4 457.6h.6M301.5 454.6h.6M303.8 457.2h.6M300.2 454.6h.6M309.2 463.5h.6M301.7 456.0h.6M307.2 460.4h.6M311.9 459.2h.6M308.7 463.5h.6M311.7 462.3h.6M310.9 462.7h.6M316.8 455.8h.6M303.0 455.9h.6M300.6 454.0h.6M317.5 455.2h.6M315.9 456.2h.6M298.3 452.4h.6M315.7 457.4h.6M318.3 452.6h.6M318.6 455.4h.6M300.4 456.1h.6M302.3 458.3h.6M320.1 451.7h.6M318.1 456.5h.6M302.8 457.0h.6M305.9 459.3h.6M312.0 464.1h.6M302.8 454.3h.6M314.9 456.5h.6M301.2 456.1h.6M313.3 459.8h.6M308.0 462.0h.6M302.8 457.1h.6M301.3 455.5h.6M313.4 457.2h.6M316.4 455.2h.6M319.9 452.0h.6M320.2 452.9h.6M304.0 456.9h.6M321.1 452.1h.6M299.8 454.7h.6M318.5 456.2h.6M317.6 456.3h.6M316.1 456.7h.6M313.3 459.4h.6M313.6 457.5h.6M318.7 451.3h.6M297.4 452.9h.6M311.8 461.2h.6M315.3 456.9h.6M319.6 455.9h.6M301.8 454.4h.6M311.3 463.2h.6M300.8 454.2h.6M299.1 453.9h.6M320.4 453.5h.6M299.9 458.6h.6M299.2 451.5h.6M313.8 460.0h.6M304.6 457.3h.6M308.0 460.6h.6M310.5 463.2h.6M300.9 454.7h.6M305.5 462.6h.6M301.1 455.0h.6M316.0 459.4h.6M316.8 458.7h.6M300.9 455.0h.6M317.4 452.7h.6M320.3 452.7h.6M305.1 457.5h.6M317.5 457.6h.6M303.0 458.8h.6M302.1 458.4h.6M312.0 459.5h.6M308.1 460.2h.6M300.3 454.0h.6M311.8 463.8h.6M299.4 455.1h.6M302.2 454.7h.6M314.9 459.1h.6M301.1 454.1h.6M317.7 457.6h.6M307.2 458.2h.6M317.3 455.4h.6M307.1 461.1h.6M299.4 453.3h.6M314.5 459.7h.6M316.2 454.5h.6M309.5 463.4h.6M305.9 460.4h.6M309.2 462.5h.6M308.5 463.8h.6M302.8 457.4h.6M312.8 462.0h.6M314.6 458.2h.6M311.1 459.5h.6M315.5 456.2h.6M309.6 462.2h.6M316.4 456.4h.6M311.9 459.4h.6M300.4 456.9h.6M321.0 452.2h.6M318.4 453.8h.6M301.2 451.7h.6M299.8 454.6h.6M309.0 465.3h.6M321.0 453.6h.6M312.3 459.5h.6M313.6 457.0h.6M314.8 459.5h.6M319.9 452.0h.6M319.2 453.8h.6M319.5 453.0h.6M302.8 458.0h.6M301.3 453.7h.6M313.1 459.7h.6M312.6 459.9h.6M321.0 452.2h.6M309.1 463.4h.6M302.6 457.9h.6M306.9 463.5h.6M313.9 459.8h.6M311.6 460.1h.6M320.9 453.3h.6M300.7 453.9h.6M310.8 462.1h.6M318.2 456.4h.6M298.9 450.4h.6M307.0 460.8h.6M320.0 453.8h.6M311.6 461.5h.6M316.3 455.7h.6M307.3 458.1h.6M298.0 452.0h.6M313.7 460.2h.6M312.1 460.2h.6M311.8 461.8h.6M316.4 459.1h.6M317.2 456.8h.6M315.5 458.8h.6M316.0 458.0h.6M298.5 453.6h.6M314.7 457.9h.6M312.3 461.4h.6M312.4 461.3h.6M299.5 453.5h.6M312.0 461.3h.6M314.6 458.6h.6M304.6 457.7h.6M315.1 454.8h.6M304.6 461.8h.6M306.0 458.1h.6M312.7 463.4h.6M316.9 457.3h.6M301.9 455.4h.6M309.2 464.1h.6M311.5 460.5h.6M306.4 461.3h.6M320.6 454.8h.6M302.7 456.6h.6M308.0 463.0h.6M299.3 456.7h.6M312.8 460.8h.6M308.0 461.9h.6M313.1 458.8h.6M308.2 460.1h.6M300.3 452.6h.6M315.5 454.8h.6M317.9 456.8h.6M312.8 460.7h.6M314.7 456.3h.6M302.9 454.6h.6M316.0 457.0h.6M319.6 454.6h.6M312.7 461.4h.6M305.1 460.3h.6M301.6 455.9h.6M312.6 461.7h.6M316.5 455.5h.6M316.7 454.1h.6M299.6 454.9h.6M316.7 455.2h.6M316.8 453.3h.6M304.2 459.3h.6M300.3 451.5h.6M316.5 455.8h.6M309.4 463.6h.6M310.3 462.9h.6M313.9 457.5h.6M308.4 462.4h.6M321.1 452.2h.6M315.5 458.2h.6M311.3 463.9h.6M311.1 463.1h.6M310.8 464.2h.6M302.6 457.6h.6M306.9 459.7h.6M309.0 462.1h.6M301.6 455.7h.6M312.3 460.9h.6M312.8 459.9h.6M304.7 459.2h.6M315.0 458.7h.6M314.1 456.0h.6M313.1 459.5h.6M299.6 452.2h.6M300.3 457.3h.6M320.8 452.1h.6M309.0 461.4h.6M315.9 456.7h.6M320.7 452.5h.6M307.5 462.3h.6M301.3 455.8h.6M316.0 459.4h.6M315.2 455.8h.6M302.3 455.3h.6M300.3 451.3h.6M301.1 456.4h.6M299.0 455.1h.6M319.6 453.7h.6M308.1 460.9h.6M311.3 460.2h.6" fill="none" stroke="#111" stroke-opacity="0.65" stroke-width="0.6"/>
<g stroke="#333" stroke-opacity="0.45" stroke-width="0.35" filter="url(#fb3)">
<ellipse cx="334.0" cy="455.0" rx="6.50" ry="16.00" transform="rotate(-8 334.0 455.0)" fill="#bbbbbb"/>
<ellipse cx="334.0" cy="455.0" rx="5.12" ry="12.60" transform="rotate(-8 334.0 455.0)" fill="#c6c6c6"/>
<ellipse cx="334.0" cy="455.0" rx="3.74" ry="9.20" transform="rotate(-8 334.0 455.0)" fill="#d2d2d2"/>
<ellipse cx="334.0" cy="455.0" rx="2.36" ry="5.80" transform="rotate(-8 334.0 455.0)" fill="#dddddd"/>
<ellipse cx="334.0" cy="455.0" rx="0.98" ry="2.40" transform="rotate(-8 334.0 455.0)" fill="#e8e8e8"/>
</g>
<path d="M313.3 451.0h.6M302.4 449.2h.6M331.7 433.1h.6M311.9 449.0h.6M319.7 450.1h.6M316.8 429.3h.6M314.0 429.7h.6M318.1 429.3h.6M305.6 431.1h.6M297.9 448.7h.6M333.1 445.9h.6M296.2 437.4h.6M315.1 450.1h.6M294.2 440.1h.6M330.0 447.1h.6M296.6 442.9h.6M330.4 434.4h.6M300.0 431.7h.6M325.7 450.0h.6M320.1 449.6h.6M296.9 436.9h.6M306.7 430.3h.6M310.4 449.3h.6M303.2 430.8h.6M302.1 448.8h.6M332.0 438.5h.6M302.2 449.2h.6M324.8 449.7h.6M323.2 450.2h.6M295.9 445.0h.6M318.2 449.1h.6M307.5 428.0h.6M295.1 440.4h.6M331.6 440.9h.6M311.4 452.1h.6M314.2 449.1h.6M332.1 436.2h.6M312.7 429.5h.6M332.0 438.1h.6M305.3 431.0h.6M302.1 450.8h.6M297.7 446.1h.6M311.0 428.5h.6M299.9 449.1h.6M324.7 429.4h.6M298.6 434.5h.6M308.8 449.4h.6M331.6 445.4h.6M299.6 432.0h.6M301.4 448.8h.6M312.9 449.4h.6M314.9 427.7h.6M298.2 447.1h.6M325.6 429.3h.6M315.9 428.5h.6M303.8 450.6h.6M296.3 444.4h.6M321.9 430.1h.6M328.2 449.4h.6M304.3 430.8h.6M316.3 448.6h.6M329.2 431.8h.6M297.6 445.3h.6M332.0 434.4h.6M325.7 431.3h.6M296.7 434.7h.6M318.4 449.2h.6M302.0 448.4h.6M319.4 429.3h.6M317.8 450.5h.6M332.2 437.9h.6M308.2 429.9h.6M319.0 429.9h.6M316.8 448.7h.6M317.8 450.1h.6M328.2 447.9h.6M303.9 430.7h.6M298.1 433.0h.6M297.0 437.6h.6M331.8 438.5h.6M331.6 437.9h.6M316.7 428.1h.6M332.3 446.0h.6M331.8 444.3h.6M305.1 431.4h.6M320.7 449.7h.6M321.1 449.9h.6M329.9 433.3h.6M325.0 451.0h.6M313.0 429.1h.6M319.1 450.0h.6M324.0 452.1h.6M329.1 432.3h.6M299.6 449.9h.6M313.4 429.0h.6M298.0 448.1h.6M308.3 450.3h.6M303.1 430.0h.6M296.6 438.0h.6M297.8 435.6h.6M317.2 448.9h.6M296.5 441.9h.6M324.1 449.7h.6M311.1 428.8h.6M299.0 447.3h.6M332.0 444.7h.6M321.4 449.5h.6M315.0 448.4h.6M300.5 448.8h.6M318.5 449.1h.6M326.9 431.5h.6M331.3 440.3h.6M304.5 430.9h.6M315.0 430.1h.6M310.8 428.7h.6M304.2 450.1h.6M330.2 432.3h.6M332.6 437.1h.6M324.1 450.9h.6M296.6 441.3h.6M293.5 443.2h.6M330.6 446.3h.6M322.9 429.4h.6M299.3 448.0h.6M331.0 444.1h.6M327.7 431.9h.6M331.4 444.3h.6M299.6 433.1h.6M305.8 450.4h.6M330.1 431.0h.6M296.9 436.1h.6M329.9 446.3h.6M326.2 430.5h.6M313.8 449.9h.6M326.4 450.0h.6M298.2 432.7h.6M333.7 444.3h.6M297.2 448.5h.6M299.1 447.6h.6M320.0 430.2h.6M306.9 449.7h.6M329.2 433.0h.6M322.9 451.2h.6M298.7 446.7h.6M320.8 430.1h.6M313.9 429.7h.6M307.7 429.6h.6M299.0 448.5h.6M307.6 429.2h.6M294.3 440.4h.6M332.7 445.7h.6M296.8 437.1h.6M310.9 450.9h.6M321.4 450.6h.6M303.5 431.0h.6M295.2 440.6h.6M325.3 431.8h.6M300.6 430.9h.6M329.3 448.4h.6M295.4 439.4h.6M297.3 435.1h.6M297.2 434.9h.6M330.9 437.6h.6M329.9 446.5h.6M299.7 448.7h.6M305.3 429.6h.6M297.8 445.2h.6M315.9 448.6h.6M332.6 444.0h.6M313.3 429.4h.6M302.6 450.6h.6M302.8 449.8h.6M297.4 444.9h.6M316.3 449.1h.6M333.5 443.9h.6M305.5 450.4h.6M327.5 448.1h.6M307.3 450.2h.6M312.0 448.8h.6M320.7 449.6h.6M314.7 449.7h.6M331.8 441.1h.6M304.1 451.0h.6M331.0 432.5h.6M299.3 447.5h.6M330.7 444.5h.6M299.7 432.7h.6M298.0 447.4h.6M312.4 429.1h.6M332.1 440.1h.6M327.8 432.4h.6M318.3 450.6h.6M296.9 446.4h.6M329.8 444.9h.6M297.3 446.1h.6M304.7 450.7h.6M297.3 448.0h.6M321.8 429.6h.6M320.3 449.8h.6M327.4 451.5h.6" fill="none" stroke="#333" stroke-opacity="0.45" stroke-width="0.6"/>
<g stroke="#444" stroke-opacity="0.5" stroke-width="0.35" filter="url(#fb3)">
<path d="M296.0 440.0C296.3 437.7 297.7 434.7 300.0 433.0C302.3 431.3 306.3 430.4 310.0 430.0C313.7 429.6 318.7 430.0 322.0 430.5C325.3 431.0 328.3 430.9 330.0 433.0C331.7 435.1 332.7 440.2 332.0 443.0C331.3 445.8 328.8 449.1 326.0 450.0C323.2 450.9 318.5 448.5 315.0 448.5C311.5 448.5 307.8 450.2 305.0 450.0C302.2 449.8 299.5 448.7 298.0 447.0C296.5 445.3 295.7 442.3 296.0 440.0Z" fill="#b4b4b4"/>
<path d="M297.8 439.9C298.1 437.8 299.3 435.2 301.3 433.7C303.4 432.3 306.9 431.5 310.1 431.1C313.3 430.7 317.7 431.1 320.7 431.5C323.6 432.0 326.2 431.9 327.7 433.7C329.2 435.6 330.0 440.0 329.4 442.5C328.9 445.0 326.7 447.9 324.2 448.7C321.7 449.5 317.6 447.3 314.5 447.3C311.4 447.3 308.2 448.9 305.7 448.7C303.2 448.4 300.9 447.5 299.6 446.0C298.3 444.6 297.5 441.9 297.8 439.9Z" fill="#bcbcbc"/>
<path d="M299.6 439.8C299.9 438.0 300.9 435.7 302.7 434.5C304.4 433.2 307.5 432.5 310.2 432.2C313.0 431.9 316.8 432.2 319.3 432.6C321.9 432.9 324.1 432.9 325.4 434.5C326.6 436.0 327.4 439.9 326.9 442.0C326.4 444.2 324.5 446.6 322.4 447.3C320.2 448.0 316.7 446.2 314.0 446.2C311.4 446.2 308.6 447.5 306.5 447.3C304.3 447.1 302.3 446.3 301.2 445.1C300.0 443.8 299.4 441.5 299.6 439.8Z" fill="#c4c4c4"/>
<path d="M301.5 439.6C301.7 438.2 302.5 436.2 304.0 435.2C305.5 434.1 308.0 433.5 310.4 433.3C312.7 433.0 315.9 433.3 318.0 433.6C320.1 433.9 322.0 433.9 323.1 435.2C324.1 436.5 324.8 439.7 324.4 441.5C323.9 443.3 322.3 445.4 320.5 446.0C318.7 446.6 315.8 445.0 313.5 445.0C311.3 445.0 309.0 446.2 307.2 446.0C305.4 445.8 303.7 445.1 302.7 444.1C301.8 443.0 301.3 441.1 301.5 439.6Z" fill="#cccccc"/>
<path d="M303.3 439.5C303.5 438.3 304.1 436.8 305.3 435.9C306.5 435.1 308.6 434.6 310.5 434.4C312.4 434.2 314.9 434.4 316.7 434.6C318.4 434.9 319.9 434.8 320.8 435.9C321.6 437.0 322.1 439.6 321.8 441.1C321.5 442.5 320.2 444.2 318.7 444.7C317.3 445.1 314.9 443.9 313.1 443.9C311.3 443.9 309.4 444.8 307.9 444.7C306.5 444.5 305.1 444.0 304.3 443.1C303.5 442.3 303.1 440.7 303.3 439.5Z" fill="#d5d5d5"/>
<path d="M305.1 439.4C305.2 438.5 305.8 437.3 306.7 436.6C307.6 436.0 309.2 435.6 310.6 435.5C312.0 435.3 314.0 435.5 315.3 435.7C316.6 435.9 317.8 435.8 318.5 436.6C319.1 437.5 319.5 439.5 319.2 440.6C319.0 441.7 318.0 443.0 316.9 443.3C315.8 443.7 313.9 442.7 312.6 442.7C311.2 442.7 309.8 443.4 308.6 443.3C307.5 443.2 306.5 442.8 305.9 442.1C305.3 441.5 305.0 440.3 305.1 439.4Z" fill="#dfdfdf"/>
<path d="M306.9 439.3C307.0 438.6 307.4 437.8 308.0 437.4C308.6 436.9 309.7 436.7 310.7 436.6C311.7 436.4 313.1 436.6 314.0 436.7C314.9 436.8 315.7 436.8 316.2 437.4C316.6 437.9 316.9 439.3 316.7 440.1C316.5 440.9 315.8 441.7 315.1 442.0C314.3 442.2 313.0 441.6 312.1 441.6C311.1 441.6 310.1 442.1 309.4 442.0C308.6 441.9 307.9 441.6 307.5 441.2C307.1 440.7 306.8 439.9 306.9 439.3Z" fill="#e8e8e8"/>
<path d="M308.8 439.1C308.8 438.8 309.0 438.4 309.4 438.1C309.7 437.9 310.3 437.7 310.9 437.6C311.4 437.6 312.1 437.7 312.6 437.7C313.1 437.8 313.6 437.8 313.9 438.1C314.1 438.4 314.2 439.2 314.1 439.6C314.0 440.0 313.7 440.5 313.2 440.6C312.8 440.8 312.1 440.4 311.6 440.4C311.1 440.4 310.5 440.7 310.1 440.6C309.7 440.6 309.3 440.4 309.1 440.2C308.8 439.9 308.7 439.5 308.8 439.1Z" fill="#f2f2f2"/>
</g>
<g stroke="#000" stroke-opacity="0.35" stroke-width="0.35" filter="url(#fb5)">
<ellipse cx="336.8" cy="437.5" rx="8.50" ry="14.00" transform="rotate(-12 336.8 437.5)" fill="#aaaaaa"/>
<ellipse cx="336.8" cy="437.5" rx="7.47" ry="12.30" transform="rotate(-12 336.8 437.5)" fill="#8a8a8a"/>
<ellipse cx="336.8" cy="437.5" rx="6.44" ry="10.60" transform="rotate(-12 336.8 437.5)" fill="#696969"/>
<ellipse cx="336.8" cy="437.5" rx="5.40" ry="8.90" transform="rotate(-12 336.8 437.5)" fill="#565656"/>
<ellipse cx="336.8" cy="437.5" rx="4.37" ry="7.20" transform="rotate(-12 336.8 437.5)" fill="#434343"/>
<ellipse cx="336.8" cy="437.5" rx="3.34" ry="5.50" transform="rotate(-12 336.8 437.5)" fill="#363636"/>
<ellipse cx="336.8" cy="437.5" rx="2.31" ry="3.80" transform="rotate(-12 336.8 437.5)" fill="#575757"/>
<ellipse cx="336.8" cy="437.5" rx="1.28" ry="2.10" transform="rotate(-12 336.8 437.5)" fill="#777777"/>
</g>
<path d="M318 451 Q321 446 325 449" fill="none" stroke="#444" stroke-width="0.6" opacity="0.7"/>
</g>
<line x1="288.80" y1="389.60" x2="288.80" y2="474.60" stroke="#888" stroke-width="0.9"/>
<line x1="288.80" y1="474.60" x2="373.00" y2="474.60" stroke="#888" stroke-width="0.9"/>
<line x1="286.80" y1="395.90" x2="288.80" y2="395.90" stroke="#555" stroke-width="0.8"/>
<text x="283.80" y="398.60" font-size="7.7" text-anchor="end" fill="#111" stroke="#111" stroke-width="0.2">10<tspan font-size="4.77" dy="-2.93">5</tspan></text>
<line x1="286.80" y1="411.60" x2="288.80" y2="411.60" stroke="#555" stroke-width="0.8"/>
<text x="283.80" y="414.30" font-size="7.7" text-anchor="end" fill="#111" stroke="#111" stroke-width="0.2">10<tspan font-size="4.77" dy="-2.93">4</tspan></text>
<line x1="286.80" y1="427.30" x2="288.80" y2="427.30" stroke="#555" stroke-width="0.8"/>
<text x="283.80" y="430.00" font-size="7.7" text-anchor="end" fill="#111" stroke="#111" stroke-width="0.2">10<tspan font-size="4.77" dy="-2.93">3</tspan></text>
<line x1="286.80" y1="443.10" x2="288.80" y2="443.10" stroke="#555" stroke-width="0.8"/>
<text x="283.80" y="445.80" font-size="7.7" text-anchor="end" fill="#111" stroke="#111" stroke-width="0.2">10<tspan font-size="4.77" dy="-2.93">2</tspan></text>
<line x1="286.80" y1="454.20" x2="288.80" y2="454.20" stroke="#555" stroke-width="0.8"/>
<text x="283.80" y="456.90" font-size="7.7" text-anchor="end" fill="#111" stroke="#111" stroke-width="0.2">0</text>
<line x1="286.80" y1="465.10" x2="288.80" y2="465.10" stroke="#555" stroke-width="0.8"/>
<text x="283.80" y="467.80" font-size="7.7" text-anchor="end" fill="#111" stroke="#111" stroke-width="0.2">-10<tspan font-size="4.77" dy="-2.93">2</tspan></text>
<line x1="287.80" y1="396.60" x2="288.80" y2="396.60" stroke="#999" stroke-width="0.6"/>
<line x1="287.80" y1="401.60" x2="288.80" y2="401.60" stroke="#999" stroke-width="0.6"/>
<line x1="287.80" y1="406.60" x2="288.80" y2="406.60" stroke="#999" stroke-width="0.6"/>
<line x1="287.80" y1="411.60" x2="288.80" y2="411.60" stroke="#999" stroke-width="0.6"/>
<line x1="287.80" y1="416.60" x2="288.80" y2="416.60" stroke="#999" stroke-width="0.6"/>
<line x1="287.80" y1="421.60" x2="288.80" y2="421.60" stroke="#999" stroke-width="0.6"/>
<line x1="287.80" y1="426.60" x2="288.80" y2="426.60" stroke="#999" stroke-width="0.6"/>
<line x1="287.80" y1="431.60" x2="288.80" y2="431.60" stroke="#999" stroke-width="0.6"/>
<line x1="287.80" y1="436.60" x2="288.80" y2="436.60" stroke="#999" stroke-width="0.6"/>
<line x1="287.80" y1="441.60" x2="288.80" y2="441.60" stroke="#999" stroke-width="0.6"/>
<line x1="287.80" y1="446.60" x2="288.80" y2="446.60" stroke="#999" stroke-width="0.6"/>
<line x1="287.80" y1="451.60" x2="288.80" y2="451.60" stroke="#999" stroke-width="0.6"/>
<line x1="287.80" y1="456.60" x2="288.80" y2="456.60" stroke="#999" stroke-width="0.6"/>
<line x1="287.80" y1="461.60" x2="288.80" y2="461.60" stroke="#999" stroke-width="0.6"/>
<line x1="287.80" y1="466.60" x2="288.80" y2="466.60" stroke="#999" stroke-width="0.6"/>
<path d="M297.7 474.6v1.3M300.9 474.6v1.3M304.1 474.6v1.3M312.8 474.6v1.3M316.1 474.6v1.3M318.4 474.6v1.3M320.2 474.6v1.3M321.6 474.6v1.3M322.8 474.6v1.3M323.9 474.6v1.3M324.9 474.6v1.3M331.4 474.6v1.3M334.8 474.6v1.3M337.2 474.6v1.3M339.1 474.6v1.3M340.6 474.6v1.3M341.8 474.6v1.3M342.9 474.6v1.3M343.9 474.6v1.3M350.5 474.6v1.3M353.8 474.6v1.3M356.2 474.6v1.3M358.0 474.6v1.3M359.5 474.6v1.3M360.8 474.6v1.3M361.9 474.6v1.3M362.8 474.6v1.3" stroke="#666" stroke-width="0.5" fill="none"/>
<rect x="287.20" y="453.00" width="1.6" height="2.4" fill="#000"/>
<line x1="294.50" y1="474.60" x2="294.50" y2="476.40" stroke="#555" stroke-width="0.8"/>
<text x="294.50" y="486.90" font-size="7.7" text-anchor="middle" fill="#111" stroke="#111" stroke-width="0.2">0</text>
<line x1="307.30" y1="474.60" x2="307.30" y2="476.40" stroke="#555" stroke-width="0.8"/>
<text x="307.30" y="486.90" font-size="7.7" text-anchor="middle" fill="#111" stroke="#111" stroke-width="0.2">10<tspan font-size="4.77" dy="-2.93">2</tspan></text>
<line x1="325.70" y1="474.60" x2="325.70" y2="476.40" stroke="#555" stroke-width="0.8"/>
<text x="325.70" y="486.90" font-size="7.7" text-anchor="middle" fill="#111" stroke="#111" stroke-width="0.2">10<tspan font-size="4.77" dy="-2.93">3</tspan></text>
<line x1="344.80" y1="474.60" x2="344.80" y2="476.40" stroke="#555" stroke-width="0.8"/>
<text x="344.80" y="486.90" font-size="7.7" text-anchor="middle" fill="#111" stroke="#111" stroke-width="0.2">10<tspan font-size="4.77" dy="-2.93">4</tspan></text>
<line x1="363.70" y1="474.60" x2="363.70" y2="476.40" stroke="#555" stroke-width="0.8"/>
<text x="363.70" y="486.90" font-size="7.7" text-anchor="middle" fill="#111" stroke="#111" stroke-width="0.2">10<tspan font-size="4.77" dy="-2.93">5</tspan></text>
<rect x="292.50" y="474.30" width="4" height="1.6" fill="#000"/>
<rect x="293.40" y="451.90" width="30.40" height="22.10" fill="none" stroke="#ee7623" stroke-width="1.6"/>
<text x="349.20" y="470.90" font-size="13.2" font-weight="bold" fill="#ee7623">9%</text>
<line x1="260.5" y1="31.2" x2="260.5" y2="454.9" stroke="#111" stroke-width="1.1"/>
<g transform="translate(263.20,457.80) rotate(-90) scale(0.571,1)"><text x="0" y="0" font-size="10.8" text-anchor="end" font-weight="normal" font-style="normal" fill="#111"  stroke="#111" stroke-width="0.35">CD123</text></g>
<rect x="413.10" y="32.30" width="85.10" height="85.00" fill="#fff" stroke="#c4c4c4" stroke-width="0.9"/>
<g clip-path="url(#cG0)">
<path d="M441.8 79.9h.6M440.7 111.4h.6M441.3 107.4h.6M427.7 110.1h.6M426.5 89.3h.6M427.8 99.7h.6M427.3 101.6h.6M426.8 90.5h.6M426.6 90.5h.6M436.4 70.7h.6M425.6 85.2h.6M430.6 71.8h.6M429.0 111.1h.6M426.5 93.8h.6M437.5 70.2h.6M440.6 112.2h.6M427.2 83.6h.6M430.5 114.5h.6M427.2 101.0h.6M427.1 89.9h.6M442.1 100.0h.6M424.8 89.3h.6M440.9 110.0h.6M441.7 97.7h.6M441.3 102.4h.6M427.0 77.1h.6M427.8 74.1h.6M426.7 87.0h.6M435.4 71.1h.6M428.3 73.0h.6M427.7 80.8h.6M427.0 75.0h.6M441.1 76.6h.6M440.7 91.7h.6M439.7 112.9h.6M443.0 88.1h.6M427.4 99.2h.6M428.8 72.6h.6M439.2 112.5h.6M426.7 102.9h.6M439.4 114.9h.6M435.8 69.1h.6M435.6 70.3h.6M438.4 114.1h.6M440.2 111.4h.6M426.7 99.9h.6M427.6 107.3h.6M433.1 114.8h.6M426.7 85.2h.6M428.9 112.1h.6M427.0 96.5h.6M427.7 96.0h.6M428.1 89.3h.6M426.6 103.3h.6M442.3 88.8h.6M427.6 74.8h.6M442.3 98.9h.6M426.9 103.4h.6M427.3 76.7h.6M429.2 72.6h.6M437.9 113.2h.6M427.8 74.5h.6M427.3 105.0h.6M442.7 84.0h.6M435.9 70.3h.6M440.1 111.3h.6M442.1 89.1h.6M431.0 72.1h.6M428.9 112.7h.6M426.7 93.0h.6M427.1 90.3h.6M437.9 72.0h.6M440.5 103.6h.6M442.0 94.2h.6M441.4 74.6h.6M441.6 85.7h.6M427.5 102.6h.6M427.4 102.2h.6M442.1 101.5h.6M427.5 85.5h.6M442.3 88.7h.6M438.2 113.5h.6M439.9 73.1h.6M427.3 80.3h.6M427.7 102.9h.6M427.1 79.2h.6M441.0 95.1h.6M441.7 76.0h.6M438.0 116.1h.6M427.1 101.0h.6M427.2 103.4h.6M442.5 94.7h.6M429.4 112.9h.6M437.5 71.1h.6M441.1 83.5h.6M442.2 83.7h.6M433.0 114.2h.6M441.3 111.0h.6M426.9 100.1h.6M426.2 90.1h.6M440.4 111.0h.6M439.4 114.1h.6M442.3 76.1h.6M441.6 105.4h.6M441.5 77.8h.6M426.3 86.2h.6M441.9 92.2h.6M429.9 70.2h.6M434.1 115.1h.6M427.1 87.0h.6M426.2 110.9h.6M427.4 104.0h.6M427.2 87.3h.6M441.5 80.8h.6M441.2 99.9h.6M432.8 114.3h.6M442.0 94.0h.6M427.3 85.2h.6M436.8 114.9h.6M426.2 76.1h.6M438.3 72.4h.6M439.7 113.1h.6M442.4 101.9h.6M427.0 89.2h.6M427.4 107.1h.6M435.6 71.2h.6M442.0 94.6h.6M441.3 75.7h.6M443.0 86.8h.6M441.7 88.4h.6M441.7 105.6h.6M438.8 71.4h.6M426.7 104.8h.6M431.1 113.6h.6M436.7 70.0h.6M443.2 101.4h.6M428.3 100.5h.6M441.7 89.8h.6M440.2 73.2h.6M444.7 92.8h.6M429.4 73.3h.6M426.7 93.2h.6M441.8 100.0h.6M426.9 87.8h.6M431.1 114.6h.6M436.3 71.8h.6M427.2 110.9h.6M441.4 83.8h.6M431.1 113.4h.6M435.2 114.4h.6M433.4 71.0h.6M441.2 90.3h.6M442.3 83.0h.6M439.6 112.5h.6M441.2 111.1h.6M430.0 72.0h.6M441.4 88.0h.6M426.8 88.2h.6M441.5 98.6h.6M441.6 85.7h.6M431.0 114.6h.6M429.4 113.1h.6M441.5 78.0h.6M439.3 114.2h.6M434.8 114.4h.6M426.8 97.0h.6M437.1 70.0h.6M441.2 78.3h.6M431.0 115.4h.6M426.5 95.2h.6M441.7 103.2h.6M437.2 114.1h.6M427.3 104.0h.6M428.3 77.7h.6M427.5 108.0h.6M426.3 74.8h.6M440.5 111.6h.6M441.8 101.1h.6M427.4 86.8h.6M441.1 92.3h.6M427.3 85.6h.6M441.8 79.5h.6M431.4 114.0h.6M429.6 113.3h.6M442.4 84.0h.6M427.1 99.7h.6M433.7 69.5h.6M426.5 97.8h.6M442.1 90.9h.6M440.0 72.4h.6M427.1 105.7h.6M442.2 103.7h.6M427.1 94.9h.6M438.2 72.5h.6M440.2 111.0h.6M441.5 77.6h.6M427.2 96.9h.6M441.9 93.8h.6M442.6 104.6h.6M441.5 97.8h.6" fill="none" stroke="#555" stroke-opacity="0.5" stroke-width="0.6"/>
<g stroke="#888" stroke-opacity="0.5" stroke-width="0.35" filter="url(#fb3)">
<rect x="427.6" y="71.0" width="13.6" height="43.2" rx="6.8" fill="#dedede"/>
<rect x="428.4" y="71.9" width="11.9" height="41.3" rx="6.0" fill="#d4d4d4"/>
<rect x="429.3" y="72.9" width="10.3" height="39.5" rx="5.1" fill="#c9c9c9"/>
<rect x="430.1" y="73.8" width="8.6" height="37.6" rx="4.3" fill="#b9b9b9"/>
<rect x="430.9" y="74.7" width="7.0" height="35.8" rx="3.5" fill="#afafaf"/>
<rect x="431.7" y="75.6" width="5.3" height="33.9" rx="2.7" fill="#d0d0d0"/>
<rect x="432.6" y="76.6" width="3.7" height="32.1" rx="1.8" fill="#e9e9e9"/>
<rect x="433.4" y="77.5" width="2.0" height="30.2" rx="1.0" fill="#ffffff"/>
</g>
</g>
<line x1="413.10" y1="32.30" x2="413.10" y2="117.30" stroke="#888" stroke-width="0.9"/>
<line x1="413.10" y1="117.30" x2="498.20" y2="117.30" stroke="#888" stroke-width="0.9"/>
<line x1="411.10" y1="38.60" x2="413.10" y2="38.60" stroke="#555" stroke-width="0.8"/>
<text x="408.10" y="41.30" font-size="7.7" text-anchor="end" fill="#111" stroke="#111" stroke-width="0.2">10<tspan font-size="4.77" dy="-2.93">5</tspan></text>
<line x1="411.10" y1="54.30" x2="413.10" y2="54.30" stroke="#555" stroke-width="0.8"/>
<text x="408.10" y="57.00" font-size="7.7" text-anchor="end" fill="#111" stroke="#111" stroke-width="0.2">10<tspan font-size="4.77" dy="-2.93">4</tspan></text>
<line x1="411.10" y1="70.00" x2="413.10" y2="70.00" stroke="#555" stroke-width="0.8"/>
<text x="408.10" y="72.70" font-size="7.7" text-anchor="end" fill="#111" stroke="#111" stroke-width="0.2">10<tspan font-size="4.77" dy="-2.93">3</tspan></text>
<line x1="411.10" y1="85.80" x2="413.10" y2="85.80" stroke="#555" stroke-width="0.8"/>
<text x="408.10" y="88.50" font-size="7.7" text-anchor="end" fill="#111" stroke="#111" stroke-width="0.2">10<tspan font-size="4.77" dy="-2.93">2</tspan></text>
<line x1="411.10" y1="96.90" x2="413.10" y2="96.90" stroke="#555" stroke-width="0.8"/>
<text x="408.10" y="99.60" font-size="7.7" text-anchor="end" fill="#111" stroke="#111" stroke-width="0.2">0</text>
<line x1="411.10" y1="107.80" x2="413.10" y2="107.80" stroke="#555" stroke-width="0.8"/>
<text x="408.10" y="110.50" font-size="7.7" text-anchor="end" fill="#111" stroke="#111" stroke-width="0.2">-10<tspan font-size="4.77" dy="-2.93">2</tspan></text>
<line x1="412.10" y1="39.30" x2="413.10" y2="39.30" stroke="#999" stroke-width="0.6"/>
<line x1="412.10" y1="44.30" x2="413.10" y2="44.30" stroke="#999" stroke-width="0.6"/>
<line x1="412.10" y1="49.30" x2="413.10" y2="49.30" stroke="#999" stroke-width="0.6"/>
<line x1="412.10" y1="54.30" x2="413.10" y2="54.30" stroke="#999" stroke-width="0.6"/>
<line x1="412.10" y1="59.30" x2="413.10" y2="59.30" stroke="#999" stroke-width="0.6"/>
<line x1="412.10" y1="64.30" x2="413.10" y2="64.30" stroke="#999" stroke-width="0.6"/>
<line x1="412.10" y1="69.30" x2="413.10" y2="69.30" stroke="#999" stroke-width="0.6"/>
<line x1="412.10" y1="74.30" x2="413.10" y2="74.30" stroke="#999" stroke-width="0.6"/>
<line x1="412.10" y1="79.30" x2="413.10" y2="79.30" stroke="#999" stroke-width="0.6"/>
<line x1="412.10" y1="84.30" x2="413.10" y2="84.30" stroke="#999" stroke-width="0.6"/>
<line x1="412.10" y1="89.30" x2="413.10" y2="89.30" stroke="#999" stroke-width="0.6"/>
<line x1="412.10" y1="94.30" x2="413.10" y2="94.30" stroke="#999" stroke-width="0.6"/>
<line x1="412.10" y1="99.30" x2="413.10" y2="99.30" stroke="#999" stroke-width="0.6"/>
<line x1="412.10" y1="104.30" x2="413.10" y2="104.30" stroke="#999" stroke-width="0.6"/>
<line x1="412.10" y1="109.30" x2="413.10" y2="109.30" stroke="#999" stroke-width="0.6"/>
<path d="M417.3 117.3v1.3M420.6 117.3v1.3M423.8 117.3v1.3M427.1 117.3v1.3M433.7 117.3v1.3M437.0 117.3v1.3M440.2 117.3v1.3M443.5 117.3v1.3M450.1 117.3v1.3M453.4 117.3v1.3M456.6 117.3v1.3M459.9 117.3v1.3M466.5 117.3v1.3M469.8 117.3v1.3M473.0 117.3v1.3M476.3 117.3v1.3M482.9 117.3v1.3M486.2 117.3v1.3M489.4 117.3v1.3M492.7 117.3v1.3" stroke="#666" stroke-width="0.5" fill="none"/>
<rect x="411.50" y="95.70" width="1.6" height="2.4" fill="#000"/>
<line x1="414.00" y1="117.30" x2="414.00" y2="119.10" stroke="#555" stroke-width="0.8"/>
<text x="0" y="0" font-size="7.9" text-anchor="end" fill="#222" transform="translate(416.80,124.20) rotate(-45)">0</text>
<line x1="430.40" y1="117.30" x2="430.40" y2="119.10" stroke="#555" stroke-width="0.8"/>
<text x="0" y="0" font-size="7.9" text-anchor="end" fill="#222" transform="translate(433.20,124.20) rotate(-45)">50K</text>
<line x1="446.80" y1="117.30" x2="446.80" y2="119.10" stroke="#555" stroke-width="0.8"/>
<text x="0" y="0" font-size="7.9" text-anchor="end" fill="#222" transform="translate(449.60,124.20) rotate(-45)">100K</text>
<line x1="463.20" y1="117.30" x2="463.20" y2="119.10" stroke="#555" stroke-width="0.8"/>
<text x="0" y="0" font-size="7.9" text-anchor="end" fill="#222" transform="translate(466.00,124.20) rotate(-45)">150K</text>
<line x1="479.60" y1="117.30" x2="479.60" y2="119.10" stroke="#555" stroke-width="0.8"/>
<text x="0" y="0" font-size="7.9" text-anchor="end" fill="#222" transform="translate(482.40,124.20) rotate(-45)">200K</text>
<line x1="496.00" y1="117.30" x2="496.00" y2="119.10" stroke="#555" stroke-width="0.8"/>
<text x="0" y="0" font-size="7.9" text-anchor="end" fill="#222" transform="translate(498.80,124.20) rotate(-45)">250K</text>
<rect x="413.10" y="32.50" width="85.20" height="58.90" fill="none" stroke="#a5173b" stroke-width="2.0"/>
<text x="468.00" y="48.00" font-size="13.2" font-weight="normal" fill="#a5173b" stroke="#a5173b" stroke-width="0.3">52%</text>
<rect x="413.10" y="151.30" width="85.10" height="85.00" fill="#fff" stroke="#c4c4c4" stroke-width="0.9"/>
<g clip-path="url(#cG1)">
<path d="M436.1 219.9h.6M435.9 206.7h.6M438.3 194.1h.6M460.1 200.5h.6M434.6 208.5h.6M459.7 197.6h.6M453.5 233.0h.6M440.7 191.7h.6M461.4 206.1h.6M454.1 232.9h.6M460.6 225.3h.6M460.7 224.7h.6M460.0 225.2h.6M447.8 189.3h.6M443.2 191.7h.6M437.3 228.2h.6M435.8 220.8h.6M461.5 209.8h.6M435.6 215.3h.6M436.5 199.8h.6M447.2 234.2h.6M461.2 221.2h.6M462.5 203.1h.6M454.9 236.3h.6M440.2 192.1h.6M451.4 233.7h.6M455.1 233.8h.6M460.3 214.0h.6M451.9 234.5h.6M446.1 189.8h.6M436.1 196.2h.6M435.4 194.9h.6M434.1 218.0h.6M458.9 195.0h.6M460.3 217.6h.6M451.2 190.3h.6M454.1 234.1h.6M436.5 223.9h.6M459.7 229.1h.6M436.1 218.9h.6M436.2 222.5h.6M437.2 224.0h.6M435.6 202.0h.6M436.2 216.5h.6M451.1 189.2h.6M461.0 225.0h.6M461.9 225.2h.6M435.3 218.6h.6M435.3 212.4h.6M434.0 215.4h.6M453.1 234.8h.6M436.3 205.0h.6M450.7 234.9h.6M461.5 222.4h.6M444.4 234.6h.6M455.5 231.9h.6M450.2 190.6h.6M461.6 214.2h.6M436.8 226.2h.6M438.4 229.8h.6M441.7 232.6h.6M460.0 196.7h.6M436.5 214.2h.6M451.1 190.5h.6M445.1 234.0h.6M461.4 223.6h.6M434.8 208.9h.6M436.2 207.6h.6M436.4 199.2h.6M448.9 236.0h.6M461.9 212.3h.6M444.8 234.8h.6M445.3 189.6h.6M460.8 214.8h.6M460.4 225.7h.6M456.9 190.1h.6M453.8 233.0h.6M460.4 225.0h.6M456.4 193.4h.6M448.6 191.2h.6M438.3 195.5h.6M435.2 221.0h.6M451.0 233.6h.6M454.6 189.8h.6M437.5 226.8h.6M461.0 219.7h.6M460.2 208.6h.6M435.7 221.7h.6M448.1 189.4h.6M449.8 233.7h.6M450.9 233.5h.6M434.8 204.3h.6M453.4 235.7h.6M460.0 228.3h.6M461.1 198.5h.6M453.8 189.2h.6M444.0 233.5h.6M441.5 192.8h.6M436.1 208.2h.6M437.3 229.9h.6M435.8 223.7h.6M447.0 190.5h.6M435.2 224.5h.6M448.9 233.9h.6M449.8 233.6h.6M452.6 190.6h.6M462.0 228.5h.6M438.6 230.7h.6M435.4 222.4h.6M436.1 211.4h.6M461.3 223.4h.6M456.2 192.9h.6M436.4 198.7h.6M458.2 192.8h.6M440.2 231.7h.6M435.5 203.1h.6M434.8 210.6h.6M460.7 200.2h.6M449.9 234.1h.6M442.1 233.0h.6M437.3 230.6h.6M461.4 220.6h.6M458.8 230.0h.6M462.5 216.2h.6M434.7 206.0h.6M437.9 227.8h.6M436.8 213.8h.6M450.7 233.3h.6M460.7 210.5h.6M435.4 211.9h.6M436.4 225.3h.6M461.1 208.2h.6M437.4 196.0h.6M437.9 196.9h.6M435.5 195.0h.6M460.9 224.2h.6M460.9 216.8h.6M435.8 201.8h.6M435.8 211.5h.6M461.3 199.8h.6M448.4 190.1h.6M440.5 232.0h.6M436.0 201.4h.6M435.3 214.1h.6M435.0 203.2h.6M437.3 198.4h.6M445.5 233.7h.6M451.0 233.9h.6M460.9 215.3h.6M448.9 233.9h.6M459.7 195.1h.6M440.2 231.4h.6M439.4 193.3h.6M452.7 190.5h.6M457.7 191.7h.6M443.3 190.4h.6M462.0 219.0h.6M438.8 194.5h.6M438.7 230.7h.6M460.8 196.9h.6M461.9 212.9h.6M435.1 201.2h.6M435.7 216.1h.6M435.8 226.3h.6M460.2 223.9h.6M442.9 234.8h.6M456.1 234.7h.6M435.5 225.6h.6M435.3 219.6h.6M461.7 212.0h.6M437.6 197.1h.6M437.0 195.4h.6M446.7 235.0h.6M460.6 212.0h.6M441.2 232.2h.6M436.9 196.0h.6M442.7 234.5h.6M462.1 217.4h.6M451.7 189.7h.6M435.3 202.8h.6M461.3 208.3h.6M459.3 228.3h.6M434.1 207.3h.6M461.3 211.8h.6M437.5 196.6h.6M455.3 192.8h.6M447.6 234.0h.6M462.5 216.9h.6M435.7 221.2h.6M436.3 197.2h.6M436.3 198.5h.6M462.6 207.8h.6M436.5 227.0h.6M450.6 191.6h.6M459.4 192.9h.6M435.1 217.8h.6M453.9 231.9h.6M453.7 233.7h.6M460.2 217.5h.6M436.1 227.8h.6M452.8 190.5h.6M460.2 223.6h.6M434.3 214.3h.6M460.7 221.0h.6M454.9 233.7h.6M445.7 233.7h.6M445.7 234.0h.6M462.5 215.7h.6M444.1 234.7h.6M436.2 223.8h.6M462.2 211.6h.6M460.2 198.8h.6M437.1 227.2h.6M440.6 191.2h.6M435.9 217.4h.6M460.7 199.0h.6M443.1 232.7h.6M461.2 213.1h.6M435.6 205.6h.6M455.7 191.9h.6M437.7 194.4h.6M459.5 198.1h.6M461.1 212.7h.6M442.3 232.7h.6M435.8 218.6h.6M454.2 192.2h.6M459.8 206.2h.6M458.5 193.0h.6M441.3 232.2h.6M457.7 194.8h.6M443.0 234.6h.6M462.1 212.9h.6M455.1 231.7h.6M439.1 195.1h.6M460.3 217.5h.6M462.1 204.4h.6M462.3 211.8h.6M453.6 190.8h.6M461.9 209.6h.6M437.7 194.7h.6M460.8 217.2h.6M435.5 220.4h.6M449.8 233.8h.6M444.0 190.3h.6M453.3 233.9h.6M458.7 196.6h.6M461.7 202.9h.6M443.9 233.0h.6M445.7 191.1h.6M461.7 201.4h.6M461.0 213.1h.6M435.1 209.0h.6M459.1 197.5h.6M436.4 198.0h.6M462.5 221.7h.6M457.1 231.9h.6M436.6 200.1h.6M434.2 220.9h.6M435.2 204.0h.6M458.7 195.8h.6" fill="none" stroke="#4a55e0" stroke-opacity="0.6" stroke-width="0.6"/>
<g stroke="#3a45dd" stroke-opacity="0.5" stroke-width="0.35" filter="url(#fb3)">
<rect x="436.3" y="191.0" width="24.0" height="42.5" rx="11.3" fill="#dcdff9"/>
<rect x="437.6" y="191.8" width="21.5" height="40.9" rx="10.1" fill="#cacef6"/>
<rect x="438.9" y="192.6" width="18.9" height="39.3" rx="9.0" fill="#b7bcf3"/>
<rect x="440.1" y="193.4" width="16.4" height="37.7" rx="7.8" fill="#969cee"/>
<rect x="441.4" y="194.2" width="13.8" height="36.1" rx="6.6" fill="#6a73e7"/>
<rect x="442.7" y="195.0" width="11.2" height="34.5" rx="5.5" fill="#959cee"/>
<rect x="443.9" y="195.8" width="8.7" height="32.9" rx="4.3" fill="#b6bbf4"/>
<rect x="445.2" y="196.6" width="6.1" height="31.3" rx="3.1" fill="#d4d7f9"/>
<rect x="446.5" y="197.4" width="3.6" height="29.8" rx="1.8" fill="#f2f3ff"/>
</g>
</g>
<line x1="413.10" y1="151.30" x2="413.10" y2="236.30" stroke="#888" stroke-width="0.9"/>
<line x1="413.10" y1="236.30" x2="498.20" y2="236.30" stroke="#888" stroke-width="0.9"/>
<line x1="411.10" y1="157.60" x2="413.10" y2="157.60" stroke="#555" stroke-width="0.8"/>
<text x="408.10" y="160.30" font-size="7.7" text-anchor="end" fill="#111" stroke="#111" stroke-width="0.2">10<tspan font-size="4.77" dy="-2.93">5</tspan></text>
<line x1="411.10" y1="173.30" x2="413.10" y2="173.30" stroke="#555" stroke-width="0.8"/>
<text x="408.10" y="176.00" font-size="7.7" text-anchor="end" fill="#111" stroke="#111" stroke-width="0.2">10<tspan font-size="4.77" dy="-2.93">4</tspan></text>
<line x1="411.10" y1="189.00" x2="413.10" y2="189.00" stroke="#555" stroke-width="0.8"/>
<text x="408.10" y="191.70" font-size="7.7" text-anchor="end" fill="#111" stroke="#111" stroke-width="0.2">10<tspan font-size="4.77" dy="-2.93">3</tspan></text>
<line x1="411.10" y1="204.80" x2="413.10" y2="204.80" stroke="#555" stroke-width="0.8"/>
<text x="408.10" y="207.50" font-size="7.7" text-anchor="end" fill="#111" stroke="#111" stroke-width="0.2">10<tspan font-size="4.77" dy="-2.93">2</tspan></text>
<line x1="411.10" y1="215.90" x2="413.10" y2="215.90" stroke="#555" stroke-width="0.8"/>
<text x="408.10" y="218.60" font-size="7.7" text-anchor="end" fill="#111" stroke="#111" stroke-width="0.2">0</text>
<line x1="411.10" y1="226.80" x2="413.10" y2="226.80" stroke="#555" stroke-width="0.8"/>
<text x="408.10" y="229.50" font-size="7.7" text-anchor="end" fill="#111" stroke="#111" stroke-width="0.2">-10<tspan font-size="4.77" dy="-2.93">2</tspan></text>
<line x1="412.10" y1="158.30" x2="413.10" y2="158.30" stroke="#999" stroke-width="0.6"/>
<line x1="412.10" y1="163.30" x2="413.10" y2="163.30" stroke="#999" stroke-width="0.6"/>
<line x1="412.10" y1="168.30" x2="413.10" y2="168.30" stroke="#999" stroke-width="0.6"/>
<line x1="412.10" y1="173.30" x2="413.10" y2="173.30" stroke="#999" stroke-width="0.6"/>
<line x1="412.10" y1="178.30" x2="413.10" y2="178.30" stroke="#999" stroke-width="0.6"/>
<line x1="412.10" y1="183.30" x2="413.10" y2="183.30" stroke="#999" stroke-width="0.6"/>
<line x1="412.10" y1="188.30" x2="413.10" y2="188.30" stroke="#999" stroke-width="0.6"/>
<line x1="412.10" y1="193.30" x2="413.10" y2="193.30" stroke="#999" stroke-width="0.6"/>
<line x1="412.10" y1="198.30" x2="413.10" y2="198.30" stroke="#999" stroke-width="0.6"/>
<line x1="412.10" y1="203.30" x2="413.10" y2="203.30" stroke="#999" stroke-width="0.6"/>
<line x1="412.10" y1="208.30" x2="413.10" y2="208.30" stroke="#999" stroke-width="0.6"/>
<line x1="412.10" y1="213.30" x2="413.10" y2="213.30" stroke="#999" stroke-width="0.6"/>
<line x1="412.10" y1="218.30" x2="413.10" y2="218.30" stroke="#999" stroke-width="0.6"/>
<line x1="412.10" y1="223.30" x2="413.10" y2="223.30" stroke="#999" stroke-width="0.6"/>
<line x1="412.10" y1="228.30" x2="413.10" y2="228.30" stroke="#999" stroke-width="0.6"/>
<path d="M417.3 236.3v1.3M420.6 236.3v1.3M423.8 236.3v1.3M427.1 236.3v1.3M433.7 236.3v1.3M437.0 236.3v1.3M440.2 236.3v1.3M443.5 236.3v1.3M450.1 236.3v1.3M453.4 236.3v1.3M456.6 236.3v1.3M459.9 236.3v1.3M466.5 236.3v1.3M469.8 236.3v1.3M473.0 236.3v1.3M476.3 236.3v1.3M482.9 236.3v1.3M486.2 236.3v1.3M489.4 236.3v1.3M492.7 236.3v1.3" stroke="#666" stroke-width="0.5" fill="none"/>
<rect x="411.50" y="214.70" width="1.6" height="2.4" fill="#000"/>
<line x1="414.00" y1="236.30" x2="414.00" y2="238.10" stroke="#555" stroke-width="0.8"/>
<text x="0" y="0" font-size="7.9" text-anchor="end" fill="#222" transform="translate(416.80,243.20) rotate(-45)">0</text>
<line x1="430.40" y1="236.30" x2="430.40" y2="238.10" stroke="#555" stroke-width="0.8"/>
<text x="0" y="0" font-size="7.9" text-anchor="end" fill="#222" transform="translate(433.20,243.20) rotate(-45)">50K</text>
<line x1="446.80" y1="236.30" x2="446.80" y2="238.10" stroke="#555" stroke-width="0.8"/>
<text x="0" y="0" font-size="7.9" text-anchor="end" fill="#222" transform="translate(449.60,243.20) rotate(-45)">100K</text>
<line x1="463.20" y1="236.30" x2="463.20" y2="238.10" stroke="#555" stroke-width="0.8"/>
<text x="0" y="0" font-size="7.9" text-anchor="end" fill="#222" transform="translate(466.00,243.20) rotate(-45)">150K</text>
<line x1="479.60" y1="236.30" x2="479.60" y2="238.10" stroke="#555" stroke-width="0.8"/>
<text x="0" y="0" font-size="7.9" text-anchor="end" fill="#222" transform="translate(482.40,243.20) rotate(-45)">200K</text>
<line x1="496.00" y1="236.30" x2="496.00" y2="238.10" stroke="#555" stroke-width="0.8"/>
<text x="0" y="0" font-size="7.9" text-anchor="end" fill="#222" transform="translate(498.80,243.20) rotate(-45)">250K</text>
<rect x="413.10" y="151.70" width="85.20" height="58.40" fill="none" stroke="#a5173b" stroke-width="2.0"/>
<text x="469.50" y="167.30" font-size="13.2" font-weight="bold" fill="#a5173b">59%</text>
<rect x="413.10" y="270.50" width="85.10" height="85.00" fill="#fff" stroke="#c4c4c4" stroke-width="0.9"/>
<g clip-path="url(#cG2)">
<path d="M443.9 353.4h.6M433.6 315.4h.6M455.3 345.5h.6M443.8 309.0h.6M431.5 327.5h.6M432.9 337.0h.6M432.1 328.4h.6M457.1 331.1h.6M455.8 337.5h.6M438.4 352.9h.6M436.9 309.1h.6M445.0 352.5h.6M456.1 325.5h.6M456.0 343.3h.6M436.8 350.5h.6M445.3 309.2h.6M448.0 354.4h.6M453.2 312.6h.6M434.3 346.6h.6M456.3 341.2h.6M436.0 350.1h.6M456.9 328.7h.6M435.9 312.9h.6M432.1 322.8h.6M432.1 333.5h.6M456.5 319.4h.6M444.0 354.1h.6M447.1 309.9h.6M452.1 353.1h.6M432.0 331.8h.6M439.4 352.2h.6M456.8 319.1h.6M457.8 339.5h.6M456.1 328.7h.6M432.1 336.0h.6M449.0 309.6h.6M432.8 317.4h.6M453.9 350.4h.6M453.7 310.0h.6M456.1 342.1h.6M447.4 308.1h.6M432.2 329.1h.6M438.6 351.0h.6M459.2 329.7h.6M456.4 322.5h.6M457.1 340.1h.6M456.7 338.4h.6M433.1 343.8h.6M455.7 328.1h.6M436.0 311.4h.6M431.4 343.4h.6M455.8 336.4h.6M433.8 316.2h.6M431.1 328.1h.6M457.2 320.7h.6M448.7 353.7h.6M455.5 345.2h.6M457.5 342.5h.6M457.1 330.0h.6M433.6 317.6h.6M433.2 320.8h.6M454.8 315.9h.6M448.1 352.4h.6M448.1 352.9h.6M432.6 326.0h.6M443.3 309.2h.6M432.7 325.0h.6M451.2 350.3h.6M431.5 337.7h.6M457.1 332.2h.6M449.7 310.3h.6M433.6 317.8h.6M433.3 325.0h.6M450.0 309.9h.6M458.6 336.7h.6M436.7 310.6h.6M451.2 350.6h.6M434.8 314.0h.6M442.1 309.3h.6M446.2 306.7h.6M456.2 325.0h.6M458.3 341.7h.6M439.2 354.0h.6M449.0 308.2h.6M457.5 342.2h.6M435.5 312.0h.6M435.3 348.8h.6M443.0 309.5h.6M455.4 315.7h.6M456.7 334.6h.6M432.1 343.0h.6M433.0 328.7h.6M455.5 316.0h.6M433.4 315.4h.6M455.4 333.0h.6M455.7 319.0h.6M432.9 325.9h.6M435.3 313.2h.6M433.3 337.1h.6M434.6 347.7h.6M431.5 326.5h.6M456.0 324.0h.6M431.7 337.7h.6M456.4 335.7h.6M455.9 342.1h.6M437.4 350.5h.6M432.7 326.4h.6M431.8 338.9h.6M447.3 351.6h.6M455.7 336.2h.6M443.4 352.2h.6M438.0 310.6h.6M439.3 352.8h.6M437.4 310.7h.6M433.5 343.3h.6M448.3 353.6h.6M435.4 313.0h.6M451.7 309.6h.6M455.6 347.0h.6M432.2 326.2h.6M456.7 333.0h.6M433.0 340.2h.6M438.3 351.7h.6M455.5 327.5h.6M442.2 352.7h.6M432.4 322.2h.6M454.2 349.4h.6M438.5 308.7h.6M433.5 346.1h.6M446.8 353.1h.6M432.9 322.9h.6M432.6 329.3h.6M453.6 314.4h.6M436.2 350.4h.6M451.9 350.7h.6M432.5 320.6h.6M437.9 352.5h.6M431.2 327.9h.6M431.4 320.9h.6M451.9 310.4h.6M450.9 352.4h.6M431.8 332.3h.6M436.4 350.4h.6M456.7 327.2h.6M452.2 350.3h.6M453.1 351.8h.6M441.3 309.4h.6M453.1 349.0h.6M456.1 318.5h.6M455.7 337.2h.6M434.6 313.9h.6M432.5 327.5h.6M455.5 337.9h.6M432.1 336.5h.6M432.9 322.8h.6M440.5 351.6h.6M454.1 347.7h.6M432.9 321.4h.6M455.5 348.0h.6M434.2 313.5h.6M432.6 339.5h.6M433.2 314.7h.6M455.9 344.8h.6M444.2 308.1h.6M456.6 338.0h.6M454.9 352.7h.6M431.7 329.0h.6M455.8 324.5h.6M431.4 340.6h.6M445.8 308.5h.6M432.4 315.0h.6M456.9 320.7h.6M456.5 343.2h.6M432.6 337.3h.6M458.1 328.5h.6M456.1 334.9h.6M455.6 348.3h.6M432.9 320.5h.6M451.8 350.3h.6M455.4 345.1h.6M439.0 350.9h.6M432.4 324.1h.6M446.8 353.3h.6M441.7 354.0h.6M437.2 311.7h.6M456.8 325.4h.6M453.4 311.1h.6M438.4 352.9h.6M457.3 315.8h.6M456.5 346.6h.6M456.6 339.0h.6M445.7 306.3h.6M456.8 326.9h.6M456.6 326.4h.6M443.6 353.1h.6M447.6 309.3h.6M439.9 351.6h.6M449.7 352.0h.6M432.2 334.4h.6M431.9 326.6h.6" fill="none" stroke="#f4ec70" stroke-opacity="0.55" stroke-width="0.6"/>
<g stroke="#f0e870" stroke-opacity="0.6" stroke-width="0.35" filter="url(#fb3)">
<rect x="433.2" y="309.5" width="22.5" height="42.7" rx="10.3" fill="#fefbe0"/>
<rect x="434.7" y="310.6" width="19.5" height="40.6" rx="9.0" fill="#fdf9d1"/>
<rect x="436.2" y="311.6" width="16.5" height="38.4" rx="7.6" fill="#fbf6c2"/>
<rect x="437.7" y="312.7" width="13.5" height="36.3" rx="6.3" fill="#faf4ae"/>
<rect x="439.2" y="313.8" width="10.5" height="34.2" rx="5.0" fill="#fbf6bf"/>
<rect x="440.7" y="314.8" width="7.5" height="32.0" rx="3.6" fill="#fdfadc"/>
<rect x="442.2" y="315.9" width="4.5" height="29.9" rx="2.2" fill="#fffef4"/>
</g>
<g opacity="0.8" stroke="#eee470" stroke-opacity="0.5" stroke-width="0.35" filter="url(#fb3)">
<ellipse cx="442.0" cy="321.0" rx="8.00" ry="9.00" fill="#f8f290"/>
<ellipse cx="442.0" cy="321.0" rx="6.30" ry="7.09" fill="#faf4a8"/>
<ellipse cx="442.0" cy="321.0" rx="4.60" ry="5.17" fill="#fbf7c0"/>
<ellipse cx="442.0" cy="321.0" rx="2.90" ry="3.26" fill="#fdfbe0"/>
<ellipse cx="442.0" cy="321.0" rx="1.20" ry="1.35" fill="#ffffff"/>
</g>
</g>
<line x1="413.10" y1="270.50" x2="413.10" y2="355.50" stroke="#888" stroke-width="0.9"/>
<line x1="413.10" y1="355.50" x2="498.20" y2="355.50" stroke="#888" stroke-width="0.9"/>
<line x1="411.10" y1="276.80" x2="413.10" y2="276.80" stroke="#555" stroke-width="0.8"/>
<text x="408.10" y="279.50" font-size="7.7" text-anchor="end" fill="#111" stroke="#111" stroke-width="0.2">10<tspan font-size="4.77" dy="-2.93">5</tspan></text>
<line x1="411.10" y1="292.50" x2="413.10" y2="292.50" stroke="#555" stroke-width="0.8"/>
<text x="408.10" y="295.20" font-size="7.7" text-anchor="end" fill="#111" stroke="#111" stroke-width="0.2">10<tspan font-size="4.77" dy="-2.93">4</tspan></text>
<line x1="411.10" y1="308.20" x2="413.10" y2="308.20" stroke="#555" stroke-width="0.8"/>
<text x="408.10" y="310.90" font-size="7.7" text-anchor="end" fill="#111" stroke="#111" stroke-width="0.2">10<tspan font-size="4.77" dy="-2.93">3</tspan></text>
<line x1="411.10" y1="324.00" x2="413.10" y2="324.00" stroke="#555" stroke-width="0.8"/>
<text x="408.10" y="326.70" font-size="7.7" text-anchor="end" fill="#111" stroke="#111" stroke-width="0.2">10<tspan font-size="4.77" dy="-2.93">2</tspan></text>
<line x1="411.10" y1="335.10" x2="413.10" y2="335.10" stroke="#555" stroke-width="0.8"/>
<text x="408.10" y="337.80" font-size="7.7" text-anchor="end" fill="#111" stroke="#111" stroke-width="0.2">0</text>
<line x1="411.10" y1="346.00" x2="413.10" y2="346.00" stroke="#555" stroke-width="0.8"/>
<text x="408.10" y="348.70" font-size="7.7" text-anchor="end" fill="#111" stroke="#111" stroke-width="0.2">-10<tspan font-size="4.77" dy="-2.93">2</tspan></text>
<line x1="412.10" y1="277.50" x2="413.10" y2="277.50" stroke="#999" stroke-width="0.6"/>
<line x1="412.10" y1="282.50" x2="413.10" y2="282.50" stroke="#999" stroke-width="0.6"/>
<line x1="412.10" y1="287.50" x2="413.10" y2="287.50" stroke="#999" stroke-width="0.6"/>
<line x1="412.10" y1="292.50" x2="413.10" y2="292.50" stroke="#999" stroke-width="0.6"/>
<line x1="412.10" y1="297.50" x2="413.10" y2="297.50" stroke="#999" stroke-width="0.6"/>
<line x1="412.10" y1="302.50" x2="413.10" y2="302.50" stroke="#999" stroke-width="0.6"/>
<line x1="412.10" y1="307.50" x2="413.10" y2="307.50" stroke="#999" stroke-width="0.6"/>
<line x1="412.10" y1="312.50" x2="413.10" y2="312.50" stroke="#999" stroke-width="0.6"/>
<line x1="412.10" y1="317.50" x2="413.10" y2="317.50" stroke="#999" stroke-width="0.6"/>
<line x1="412.10" y1="322.50" x2="413.10" y2="322.50" stroke="#999" stroke-width="0.6"/>
<line x1="412.10" y1="327.50" x2="413.10" y2="327.50" stroke="#999" stroke-width="0.6"/>
<line x1="412.10" y1="332.50" x2="413.10" y2="332.50" stroke="#999" stroke-width="0.6"/>
<line x1="412.10" y1="337.50" x2="413.10" y2="337.50" stroke="#999" stroke-width="0.6"/>
<line x1="412.10" y1="342.50" x2="413.10" y2="342.50" stroke="#999" stroke-width="0.6"/>
<line x1="412.10" y1="347.50" x2="413.10" y2="347.50" stroke="#999" stroke-width="0.6"/>
<path d="M417.3 355.5v1.3M420.6 355.5v1.3M423.8 355.5v1.3M427.1 355.5v1.3M433.7 355.5v1.3M437.0 355.5v1.3M440.2 355.5v1.3M443.5 355.5v1.3M450.1 355.5v1.3M453.4 355.5v1.3M456.6 355.5v1.3M459.9 355.5v1.3M466.5 355.5v1.3M469.8 355.5v1.3M473.0 355.5v1.3M476.3 355.5v1.3M482.9 355.5v1.3M486.2 355.5v1.3M489.4 355.5v1.3M492.7 355.5v1.3" stroke="#666" stroke-width="0.5" fill="none"/>
<rect x="411.50" y="333.90" width="1.6" height="2.4" fill="#000"/>
<line x1="414.00" y1="355.50" x2="414.00" y2="357.30" stroke="#555" stroke-width="0.8"/>
<text x="0" y="0" font-size="7.9" text-anchor="end" fill="#222" transform="translate(416.80,362.40) rotate(-45)">0</text>
<line x1="430.40" y1="355.50" x2="430.40" y2="357.30" stroke="#555" stroke-width="0.8"/>
<text x="0" y="0" font-size="7.9" text-anchor="end" fill="#222" transform="translate(433.20,362.40) rotate(-45)">50K</text>
<line x1="446.80" y1="355.50" x2="446.80" y2="357.30" stroke="#555" stroke-width="0.8"/>
<text x="0" y="0" font-size="7.9" text-anchor="end" fill="#222" transform="translate(449.60,362.40) rotate(-45)">100K</text>
<line x1="463.20" y1="355.50" x2="463.20" y2="357.30" stroke="#555" stroke-width="0.8"/>
<text x="0" y="0" font-size="7.9" text-anchor="end" fill="#222" transform="translate(466.00,362.40) rotate(-45)">150K</text>
<line x1="479.60" y1="355.50" x2="479.60" y2="357.30" stroke="#555" stroke-width="0.8"/>
<text x="0" y="0" font-size="7.9" text-anchor="end" fill="#222" transform="translate(482.40,362.40) rotate(-45)">200K</text>
<line x1="496.00" y1="355.50" x2="496.00" y2="357.30" stroke="#555" stroke-width="0.8"/>
<text x="0" y="0" font-size="7.9" text-anchor="end" fill="#222" transform="translate(498.80,362.40) rotate(-45)">250K</text>
<rect x="413.10" y="270.90" width="84.80" height="57.90" fill="none" stroke="#a5173b" stroke-width="2.0"/>
<text x="470.10" y="284.70" font-size="13.2" font-weight="bold" fill="#a5173b">63%</text>
<rect x="413.10" y="389.60" width="85.10" height="85.00" fill="#fff" stroke="#c4c4c4" stroke-width="0.9"/>
<g clip-path="url(#cG3)">
<path d="M432.5 455.9h.6M428.6 450.5h.6M431.4 454.8h.6M440.0 455.0h.6M448.1 469.9h.6M447.4 465.0h.6M450.1 455.3h.6M452.8 455.6h.6M427.0 464.4h.6M451.2 459.3h.6M446.7 461.6h.6M439.4 459.4h.6M436.7 459.8h.6M445.2 465.3h.6M452.1 446.7h.6M441.1 469.5h.6M456.6 472.4h.6M442.8 455.0h.6M451.3 463.9h.6M447.5 459.0h.6M442.5 462.8h.6M443.4 462.9h.6M458.8 460.1h.6M442.8 450.9h.6M450.9 454.8h.6M453.2 457.8h.6M436.9 463.2h.6M439.9 460.6h.6M444.6 459.1h.6M438.9 466.4h.6M460.4 465.3h.6M443.8 468.8h.6M443.3 462.2h.6M445.8 458.3h.6M456.6 449.6h.6M444.3 457.5h.6M442.7 470.8h.6M458.8 460.1h.6M432.0 461.2h.6M442.2 450.9h.6M457.0 456.0h.6M451.8 462.7h.6M440.7 453.4h.6M443.2 470.3h.6M456.1 459.0h.6M441.7 462.3h.6M444.2 457.3h.6M448.8 470.6h.6M455.6 452.9h.6M452.1 454.4h.6M456.6 464.9h.6M451.1 462.4h.6M446.2 469.2h.6M432.6 463.5h.6M442.3 469.2h.6M454.7 466.5h.6M427.3 455.9h.6M448.8 466.6h.6M435.8 462.6h.6M439.0 460.1h.6M429.0 457.3h.6M446.0 470.6h.6M438.4 448.6h.6M442.2 458.8h.6M443.4 463.0h.6M464.4 454.5h.6M447.1 457.1h.6M447.2 475.2h.6M431.9 460.0h.6M445.4 462.5h.6M443.9 457.8h.6M436.4 459.7h.6M443.0 462.7h.6M445.9 460.6h.6M444.7 451.6h.6M439.5 454.0h.6M443.1 461.5h.6M446.7 462.4h.6M451.8 456.8h.6M440.4 465.5h.6M447.1 450.5h.6M440.8 462.6h.6M431.9 466.5h.6M462.2 466.9h.6M441.4 463.8h.6M442.9 459.9h.6M435.1 463.9h.6M441.9 457.4h.6M436.0 458.9h.6M436.3 466.7h.6M449.2 464.3h.6M443.6 465.5h.6M429.2 457.2h.6M458.3 459.3h.6M433.8 453.6h.6M445.9 458.6h.6M451.2 457.0h.6M448.8 463.8h.6M445.6 450.5h.6M450.6 462.4h.6M436.7 469.5h.6M448.4 458.7h.6M448.4 470.9h.6M450.3 463.1h.6M452.4 460.0h.6M458.6 470.8h.6M442.5 452.6h.6M440.2 457.7h.6M439.0 456.3h.6M454.6 458.6h.6M443.4 465.9h.6M437.5 455.6h.6M445.9 456.4h.6M430.3 467.8h.6M453.6 465.6h.6M441.1 455.8h.6M448.7 457.8h.6M433.3 461.2h.6M445.2 468.7h.6M456.3 464.0h.6M449.4 462.6h.6M451.1 460.2h.6M454.1 453.8h.6M446.7 461.6h.6M446.0 458.2h.6M441.6 464.1h.6M446.7 469.0h.6M448.8 468.0h.6M451.1 460.8h.6M456.9 453.0h.6M451.2 460.7h.6M452.5 460.6h.6M447.4 462.8h.6M454.1 458.4h.6M440.1 461.3h.6M448.8 465.7h.6M439.5 468.0h.6M449.5 458.3h.6M454.6 453.0h.6M450.1 456.2h.6M434.2 468.0h.6M422.5 463.9h.6M450.9 462.4h.6M443.1 452.7h.6M444.8 462.5h.6M444.8 466.1h.6M445.9 459.5h.6M431.6 466.5h.6M459.0 456.0h.6M445.3 465.3h.6M449.8 460.2h.6M439.7 461.6h.6M452.6 452.9h.6M436.1 457.7h.6M440.9 455.8h.6M441.2 453.6h.6M449.6 462.9h.6M452.7 470.4h.6M445.8 460.2h.6M458.7 458.4h.6M438.2 466.6h.6M440.9 458.7h.6M440.8 467.9h.6M447.4 455.0h.6M447.2 463.3h.6M447.5 457.6h.6M432.3 471.5h.6M433.8 456.8h.6M442.5 460.3h.6M448.3 465.1h.6M444.2 468.9h.6M457.4 460.2h.6M440.7 462.2h.6M441.4 452.1h.6M439.0 466.0h.6M453.4 462.4h.6M444.2 449.6h.6M448.4 457.0h.6M445.7 457.4h.6M443.0 462.9h.6M445.2 463.8h.6M431.7 466.3h.6M439.1 457.9h.6M440.3 456.2h.6M458.5 460.1h.6M449.9 456.2h.6M445.6 457.6h.6M444.8 469.4h.6M439.0 464.9h.6M452.0 462.1h.6M451.9 474.6h.6M437.6 463.6h.6M437.9 468.6h.6M443.0 459.3h.6M450.2 459.1h.6M441.3 460.1h.6M448.7 461.0h.6M455.9 459.1h.6M442.8 467.2h.6M448.8 460.9h.6M445.3 459.1h.6M450.4 458.2h.6M436.3 456.4h.6M447.4 465.2h.6M443.8 461.6h.6M445.1 456.7h.6M456.8 457.6h.6M447.2 457.4h.6M442.7 465.8h.6M447.9 455.5h.6M432.3 463.1h.6M449.2 466.6h.6M450.2 452.3h.6M450.5 459.1h.6M437.1 451.3h.6M434.8 457.9h.6M443.0 459.0h.6M445.0 452.7h.6M441.3 464.1h.6M443.4 455.1h.6M446.0 471.5h.6M442.7 460.8h.6M429.3 456.2h.6M440.2 459.8h.6M446.5 464.1h.6M450.6 450.9h.6M448.7 449.8h.6M438.0 459.7h.6M440.8 459.7h.6M446.6 463.6h.6M434.7 460.2h.6M444.0 465.2h.6M445.6 461.4h.6M438.0 465.7h.6M449.5 459.9h.6M439.9 462.1h.6M448.5 468.6h.6M436.1 464.6h.6M443.6 461.3h.6M435.8 471.2h.6M448.5 459.1h.6M445.7 465.3h.6M445.8 460.3h.6M447.8 457.0h.6M443.5 464.1h.6M444.5 458.7h.6M441.0 463.7h.6M442.0 459.1h.6M442.7 468.9h.6M449.0 460.7h.6M445.9 460.2h.6M441.1 452.9h.6M443.2 460.6h.6M448.4 461.8h.6M448.2 468.1h.6M442.9 469.7h.6M432.7 459.4h.6M433.4 457.2h.6M452.8 466.9h.6M446.3 450.3h.6M435.4 451.7h.6M447.6 459.8h.6M441.8 464.5h.6M444.2 466.0h.6M447.8 445.2h.6M437.3 457.6h.6M440.6 458.2h.6M441.1 456.6h.6M441.3 461.2h.6M440.4 468.1h.6M442.9 462.4h.6M439.8 468.9h.6M441.4 463.7h.6M449.7 453.7h.6M453.1 464.7h.6M446.3 455.2h.6M450.6 454.8h.6M446.0 460.9h.6M450.0 455.9h.6M466.1 461.4h.6M427.9 454.0h.6M444.1 469.5h.6M451.0 468.0h.6M438.8 461.2h.6M438.1 457.0h.6M443.0 460.0h.6M441.0 472.3h.6M438.7 457.2h.6M453.7 464.2h.6M439.9 471.9h.6M440.1 470.0h.6M440.6 468.2h.6M455.1 453.4h.6M439.7 470.9h.6M441.7 457.9h.6M445.5 464.4h.6M434.1 466.3h.6M438.3 460.3h.6M444.8 457.8h.6M453.1 459.8h.6M455.6 461.4h.6M437.1 458.8h.6M444.3 461.2h.6M450.4 453.4h.6M448.3 452.6h.6M432.7 455.0h.6M435.1 463.7h.6M439.9 468.3h.6M444.8 453.3h.6M441.0 465.5h.6M451.3 462.0h.6M438.1 464.1h.6M447.5 464.0h.6M439.1 465.3h.6M450.5 452.4h.6M442.5 463.5h.6M444.3 465.1h.6M446.0 462.4h.6M450.6 469.1h.6M449.0 463.1h.6M440.2 456.4h.6M440.1 463.8h.6M452.0 461.1h.6M443.9 468.7h.6M440.6 467.4h.6M449.3 462.7h.6M448.2 469.5h.6M446.6 461.2h.6M445.0 466.3h.6M444.8 466.2h.6M445.8 466.1h.6M445.3 464.8h.6M449.8 462.5h.6M442.2 463.8h.6M444.4 453.5h.6M441.9 455.1h.6M437.0 468.2h.6M459.5 462.6h.6M446.8 467.5h.6M440.5 450.6h.6M442.6 464.6h.6M451.0 463.8h.6M441.6 466.8h.6M453.7 461.7h.6M433.4 454.3h.6M453.1 469.5h.6M458.7 467.2h.6M442.1 446.0h.6M445.2 447.5h.6M439.9 460.6h.6M447.8 463.2h.6M439.3 462.5h.6M438.8 459.9h.6M452.1 462.6h.6M449.7 462.1h.6M437.3 466.8h.6M449.6 464.4h.6M441.8 459.3h.6M444.0 464.3h.6M428.9 453.0h.6M446.7 457.4h.6M440.4 460.6h.6M437.5 462.3h.6M451.8 465.9h.6M440.6 460.0h.6M456.3 460.0h.6M452.7 453.2h.6M441.9 464.5h.6M457.0 456.0h.6M444.5 461.8h.6M435.5 459.9h.6M444.1 459.1h.6M441.6 468.5h.6M443.0 457.8h.6M451.3 448.2h.6M456.3 456.7h.6M442.0 464.4h.6M437.2 462.0h.6M451.2 458.8h.6M443.2 458.4h.6M449.1 450.6h.6M437.5 456.1h.6M438.8 463.2h.6M448.6 458.8h.6M435.6 456.3h.6M442.0 466.8h.6M449.3 457.3h.6M465.2 459.3h.6M442.8 462.9h.6M428.8 468.2h.6M435.9 457.9h.6M444.9 467.3h.6M445.1 466.0h.6M452.9 463.0h.6M442.9 462.0h.6M448.5 460.7h.6M434.6 459.9h.6M454.3 465.2h.6M443.7 461.3h.6M436.1 465.4h.6M441.0 454.7h.6M457.7 455.7h.6M453.9 470.4h.6M444.6 457.7h.6M426.9 465.6h.6M442.8 463.4h.6M449.5 468.2h.6M455.7 455.4h.6M446.0 461.2h.6M454.6 451.8h.6M436.6 468.2h.6M445.2 455.4h.6M449.3 463.0h.6M442.3 461.8h.6M447.1 448.6h.6M455.8 460.9h.6M448.5 464.1h.6M434.1 460.8h.6M447.5 462.1h.6M438.4 443.6h.6M431.3 457.6h.6M449.1 463.5h.6M439.4 463.6h.6M445.6 453.5h.6M439.1 462.5h.6M435.0 459.3h.6M453.6 458.9h.6M444.8 452.3h.6M454.7 468.2h.6M441.5 464.4h.6M458.3 455.6h.6M461.3 455.1h.6M454.3 469.5h.6M442.9 464.9h.6M439.0 459.1h.6M450.1 449.5h.6M446.0 456.5h.6M442.7 454.2h.6M445.4 467.6h.6M430.4 456.2h.6M439.0 455.3h.6M460.9 456.8h.6M451.3 459.9h.6M452.1 463.7h.6M452.3 461.6h.6M449.1 447.9h.6M441.3 458.7h.6M453.7 458.2h.6M444.2 454.6h.6M451.9 455.9h.6M447.7 451.7h.6M431.3 461.1h.6M447.9 453.8h.6M447.8 463.0h.6M460.6 456.9h.6M447.8 461.6h.6M442.4 462.7h.6M439.0 458.1h.6M445.7 458.8h.6M441.2 471.6h.6M446.7 469.7h.6M444.3 466.3h.6M443.0 460.2h.6M445.2 467.7h.6M439.5 446.3h.6M449.1 462.5h.6M451.3 471.3h.6M449.0 456.6h.6M447.3 457.8h.6M448.4 456.8h.6M442.7 462.8h.6M443.2 464.6h.6M432.6 457.4h.6M440.8 455.5h.6M441.0 462.2h.6M446.8 458.1h.6M445.7 461.9h.6M453.2 458.4h.6M451.2 459.0h.6M443.9 455.8h.6M453.4 453.4h.6M461.3 460.9h.6M453.9 468.4h.6M449.8 465.0h.6M442.7 450.3h.6M445.0 455.4h.6M449.9 454.6h.6M451.4 450.3h.6M456.8 461.1h.6M448.6 468.5h.6M444.7 460.8h.6M451.8 456.9h.6M441.2 461.4h.6M436.2 462.0h.6M440.2 458.7h.6M442.2 465.1h.6M436.7 454.3h.6M443.3 458.8h.6M438.1 467.7h.6M439.4 457.5h.6M438.4 463.8h.6M437.4 460.7h.6M444.2 466.1h.6M448.1 463.1h.6M451.3 461.2h.6M448.6 464.0h.6M451.1 456.9h.6M434.3 467.4h.6M434.9 457.5h.6M436.8 461.1h.6M456.2 461.2h.6M436.0 459.4h.6M453.0 464.1h.6M446.0 465.1h.6M438.3 456.8h.6M451.6 458.7h.6M435.6 466.9h.6M452.6 464.1h.6M439.7 457.9h.6M439.4 465.2h.6M422.2 462.6h.6M450.8 457.3h.6M449.7 462.0h.6M447.0 461.0h.6M442.8 459.0h.6M448.4 456.8h.6M450.1 458.2h.6M438.9 459.2h.6M445.8 455.0h.6M456.7 451.9h.6M458.9 457.2h.6M435.5 455.8h.6M445.0 458.4h.6M435.5 456.5h.6M451.4 459.0h.6M440.5 461.0h.6M451.3 463.0h.6M452.1 452.7h.6M444.7 464.1h.6M447.9 472.7h.6M438.2 460.9h.6M434.4 453.4h.6M444.8 456.8h.6M443.9 456.8h.6M439.0 464.0h.6M458.8 467.9h.6M452.7 470.0h.6M452.9 461.6h.6M441.2 463.4h.6M443.5 464.3h.6M449.9 463.5h.6M442.1 461.5h.6M444.9 460.4h.6M450.4 466.1h.6M423.7 458.9h.6M445.7 457.4h.6M429.4 458.6h.6M458.9 464.7h.6M449.2 464.3h.6M447.7 454.5h.6M443.8 469.7h.6M456.3 462.8h.6M456.8 469.1h.6M447.5 467.5h.6M448.5 456.8h.6M447.2 463.8h.6M448.5 465.8h.6M442.6 459.3h.6M449.5 461.9h.6M446.1 462.5h.6M442.9 463.0h.6M441.7 459.8h.6M451.4 455.1h.6M443.4 461.3h.6M449.2 448.5h.6M453.7 461.3h.6M436.9 464.0h.6M436.4 452.6h.6M435.5 457.6h.6M446.0 454.0h.6M440.7 456.5h.6M453.4 459.0h.6M451.6 465.5h.6M443.5 466.8h.6M443.4 456.0h.6M451.9 460.0h.6M443.4 469.3h.6M437.6 450.6h.6M445.2 466.1h.6M440.4 467.9h.6M442.9 449.8h.6M451.4 459.6h.6M435.4 464.4h.6M441.8 456.5h.6M457.8 456.6h.6M435.1 463.0h.6M440.8 462.1h.6M432.2 457.8h.6M455.5 468.4h.6M441.0 470.9h.6M447.9 453.5h.6M444.9 456.5h.6M437.8 465.3h.6M442.2 453.6h.6M445.1 454.8h.6M438.4 456.2h.6M441.1 467.8h.6M434.9 468.1h.6M437.4 452.1h.6M436.8 463.0h.6M439.4 460.2h.6M440.5 456.8h.6M438.7 467.1h.6M455.2 458.8h.6M440.4 468.5h.6M443.5 453.5h.6M440.0 458.6h.6M446.8 460.3h.6M447.9 465.0h.6M445.7 465.1h.6M426.8 461.4h.6M427.9 461.5h.6M442.8 463.4h.6M454.8 463.8h.6M457.9 453.3h.6M448.3 467.7h.6M447.5 458.2h.6M448.2 463.4h.6M444.4 463.9h.6M452.0 452.9h.6M439.7 460.7h.6M448.9 466.8h.6M456.8 461.7h.6M435.1 461.1h.6M449.9 458.8h.6M447.3 463.9h.6M450.3 467.4h.6M440.0 466.6h.6M453.5 465.3h.6M443.5 456.9h.6M439.4 455.2h.6M459.4 464.4h.6M448.9 470.9h.6M450.2 465.1h.6M458.4 473.5h.6M461.7 460.6h.6M436.2 458.6h.6M451.2 462.7h.6M449.5 453.1h.6M443.4 458.6h.6M452.8 460.2h.6M443.6 464.0h.6M456.6 460.3h.6M447.7 470.0h.6M436.3 463.9h.6M446.5 461.1h.6M439.5 464.8h.6M444.4 455.3h.6M438.0 463.0h.6M442.9 458.7h.6M455.9 458.6h.6M438.7 462.1h.6M444.0 466.1h.6M443.7 470.2h.6M457.0 465.2h.6M437.0 469.6h.6M453.7 453.9h.6M452.6 453.9h.6M449.5 463.7h.6M441.0 467.5h.6M449.3 458.1h.6M449.0 464.1h.6M442.0 456.6h.6M446.0 457.0h.6M432.9 468.4h.6M448.4 449.8h.6M440.0 463.8h.6M433.3 458.4h.6M449.4 459.7h.6M441.9 457.1h.6M431.0 459.3h.6M448.7 469.4h.6M453.4 453.6h.6M446.6 452.2h.6M448.2 476.0h.6M433.0 461.7h.6M442.7 462.3h.6M445.3 467.3h.6M448.1 460.6h.6M439.6 460.7h.6M439.4 457.5h.6M434.4 463.2h.6M451.8 461.8h.6M457.6 459.9h.6M434.0 461.5h.6M446.8 458.4h.6M444.5 455.7h.6M450.5 462.0h.6M454.7 465.2h.6M439.4 458.5h.6M437.5 464.1h.6M436.0 467.9h.6M444.0 461.2h.6M452.6 464.2h.6M452.4 461.7h.6M438.5 462.4h.6M453.6 466.3h.6M456.2 460.6h.6M455.7 466.5h.6M448.7 458.2h.6M438.6 454.7h.6M438.9 459.3h.6M445.7 463.1h.6M445.6 466.1h.6M451.1 454.1h.6M453.1 459.0h.6M439.0 459.2h.6M442.4 458.5h.6M428.4 457.9h.6M447.4 462.9h.6M456.5 461.1h.6M445.0 458.0h.6M446.2 470.9h.6M437.1 458.5h.6M441.8 461.6h.6M436.3 469.2h.6M445.3 455.4h.6M447.0 478.9h.6M456.9 457.5h.6M458.4 458.7h.6M439.5 448.4h.6M439.5 470.0h.6M448.3 460.7h.6M447.5 466.0h.6M451.9 461.6h.6M453.9 468.8h.6M439.7 465.5h.6M451.9 466.0h.6M442.9 457.7h.6M451.9 464.6h.6M448.0 455.5h.6M456.1 453.0h.6M447.0 468.1h.6M443.7 468.5h.6M441.1 467.5h.6M448.7 468.2h.6M449.6 451.7h.6M438.7 459.6h.6M445.8 453.1h.6M440.2 458.6h.6M446.4 465.5h.6M446.6 469.9h.6M456.0 451.8h.6M449.8 458.9h.6M450.2 463.4h.6M447.6 462.4h.6M448.0 458.2h.6M447.2 465.8h.6M445.1 463.3h.6M444.0 458.4h.6M453.4 452.6h.6M452.4 461.4h.6M440.1 460.4h.6M446.0 459.6h.6M439.4 466.4h.6M455.8 460.3h.6M442.6 463.3h.6M444.8 472.2h.6M445.8 457.6h.6M437.0 465.1h.6M435.4 467.3h.6M451.7 464.8h.6M456.1 461.3h.6M439.1 459.0h.6M462.3 463.9h.6M445.5 472.9h.6M450.4 463.2h.6M443.1 469.3h.6M452.9 467.7h.6M449.5 448.2h.6M455.0 455.1h.6M440.4 459.4h.6M444.5 459.0h.6M451.0 462.0h.6M446.7 465.1h.6M454.2 468.7h.6M442.1 459.6h.6M449.1 465.4h.6M438.5 464.8h.6M446.2 457.8h.6M448.7 445.8h.6M443.1 465.7h.6M445.6 465.6h.6M445.3 463.1h.6M441.4 461.8h.6M448.1 467.0h.6M427.0 467.0h.6M443.3 450.6h.6M446.1 464.2h.6M442.2 459.1h.6M444.3 458.7h.6M451.2 454.6h.6M451.6 461.3h.6M448.5 459.6h.6M447.1 462.8h.6M437.5 457.5h.6M452.9 459.2h.6M447.6 453.2h.6M449.2 464.0h.6M459.3 450.5h.6M458.1 459.2h.6M447.4 474.0h.6M450.7 459.2h.6M444.7 454.8h.6M437.9 465.1h.6M434.0 463.6h.6M454.5 456.6h.6M445.6 456.4h.6M435.7 457.7h.6M458.2 461.3h.6M450.3 463.0h.6M444.5 458.5h.6M442.1 457.0h.6M443.4 459.7h.6M448.3 464.5h.6M447.9 456.8h.6M454.4 461.1h.6M428.6 463.5h.6M449.3 463.1h.6M447.1 463.8h.6M437.8 453.9h.6M450.6 463.7h.6M454.3 463.8h.6M452.8 460.7h.6M445.9 465.1h.6M445.3 458.8h.6M452.1 467.9h.6M440.9 453.1h.6M453.4 469.4h.6M436.7 449.9h.6M460.7 457.4h.6M451.1 465.4h.6M444.5 465.3h.6M443.4 458.9h.6M439.6 467.8h.6M460.1 457.8h.6M443.9 461.7h.6M441.9 459.2h.6M451.5 456.2h.6M453.0 463.2h.6M444.3 458.1h.6M455.3 468.6h.6M440.2 475.9h.6M450.4 458.1h.6M442.1 450.4h.6M458.9 455.5h.6M458.4 465.7h.6M453.0 452.5h.6M442.7 472.5h.6M440.2 462.4h.6M442.4 456.9h.6M437.3 465.2h.6M446.3 470.8h.6M437.2 457.8h.6M446.8 454.2h.6M441.6 468.5h.6M438.4 461.5h.6M459.0 451.5h.6M452.2 467.1h.6M439.6 464.4h.6M445.5 469.1h.6M450.7 454.7h.6M443.5 457.1h.6M447.6 467.7h.6M448.6 463.6h.6M453.2 458.8h.6M426.4 452.3h.6M437.3 475.0h.6M445.6 458.0h.6M449.0 456.4h.6M437.5 466.1h.6M449.1 457.7h.6M442.3 461.0h.6M440.0 469.1h.6M443.9 465.1h.6M446.3 469.4h.6M442.9 458.3h.6M453.9 458.2h.6M449.1 456.7h.6M450.7 461.4h.6M437.6 473.8h.6M448.1 460.1h.6M444.7 473.3h.6M436.3 460.0h.6M439.2 458.8h.6M446.7 458.1h.6M436.8 462.4h.6M441.0 471.7h.6M445.6 467.7h.6M455.4 456.6h.6" fill="none" stroke="#e02828" stroke-opacity="0.7" stroke-width="0.6"/>
<path d="M434.2 460.0h.6M441.9 463.9h.6M451.8 454.8h.6M444.4 457.4h.6M461.6 452.3h.6M436.8 458.2h.6M456.6 447.5h.6M466.0 462.7h.6M456.9 459.7h.6M438.8 457.3h.6M449.2 467.3h.6M448.7 457.1h.6M440.1 448.7h.6M446.4 458.6h.6M449.8 467.4h.6M428.2 466.4h.6M446.3 448.6h.6M450.9 455.3h.6M452.7 466.3h.6M443.1 457.5h.6M449.4 462.6h.6M440.7 455.1h.6M457.0 464.6h.6M440.6 465.8h.6M459.0 472.1h.6M455.8 465.1h.6M462.3 463.6h.6M437.2 459.7h.6M453.4 459.6h.6M452.4 469.5h.6M447.6 464.0h.6M451.1 452.2h.6M460.1 459.2h.6M458.1 458.0h.6M414.3 467.1h.6M441.9 473.9h.6M453.2 474.0h.6M429.6 472.6h.6M446.9 462.2h.6M454.6 457.3h.6M438.3 448.0h.6M441.5 470.4h.6M451.6 442.3h.6M450.4 465.2h.6M438.5 454.6h.6M470.7 455.8h.6M442.8 462.0h.6M445.2 461.0h.6M442.4 459.6h.6M438.0 453.4h.6M441.3 478.6h.6M448.5 458.2h.6M442.3 469.0h.6M432.0 457.6h.6M467.8 460.9h.6M446.1 447.1h.6M443.7 458.4h.6M462.6 465.2h.6M454.0 456.6h.6M460.0 472.8h.6M427.3 460.7h.6M451.4 457.2h.6M451.7 465.6h.6M427.7 450.5h.6M454.8 452.4h.6M444.4 466.6h.6M427.2 457.4h.6M430.3 474.1h.6M461.0 462.2h.6M437.2 460.3h.6M456.2 457.3h.6M460.3 450.3h.6M442.3 452.9h.6M458.1 468.0h.6M438.1 452.6h.6M451.7 458.4h.6M463.8 464.6h.6M439.5 446.8h.6M459.5 451.5h.6M434.5 447.5h.6M458.1 470.7h.6M460.4 456.8h.6M433.8 451.1h.6M437.5 451.4h.6M453.3 455.7h.6M471.4 443.2h.6M443.5 452.2h.6M440.7 446.1h.6M434.4 475.1h.6M450.7 463.2h.6M433.4 459.4h.6M452.8 458.1h.6M459.1 467.8h.6M444.9 452.4h.6M447.2 458.8h.6M427.9 465.5h.6M432.7 463.2h.6M449.4 463.4h.6M455.1 456.8h.6M463.4 461.0h.6M454.4 453.1h.6M448.1 463.3h.6M439.3 465.2h.6M444.2 467.4h.6M427.2 455.7h.6M427.2 465.4h.6M447.1 460.1h.6M454.0 451.5h.6M447.9 460.4h.6M431.9 473.3h.6M448.2 462.6h.6M443.8 455.2h.6M461.5 447.7h.6M444.0 449.3h.6M446.4 478.1h.6M455.2 455.6h.6M443.6 459.4h.6M438.9 453.2h.6M447.2 444.5h.6M443.4 463.9h.6M442.3 445.3h.6M446.4 473.5h.6M446.3 449.6h.6M444.5 470.4h.6M455.0 460.5h.6M451.5 473.6h.6M443.4 454.8h.6M445.7 458.0h.6M456.6 455.7h.6M462.9 453.4h.6M468.5 468.0h.6M466.5 463.6h.6M462.3 465.1h.6M434.0 454.2h.6M474.4 471.6h.6M460.3 461.5h.6M427.2 468.4h.6M445.9 454.6h.6M460.8 459.6h.6M453.7 459.1h.6M461.4 450.8h.6M438.5 485.0h.6M453.7 447.1h.6M439.9 449.6h.6M432.0 473.1h.6M453.6 463.6h.6M454.0 456.3h.6M451.1 466.5h.6M450.9 463.8h.6M434.8 439.2h.6M430.2 449.4h.6M451.7 466.3h.6M438.3 458.2h.6M457.2 446.9h.6M434.3 451.9h.6M441.5 457.0h.6M447.0 469.9h.6M451.7 452.3h.6M451.6 444.4h.6M447.9 438.1h.6M443.8 464.9h.6M460.2 460.3h.6M442.5 452.1h.6M445.5 476.1h.6M468.2 461.1h.6M457.2 470.2h.6M448.0 466.9h.6M441.3 462.8h.6M459.7 462.9h.6M444.0 458.2h.6M447.1 451.5h.6M427.9 451.4h.6M445.5 447.6h.6M447.1 452.3h.6M449.2 467.4h.6M449.6 449.3h.6M447.9 436.5h.6M444.4 458.9h.6M476.5 469.4h.6M444.8 454.9h.6M440.8 454.5h.6M454.0 445.9h.6M455.9 461.5h.6M433.0 479.2h.6M445.4 462.2h.6M445.6 466.5h.6M444.4 449.7h.6M443.8 465.7h.6M425.0 466.5h.6M459.7 447.9h.6M466.5 468.3h.6M419.3 459.1h.6M440.3 458.4h.6M447.1 454.2h.6M433.6 455.2h.6M443.0 450.8h.6M458.9 460.7h.6M442.4 446.0h.6M438.0 447.7h.6M453.7 456.1h.6M459.4 462.6h.6M429.9 466.9h.6M434.3 447.3h.6M453.0 448.9h.6M432.6 443.8h.6M436.2 458.5h.6M448.7 468.4h.6M436.3 468.0h.6M440.8 458.1h.6M427.4 456.3h.6M445.4 469.4h.6M450.2 460.9h.6M445.2 459.9h.6M446.3 455.0h.6M431.2 458.6h.6M446.9 463.6h.6M443.7 454.7h.6M446.9 455.8h.6M445.8 462.4h.6M447.1 463.2h.6M449.1 467.6h.6M457.0 448.9h.6M442.6 455.8h.6M440.4 457.6h.6M453.0 459.0h.6M448.0 463.6h.6M432.8 453.9h.6M454.9 452.0h.6M448.5 455.5h.6M442.1 454.2h.6M425.2 451.2h.6M464.0 455.3h.6M445.6 453.8h.6M448.5 454.1h.6M459.7 451.7h.6M456.3 458.5h.6M431.8 464.4h.6M444.4 466.9h.6M445.4 461.5h.6M469.1 460.0h.6M428.8 465.4h.6M433.5 459.5h.6M454.4 447.6h.6M444.7 471.6h.6M430.9 461.6h.6M463.5 474.5h.6M437.0 489.6h.6M426.9 455.2h.6M445.2 467.0h.6M468.5 451.7h.6M443.4 457.4h.6M445.5 463.7h.6M440.5 446.6h.6M462.8 456.6h.6M448.6 447.2h.6M442.6 460.1h.6M432.4 472.1h.6M439.5 453.5h.6M441.8 453.7h.6M429.3 459.9h.6M464.6 454.7h.6M438.1 462.7h.6M470.0 462.4h.6M452.2 456.7h.6M461.1 477.7h.6M449.8 465.7h.6M469.6 460.9h.6M448.2 472.3h.6M422.2 445.2h.6M428.9 454.7h.6M442.6 455.3h.6M455.0 456.3h.6M456.1 467.3h.6M437.6 470.6h.6M453.6 463.0h.6M449.9 458.0h.6M435.4 457.9h.6M443.9 467.9h.6M445.1 459.1h.6M451.7 453.1h.6M461.1 474.2h.6M460.3 456.4h.6M456.6 456.0h.6M443.2 448.4h.6M459.1 448.9h.6M439.8 455.2h.6M446.7 450.5h.6M458.1 454.8h.6M449.1 481.4h.6M432.6 464.0h.6M436.1 450.2h.6M455.0 449.7h.6M451.6 460.9h.6M460.3 451.4h.6M447.7 464.5h.6M440.9 452.9h.6M468.9 462.2h.6M444.3 455.5h.6M442.9 456.1h.6M442.5 431.0h.6M436.0 467.5h.6M456.6 448.5h.6M428.8 458.1h.6M446.9 457.0h.6M444.4 466.7h.6M450.1 458.5h.6M435.9 443.7h.6M446.1 457.4h.6M456.3 461.9h.6M435.1 459.6h.6M440.8 460.5h.6M431.6 463.0h.6M440.4 453.9h.6M437.9 445.3h.6M455.1 463.8h.6M433.7 467.9h.6M438.6 452.4h.6M436.7 461.1h.6M442.7 451.8h.6M422.9 450.9h.6M447.4 463.4h.6M465.3 463.8h.6M440.5 451.0h.6M452.1 448.6h.6M445.4 459.0h.6M436.6 473.0h.6M453.7 465.5h.6M449.1 450.4h.6M458.0 454.4h.6M439.9 475.1h.6M426.4 452.2h.6M439.9 450.3h.6M431.9 445.5h.6M443.4 453.2h.6M459.1 454.6h.6M450.0 450.8h.6M466.3 476.0h.6M442.8 462.7h.6M450.0 452.2h.6M463.3 458.7h.6M451.3 450.2h.6M441.1 468.9h.6M449.2 457.9h.6M432.4 454.4h.6M458.3 458.5h.6M454.8 457.9h.6M466.2 467.1h.6M446.5 450.5h.6M445.1 450.5h.6M430.6 453.1h.6" fill="none" stroke="#e02828" stroke-opacity="0.55" stroke-width="0.6"/>
<path d="M464.1 445.3h.6M465.9 432.2h.6M468.3 442.7h.6M470.3 424.4h.6M468.4 429.6h.6M464.7 427.3h.6M465.1 443.0h.6M464.0 429.3h.6M468.4 447.3h.6M463.8 434.5h.6M462.5 440.2h.6M466.1 427.5h.6M464.6 436.2h.6M466.5 436.4h.6M468.9 432.2h.6M458.4 437.9h.6M470.1 432.3h.6M463.7 440.5h.6M460.9 429.8h.6M464.1 428.4h.6M464.5 437.0h.6M458.8 431.9h.6M459.5 436.8h.6M461.1 434.5h.6M457.6 426.7h.6M465.0 434.0h.6M464.5 424.9h.6M467.0 441.7h.6M460.2 439.0h.6M456.3 429.8h.6M467.9 427.6h.6M463.1 432.1h.6M463.8 441.7h.6M472.6 425.6h.6M467.2 434.0h.6M465.5 425.1h.6M459.5 436.1h.6M458.3 439.4h.6M465.9 434.6h.6M464.0 426.3h.6M470.8 427.4h.6M462.4 430.8h.6M467.4 433.3h.6M461.0 438.7h.6M468.7 434.2h.6M461.1 436.5h.6M457.5 438.6h.6M468.0 442.5h.6M468.9 448.0h.6M454.5 430.1h.6M460.2 452.1h.6M458.4 440.6h.6M464.7 437.8h.6M471.8 434.1h.6M456.2 441.1h.6M460.3 444.0h.6M462.9 429.6h.6M467.9 442.4h.6M467.4 432.5h.6M464.4 435.4h.6M461.6 437.0h.6M464.7 442.1h.6M464.8 441.2h.6M460.7 434.5h.6M467.7 436.5h.6M461.4 435.4h.6M463.2 440.8h.6M461.7 435.6h.6M465.4 441.5h.6M462.1 437.3h.6M465.8 437.2h.6M464.8 447.7h.6M459.9 432.7h.6M462.2 440.3h.6M461.3 435.5h.6M464.7 437.0h.6M465.8 431.6h.6M463.8 431.3h.6M461.9 434.6h.6M461.4 440.1h.6M458.7 440.2h.6M465.2 448.1h.6M467.3 443.5h.6M462.6 446.4h.6M461.3 435.8h.6M462.4 431.4h.6M459.5 441.5h.6M460.0 435.9h.6M461.7 444.4h.6M462.5 426.5h.6M458.8 433.9h.6M469.2 434.9h.6M466.3 431.0h.6M458.3 440.4h.6M459.2 444.3h.6M463.4 439.9h.6M462.8 435.5h.6M462.5 442.0h.6M474.0 436.8h.6M462.9 438.4h.6M469.3 444.0h.6M459.2 448.3h.6M462.9 442.9h.6M465.8 438.9h.6M465.7 422.7h.6M464.3 446.9h.6M458.1 440.0h.6M464.1 436.9h.6M460.4 438.6h.6M465.2 435.5h.6" fill="none" stroke="#e03030" stroke-opacity="0.5" stroke-width="0.6"/>
<path d="M454.8 424.8h.6M459.4 426.7h.6M439.0 447.6h.6M462.0 431.1h.6M460.0 439.8h.6M450.1 422.7h.6M433.0 436.0h.6M455.6 447.6h.6M437.0 446.1h.6M441.0 450.4h.6M432.2 434.1h.6M457.1 424.9h.6M434.7 445.4h.6M463.2 428.0h.6M437.9 447.9h.6M450.2 423.9h.6M444.9 449.5h.6M462.3 428.6h.6M433.4 429.0h.6M433.4 437.2h.6M452.4 448.5h.6M452.7 451.4h.6M435.8 426.1h.6M455.7 446.0h.6M458.8 442.4h.6M442.3 425.3h.6M434.3 443.5h.6M455.1 449.6h.6M435.2 425.1h.6M459.5 439.6h.6M458.0 444.3h.6M455.2 423.2h.6M454.6 424.8h.6M463.1 430.2h.6M464.4 430.9h.6M455.4 424.6h.6M432.0 431.0h.6M464.0 426.6h.6M454.9 448.4h.6M436.3 424.5h.6M432.3 433.5h.6M452.7 422.7h.6M433.3 440.8h.6M459.4 439.6h.6M453.9 425.2h.6M442.7 422.0h.6M432.7 438.2h.6M461.2 436.0h.6M454.9 447.8h.6M463.6 438.8h.6M444.7 424.6h.6M456.7 444.1h.6M431.2 433.6h.6M437.7 447.7h.6M455.9 424.9h.6M439.1 447.1h.6M462.1 436.1h.6M448.6 422.6h.6M458.1 447.9h.6M456.3 425.1h.6M457.9 444.9h.6M445.8 449.7h.6M444.6 451.3h.6M439.6 449.1h.6M433.1 424.6h.6M455.4 447.0h.6M462.7 432.5h.6M432.9 434.1h.6M431.7 433.7h.6M433.1 439.0h.6M434.7 443.4h.6M451.7 425.4h.6M441.6 449.6h.6M459.3 441.1h.6M439.0 425.6h.6M432.5 445.4h.6M440.9 424.3h.6M463.1 435.8h.6M447.4 424.7h.6M436.8 426.7h.6M436.0 443.3h.6M433.2 435.6h.6M453.6 424.3h.6M432.0 432.1h.6M462.1 433.0h.6M431.9 435.7h.6M432.1 440.1h.6M454.5 425.7h.6M432.6 437.5h.6M434.7 426.8h.6M458.3 445.8h.6M445.7 449.9h.6M457.8 425.2h.6M459.2 442.3h.6M455.9 447.3h.6M432.1 436.6h.6M435.4 425.5h.6M444.6 422.9h.6M451.6 449.7h.6M446.4 448.8h.6M459.2 426.0h.6M432.0 432.2h.6M445.8 424.1h.6M462.0 429.9h.6M433.4 428.8h.6M434.9 442.7h.6M436.3 425.4h.6M435.8 444.2h.6M443.0 423.2h.6M457.0 425.0h.6M453.1 449.0h.6M437.6 447.1h.6M433.0 441.5h.6M431.1 432.4h.6M461.1 437.7h.6M460.7 438.2h.6M437.8 424.5h.6M461.9 436.0h.6M452.1 449.3h.6M437.0 447.5h.6M453.8 425.4h.6M433.7 436.8h.6M442.6 420.4h.6M452.1 448.8h.6M432.9 440.0h.6M432.4 434.1h.6M456.0 447.9h.6M434.1 441.8h.6M463.9 428.8h.6M461.2 426.4h.6M457.8 441.8h.6M434.0 444.4h.6M439.0 447.5h.6M461.9 427.6h.6M436.3 425.1h.6M450.6 424.0h.6M432.2 436.0h.6M445.6 423.4h.6M455.9 446.1h.6M462.0 430.8h.6M435.1 426.1h.6M431.8 427.4h.6M431.9 429.0h.6M440.1 423.6h.6M444.8 423.9h.6M432.9 434.1h.6M461.9 431.8h.6M440.1 422.9h.6M445.1 422.9h.6M448.3 423.2h.6M429.6 431.8h.6M456.7 424.5h.6M455.7 446.3h.6M434.0 439.4h.6M460.3 439.4h.6M447.0 450.1h.6M452.9 424.8h.6M443.8 424.8h.6M443.4 424.4h.6M462.3 431.0h.6M462.3 436.2h.6M436.4 444.4h.6M447.1 450.8h.6M433.5 443.7h.6M441.2 449.1h.6M453.3 424.7h.6M459.3 440.2h.6M432.5 435.2h.6M462.5 432.8h.6M460.8 428.2h.6M463.4 428.7h.6M447.9 448.9h.6M452.2 449.9h.6M462.1 427.5h.6M434.2 441.6h.6M434.2 429.1h.6M461.1 436.9h.6M461.3 435.7h.6M460.0 440.9h.6M441.4 449.6h.6M436.8 425.7h.6M433.7 428.5h.6M455.8 424.7h.6M454.5 447.3h.6M434.7 443.0h.6M460.0 441.1h.6M432.0 433.3h.6M461.2 437.2h.6M438.4 425.3h.6M455.4 423.7h.6M460.0 438.0h.6M459.7 439.0h.6M464.4 432.4h.6M454.7 425.2h.6M433.4 439.6h.6M434.4 443.9h.6M431.1 437.9h.6M462.0 428.3h.6M461.8 435.3h.6M432.5 438.2h.6M461.9 427.0h.6M447.6 449.7h.6M436.9 447.0h.6M449.2 424.7h.6M431.6 429.9h.6M440.7 424.9h.6M457.2 445.3h.6M433.5 443.4h.6M460.3 442.0h.6M433.2 438.7h.6M433.2 443.7h.6M432.9 430.1h.6M458.4 444.8h.6M445.0 452.1h.6M461.6 431.4h.6M439.3 448.6h.6M460.9 437.1h.6M431.2 429.8h.6M443.4 424.2h.6M445.3 423.1h.6M459.6 425.8h.6M460.7 434.7h.6M440.6 450.4h.6M436.5 425.5h.6M438.8 450.1h.6M442.2 450.4h.6M431.0 435.7h.6M435.7 426.4h.6M445.5 449.1h.6M436.8 446.5h.6M459.1 427.2h.6M446.3 423.5h.6M431.9 440.9h.6M437.9 424.9h.6M432.6 439.9h.6M462.7 435.0h.6M461.2 428.1h.6M460.9 437.8h.6M438.3 447.8h.6M460.9 428.2h.6M461.5 428.4h.6M443.2 424.2h.6M458.4 441.7h.6M431.2 440.1h.6M437.6 426.5h.6M433.2 438.8h.6M455.6 426.0h.6M457.0 443.9h.6M447.5 450.6h.6M431.9 430.6h.6M435.8 444.0h.6M430.5 430.1h.6M452.4 447.7h.6M446.2 424.3h.6M433.3 441.2h.6M430.0 432.9h.6M446.9 449.3h.6M439.1 449.8h.6M453.1 448.8h.6M459.8 427.0h.6M432.3 438.8h.6M442.1 449.9h.6M440.7 448.4h.6M453.7 449.2h.6M432.5 429.6h.6M460.3 441.4h.6M448.3 422.7h.6M463.3 428.9h.6M444.9 424.0h.6M448.2 449.7h.6M438.1 425.4h.6M461.1 435.9h.6M451.0 449.8h.6M439.0 449.1h.6M441.7 424.2h.6M436.8 447.7h.6M430.2 431.0h.6M460.0 426.8h.6M448.6 449.5h.6M448.7 449.7h.6M457.5 425.5h.6M434.1 426.3h.6M456.5 425.3h.6M445.5 449.7h.6M462.0 435.7h.6M432.1 433.2h.6M452.0 449.8h.6M458.3 426.5h.6M440.6 448.8h.6M449.6 450.2h.6M430.8 436.8h.6M457.2 445.0h.6M456.8 426.4h.6M433.3 440.0h.6M451.8 422.8h.6M432.3 435.2h.6M457.9 447.5h.6M463.1 433.5h.6M459.0 443.3h.6M462.1 428.6h.6" fill="none" stroke="#e03030" stroke-opacity="0.65" stroke-width="0.6"/>
<g stroke="#dd3333" stroke-opacity="0.55" stroke-width="0.35" filter="url(#fb3)">
<path d="M432.5 432.0C432.7 429.4 433.6 427.7 435.5 426.5C437.4 425.3 440.8 425.0 444.0 424.8C447.2 424.6 452.0 424.7 455.0 425.4C458.0 426.1 461.0 427.2 462.0 429.0C463.0 430.8 461.8 433.5 461.0 436.0C460.2 438.5 458.5 441.8 457.0 444.0C455.5 446.2 454.7 448.2 452.0 449.0C449.3 449.8 443.9 450.2 441.0 449.0C438.1 447.8 435.9 444.8 434.5 442.0C433.1 439.2 432.3 434.6 432.5 432.0Z" fill="#ef9090"/>
<path d="M434.0 432.2C434.2 430.0 435.0 428.5 436.7 427.4C438.3 426.4 441.3 426.1 444.1 425.9C447.0 425.8 451.1 425.8 453.8 426.4C456.4 427.1 459.1 428.1 459.9 429.6C460.8 431.2 459.8 433.6 459.1 435.8C458.3 438.0 456.9 440.9 455.5 442.8C454.2 444.7 453.5 446.4 451.1 447.2C448.8 447.9 444.0 448.2 441.5 447.2C438.9 446.2 437.0 443.5 435.8 441.0C434.5 438.5 433.9 434.5 434.0 432.2Z" fill="#f1a1a1"/>
<path d="M435.5 432.5C435.7 430.5 436.4 429.2 437.8 428.3C439.3 427.4 441.8 427.2 444.2 427.0C446.7 426.9 450.3 427.0 452.6 427.5C454.8 428.0 457.1 428.9 457.9 430.2C458.6 431.6 457.7 433.6 457.1 435.5C456.5 437.4 455.2 439.9 454.1 441.6C452.9 443.2 452.3 444.7 450.3 445.4C448.3 446.0 444.2 446.2 442.0 445.4C439.8 444.5 438.1 442.2 437.1 440.1C436.0 437.9 435.4 434.4 435.5 432.5Z" fill="#f4b2b2"/>
<path d="M437.1 432.7C437.2 431.1 437.7 430.0 439.0 429.2C440.2 428.5 442.3 428.3 444.4 428.2C446.4 428.0 449.4 428.1 451.4 428.5C453.3 429.0 455.2 429.7 455.8 430.8C456.4 431.9 455.7 433.7 455.2 435.3C454.6 436.9 453.6 439.0 452.6 440.4C451.7 441.7 451.1 443.0 449.4 443.5C447.8 444.1 444.3 444.3 442.5 443.5C440.6 442.8 439.2 440.9 438.3 439.1C437.4 437.3 436.9 434.4 437.1 432.7Z" fill="#f6c2c2"/>
<path d="M438.6 433.0C438.7 431.6 439.1 430.8 440.1 430.1C441.1 429.5 442.8 429.4 444.5 429.3C446.2 429.2 448.6 429.2 450.1 429.6C451.7 429.9 453.2 430.5 453.7 431.4C454.3 432.3 453.7 433.7 453.2 435.0C452.8 436.3 451.9 438.0 451.2 439.1C450.4 440.3 450.0 441.3 448.6 441.7C447.2 442.1 444.4 442.3 442.9 441.7C441.4 441.1 440.3 439.6 439.6 438.1C438.9 436.7 438.5 434.3 438.6 433.0Z" fill="#f8d1d1"/>
<path d="M440.1 433.2C440.2 432.2 440.5 431.5 441.3 431.1C442.0 430.6 443.3 430.5 444.6 430.4C445.9 430.3 447.8 430.3 448.9 430.6C450.1 430.9 451.3 431.3 451.7 432.0C452.1 432.7 451.6 433.8 451.3 434.8C451.0 435.8 450.3 437.1 449.7 437.9C449.1 438.8 448.8 439.6 447.8 439.9C446.7 440.2 444.6 440.4 443.4 439.9C442.3 439.4 441.4 438.3 440.9 437.1C440.3 436.0 440.0 434.2 440.1 433.2Z" fill="#fbe0e0"/>
<path d="M441.6 433.5C441.7 432.8 441.9 432.3 442.4 432.0C442.9 431.6 443.8 431.6 444.7 431.5C445.6 431.5 446.9 431.5 447.7 431.7C448.5 431.9 449.3 432.2 449.6 432.6C449.9 433.1 449.6 433.9 449.3 434.5C449.1 435.2 448.7 436.1 448.3 436.7C447.9 437.3 447.6 437.8 446.9 438.1C446.2 438.3 444.7 438.4 443.9 438.1C443.1 437.8 442.5 436.9 442.1 436.2C441.8 435.4 441.6 434.2 441.6 433.5Z" fill="#fdf0f0"/>
<path d="M443.1 433.7C443.1 433.3 443.3 433.1 443.6 432.9C443.9 432.7 444.4 432.6 444.9 432.6C445.3 432.6 446.1 432.6 446.5 432.7C446.9 432.8 447.4 433.0 447.6 433.2C447.7 433.5 447.5 433.9 447.4 434.3C447.3 434.7 447.0 435.2 446.8 435.5C446.6 435.8 446.5 436.1 446.1 436.2C445.6 436.4 444.8 436.4 444.4 436.2C444.0 436.1 443.6 435.6 443.4 435.2C443.2 434.8 443.1 434.1 443.1 433.7Z" fill="#ffffff"/>
</g>
<path d="M437.5 449.5C439.5 448.7 450.7 448.4 452.5 449.5C454.3 450.6 449.8 454.6 448.5 456.0C447.2 457.4 445.8 458.4 444.5 458.2C443.2 457.9 441.7 455.9 440.5 454.5C439.3 453.1 435.5 450.3 437.5 449.5Z" fill="#fff" stroke="#e04444" stroke-width="0.6" opacity="0.97"/>
</g>
<line x1="413.10" y1="389.60" x2="413.10" y2="474.60" stroke="#888" stroke-width="0.9"/>
<line x1="413.10" y1="474.60" x2="498.20" y2="474.60" stroke="#888" stroke-width="0.9"/>
<line x1="411.10" y1="395.90" x2="413.10" y2="395.90" stroke="#555" stroke-width="0.8"/>
<text x="408.10" y="398.60" font-size="7.7" text-anchor="end" fill="#111" stroke="#111" stroke-width="0.2">10<tspan font-size="4.77" dy="-2.93">5</tspan></text>
<line x1="411.10" y1="411.60" x2="413.10" y2="411.60" stroke="#555" stroke-width="0.8"/>
<text x="408.10" y="414.30" font-size="7.7" text-anchor="end" fill="#111" stroke="#111" stroke-width="0.2">10<tspan font-size="4.77" dy="-2.93">4</tspan></text>
<line x1="411.10" y1="427.30" x2="413.10" y2="427.30" stroke="#555" stroke-width="0.8"/>
<text x="408.10" y="430.00" font-size="7.7" text-anchor="end" fill="#111" stroke="#111" stroke-width="0.2">10<tspan font-size="4.77" dy="-2.93">3</tspan></text>
<line x1="411.10" y1="443.10" x2="413.10" y2="443.10" stroke="#555" stroke-width="0.8"/>
<text x="408.10" y="445.80" font-size="7.7" text-anchor="end" fill="#111" stroke="#111" stroke-width="0.2">10<tspan font-size="4.77" dy="-2.93">2</tspan></text>
<line x1="411.10" y1="454.20" x2="413.10" y2="454.20" stroke="#555" stroke-width="0.8"/>
<text x="408.10" y="456.90" font-size="7.7" text-anchor="end" fill="#111" stroke="#111" stroke-width="0.2">0</text>
<line x1="411.10" y1="465.10" x2="413.10" y2="465.10" stroke="#555" stroke-width="0.8"/>
<text x="408.10" y="467.80" font-size="7.7" text-anchor="end" fill="#111" stroke="#111" stroke-width="0.2">-10<tspan font-size="4.77" dy="-2.93">2</tspan></text>
<line x1="412.10" y1="396.60" x2="413.10" y2="396.60" stroke="#999" stroke-width="0.6"/>
<line x1="412.10" y1="401.60" x2="413.10" y2="401.60" stroke="#999" stroke-width="0.6"/>
<line x1="412.10" y1="406.60" x2="413.10" y2="406.60" stroke="#999" stroke-width="0.6"/>
<line x1="412.10" y1="411.60" x2="413.10" y2="411.60" stroke="#999" stroke-width="0.6"/>
<line x1="412.10" y1="416.60" x2="413.10" y2="416.60" stroke="#999" stroke-width="0.6"/>
<line x1="412.10" y1="421.60" x2="413.10" y2="421.60" stroke="#999" stroke-width="0.6"/>
<line x1="412.10" y1="426.60" x2="413.10" y2="426.60" stroke="#999" stroke-width="0.6"/>
<line x1="412.10" y1="431.60" x2="413.10" y2="431.60" stroke="#999" stroke-width="0.6"/>
<line x1="412.10" y1="436.60" x2="413.10" y2="436.60" stroke="#999" stroke-width="0.6"/>
<line x1="412.10" y1="441.60" x2="413.10" y2="441.60" stroke="#999" stroke-width="0.6"/>
<line x1="412.10" y1="446.60" x2="413.10" y2="446.60" stroke="#999" stroke-width="0.6"/>
<line x1="412.10" y1="451.60" x2="413.10" y2="451.60" stroke="#999" stroke-width="0.6"/>
<line x1="412.10" y1="456.60" x2="413.10" y2="456.60" stroke="#999" stroke-width="0.6"/>
<line x1="412.10" y1="461.60" x2="413.10" y2="461.60" stroke="#999" stroke-width="0.6"/>
<line x1="412.10" y1="466.60" x2="413.10" y2="466.60" stroke="#999" stroke-width="0.6"/>
<path d="M417.3 474.6v1.3M420.6 474.6v1.3M423.8 474.6v1.3M427.1 474.6v1.3M433.7 474.6v1.3M437.0 474.6v1.3M440.2 474.6v1.3M443.5 474.6v1.3M450.1 474.6v1.3M453.4 474.6v1.3M456.6 474.6v1.3M459.9 474.6v1.3M466.5 474.6v1.3M469.8 474.6v1.3M473.0 474.6v1.3M476.3 474.6v1.3M482.9 474.6v1.3M486.2 474.6v1.3M489.4 474.6v1.3M492.7 474.6v1.3" stroke="#666" stroke-width="0.5" fill="none"/>
<rect x="411.50" y="453.00" width="1.6" height="2.4" fill="#000"/>
<line x1="414.00" y1="474.60" x2="414.00" y2="476.40" stroke="#555" stroke-width="0.8"/>
<text x="0" y="0" font-size="7.9" text-anchor="end" fill="#222" transform="translate(416.80,481.50) rotate(-45)">0</text>
<line x1="430.40" y1="474.60" x2="430.40" y2="476.40" stroke="#555" stroke-width="0.8"/>
<text x="0" y="0" font-size="7.9" text-anchor="end" fill="#222" transform="translate(433.20,481.50) rotate(-45)">50K</text>
<line x1="446.80" y1="474.60" x2="446.80" y2="476.40" stroke="#555" stroke-width="0.8"/>
<text x="0" y="0" font-size="7.9" text-anchor="end" fill="#222" transform="translate(449.60,481.50) rotate(-45)">100K</text>
<line x1="463.20" y1="474.60" x2="463.20" y2="476.40" stroke="#555" stroke-width="0.8"/>
<text x="0" y="0" font-size="7.9" text-anchor="end" fill="#222" transform="translate(466.00,481.50) rotate(-45)">150K</text>
<line x1="479.60" y1="474.60" x2="479.60" y2="476.40" stroke="#555" stroke-width="0.8"/>
<text x="0" y="0" font-size="7.9" text-anchor="end" fill="#222" transform="translate(482.40,481.50) rotate(-45)">200K</text>
<line x1="496.00" y1="474.60" x2="496.00" y2="476.40" stroke="#555" stroke-width="0.8"/>
<text x="0" y="0" font-size="7.9" text-anchor="end" fill="#222" transform="translate(498.80,481.50) rotate(-45)">250K</text>
<rect x="414.10" y="389.90" width="84.50" height="57.60" fill="none" stroke="#a5173b" stroke-width="2.0"/>
<text x="470.60" y="403.40" font-size="13.2" font-weight="bold" fill="#a5173b">91%</text>
<line x1="384.5" y1="31.2" x2="384.5" y2="454.9" stroke="#111" stroke-width="1.1"/>
<g transform="translate(387.20,457.80) rotate(-90) scale(0.571,1)"><text x="0" y="0" font-size="10.8" text-anchor="end" font-weight="normal" font-style="normal" fill="#111"  stroke="#111" stroke-width="0.35">CD123</text></g>
<g transform="translate(36.70,509.00) scale(0.583,1)"><text x="0" y="0" font-size="10.2" text-anchor="start" font-weight="normal" font-style="normal" fill="#111"  stroke="#111" stroke-width="0.35">CD38</text></g>
<line x1="55.0" y1="506.2" x2="124.3" y2="506.2" stroke="#222" stroke-width="1.4"/>
<g transform="translate(160.80,509.00) scale(0.665,1)"><text x="0" y="0" font-size="10.2" text-anchor="start" font-weight="normal" font-style="normal" fill="#111"  stroke="#111" stroke-width="0.35">CD45R&#945;</text></g>
<line x1="191.2" y1="506.2" x2="249.1" y2="506.2" stroke="#222" stroke-width="1.4"/>
<g transform="translate(285.60,509.00) scale(0.665,1)"><text x="0" y="0" font-size="10.2" text-anchor="start" font-weight="normal" font-style="normal" fill="#111"  stroke="#111" stroke-width="0.35">CD45R&#945;</text></g>
<line x1="314.2" y1="506.2" x2="373.1" y2="506.2" stroke="#222" stroke-width="1.4"/>
<g transform="translate(410.20,509.00) scale(0.583,1)"><text x="0" y="0" font-size="10.2" text-anchor="start" font-weight="normal" font-style="normal" fill="#111"  stroke="#111" stroke-width="0.35">FSC</text></g>
<line x1="425.2" y1="506.2" x2="498.4" y2="506.2" stroke="#222" stroke-width="1.4"/>
<g transform="translate(511.20,75.60) rotate(-90) scale(0.608,1)"><text x="0" y="0" font-size="9.8" text-anchor="middle" font-weight="bold" font-style="normal" fill="#111" >Healthy control</text></g>
<g transform="translate(511.20,194.80) rotate(-90) scale(0.61,1)"><text x="0" y="0" font-size="9.8" text-anchor="middle" font-weight="bold" font-style="normal" fill="#111" >Patient 1</text></g>
<g transform="translate(511.20,313.90) rotate(-90) scale(0.61,1)"><text x="0" y="0" font-size="9.8" text-anchor="middle" font-weight="bold" font-style="normal" fill="#111" >Patient 4</text></g>
<g transform="translate(511.20,433.00) rotate(-90) scale(0.61,1)"><text x="0" y="0" font-size="9.8" text-anchor="middle" font-weight="bold" font-style="normal" fill="#111" >Patient 3</text></g>
<rect x="57.00" y="569.61" width="21.60" height="56.89" fill="#f1f1f1" stroke="#2a2a2a" stroke-width="1.4"/>
<rect x="89.30" y="597.60" width="22.00" height="28.90" fill="#f5cfc9" stroke="#e0574b" stroke-width="1.3"/>
<line x1="45.60" y1="548.70" x2="45.60" y2="626.50" stroke="#222" stroke-width="1.3"/>
<line x1="45.60" y1="626.50" x2="122.20" y2="626.50" stroke="#222" stroke-width="1.3"/>
<line x1="43.40" y1="626.50" x2="45.60" y2="626.50" stroke="#222" stroke-width="1.1"/>
<text x="40.40" y="629.50" font-size="8.4" text-anchor="end" fill="#222">0</text>
<line x1="43.40" y1="611.45" x2="45.60" y2="611.45" stroke="#222" stroke-width="1.1"/>
<text x="40.40" y="614.45" font-size="8.4" text-anchor="end" fill="#222">5</text>
<line x1="43.40" y1="596.40" x2="45.60" y2="596.40" stroke="#222" stroke-width="1.1"/>
<text x="40.40" y="599.40" font-size="8.4" text-anchor="end" fill="#222">10</text>
<line x1="43.40" y1="581.35" x2="45.60" y2="581.35" stroke="#222" stroke-width="1.1"/>
<text x="40.40" y="584.35" font-size="8.4" text-anchor="end" fill="#222">15</text>
<line x1="43.40" y1="566.30" x2="45.60" y2="566.30" stroke="#222" stroke-width="1.1"/>
<text x="40.40" y="569.30" font-size="8.4" text-anchor="end" fill="#222">20</text>
<line x1="43.40" y1="551.25" x2="45.60" y2="551.25" stroke="#222" stroke-width="1.1"/>
<text x="40.40" y="554.25" font-size="8.4" text-anchor="end" fill="#222">25</text>
<line x1="67.80" y1="626.50" x2="67.80" y2="628.70" stroke="#222" stroke-width="1.1"/>
<line x1="100.40" y1="626.50" x2="100.40" y2="628.70" stroke="#222" stroke-width="1.1"/>
<path d="M67.90 566.70V572.00M63.10 566.70H72.70M63.10 572.00H72.70" stroke="#222" stroke-width="1.3" fill="none"/>
<path d="M100.80 573.40V620.40M95.90 573.40H105.70M95.90 620.40H105.70" stroke="#333" stroke-width="1.3" fill="none"/>
<circle cx="66.40" cy="571.30" r="1.7" fill="#111"/>
<circle cx="69.10" cy="567.30" r="1.7" fill="#111"/>
<circle cx="100.40" cy="562.30" r="1.6" fill="#d42a1e"/>
<circle cx="98.40" cy="584.10" r="1.6" fill="#e07b1a"/>
<circle cx="102.40" cy="587.50" r="1.6" fill="#f5e81c"/>
<circle cx="100.40" cy="604.70" r="1.6" fill="#5b9be0"/>
<circle cx="100.40" cy="618.40" r="1.6" fill="#1c1f7a"/>
<circle cx="100.40" cy="624.90" r="1.6" fill="#3aa23a"/>
<line x1="68.50" y1="545.50" x2="102.80" y2="545.50" stroke="#333" stroke-width="1.3"/>
<text x="85.65" y="544.70" font-size="7" text-anchor="middle" fill="#222">*</text>
<g transform="translate(67.80,639.40) scale(0.88,1)"><text x="0" y="0" font-size="8.6" text-anchor="middle" font-weight="normal" font-style="normal" fill="#222" >Control</text></g>
<g transform="translate(100.40,639.40) scale(0.88,1)"><text x="0" y="0" font-size="8.6" text-anchor="middle" font-weight="normal" font-style="normal" fill="#222" >Patients</text></g>
<g transform="translate(15.43,587.20) rotate(-90) scale(0.599,1)"><text x="0" y="0" font-size="9.8" text-anchor="middle" font-weight="bold" font-style="normal" fill="#1a1a1a" >Total HSPCs</text></g>
<g transform="translate(25.48,588.00) rotate(-90) scale(0.694,1)"><text x="0" y="0" font-size="9.2" text-anchor="middle" font-weight="bold" font-style="normal" fill="#1a1a1a" >(%, Lin-ve)</text></g>
<rect x="179.30" y="558.73" width="21.60" height="67.77" fill="#f1f1f1" stroke="#2a2a2a" stroke-width="1.4"/>
<rect x="212.20" y="591.41" width="21.70" height="35.09" fill="#dae6f5" stroke="#7ba3d9" stroke-width="1.3"/>
<line x1="168.80" y1="548.70" x2="168.80" y2="626.50" stroke="#222" stroke-width="1.3"/>
<line x1="168.80" y1="626.50" x2="245.00" y2="626.50" stroke="#222" stroke-width="1.3"/>
<line x1="166.60" y1="626.50" x2="168.80" y2="626.50" stroke="#222" stroke-width="1.1"/>
<text x="163.60" y="629.50" font-size="8.4" text-anchor="end" fill="#222">0</text>
<line x1="166.60" y1="611.44" x2="168.80" y2="611.44" stroke="#222" stroke-width="1.1"/>
<text x="163.60" y="614.44" font-size="8.4" text-anchor="end" fill="#222">10</text>
<line x1="166.60" y1="596.38" x2="168.80" y2="596.38" stroke="#222" stroke-width="1.1"/>
<text x="163.60" y="599.38" font-size="8.4" text-anchor="end" fill="#222">20</text>
<line x1="166.60" y1="581.32" x2="168.80" y2="581.32" stroke="#222" stroke-width="1.1"/>
<text x="163.60" y="584.32" font-size="8.4" text-anchor="end" fill="#222">30</text>
<line x1="166.60" y1="566.26" x2="168.80" y2="566.26" stroke="#222" stroke-width="1.1"/>
<text x="163.60" y="569.26" font-size="8.4" text-anchor="end" fill="#222">40</text>
<line x1="166.60" y1="551.20" x2="168.80" y2="551.20" stroke="#222" stroke-width="1.1"/>
<text x="163.60" y="554.20" font-size="8.4" text-anchor="end" fill="#222">50</text>
<line x1="190.20" y1="626.50" x2="190.20" y2="628.70" stroke="#222" stroke-width="1.1"/>
<line x1="223.10" y1="626.50" x2="223.10" y2="628.70" stroke="#222" stroke-width="1.1"/>
<path d="M223.10 566.30V596.20M218.20 566.30H228.00M218.20 596.20H228.00" stroke="#333" stroke-width="1.3" fill="none"/>
<circle cx="188.40" cy="558.60" r="1.7" fill="#111"/>
<circle cx="192.50" cy="558.60" r="1.7" fill="#111"/>
<circle cx="223.10" cy="557.20" r="1.6" fill="#3aa23a"/>
<circle cx="223.10" cy="569.30" r="1.6" fill="#e07b1a"/>
<circle cx="219.30" cy="590.70" r="1.6" fill="#f5e81c"/>
<circle cx="226.80" cy="590.70" r="1.6" fill="#1c1f7a"/>
<circle cx="223.10" cy="595.00" r="1.6" fill="#5b9be0"/>
<circle cx="223.10" cy="600.60" r="1.6" fill="#d42a1e"/>
<line x1="189.00" y1="545.10" x2="222.70" y2="545.10" stroke="#333" stroke-width="1.3"/>
<text x="205.85" y="544.30" font-size="7" text-anchor="middle" fill="#222">*</text>
<g transform="translate(190.20,639.40) scale(0.88,1)"><text x="0" y="0" font-size="8.6" text-anchor="middle" font-weight="normal" font-style="normal" fill="#222" >Control</text></g>
<g transform="translate(223.10,639.40) scale(0.88,1)"><text x="0" y="0" font-size="8.6" text-anchor="middle" font-weight="normal" font-style="normal" fill="#222" >Patients</text></g>
<g transform="translate(138.03,587.00) rotate(-90) scale(0.624,1)"><text x="0" y="0" font-size="9.8" text-anchor="middle" font-weight="bold" font-style="normal" fill="#1a1a1a" >CMPs</text></g>
<g transform="translate(147.88,587.10) rotate(-90) scale(0.682,1)"><text x="0" y="0" font-size="9.2" text-anchor="middle" font-weight="bold" font-style="normal" fill="#1a1a1a" >(%, Lin-ve, CD34+ CD38+)</text></g>
<rect x="303.90" y="564.30" width="20.60" height="62.20" fill="#f1f1f1" stroke="#2a2a2a" stroke-width="1.4"/>
<rect x="335.20" y="586.14" width="20.60" height="40.36" fill="#d4823f" stroke="#c46a2a" stroke-width="1.3"/>
<line x1="292.60" y1="548.70" x2="292.60" y2="626.50" stroke="#222" stroke-width="1.3"/>
<line x1="292.60" y1="626.50" x2="366.50" y2="626.50" stroke="#222" stroke-width="1.3"/>
<line x1="290.40" y1="626.50" x2="292.60" y2="626.50" stroke="#222" stroke-width="1.1"/>
<text x="287.80" y="629.50" font-size="8.4" text-anchor="end" fill="#222">0</text>
<line x1="290.40" y1="611.44" x2="292.60" y2="611.44" stroke="#222" stroke-width="1.1"/>
<text x="287.80" y="614.44" font-size="8.4" text-anchor="end" fill="#222">10</text>
<line x1="290.40" y1="596.38" x2="292.60" y2="596.38" stroke="#222" stroke-width="1.1"/>
<text x="287.80" y="599.38" font-size="8.4" text-anchor="end" fill="#222">20</text>
<line x1="290.40" y1="581.32" x2="292.60" y2="581.32" stroke="#222" stroke-width="1.1"/>
<text x="287.80" y="584.32" font-size="8.4" text-anchor="end" fill="#222">30</text>
<line x1="290.40" y1="566.26" x2="292.60" y2="566.26" stroke="#222" stroke-width="1.1"/>
<text x="287.80" y="569.26" font-size="8.4" text-anchor="end" fill="#222">40</text>
<line x1="290.40" y1="551.20" x2="292.60" y2="551.20" stroke="#222" stroke-width="1.1"/>
<text x="287.80" y="554.20" font-size="8.4" text-anchor="end" fill="#222">50</text>
<line x1="314.00" y1="626.50" x2="314.00" y2="628.70" stroke="#222" stroke-width="1.1"/>
<line x1="345.70" y1="626.50" x2="345.70" y2="628.70" stroke="#222" stroke-width="1.1"/>
<path d="M314.00 559.80V567.90M309.20 559.80H318.80M309.20 567.90H318.80" stroke="#222" stroke-width="1.3" fill="none"/>
<path d="M345.70 577.40V597.00M340.80 577.40H350.60M340.80 597.00H350.60" stroke="#333" stroke-width="1.3" fill="none"/>
<circle cx="314.00" cy="560.80" r="1.7" fill="#111"/>
<circle cx="314.00" cy="567.00" r="1.7" fill="#111"/>
<circle cx="345.70" cy="571.30" r="1.6" fill="#5b9be0"/>
<circle cx="345.70" cy="579.00" r="1.6" fill="#3aa23a"/>
<circle cx="341.10" cy="586.50" r="1.6" fill="#e07b1a"/>
<circle cx="350.40" cy="584.90" r="1.6" fill="#1c1f7a"/>
<circle cx="345.70" cy="588.50" r="1.6" fill="#f5e81c"/>
<circle cx="345.70" cy="622.80" r="1.6" fill="#d42a1e"/>
<line x1="314.00" y1="545.90" x2="347.70" y2="545.90" stroke="#333" stroke-width="1.3"/>
<text x="330.85" y="545.10" font-size="7" text-anchor="middle" fill="#222">*</text>
<g transform="translate(314.00,639.40) scale(0.88,1)"><text x="0" y="0" font-size="8.6" text-anchor="middle" font-weight="normal" font-style="normal" fill="#222" >Control</text></g>
<g transform="translate(345.70,639.40) scale(0.88,1)"><text x="0" y="0" font-size="8.6" text-anchor="middle" font-weight="normal" font-style="normal" fill="#222" >Patients</text></g>
<g transform="translate(262.83,587.30) rotate(-90) scale(0.602,1)"><text x="0" y="0" font-size="9.8" text-anchor="middle" font-weight="bold" font-style="normal" fill="#1a1a1a" >Healthy HSCs</text></g>
<g transform="translate(272.48,587.10) rotate(-90) scale(0.697,1)"><text x="0" y="0" font-size="9.2" text-anchor="middle" font-weight="bold" font-style="normal" fill="#1a1a1a" >(%, Lin-ve, CD34+ CD38-)</text></g>
<rect x="432.00" y="608.05" width="20.60" height="18.45" fill="#f1f1f1" stroke="#2a2a2a" stroke-width="1.4"/>
<rect x="462.20" y="596.18" width="20.60" height="30.32" fill="#e6c6d5" stroke="#b3283f" stroke-width="1.3"/>
<line x1="421.30" y1="546.70" x2="421.30" y2="626.50" stroke="#222" stroke-width="1.3"/>
<line x1="421.30" y1="626.50" x2="493.50" y2="626.50" stroke="#222" stroke-width="1.3"/>
<line x1="419.10" y1="626.50" x2="421.30" y2="626.50" stroke="#222" stroke-width="1.1"/>
<text x="416.00" y="629.50" font-size="8.4" text-anchor="end" fill="#222">40</text>
<line x1="419.10" y1="613.60" x2="421.30" y2="613.60" stroke="#222" stroke-width="1.1"/>
<text x="416.00" y="616.60" font-size="8.4" text-anchor="end" fill="#222">50</text>
<line x1="419.10" y1="600.70" x2="421.30" y2="600.70" stroke="#222" stroke-width="1.1"/>
<text x="416.00" y="603.70" font-size="8.4" text-anchor="end" fill="#222">60</text>
<line x1="419.10" y1="587.80" x2="421.30" y2="587.80" stroke="#222" stroke-width="1.1"/>
<text x="416.00" y="590.80" font-size="8.4" text-anchor="end" fill="#222">70</text>
<line x1="419.10" y1="574.90" x2="421.30" y2="574.90" stroke="#222" stroke-width="1.1"/>
<text x="416.00" y="577.90" font-size="8.4" text-anchor="end" fill="#222">80</text>
<line x1="419.10" y1="562.00" x2="421.30" y2="562.00" stroke="#222" stroke-width="1.1"/>
<text x="416.00" y="565.00" font-size="8.4" text-anchor="end" fill="#222">90</text>
<line x1="419.10" y1="549.10" x2="421.30" y2="549.10" stroke="#222" stroke-width="1.1"/>
<text x="416.00" y="552.10" font-size="8.4" text-anchor="end" fill="#222">100</text>
<line x1="442.30" y1="626.50" x2="442.30" y2="628.70" stroke="#222" stroke-width="1.1"/>
<line x1="472.90" y1="626.50" x2="472.90" y2="628.70" stroke="#222" stroke-width="1.1"/>
<path d="M442.30 603.00V611.70M437.50 603.00H447.10M437.50 611.70H447.10" stroke="#222" stroke-width="1.3" fill="none"/>
<path d="M472.90 582.90V604.30M468.00 582.90H477.80M468.00 604.30H477.80" stroke="#333" stroke-width="1.3" fill="none"/>
<circle cx="442.30" cy="604.90" r="1.7" fill="#111"/>
<circle cx="442.30" cy="609.90" r="1.7" fill="#111"/>
<circle cx="472.90" cy="560.60" r="1.6" fill="#d42a1e"/>
<circle cx="472.90" cy="589.90" r="1.6" fill="#e07b1a"/>
<circle cx="475.40" cy="594.80" r="1.6" fill="#3aa23a"/>
<circle cx="470.70" cy="597.20" r="1.6" fill="#f5e81c"/>
<circle cx="472.90" cy="602.20" r="1.6" fill="#1c1f7a"/>
<circle cx="472.90" cy="609.70" r="1.6" fill="#5b9be0"/>
<line x1="436.40" y1="549.10" x2="470.10" y2="549.10" stroke="#333" stroke-width="1.3"/>
<text x="453.25" y="546.10" font-size="7.4" font-style="italic" text-anchor="middle" fill="#333">n.s.</text>
<g transform="translate(442.30,639.40) scale(0.88,1)"><text x="0" y="0" font-size="8.6" text-anchor="middle" font-weight="normal" font-style="normal" fill="#222" >Control</text></g>
<g transform="translate(472.90,639.40) scale(0.88,1)"><text x="0" y="0" font-size="8.6" text-anchor="middle" font-weight="normal" font-style="normal" fill="#222" >Patients</text></g>
<g transform="translate(387.73,584.40) rotate(-90) scale(0.568,1)"><text x="0" y="0" font-size="9.8" text-anchor="middle" font-weight="bold" font-style="normal" fill="#1a1a1a" >CD123+ HSCSs</text></g>
<g transform="translate(397.48,586.70) rotate(-90) scale(0.689,1)"><text x="0" y="0" font-size="9.2" text-anchor="middle" font-weight="bold" font-style="normal" fill="#1a1a1a" >(%, Lin-ve, CD34+ CD38-)</text></g>
</svg></body></html>
